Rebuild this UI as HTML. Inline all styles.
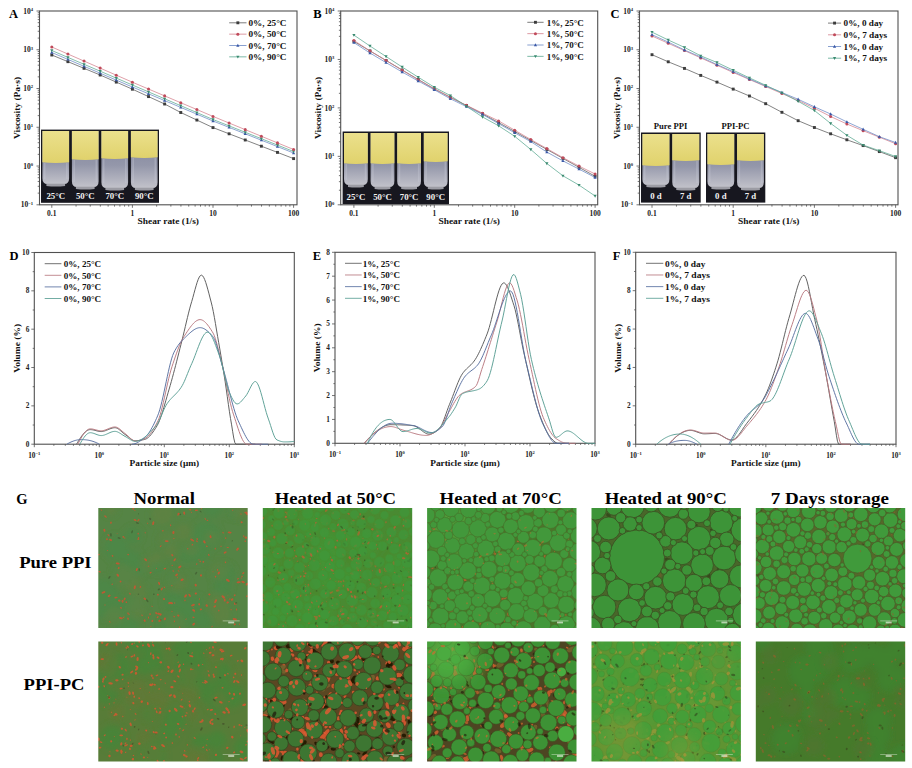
<!DOCTYPE html><html><head><meta charset="utf-8"><style>html,body{margin:0;padding:0;background:#fff;width:912px;height:768px;overflow:hidden}svg{display:block}</style></head><body>
<svg width="912" height="768" viewBox="0 0 912 768" font-family="Liberation Serif" font-weight="bold">
<defs><linearGradient id="yel" x1="0" y1="0" x2="0" y2="1"><stop offset="0" stop-color="#ebe08c"/><stop offset="1" stop-color="#e0d26c"/></linearGradient><linearGradient id="glass" x1="0" y1="0" x2="0" y2="1"><stop offset="0" stop-color="#7c8098"/><stop offset="0.6" stop-color="#9497aa"/><stop offset="1" stop-color="#c2c2ca"/></linearGradient><filter id="blur6" x="-50%" y="-50%" width="200%" height="200%"><feGaussianBlur stdDeviation="8"/></filter><filter id="blur3" x="-50%" y="-50%" width="200%" height="200%"><feGaussianBlur stdDeviation="3"/></filter><filter id="sblur" x="-20%" y="-20%" width="140%" height="140%"><feGaussianBlur stdDeviation="0.6"/></filter><filter id="mblur" x="-2%" y="-2%" width="104%" height="104%"><feGaussianBlur stdDeviation="0.6"/></filter></defs>
<rect width="912" height="768" fill="#fff"/>
<rect x="39.5" y="11" width="257.5" height="193.8" fill="none" stroke="#505050" stroke-width="1.1"/>
<path d="M51.8 204.8v3 M76.06 204.8v1.8 M90.26 204.8v1.8 M100.33 204.8v1.8 M108.14 204.8v1.8 M114.52 204.8v1.8 M119.91 204.8v1.8 M124.59 204.8v1.8 M128.71 204.8v1.8 M132.4 204.8v3 M156.66 204.8v1.8 M170.86 204.8v1.8 M180.93 204.8v1.8 M188.74 204.8v1.8 M195.12 204.8v1.8 M200.51 204.8v1.8 M205.19 204.8v1.8 M209.31 204.8v1.8 M213 204.8v3 M237.26 204.8v1.8 M251.46 204.8v1.8 M261.53 204.8v1.8 M269.34 204.8v1.8 M275.72 204.8v1.8 M281.11 204.8v1.8 M285.79 204.8v1.8 M289.91 204.8v1.8 M293.6 204.8v3 M39.5 204.8h-3 M39.5 193.13h-1.8 M39.5 186.31h-1.8 M39.5 181.46h-1.8 M39.5 177.71h-1.8 M39.5 174.64h-1.8 M39.5 172.04h-1.8 M39.5 169.8h-1.8 M39.5 167.81h-1.8 M39.5 166.04h-3 M39.5 154.37h-1.8 M39.5 147.55h-1.8 M39.5 142.7h-1.8 M39.5 138.95h-1.8 M39.5 135.88h-1.8 M39.5 133.28h-1.8 M39.5 131.04h-1.8 M39.5 129.05h-1.8 M39.5 127.28h-3 M39.5 115.61h-1.8 M39.5 108.79h-1.8 M39.5 103.94h-1.8 M39.5 100.19h-1.8 M39.5 97.12h-1.8 M39.5 94.52h-1.8 M39.5 92.28h-1.8 M39.5 90.29h-1.8 M39.5 88.52h-3 M39.5 76.85h-1.8 M39.5 70.03h-1.8 M39.5 65.18h-1.8 M39.5 61.43h-1.8 M39.5 58.36h-1.8 M39.5 55.76h-1.8 M39.5 53.52h-1.8 M39.5 51.53h-1.8 M39.5 49.76h-3 M39.5 38.09h-1.8 M39.5 31.27h-1.8 M39.5 26.42h-1.8 M39.5 22.67h-1.8 M39.5 19.6h-1.8 M39.5 17h-1.8 M39.5 14.76h-1.8 M39.5 12.77h-1.8 M39.5 11h-3" stroke="#505050" stroke-width="0.8" fill="none"/>
<text x="51.8" y="216.4" font-size="7.5" text-anchor="middle" fill="#222" >0.1</text>
<text x="132.4" y="216.4" font-size="7.5" text-anchor="middle" fill="#222" >1</text>
<text x="213" y="216.4" font-size="7.5" text-anchor="middle" fill="#222" >10</text>
<text x="293.6" y="216.4" font-size="7.5" text-anchor="middle" fill="#222" >100</text>
<text x="33.2" y="207.4" font-size="7.5" text-anchor="end" fill="#222">10<tspan font-size="4.65" dy="-2.85">−1</tspan></text>
<text x="33.2" y="168.64" font-size="7.5" text-anchor="end" fill="#222">10<tspan font-size="4.65" dy="-2.85">0</tspan></text>
<text x="33.2" y="129.88" font-size="7.5" text-anchor="end" fill="#222">10<tspan font-size="4.65" dy="-2.85">1</tspan></text>
<text x="33.2" y="91.12" font-size="7.5" text-anchor="end" fill="#222">10<tspan font-size="4.65" dy="-2.85">2</tspan></text>
<text x="33.2" y="52.36" font-size="7.5" text-anchor="end" fill="#222">10<tspan font-size="4.65" dy="-2.85">3</tspan></text>
<text x="33.2" y="13.6" font-size="7.5" text-anchor="end" fill="#222">10<tspan font-size="4.65" dy="-2.85">4</tspan></text>
<text x="168.25" y="224" font-size="9.2" text-anchor="middle" fill="#111" textLength="61.5" lengthAdjust="spacingAndGlyphs">Shear rate (1/s)</text>
<text x="0" y="0" font-size="9.2" text-anchor="middle" fill="#111" transform="translate(19.7,107.9) rotate(-90)" textLength="62" lengthAdjust="spacingAndGlyphs">Viscosity (Pa·s)</text>
<text x="9.1" y="18.4" font-size="12.5" text-anchor="start" fill="#000" >A</text>
<path d="M51.8 55 L67.92 61.67 L84.04 68.33 L100.16 75 L116.28 82.1 L132.4 89.2 L148.52 96.6 L164.64 104 L180.76 112.5 L196.88 120.05 L213 127.6 L229.12 133.8 L245.24 140 L261.36 146.2 L277.48 152.4 L293.6 158.6" stroke="#5a5a5a" stroke-width="0.75" fill="none"/>
<rect x="50.35" y="53.55" width="2.9" height="2.9" fill="#3c3c3c"/>
<rect x="66.47" y="60.22" width="2.9" height="2.9" fill="#3c3c3c"/>
<rect x="82.59" y="66.88" width="2.9" height="2.9" fill="#3c3c3c"/>
<rect x="98.71" y="73.55" width="2.9" height="2.9" fill="#3c3c3c"/>
<rect x="114.83" y="80.65" width="2.9" height="2.9" fill="#3c3c3c"/>
<rect x="130.95" y="87.75" width="2.9" height="2.9" fill="#3c3c3c"/>
<rect x="147.07" y="95.15" width="2.9" height="2.9" fill="#3c3c3c"/>
<rect x="163.19" y="102.55" width="2.9" height="2.9" fill="#3c3c3c"/>
<rect x="179.31" y="111.05" width="2.9" height="2.9" fill="#3c3c3c"/>
<rect x="195.43" y="118.6" width="2.9" height="2.9" fill="#3c3c3c"/>
<rect x="211.55" y="126.15" width="2.9" height="2.9" fill="#3c3c3c"/>
<rect x="227.67" y="132.35" width="2.9" height="2.9" fill="#3c3c3c"/>
<rect x="243.79" y="138.55" width="2.9" height="2.9" fill="#3c3c3c"/>
<rect x="259.91" y="144.75" width="2.9" height="2.9" fill="#3c3c3c"/>
<rect x="276.03" y="150.95" width="2.9" height="2.9" fill="#3c3c3c"/>
<rect x="292.15" y="157.15" width="2.9" height="2.9" fill="#3c3c3c"/>
<path d="M51.8 52.5 L67.92 59.4 L84.04 66.3 L100.16 73.2 L116.28 80.1 L132.4 87 L148.52 93.8 L164.64 100.6 L180.76 107.4 L196.88 114.2 L213 121 L229.12 127.4 L245.24 133.8 L261.36 140.2 L277.48 146.6 L293.6 153" stroke="#6a88c4" stroke-width="0.75" fill="none"/>
<path d="M51.8 50.76L53.39 53.66L50.2 53.66Z" fill="#3a58a6"/>
<path d="M67.92 57.66L69.51 60.56L66.32 60.56Z" fill="#3a58a6"/>
<path d="M84.04 64.56L85.63 67.46L82.44 67.46Z" fill="#3a58a6"/>
<path d="M100.16 71.46L101.75 74.36L98.56 74.36Z" fill="#3a58a6"/>
<path d="M116.28 78.36L117.87 81.26L114.68 81.26Z" fill="#3a58a6"/>
<path d="M132.4 85.26L133.99 88.16L130.8 88.16Z" fill="#3a58a6"/>
<path d="M148.52 92.06L150.11 94.96L146.92 94.96Z" fill="#3a58a6"/>
<path d="M164.64 98.86L166.23 101.76L163.04 101.76Z" fill="#3a58a6"/>
<path d="M180.76 105.66L182.35 108.56L179.16 108.56Z" fill="#3a58a6"/>
<path d="M196.88 112.46L198.47 115.36L195.28 115.36Z" fill="#3a58a6"/>
<path d="M213 119.26L214.59 122.16L211.4 122.16Z" fill="#3a58a6"/>
<path d="M229.12 125.66L230.71 128.56L227.52 128.56Z" fill="#3a58a6"/>
<path d="M245.24 132.06L246.83 134.96L243.64 134.96Z" fill="#3a58a6"/>
<path d="M261.36 138.46L262.95 141.36L259.76 141.36Z" fill="#3a58a6"/>
<path d="M277.48 144.86L279.07 147.76L275.88 147.76Z" fill="#3a58a6"/>
<path d="M293.6 151.26L295.19 154.16L292 154.16Z" fill="#3a58a6"/>
<path d="M51.8 50.5 L67.92 57.4 L84.04 64.3 L100.16 71.2 L116.28 78.1 L132.4 85 L148.52 91.9 L164.64 98.8 L180.76 105.7 L196.88 112.6 L213 119.5 L229.12 125.9 L245.24 132.3 L261.36 138.7 L277.48 145.1 L293.6 151.5" stroke="#5aa890" stroke-width="0.75" fill="none"/>
<path d="M51.8 52.24L53.39 49.34L50.2 49.34Z" fill="#3a8a70"/>
<path d="M67.92 59.14L69.51 56.24L66.32 56.24Z" fill="#3a8a70"/>
<path d="M84.04 66.04L85.63 63.14L82.44 63.14Z" fill="#3a8a70"/>
<path d="M100.16 72.94L101.75 70.04L98.56 70.04Z" fill="#3a8a70"/>
<path d="M116.28 79.84L117.87 76.94L114.68 76.94Z" fill="#3a8a70"/>
<path d="M132.4 86.74L133.99 83.84L130.8 83.84Z" fill="#3a8a70"/>
<path d="M148.52 93.64L150.11 90.74L146.92 90.74Z" fill="#3a8a70"/>
<path d="M164.64 100.54L166.23 97.64L163.04 97.64Z" fill="#3a8a70"/>
<path d="M180.76 107.44L182.35 104.54L179.16 104.54Z" fill="#3a8a70"/>
<path d="M196.88 114.34L198.47 111.44L195.28 111.44Z" fill="#3a8a70"/>
<path d="M213 121.24L214.59 118.34L211.4 118.34Z" fill="#3a8a70"/>
<path d="M229.12 127.64L230.71 124.74L227.52 124.74Z" fill="#3a8a70"/>
<path d="M245.24 134.04L246.83 131.14L243.64 131.14Z" fill="#3a8a70"/>
<path d="M261.36 140.44L262.95 137.54L259.76 137.54Z" fill="#3a8a70"/>
<path d="M277.48 146.84L279.07 143.94L275.88 143.94Z" fill="#3a8a70"/>
<path d="M293.6 153.24L295.19 150.34L292 150.34Z" fill="#3a8a70"/>
<path d="M51.8 47 L67.92 54.04 L84.04 61.08 L100.16 68.12 L116.28 75.16 L132.4 82.2 L148.52 89.04 L164.64 95.88 L180.76 102.72 L196.88 109.56 L213 116.4 L229.12 123.02 L245.24 129.64 L261.36 136.26 L277.48 142.88 L293.6 149.5" stroke="#d4808c" stroke-width="0.75" fill="none"/>
<circle cx="51.8" cy="47" r="1.52" fill="#c04a5a"/>
<circle cx="67.92" cy="54.04" r="1.52" fill="#c04a5a"/>
<circle cx="84.04" cy="61.08" r="1.52" fill="#c04a5a"/>
<circle cx="100.16" cy="68.12" r="1.52" fill="#c04a5a"/>
<circle cx="116.28" cy="75.16" r="1.52" fill="#c04a5a"/>
<circle cx="132.4" cy="82.2" r="1.52" fill="#c04a5a"/>
<circle cx="148.52" cy="89.04" r="1.52" fill="#c04a5a"/>
<circle cx="164.64" cy="95.88" r="1.52" fill="#c04a5a"/>
<circle cx="180.76" cy="102.72" r="1.52" fill="#c04a5a"/>
<circle cx="196.88" cy="109.56" r="1.52" fill="#c04a5a"/>
<circle cx="213" cy="116.4" r="1.52" fill="#c04a5a"/>
<circle cx="229.12" cy="123.02" r="1.52" fill="#c04a5a"/>
<circle cx="245.24" cy="129.64" r="1.52" fill="#c04a5a"/>
<circle cx="261.36" cy="136.26" r="1.52" fill="#c04a5a"/>
<circle cx="277.48" cy="142.88" r="1.52" fill="#c04a5a"/>
<circle cx="293.6" cy="149.5" r="1.52" fill="#c04a5a"/>
<path d="M229.2 22.8H246.5" stroke="#5a5a5a" stroke-width="0.8"/>
<rect x="236.4" y="21.35" width="2.9" height="2.9" fill="#3c3c3c"/>
<text x="248.5" y="26" font-size="9" text-anchor="start" fill="#111" textLength="38" lengthAdjust="spacingAndGlyphs">0%, 25°C</text>
<path d="M229.2 34.15H246.5" stroke="#d4808c" stroke-width="0.8"/>
<circle cx="237.85" cy="34.15" r="1.52" fill="#c04a5a"/>
<text x="248.5" y="37.35" font-size="9" text-anchor="start" fill="#111" textLength="38" lengthAdjust="spacingAndGlyphs">0%, 50°C</text>
<path d="M229.2 45.5H246.5" stroke="#6a88c4" stroke-width="0.8"/>
<path d="M237.85 43.76L239.44 46.66L236.25 46.66Z" fill="#3a58a6"/>
<text x="248.5" y="48.7" font-size="9" text-anchor="start" fill="#111" textLength="38" lengthAdjust="spacingAndGlyphs">0%, 70°C</text>
<path d="M229.2 56.85H246.5" stroke="#5aa890" stroke-width="0.8"/>
<path d="M237.85 58.59L239.44 55.69L236.25 55.69Z" fill="#3a8a70"/>
<text x="248.5" y="60.05" font-size="9" text-anchor="start" fill="#111" textLength="38" lengthAdjust="spacingAndGlyphs">0%, 90°C</text>
<rect x="340.7" y="11" width="257" height="193.8" fill="none" stroke="#505050" stroke-width="1.1"/>
<path d="M353.9 204.8v3 M378.1 204.8v1.8 M392.26 204.8v1.8 M402.31 204.8v1.8 M410.1 204.8v1.8 M416.46 204.8v1.8 M421.85 204.8v1.8 M426.51 204.8v1.8 M430.62 204.8v1.8 M434.3 204.8v3 M458.5 204.8v1.8 M472.66 204.8v1.8 M482.71 204.8v1.8 M490.5 204.8v1.8 M496.86 204.8v1.8 M502.25 204.8v1.8 M506.91 204.8v1.8 M511.02 204.8v1.8 M514.7 204.8v3 M538.9 204.8v1.8 M553.06 204.8v1.8 M563.11 204.8v1.8 M570.9 204.8v1.8 M577.26 204.8v1.8 M582.65 204.8v1.8 M587.31 204.8v1.8 M591.42 204.8v1.8 M595.1 204.8v3 M340.7 204.8h-3 M340.7 190.22h-1.8 M340.7 181.68h-1.8 M340.7 175.63h-1.8 M340.7 170.93h-1.8 M340.7 167.1h-1.8 M340.7 163.85h-1.8 M340.7 161.05h-1.8 M340.7 158.57h-1.8 M340.7 156.35h-3 M340.7 141.77h-1.8 M340.7 133.23h-1.8 M340.7 127.18h-1.8 M340.7 122.48h-1.8 M340.7 118.65h-1.8 M340.7 115.4h-1.8 M340.7 112.6h-1.8 M340.7 110.12h-1.8 M340.7 107.9h-3 M340.7 93.32h-1.8 M340.7 84.78h-1.8 M340.7 78.73h-1.8 M340.7 74.03h-1.8 M340.7 70.2h-1.8 M340.7 66.95h-1.8 M340.7 64.15h-1.8 M340.7 61.67h-1.8 M340.7 59.45h-3 M340.7 44.87h-1.8 M340.7 36.33h-1.8 M340.7 30.28h-1.8 M340.7 25.58h-1.8 M340.7 21.75h-1.8 M340.7 18.5h-1.8 M340.7 15.7h-1.8 M340.7 13.22h-1.8 M340.7 11h-3" stroke="#505050" stroke-width="0.8" fill="none"/>
<text x="353.9" y="216.4" font-size="7.5" text-anchor="middle" fill="#222" >0.1</text>
<text x="434.3" y="216.4" font-size="7.5" text-anchor="middle" fill="#222" >1</text>
<text x="514.7" y="216.4" font-size="7.5" text-anchor="middle" fill="#222" >10</text>
<text x="595.1" y="216.4" font-size="7.5" text-anchor="middle" fill="#222" >100</text>
<text x="334.4" y="207.4" font-size="7.5" text-anchor="end" fill="#222">10<tspan font-size="4.65" dy="-2.85">0</tspan></text>
<text x="334.4" y="158.95" font-size="7.5" text-anchor="end" fill="#222">10<tspan font-size="4.65" dy="-2.85">1</tspan></text>
<text x="334.4" y="110.5" font-size="7.5" text-anchor="end" fill="#222">10<tspan font-size="4.65" dy="-2.85">2</tspan></text>
<text x="334.4" y="62.05" font-size="7.5" text-anchor="end" fill="#222">10<tspan font-size="4.65" dy="-2.85">3</tspan></text>
<text x="334.4" y="13.6" font-size="7.5" text-anchor="end" fill="#222">10<tspan font-size="4.65" dy="-2.85">4</tspan></text>
<text x="469.2" y="224" font-size="9.2" text-anchor="middle" fill="#111" textLength="61.5" lengthAdjust="spacingAndGlyphs">Shear rate (1/s)</text>
<text x="0" y="0" font-size="9.2" text-anchor="middle" fill="#111" transform="translate(320.9,107.9) rotate(-90)" textLength="62" lengthAdjust="spacingAndGlyphs">Viscosity (Pa·s)</text>
<text x="313.2" y="18.4" font-size="12.5" text-anchor="start" fill="#000" >B</text>
<path d="M353.9 41.4 L369.98 50.92 L386.06 60.44 L402.14 69.96 L418.22 79.48 L434.3 89 L450.38 97.27 L466.46 105.53 L482.54 113.8 L498.62 122.65 L514.7 131.5 L530.78 140.46 L546.86 149.42 L562.94 158.38 L579.02 167.34 L595.1 176.3" stroke="#5a5a5a" stroke-width="0.75" fill="none"/>
<rect x="352.45" y="39.95" width="2.9" height="2.9" fill="#3c3c3c"/>
<rect x="368.53" y="49.47" width="2.9" height="2.9" fill="#3c3c3c"/>
<rect x="384.61" y="58.99" width="2.9" height="2.9" fill="#3c3c3c"/>
<rect x="400.69" y="68.51" width="2.9" height="2.9" fill="#3c3c3c"/>
<rect x="416.77" y="78.03" width="2.9" height="2.9" fill="#3c3c3c"/>
<rect x="432.85" y="87.55" width="2.9" height="2.9" fill="#3c3c3c"/>
<rect x="448.93" y="95.82" width="2.9" height="2.9" fill="#3c3c3c"/>
<rect x="465.01" y="104.08" width="2.9" height="2.9" fill="#3c3c3c"/>
<rect x="481.09" y="112.35" width="2.9" height="2.9" fill="#3c3c3c"/>
<rect x="497.17" y="121.2" width="2.9" height="2.9" fill="#3c3c3c"/>
<rect x="513.25" y="130.05" width="2.9" height="2.9" fill="#3c3c3c"/>
<rect x="529.33" y="139.01" width="2.9" height="2.9" fill="#3c3c3c"/>
<rect x="545.41" y="147.97" width="2.9" height="2.9" fill="#3c3c3c"/>
<rect x="561.49" y="156.93" width="2.9" height="2.9" fill="#3c3c3c"/>
<rect x="577.57" y="165.89" width="2.9" height="2.9" fill="#3c3c3c"/>
<rect x="593.65" y="174.85" width="2.9" height="2.9" fill="#3c3c3c"/>
<path d="M353.9 40.4 L369.98 50.9 L386.06 60.5 L402.14 70.2 L418.22 79.8 L434.3 88.6 L450.38 97.4 L466.46 105.3 L482.54 113.2 L498.62 120.9 L514.7 130.2 L530.78 139.5 L546.86 148.6 L562.94 157.7 L579.02 166.1 L595.1 174" stroke="#d4808c" stroke-width="0.75" fill="none"/>
<circle cx="353.9" cy="40.4" r="1.52" fill="#c04a5a"/>
<circle cx="369.98" cy="50.9" r="1.52" fill="#c04a5a"/>
<circle cx="386.06" cy="60.5" r="1.52" fill="#c04a5a"/>
<circle cx="402.14" cy="70.2" r="1.52" fill="#c04a5a"/>
<circle cx="418.22" cy="79.8" r="1.52" fill="#c04a5a"/>
<circle cx="434.3" cy="88.6" r="1.52" fill="#c04a5a"/>
<circle cx="450.38" cy="97.4" r="1.52" fill="#c04a5a"/>
<circle cx="466.46" cy="105.3" r="1.52" fill="#c04a5a"/>
<circle cx="482.54" cy="113.2" r="1.52" fill="#c04a5a"/>
<circle cx="498.62" cy="120.9" r="1.52" fill="#c04a5a"/>
<circle cx="514.7" cy="130.2" r="1.52" fill="#c04a5a"/>
<circle cx="530.78" cy="139.5" r="1.52" fill="#c04a5a"/>
<circle cx="546.86" cy="148.6" r="1.52" fill="#c04a5a"/>
<circle cx="562.94" cy="157.7" r="1.52" fill="#c04a5a"/>
<circle cx="579.02" cy="166.1" r="1.52" fill="#c04a5a"/>
<circle cx="595.1" cy="174" r="1.52" fill="#c04a5a"/>
<path d="M353.9 42.6 L369.98 53 L386.06 62.6 L402.14 72 L418.22 81 L434.3 89.8 L450.38 98.8 L466.46 106.65 L482.54 114.5 L498.62 123.65 L514.7 132.8 L530.78 141.6 L546.86 152.1 L562.94 160.9 L579.02 169.1 L595.1 177.5" stroke="#6a88c4" stroke-width="0.75" fill="none"/>
<path d="M353.9 40.86L355.5 43.76L352.3 43.76Z" fill="#3a58a6"/>
<path d="M369.98 51.26L371.57 54.16L368.38 54.16Z" fill="#3a58a6"/>
<path d="M386.06 60.86L387.65 63.76L384.46 63.76Z" fill="#3a58a6"/>
<path d="M402.14 70.26L403.74 73.16L400.54 73.16Z" fill="#3a58a6"/>
<path d="M418.22 79.26L419.81 82.16L416.62 82.16Z" fill="#3a58a6"/>
<path d="M434.3 88.06L435.89 90.96L432.7 90.96Z" fill="#3a58a6"/>
<path d="M450.38 97.06L451.98 99.96L448.78 99.96Z" fill="#3a58a6"/>
<path d="M466.46 104.91L468.06 107.81L464.86 107.81Z" fill="#3a58a6"/>
<path d="M482.54 112.76L484.13 115.66L480.94 115.66Z" fill="#3a58a6"/>
<path d="M498.62 121.91L500.21 124.81L497.02 124.81Z" fill="#3a58a6"/>
<path d="M514.7 131.06L516.29 133.96L513.1 133.96Z" fill="#3a58a6"/>
<path d="M530.78 139.86L532.38 142.76L529.18 142.76Z" fill="#3a58a6"/>
<path d="M546.86 150.36L548.45 153.26L545.26 153.26Z" fill="#3a58a6"/>
<path d="M562.94 159.16L564.53 162.06L561.34 162.06Z" fill="#3a58a6"/>
<path d="M579.02 167.36L580.62 170.26L577.42 170.26Z" fill="#3a58a6"/>
<path d="M595.1 175.76L596.69 178.66L593.5 178.66Z" fill="#3a58a6"/>
<path d="M353.9 35.1 L369.98 46 L386.06 56.5 L402.14 67 L418.22 77.2 L434.3 87.2 L450.38 95.6 L466.46 106.3 L482.54 117 L498.62 125.8 L514.7 136.3 L530.78 149.5 L546.86 163.5 L562.94 175.8 L579.02 185.1 L595.1 196" stroke="#5aa890" stroke-width="0.75" fill="none"/>
<path d="M353.9 36.84L355.5 33.94L352.3 33.94Z" fill="#3a8a70"/>
<path d="M369.98 47.74L371.57 44.84L368.38 44.84Z" fill="#3a8a70"/>
<path d="M386.06 58.24L387.65 55.34L384.46 55.34Z" fill="#3a8a70"/>
<path d="M402.14 68.74L403.74 65.84L400.54 65.84Z" fill="#3a8a70"/>
<path d="M418.22 78.94L419.81 76.04L416.62 76.04Z" fill="#3a8a70"/>
<path d="M434.3 88.94L435.89 86.04L432.7 86.04Z" fill="#3a8a70"/>
<path d="M450.38 97.34L451.98 94.44L448.78 94.44Z" fill="#3a8a70"/>
<path d="M466.46 108.04L468.06 105.14L464.86 105.14Z" fill="#3a8a70"/>
<path d="M482.54 118.74L484.13 115.84L480.94 115.84Z" fill="#3a8a70"/>
<path d="M498.62 127.54L500.21 124.64L497.02 124.64Z" fill="#3a8a70"/>
<path d="M514.7 138.04L516.29 135.14L513.1 135.14Z" fill="#3a8a70"/>
<path d="M530.78 151.24L532.38 148.34L529.18 148.34Z" fill="#3a8a70"/>
<path d="M546.86 165.24L548.45 162.34L545.26 162.34Z" fill="#3a8a70"/>
<path d="M562.94 177.54L564.53 174.64L561.34 174.64Z" fill="#3a8a70"/>
<path d="M579.02 186.84L580.62 183.94L577.42 183.94Z" fill="#3a8a70"/>
<path d="M595.1 197.74L596.69 194.84L593.5 194.84Z" fill="#3a8a70"/>
<path d="M527.3 22.3H543.6" stroke="#5a5a5a" stroke-width="0.8"/>
<rect x="534" y="20.85" width="2.9" height="2.9" fill="#3c3c3c"/>
<text x="546.7" y="25.5" font-size="9" text-anchor="start" fill="#111" textLength="37.1" lengthAdjust="spacingAndGlyphs">1%, 25°C</text>
<path d="M527.3 33.65H543.6" stroke="#d4808c" stroke-width="0.8"/>
<circle cx="535.45" cy="33.65" r="1.52" fill="#c04a5a"/>
<text x="546.7" y="36.85" font-size="9" text-anchor="start" fill="#111" textLength="37.1" lengthAdjust="spacingAndGlyphs">1%, 50°C</text>
<path d="M527.3 45H543.6" stroke="#6a88c4" stroke-width="0.8"/>
<path d="M535.45 43.26L537.05 46.16L533.86 46.16Z" fill="#3a58a6"/>
<text x="546.7" y="48.2" font-size="9" text-anchor="start" fill="#111" textLength="37.1" lengthAdjust="spacingAndGlyphs">1%, 70°C</text>
<path d="M527.3 56.35H543.6" stroke="#5aa890" stroke-width="0.8"/>
<path d="M535.45 58.09L537.05 55.19L533.86 55.19Z" fill="#3a8a70"/>
<text x="546.7" y="59.55" font-size="9" text-anchor="start" fill="#111" textLength="37.1" lengthAdjust="spacingAndGlyphs">1%, 90°C</text>
<rect x="639.5" y="11" width="258.5" height="193.8" fill="none" stroke="#505050" stroke-width="1.1"/>
<path d="M652 204.8v3 M676.44 204.8v1.8 M690.74 204.8v1.8 M700.89 204.8v1.8 M708.76 204.8v1.8 M715.19 204.8v1.8 M720.62 204.8v1.8 M725.33 204.8v1.8 M729.48 204.8v1.8 M733.2 204.8v3 M757.64 204.8v1.8 M771.94 204.8v1.8 M782.09 204.8v1.8 M789.96 204.8v1.8 M796.39 204.8v1.8 M801.82 204.8v1.8 M806.53 204.8v1.8 M810.68 204.8v1.8 M814.4 204.8v3 M838.84 204.8v1.8 M853.14 204.8v1.8 M863.29 204.8v1.8 M871.16 204.8v1.8 M877.59 204.8v1.8 M883.02 204.8v1.8 M887.73 204.8v1.8 M891.88 204.8v1.8 M895.6 204.8v3 M639.5 204.8h-3 M639.5 193.13h-1.8 M639.5 186.31h-1.8 M639.5 181.46h-1.8 M639.5 177.71h-1.8 M639.5 174.64h-1.8 M639.5 172.04h-1.8 M639.5 169.8h-1.8 M639.5 167.81h-1.8 M639.5 166.04h-3 M639.5 154.37h-1.8 M639.5 147.55h-1.8 M639.5 142.7h-1.8 M639.5 138.95h-1.8 M639.5 135.88h-1.8 M639.5 133.28h-1.8 M639.5 131.04h-1.8 M639.5 129.05h-1.8 M639.5 127.28h-3 M639.5 115.61h-1.8 M639.5 108.79h-1.8 M639.5 103.94h-1.8 M639.5 100.19h-1.8 M639.5 97.12h-1.8 M639.5 94.52h-1.8 M639.5 92.28h-1.8 M639.5 90.29h-1.8 M639.5 88.52h-3 M639.5 76.85h-1.8 M639.5 70.03h-1.8 M639.5 65.18h-1.8 M639.5 61.43h-1.8 M639.5 58.36h-1.8 M639.5 55.76h-1.8 M639.5 53.52h-1.8 M639.5 51.53h-1.8 M639.5 49.76h-3 M639.5 38.09h-1.8 M639.5 31.27h-1.8 M639.5 26.42h-1.8 M639.5 22.67h-1.8 M639.5 19.6h-1.8 M639.5 17h-1.8 M639.5 14.76h-1.8 M639.5 12.77h-1.8 M639.5 11h-3" stroke="#505050" stroke-width="0.8" fill="none"/>
<text x="652" y="216.4" font-size="7.5" text-anchor="middle" fill="#222" >0.1</text>
<text x="733.2" y="216.4" font-size="7.5" text-anchor="middle" fill="#222" >1</text>
<text x="814.4" y="216.4" font-size="7.5" text-anchor="middle" fill="#222" >10</text>
<text x="895.6" y="216.4" font-size="7.5" text-anchor="middle" fill="#222" >100</text>
<text x="633.2" y="207.4" font-size="7.5" text-anchor="end" fill="#222">10<tspan font-size="4.65" dy="-2.85">−1</tspan></text>
<text x="633.2" y="168.64" font-size="7.5" text-anchor="end" fill="#222">10<tspan font-size="4.65" dy="-2.85">0</tspan></text>
<text x="633.2" y="129.88" font-size="7.5" text-anchor="end" fill="#222">10<tspan font-size="4.65" dy="-2.85">1</tspan></text>
<text x="633.2" y="91.12" font-size="7.5" text-anchor="end" fill="#222">10<tspan font-size="4.65" dy="-2.85">2</tspan></text>
<text x="633.2" y="52.36" font-size="7.5" text-anchor="end" fill="#222">10<tspan font-size="4.65" dy="-2.85">3</tspan></text>
<text x="633.2" y="13.6" font-size="7.5" text-anchor="end" fill="#222">10<tspan font-size="4.65" dy="-2.85">4</tspan></text>
<text x="768.75" y="224" font-size="9.2" text-anchor="middle" fill="#111" textLength="61.5" lengthAdjust="spacingAndGlyphs">Shear rate (1/s)</text>
<text x="0" y="0" font-size="9.2" text-anchor="middle" fill="#111" transform="translate(619.7,107.9) rotate(-90)" textLength="62" lengthAdjust="spacingAndGlyphs">Viscosity (Pa·s)</text>
<text x="610.5" y="18.4" font-size="12.5" text-anchor="start" fill="#000" >C</text>
<path d="M652 54.7 L668.24 61.8 L684.48 68.4 L700.72 75.4 L716.96 82.1 L733.2 89.1 L749.44 96 L765.68 103.7 L781.92 112.3 L798.16 120.7 L814.4 127.5 L830.64 133.8 L846.88 139.8 L863.12 145.6 L879.36 151.6 L895.6 157.7" stroke="#5a5a5a" stroke-width="0.75" fill="none"/>
<rect x="650.55" y="53.25" width="2.9" height="2.9" fill="#3c3c3c"/>
<rect x="666.79" y="60.35" width="2.9" height="2.9" fill="#3c3c3c"/>
<rect x="683.03" y="66.95" width="2.9" height="2.9" fill="#3c3c3c"/>
<rect x="699.27" y="73.95" width="2.9" height="2.9" fill="#3c3c3c"/>
<rect x="715.51" y="80.65" width="2.9" height="2.9" fill="#3c3c3c"/>
<rect x="731.75" y="87.65" width="2.9" height="2.9" fill="#3c3c3c"/>
<rect x="747.99" y="94.55" width="2.9" height="2.9" fill="#3c3c3c"/>
<rect x="764.23" y="102.25" width="2.9" height="2.9" fill="#3c3c3c"/>
<rect x="780.47" y="110.85" width="2.9" height="2.9" fill="#3c3c3c"/>
<rect x="796.71" y="119.25" width="2.9" height="2.9" fill="#3c3c3c"/>
<rect x="812.95" y="126.05" width="2.9" height="2.9" fill="#3c3c3c"/>
<rect x="829.19" y="132.35" width="2.9" height="2.9" fill="#3c3c3c"/>
<rect x="845.43" y="138.35" width="2.9" height="2.9" fill="#3c3c3c"/>
<rect x="861.67" y="144.15" width="2.9" height="2.9" fill="#3c3c3c"/>
<rect x="877.91" y="150.15" width="2.9" height="2.9" fill="#3c3c3c"/>
<rect x="894.15" y="156.25" width="2.9" height="2.9" fill="#3c3c3c"/>
<path d="M652 36 L668.24 43.3 L684.48 50.6 L700.72 57.9 L716.96 65.2 L733.2 72.5 L749.44 79.5 L765.68 86.5 L781.92 93.5 L798.16 100.5 L814.4 108.2 L830.64 116.5 L846.88 124 L863.12 130.7 L879.36 137.2 L895.6 143.7" stroke="#d4808c" stroke-width="0.75" fill="none"/>
<circle cx="652" cy="36" r="1.52" fill="#c04a5a"/>
<circle cx="668.24" cy="43.3" r="1.52" fill="#c04a5a"/>
<circle cx="684.48" cy="50.6" r="1.52" fill="#c04a5a"/>
<circle cx="700.72" cy="57.9" r="1.52" fill="#c04a5a"/>
<circle cx="716.96" cy="65.2" r="1.52" fill="#c04a5a"/>
<circle cx="733.2" cy="72.5" r="1.52" fill="#c04a5a"/>
<circle cx="749.44" cy="79.5" r="1.52" fill="#c04a5a"/>
<circle cx="765.68" cy="86.5" r="1.52" fill="#c04a5a"/>
<circle cx="781.92" cy="93.5" r="1.52" fill="#c04a5a"/>
<circle cx="798.16" cy="100.5" r="1.52" fill="#c04a5a"/>
<circle cx="814.4" cy="108.2" r="1.52" fill="#c04a5a"/>
<circle cx="830.64" cy="116.5" r="1.52" fill="#c04a5a"/>
<circle cx="846.88" cy="124" r="1.52" fill="#c04a5a"/>
<circle cx="863.12" cy="130.7" r="1.52" fill="#c04a5a"/>
<circle cx="879.36" cy="137.2" r="1.52" fill="#c04a5a"/>
<circle cx="895.6" cy="143.7" r="1.52" fill="#c04a5a"/>
<path d="M652 34.7 L668.24 42.1 L684.48 50 L700.72 57 L716.96 64.6 L733.2 71.6 L749.44 79 L765.68 86 L781.92 92.5 L798.16 99.3 L814.4 106.8 L830.64 114 L846.88 121.9 L863.12 129.3 L879.36 136.7 L895.6 142.5" stroke="#6a88c4" stroke-width="0.75" fill="none"/>
<path d="M652 32.96L653.6 35.86L650.4 35.86Z" fill="#3a58a6"/>
<path d="M668.24 40.36L669.84 43.26L666.64 43.26Z" fill="#3a58a6"/>
<path d="M684.48 48.26L686.08 51.16L682.88 51.16Z" fill="#3a58a6"/>
<path d="M700.72 55.26L702.32 58.16L699.12 58.16Z" fill="#3a58a6"/>
<path d="M716.96 62.86L718.56 65.76L715.37 65.76Z" fill="#3a58a6"/>
<path d="M733.2 69.86L734.8 72.76L731.61 72.76Z" fill="#3a58a6"/>
<path d="M749.44 77.26L751.03 80.16L747.84 80.16Z" fill="#3a58a6"/>
<path d="M765.68 84.26L767.27 87.16L764.08 87.16Z" fill="#3a58a6"/>
<path d="M781.92 90.76L783.51 93.66L780.32 93.66Z" fill="#3a58a6"/>
<path d="M798.16 97.56L799.75 100.46L796.56 100.46Z" fill="#3a58a6"/>
<path d="M814.4 105.06L816 107.96L812.8 107.96Z" fill="#3a58a6"/>
<path d="M830.64 112.26L832.24 115.16L829.04 115.16Z" fill="#3a58a6"/>
<path d="M846.88 120.16L848.48 123.06L845.28 123.06Z" fill="#3a58a6"/>
<path d="M863.12 127.56L864.72 130.46L861.52 130.46Z" fill="#3a58a6"/>
<path d="M879.36 134.96L880.95 137.86L877.76 137.86Z" fill="#3a58a6"/>
<path d="M895.6 140.76L897.19 143.66L894 143.66Z" fill="#3a58a6"/>
<path d="M652 32.1 L668.24 40 L684.48 47.4 L700.72 55.8 L716.96 62.5 L733.2 70.2 L749.44 77.9 L765.68 85.3 L781.92 92.8 L798.16 101.3 L814.4 110.5 L830.64 123.4 L846.88 135.3 L863.12 145.1 L879.36 150.7 L895.6 156.5" stroke="#5aa890" stroke-width="0.75" fill="none"/>
<path d="M652 33.84L653.6 30.94L650.4 30.94Z" fill="#3a8a70"/>
<path d="M668.24 41.74L669.84 38.84L666.64 38.84Z" fill="#3a8a70"/>
<path d="M684.48 49.14L686.08 46.24L682.88 46.24Z" fill="#3a8a70"/>
<path d="M700.72 57.54L702.32 54.64L699.12 54.64Z" fill="#3a8a70"/>
<path d="M716.96 64.24L718.56 61.34L715.37 61.34Z" fill="#3a8a70"/>
<path d="M733.2 71.94L734.8 69.04L731.61 69.04Z" fill="#3a8a70"/>
<path d="M749.44 79.64L751.03 76.74L747.84 76.74Z" fill="#3a8a70"/>
<path d="M765.68 87.04L767.27 84.14L764.08 84.14Z" fill="#3a8a70"/>
<path d="M781.92 94.54L783.51 91.64L780.32 91.64Z" fill="#3a8a70"/>
<path d="M798.16 103.04L799.75 100.14L796.56 100.14Z" fill="#3a8a70"/>
<path d="M814.4 112.24L816 109.34L812.8 109.34Z" fill="#3a8a70"/>
<path d="M830.64 125.14L832.24 122.24L829.04 122.24Z" fill="#3a8a70"/>
<path d="M846.88 137.04L848.48 134.14L845.28 134.14Z" fill="#3a8a70"/>
<path d="M863.12 146.84L864.72 143.94L861.52 143.94Z" fill="#3a8a70"/>
<path d="M879.36 152.44L880.95 149.54L877.76 149.54Z" fill="#3a8a70"/>
<path d="M895.6 158.24L897.19 155.34L894 155.34Z" fill="#3a8a70"/>
<path d="M828 23.1H841.1" stroke="#5a5a5a" stroke-width="0.8"/>
<rect x="833.1" y="21.65" width="2.9" height="2.9" fill="#3c3c3c"/>
<text x="843.6" y="26.3" font-size="9" text-anchor="start" fill="#111" textLength="39.5" lengthAdjust="spacingAndGlyphs">0%, 0 day</text>
<path d="M828 34.8H841.1" stroke="#d4808c" stroke-width="0.8"/>
<circle cx="834.55" cy="34.8" r="1.52" fill="#c04a5a"/>
<text x="843.6" y="38" font-size="9" text-anchor="start" fill="#111" textLength="43.6" lengthAdjust="spacingAndGlyphs">0%, 7 days</text>
<path d="M828 46.5H841.1" stroke="#6a88c4" stroke-width="0.8"/>
<path d="M834.55 44.76L836.14 47.66L832.95 47.66Z" fill="#3a58a6"/>
<text x="843.6" y="49.7" font-size="9" text-anchor="start" fill="#111" textLength="39.5" lengthAdjust="spacingAndGlyphs">1%, 0 day</text>
<path d="M828 58.2H841.1" stroke="#5aa890" stroke-width="0.8"/>
<path d="M834.55 59.94L836.14 57.04L832.95 57.04Z" fill="#3a8a70"/>
<text x="843.6" y="61.4" font-size="9" text-anchor="start" fill="#111" textLength="43.6" lengthAdjust="spacingAndGlyphs">1%, 7 days</text>
<g>
<rect x="41" y="129.6" width="118" height="73.2" fill="#17171f"/>
<path d="M42.4 131.1H69.1V178Q69.1 184 64.1 184H47.4Q42.4 184 42.4 178Z" fill="url(#glass)"/>
<path d="M46.4 183H65.1V186Q55.75 187.2 46.4 186Z" fill="#b4b4bc" opacity="0.85"/>
<rect x="43.9" y="163" width="1.6" height="16" fill="#c8cad6" opacity="0.35"/>
<rect x="66" y="163" width="1.6" height="16" fill="#c8cad6" opacity="0.35"/>
<path d="M42.4 131.1H69.1V162.2Q55.75 163.8 42.4 162.2Z" fill="url(#yel)"/>
<text x="55.75" y="199" font-size="8.8" text-anchor="middle" fill="#f2f2f2" >25°C</text>
<path d="M71.9 131.1H98.6V181Q98.6 187 93.6 187H76.9Q71.9 187 71.9 181Z" fill="url(#glass)"/>
<path d="M75.9 186H94.6V189Q85.25 190.2 75.9 189Z" fill="#b4b4bc" opacity="0.85"/>
<rect x="73.4" y="160" width="1.6" height="22" fill="#c8cad6" opacity="0.35"/>
<rect x="95.5" y="160" width="1.6" height="22" fill="#c8cad6" opacity="0.35"/>
<path d="M71.9 131.1H98.6V159.2Q85.25 160.8 71.9 159.2Z" fill="url(#yel)"/>
<text x="85.25" y="199" font-size="8.8" text-anchor="middle" fill="#f2f2f2" >50°C</text>
<path d="M101.4 131.1H128.1V182Q128.1 188 123.1 188H106.4Q101.4 188 101.4 182Z" fill="url(#glass)"/>
<path d="M105.4 187H124.1V190Q114.75 191.2 105.4 190Z" fill="#b4b4bc" opacity="0.85"/>
<rect x="102.9" y="159" width="1.6" height="24" fill="#c8cad6" opacity="0.35"/>
<rect x="125" y="159" width="1.6" height="24" fill="#c8cad6" opacity="0.35"/>
<path d="M101.4 131.1H128.1V158.2Q114.75 159.8 101.4 158.2Z" fill="url(#yel)"/>
<text x="114.75" y="199" font-size="8.8" text-anchor="middle" fill="#f2f2f2" >70°C</text>
<path d="M130.9 131.1H157.6V182Q157.6 188 152.6 188H135.9Q130.9 188 130.9 182Z" fill="url(#glass)"/>
<path d="M134.9 187H153.6V190Q144.25 191.2 134.9 190Z" fill="#b4b4bc" opacity="0.85"/>
<rect x="132.4" y="158" width="1.6" height="25" fill="#c8cad6" opacity="0.35"/>
<rect x="154.5" y="158" width="1.6" height="25" fill="#c8cad6" opacity="0.35"/>
<path d="M130.9 131.1H157.6V157.2Q144.25 158.8 130.9 157.2Z" fill="url(#yel)"/>
<text x="144.25" y="199" font-size="8.8" text-anchor="middle" fill="#f2f2f2" >90°C</text>
</g>
<g>
<rect x="342.6" y="131.5" width="106.4" height="72.6" fill="#17171f"/>
<path d="M344 133H367.8V179Q367.8 185 362.8 185H349Q344 185 344 179Z" fill="url(#glass)"/>
<path d="M348 184H363.8V187Q355.9 188.2 348 187Z" fill="#b4b4bc" opacity="0.85"/>
<rect x="345.5" y="164" width="1.6" height="16" fill="#c8cad6" opacity="0.35"/>
<rect x="364.7" y="164" width="1.6" height="16" fill="#c8cad6" opacity="0.35"/>
<path d="M344 133H367.8V163.2Q355.9 164.8 344 163.2Z" fill="url(#yel)"/>
<text x="355.9" y="200.3" font-size="8.8" text-anchor="middle" fill="#f2f2f2" >25°C</text>
<path d="M370.6 133H394.4V181Q394.4 187 389.4 187H375.6Q370.6 187 370.6 181Z" fill="url(#glass)"/>
<path d="M374.6 186H390.4V189Q382.5 190.2 374.6 189Z" fill="#b4b4bc" opacity="0.85"/>
<rect x="372.1" y="164" width="1.6" height="18" fill="#c8cad6" opacity="0.35"/>
<rect x="391.3" y="164" width="1.6" height="18" fill="#c8cad6" opacity="0.35"/>
<path d="M370.6 133H394.4V163.2Q382.5 164.8 370.6 163.2Z" fill="url(#yel)"/>
<text x="382.5" y="200.3" font-size="8.8" text-anchor="middle" fill="#f2f2f2" >50°C</text>
<path d="M397.2 133H421V181Q421 187 416 187H402.2Q397.2 187 397.2 181Z" fill="url(#glass)"/>
<path d="M401.2 186H417V189Q409.1 190.2 401.2 189Z" fill="#b4b4bc" opacity="0.85"/>
<rect x="398.7" y="164" width="1.6" height="18" fill="#c8cad6" opacity="0.35"/>
<rect x="417.9" y="164" width="1.6" height="18" fill="#c8cad6" opacity="0.35"/>
<path d="M397.2 133H421V163.2Q409.1 164.8 397.2 163.2Z" fill="url(#yel)"/>
<text x="409.1" y="200.3" font-size="8.8" text-anchor="middle" fill="#f2f2f2" >70°C</text>
<path d="M423.8 133H447.6V181Q447.6 187 442.6 187H428.8Q423.8 187 423.8 181Z" fill="url(#glass)"/>
<path d="M427.8 186H443.6V189Q435.7 190.2 427.8 189Z" fill="#b4b4bc" opacity="0.85"/>
<rect x="425.3" y="162" width="1.6" height="20" fill="#c8cad6" opacity="0.35"/>
<rect x="444.5" y="162" width="1.6" height="20" fill="#c8cad6" opacity="0.35"/>
<path d="M423.8 133H447.6V161.2Q435.7 162.8 423.8 161.2Z" fill="url(#yel)"/>
<text x="435.7" y="200.3" font-size="8.8" text-anchor="middle" fill="#f2f2f2" >90°C</text>
</g>
<g>
<rect x="641" y="132.5" width="59.7" height="70.1" fill="#17171f"/>
<path d="M642.4 134H669.45V179Q669.45 185 664.45 185H647.4Q642.4 185 642.4 179Z" fill="url(#glass)"/>
<path d="M646.4 184H665.45V187Q655.92 188.2 646.4 187Z" fill="#b4b4bc" opacity="0.85"/>
<rect x="643.9" y="166" width="1.6" height="14" fill="#c8cad6" opacity="0.35"/>
<rect x="666.35" y="166" width="1.6" height="14" fill="#c8cad6" opacity="0.35"/>
<path d="M642.4 134H669.45V165.2Q655.92 166.8 642.4 165.2Z" fill="url(#yel)"/>
<text x="655.92" y="198.8" font-size="8.8" text-anchor="middle" fill="#f2f2f2" >0 d</text>
<path d="M672.25 134H699.3V182Q699.3 188 694.3 188H677.25Q672.25 188 672.25 182Z" fill="url(#glass)"/>
<path d="M676.25 187H695.3V190Q685.77 191.2 676.25 190Z" fill="#b4b4bc" opacity="0.85"/>
<rect x="673.75" y="161" width="1.6" height="22" fill="#c8cad6" opacity="0.35"/>
<rect x="696.2" y="161" width="1.6" height="22" fill="#c8cad6" opacity="0.35"/>
<path d="M672.25 134H699.3V160.2Q685.77 161.8 672.25 160.2Z" fill="url(#yel)"/>
<text x="685.77" y="198.8" font-size="8.8" text-anchor="middle" fill="#f2f2f2" >7 d</text>
</g>
<g>
<rect x="706" y="132.5" width="59.3" height="70.1" fill="#17171f"/>
<path d="M707.4 134H734.25V181Q734.25 187 729.25 187H712.4Q707.4 187 707.4 181Z" fill="url(#glass)"/>
<path d="M711.4 186H730.25V189Q720.82 190.2 711.4 189Z" fill="#b4b4bc" opacity="0.85"/>
<rect x="708.9" y="165" width="1.6" height="17" fill="#c8cad6" opacity="0.35"/>
<rect x="731.15" y="165" width="1.6" height="17" fill="#c8cad6" opacity="0.35"/>
<path d="M707.4 134H734.25V164.2Q720.82 165.8 707.4 164.2Z" fill="url(#yel)"/>
<text x="720.83" y="198.8" font-size="8.8" text-anchor="middle" fill="#f2f2f2" >0 d</text>
<path d="M737.05 134H763.9V182Q763.9 188 758.9 188H742.05Q737.05 188 737.05 182Z" fill="url(#glass)"/>
<path d="M741.05 187H759.9V190Q750.47 191.2 741.05 190Z" fill="#b4b4bc" opacity="0.85"/>
<rect x="738.55" y="161" width="1.6" height="22" fill="#c8cad6" opacity="0.35"/>
<rect x="760.8" y="161" width="1.6" height="22" fill="#c8cad6" opacity="0.35"/>
<path d="M737.05 134H763.9V160.2Q750.47 161.8 737.05 160.2Z" fill="url(#yel)"/>
<text x="750.48" y="198.8" font-size="8.8" text-anchor="middle" fill="#f2f2f2" >7 d</text>
</g>
<text x="670.5" y="128.5" font-size="8.6" text-anchor="middle" fill="#111" >Pure PPI</text>
<text x="735.5" y="128.5" font-size="8.6" text-anchor="middle" fill="#111" >PPI-PC</text>
<rect x="34.3" y="252.5" width="260" height="191.7" fill="none" stroke="#505050" stroke-width="1.1"/>
<path d="M34.3 444.2v3 M53.87 444.2v1.6 M65.31 444.2v1.6 M73.43 444.2v1.6 M79.73 444.2v1.6 M84.88 444.2v1.6 M89.23 444.2v1.6 M93 444.2v1.6 M96.33 444.2v1.6 M99.3 444.2v3 M118.87 444.2v1.6 M130.31 444.2v1.6 M138.43 444.2v1.6 M144.73 444.2v1.6 M149.88 444.2v1.6 M154.23 444.2v1.6 M158 444.2v1.6 M161.33 444.2v1.6 M164.3 444.2v3 M183.87 444.2v1.6 M195.31 444.2v1.6 M203.43 444.2v1.6 M209.73 444.2v1.6 M214.88 444.2v1.6 M219.23 444.2v1.6 M223 444.2v1.6 M226.33 444.2v1.6 M229.3 444.2v3 M248.87 444.2v1.6 M260.31 444.2v1.6 M268.43 444.2v1.6 M274.73 444.2v1.6 M279.88 444.2v1.6 M284.23 444.2v1.6 M288 444.2v1.6 M291.33 444.2v1.6 M294.3 444.2v3 M34.3 444.2h-3 M34.3 425.03h-1.6 M34.3 405.86h-3 M34.3 386.69h-1.6 M34.3 367.52h-3 M34.3 348.35h-1.6 M34.3 329.18h-3 M34.3 310.01h-1.6 M34.3 290.84h-3 M34.3 271.67h-1.6 M34.3 252.5h-3" stroke="#505050" stroke-width="0.8" fill="none"/>
<text x="34.3" y="457.7" font-size="7.3" text-anchor="middle" fill="#222">10<tspan font-size="4.53" dy="-2.77">−1</tspan></text>
<text x="99.3" y="457.7" font-size="7.3" text-anchor="middle" fill="#222">10<tspan font-size="4.53" dy="-2.77">0</tspan></text>
<text x="164.3" y="457.7" font-size="7.3" text-anchor="middle" fill="#222">10<tspan font-size="4.53" dy="-2.77">1</tspan></text>
<text x="229.3" y="457.7" font-size="7.3" text-anchor="middle" fill="#222">10<tspan font-size="4.53" dy="-2.77">2</tspan></text>
<text x="294.3" y="457.7" font-size="7.3" text-anchor="middle" fill="#222">10<tspan font-size="4.53" dy="-2.77">3</tspan></text>
<text x="29.3" y="446.7" font-size="7.3" text-anchor="end" fill="#222" >0</text>
<text x="29.3" y="408.36" font-size="7.3" text-anchor="end" fill="#222" >2</text>
<text x="29.3" y="370.02" font-size="7.3" text-anchor="end" fill="#222" >4</text>
<text x="29.3" y="331.68" font-size="7.3" text-anchor="end" fill="#222" >6</text>
<text x="29.3" y="293.34" font-size="7.3" text-anchor="end" fill="#222" >8</text>
<text x="29.3" y="255" font-size="7.3" text-anchor="end" fill="#222" >10</text>
<text x="164.3" y="466.3" font-size="9.2" text-anchor="middle" fill="#111" textLength="69.5" lengthAdjust="spacingAndGlyphs">Particle size (μm)</text>
<text x="0" y="0" font-size="9.2" text-anchor="middle" fill="#111" transform="translate(19.7,348.35) rotate(-90)" textLength="49" lengthAdjust="spacingAndGlyphs">Volume (%)</text>
<text x="9.6" y="260.2" font-size="12.5" text-anchor="start" fill="#000" >D</text>
<path d="M76.55 444.2 L77.63 442.34 L78.7 440.55 L79.78 438.84 L80.86 437.23 L81.93 435.73 L83.01 434.36 L84.09 433.13 L85.16 432.06 L86.24 431.17 L87.32 430.46 L88.39 429.96 L89.47 429.69 L90.55 429.64 L91.63 429.72 L92.7 429.88 L93.78 430.1 L94.86 430.36 L95.93 430.64 L97.01 430.92 L98.09 431.17 L99.16 431.37 L100.24 431.5 L101.32 431.55 L102.39 431.47 L103.47 431.28 L104.55 430.98 L105.62 430.62 L106.7 430.2 L107.78 429.76 L108.85 429.3 L109.93 428.87 L111.01 428.47 L112.08 428.14 L113.16 427.88 L114.24 427.74 L115.32 427.74 L116.39 427.98 L117.47 428.46 L118.55 429.13 L119.62 429.93 L120.7 430.83 L121.78 431.78 L122.85 432.72 L123.93 433.62 L125.01 434.42 L126.08 435.16 L127.16 435.99 L128.24 436.88 L129.31 437.77 L130.39 438.64 L131.47 439.41 L132.54 440.05 L133.62 440.51 L134.7 440.73 L135.77 440.74 L136.85 440.69 L137.93 440.61 L139 440.49 L140.08 440.35 L141.16 440.17 L142.24 439.97 L143.31 439.75 L144.39 439.5 L145.47 439.2 L146.54 438.7 L147.62 437.99 L148.7 437.09 L149.77 436.02 L150.85 434.81 L151.93 433.46 L153 432 L154.08 430.45 L155.16 428.82 L156.23 427.13 L157.31 425.35 L158.39 423.21 L159.46 420.67 L160.54 417.81 L161.62 414.65 L162.69 411.27 L163.77 407.71 L164.85 404.03 L165.93 400.26 L167 396.48 L168.08 392.73 L169.16 389.06 L170.23 385.38 L171.31 381.58 L172.39 377.67 L173.46 373.67 L174.54 369.6 L175.62 365.45 L176.69 361.26 L177.77 357.04 L178.85 352.8 L179.92 348.56 L181 344.33 L182.08 340.1 L183.15 335.71 L184.23 331.19 L185.31 326.61 L186.38 322.02 L187.46 317.5 L188.54 313.1 L189.61 308.91 L190.69 304.98 L191.77 301.35 L192.85 297.58 L193.92 293.61 L195 289.64 L196.08 285.82 L197.15 282.33 L198.23 279.35 L199.31 277.04 L200.38 275.57 L201.46 275.13 L202.54 275.74 L203.61 277.27 L204.69 279.58 L205.77 282.53 L206.84 285.98 L207.92 289.8 L209 293.84 L210.07 297.97 L211.15 302.05 L212.23 306.44 L213.3 311.62 L214.38 317.4 L215.46 323.6 L216.53 330 L217.61 336.42 L218.69 342.67 L219.77 348.86 L220.84 355.14 L221.92 361.55 L223 368.08 L224.07 374.75 L225.15 381.61 L226.23 388.97 L227.3 396.65 L228.38 404.35 L229.46 411.76 L230.53 418.57 L231.61 424.86 L232.69 431.72 L233.76 438.09 L234.84 442.67 L235.92 444.2 L236.99 444.2 L238.07 444.2 L239.15 444.2 L240.22 444.2 L241.3 444.2 L242.38 444.2 L243.46 444.2 L244.53 444.2 L245.61 444.2 L246.69 444.2 L247.76 444.2 L248.84 444.2 L249.92 444.2 L250.99 444.2 L252.07 444.2 L253.15 444.2 L254.22 444.2 L255.3 444.2" stroke="#585858" stroke-width="0.95" fill="none"/>
<path d="M77.85 444.2 L78.93 442.08 L80.01 440.02 L81.1 438.07 L82.18 436.24 L83.26 434.55 L84.34 433.04 L85.42 431.72 L86.51 430.62 L87.59 429.77 L88.67 429.18 L89.75 428.89 L90.83 428.88 L91.92 428.99 L93 429.17 L94.08 429.41 L95.16 429.68 L96.25 429.96 L97.33 430.23 L98.41 430.47 L99.49 430.65 L100.57 430.76 L101.66 430.77 L102.74 430.65 L103.82 430.42 L104.9 430.1 L105.98 429.72 L107.07 429.29 L108.15 428.83 L109.23 428.38 L110.31 427.96 L111.39 427.58 L112.48 427.27 L113.56 427.05 L114.64 426.95 L115.72 427.02 L116.8 427.34 L117.89 427.87 L118.97 428.55 L120.05 429.36 L121.13 430.25 L122.21 431.18 L123.3 432.1 L124.38 432.98 L125.46 433.77 L126.54 434.64 L127.62 435.64 L128.71 436.7 L129.79 437.77 L130.87 438.78 L131.95 439.67 L133.03 440.37 L134.12 440.81 L135.2 440.94 L136.28 440.89 L137.36 440.76 L138.45 440.56 L139.53 440.31 L140.61 440 L141.69 439.65 L142.77 439.26 L143.86 438.83 L144.94 438.39 L146.02 437.81 L147.1 437.03 L148.18 436.06 L149.27 434.92 L150.35 433.61 L151.43 432.16 L152.51 430.56 L153.59 428.84 L154.68 427.01 L155.76 425.08 L156.84 423.05 L157.92 420.95 L159 418.37 L160.09 415.14 L161.17 411.36 L162.25 407.13 L163.33 402.57 L164.41 397.78 L165.5 392.86 L166.58 387.92 L167.66 383.08 L168.74 378.42 L169.82 374.07 L170.91 370.12 L171.99 366.67 L173.07 363.38 L174.15 360.13 L175.24 356.94 L176.32 353.83 L177.4 350.84 L178.48 347.99 L179.56 345.3 L180.65 342.8 L181.73 340.52 L182.81 338.48 L183.89 336.71 L184.97 335.05 L186.06 333.39 L187.14 331.74 L188.22 330.13 L189.3 328.58 L190.38 327.09 L191.47 325.68 L192.55 324.38 L193.63 323.2 L194.71 322.16 L195.79 321.27 L196.88 320.55 L197.96 320.02 L199.04 319.7 L200.12 319.6 L201.2 319.74 L202.29 320.12 L203.37 320.73 L204.45 321.54 L205.53 322.53 L206.62 323.69 L207.7 325 L208.78 326.44 L209.86 327.99 L210.94 329.63 L212.03 331.34 L213.11 333.11 L214.19 335.37 L215.27 338.36 L216.35 341.93 L217.44 345.9 L218.52 350.12 L219.6 354.42 L220.68 358.64 L221.76 362.89 L222.85 367.56 L223.93 372.53 L225.01 377.72 L226.09 383.03 L227.17 388.34 L228.26 393.57 L229.34 398.61 L230.42 403.36 L231.5 407.72 L232.58 411.59 L233.67 414.93 L234.75 418.26 L235.83 421.63 L236.91 424.98 L237.99 428.25 L239.08 431.39 L240.16 434.31 L241.24 436.98 L242.32 439.32 L243.4 441.27 L244.49 442.77 L245.57 443.77 L246.65 444.19 L247.73 444.2 L248.82 444.2 L249.9 444.2 L250.98 444.2 L252.06 444.2 L253.14 444.2 L254.23 444.2 L255.31 444.2 L256.39 444.2 L257.47 444.2 L258.55 444.2 L259.64 444.2 L260.72 444.2 L261.8 444.2" stroke="#b87880" stroke-width="0.95" fill="none"/>
<path d="M66.8 444.2 L67.85 443.61 L68.9 443.05 L69.95 442.53 L70.99 442.04 L72.04 441.59 L73.09 441.18 L74.14 440.81 L75.19 440.48 L76.24 440.21 L77.28 439.98 L78.33 439.8 L79.38 439.68 L80.43 439.61 L81.48 439.6 L82.53 439.62 L83.57 439.66 L84.62 439.73 L85.67 439.83 L86.72 439.96 L87.77 440.11 L88.82 440.3 L89.86 440.52 L90.91 440.77 L91.96 441.06 L93.01 441.38 L94.06 441.75 L95.11 442.15 L96.15 442.6 L97.2 443.09 L98.25 443.62 L99.3 444.2" stroke="#5870a0" stroke-width="0.95" fill="none"/>
<path d="M131.8 444.2 L132.87 444.13 L133.95 443.95 L135.02 443.64 L136.1 443.24 L137.17 442.74 L138.25 442.16 L139.32 441.51 L140.4 440.8 L141.47 440.04 L142.55 439.24 L143.62 438.42 L144.7 437.57 L145.77 436.64 L146.85 435.5 L147.92 434.19 L149 432.69 L150.07 431.04 L151.15 429.24 L152.22 427.29 L153.3 425.22 L154.37 423.04 L155.45 420.75 L156.52 418.38 L157.6 415.92 L158.67 413.19 L159.74 409.83 L160.82 405.94 L161.89 401.59 L162.97 396.91 L164.04 391.98 L165.12 386.9 L166.19 381.78 L167.27 376.7 L168.34 371.78 L169.42 367.11 L170.49 362.78 L171.57 358.9 L172.64 355.56 L173.72 352.87 L174.79 350.77 L175.87 348.87 L176.94 347.11 L178.02 345.5 L179.09 344.02 L180.17 342.65 L181.24 341.39 L182.32 340.23 L183.39 339.16 L184.47 338.14 L185.54 337.11 L186.61 336.07 L187.69 335.04 L188.76 334.03 L189.84 333.06 L190.91 332.12 L191.99 331.25 L193.06 330.43 L194.14 329.7 L195.21 329.06 L196.29 328.53 L197.36 328.11 L198.44 327.82 L199.51 327.67 L200.59 327.67 L201.66 327.83 L202.74 328.14 L203.81 328.59 L204.89 329.17 L205.96 329.88 L207.04 330.69 L208.11 331.61 L209.19 332.62 L210.26 333.71 L211.34 334.87 L212.41 336.09 L213.49 337.44 L214.56 339.46 L215.63 342.19 L216.71 345.46 L217.78 349.14 L218.86 353.09 L219.93 357.16 L221.01 361.21 L222.08 365.09 L223.16 368.71 L224.23 372.41 L225.31 376.3 L226.38 380.33 L227.46 384.45 L228.53 388.62 L229.61 392.79 L230.68 396.92 L231.76 400.96 L232.83 404.86 L233.91 408.59 L234.98 412.09 L236.06 415.32 L237.13 418.23 L238.21 420.78 L239.28 423.08 L240.36 425.41 L241.43 427.73 L242.5 430.03 L243.58 432.26 L244.65 434.39 L245.73 436.4 L246.8 438.25 L247.88 439.9 L248.95 441.34 L250.03 442.52 L251.1 443.41 L252.18 443.98 L253.25 444.2 L254.33 444.2 L255.4 444.2 L256.48 444.2 L257.55 444.2 L258.63 444.2 L259.7 444.2 L260.78 444.2 L261.85 444.2 L262.93 444.2 L264 444.2 L265.08 444.2 L266.15 444.2 L267.23 444.2 L268.3 444.2" stroke="#5870a0" stroke-width="0.95" fill="none"/>
<path d="M79.8 444.2 L80.88 442.32 L81.96 440.53 L83.03 438.84 L84.11 437.3 L85.19 435.92 L86.27 434.75 L87.35 433.82 L88.42 433.15 L89.5 432.77 L90.58 432.71 L91.66 432.83 L92.73 433.08 L93.81 433.42 L94.89 433.81 L95.97 434.23 L97.05 434.64 L98.12 435.01 L99.2 435.31 L100.28 435.51 L101.36 435.57 L102.44 435.48 L103.51 435.26 L104.59 434.94 L105.67 434.53 L106.75 434.07 L107.83 433.58 L108.9 433.08 L109.98 432.6 L111.06 432.17 L112.14 431.8 L113.21 431.53 L114.29 431.38 L115.37 431.38 L116.45 431.57 L117.53 431.93 L118.6 432.44 L119.68 433.05 L120.76 433.72 L121.84 434.43 L122.92 435.14 L123.99 435.81 L125.07 436.42 L126.15 436.98 L127.23 437.63 L128.31 438.33 L129.38 439.03 L130.46 439.7 L131.54 440.31 L132.62 440.8 L133.69 441.15 L134.77 441.32 L135.85 441.29 L136.93 441.15 L138.01 440.89 L139.08 440.53 L140.16 440.07 L141.24 439.52 L142.32 438.88 L143.4 438.16 L144.47 437.37 L145.55 436.51 L146.63 435.59 L147.71 434.61 L148.78 433.58 L149.86 432.5 L150.94 431.39 L152.02 430.24 L153.1 429.07 L154.17 427.87 L155.25 426.66 L156.33 425.4 L157.41 423.78 L158.49 421.81 L159.56 419.58 L160.64 417.17 L161.72 414.67 L162.8 412.15 L163.88 409.7 L164.95 407.41 L166.03 405.36 L167.11 403.63 L168.19 402.13 L169.26 400.76 L170.34 399.5 L171.42 398.33 L172.5 397.21 L173.58 396.13 L174.65 395.06 L175.73 393.98 L176.81 392.85 L177.89 391.65 L178.97 390.37 L180.04 388.96 L181.12 387.41 L182.2 385.67 L183.28 383.63 L184.36 381.33 L185.43 378.84 L186.51 376.21 L187.59 373.52 L188.67 370.83 L189.74 368.2 L190.82 365.68 L191.9 363.32 L192.98 360.81 L194.06 358.13 L195.13 355.32 L196.21 352.45 L197.29 349.57 L198.37 346.73 L199.45 343.99 L200.52 341.4 L201.6 339.02 L202.68 336.9 L203.76 335.1 L204.84 333.66 L205.91 332.65 L206.99 332.12 L208.07 332.14 L209.15 332.75 L210.22 333.9 L211.3 335.53 L212.38 337.55 L213.46 339.9 L214.54 342.52 L215.61 345.32 L216.69 348.24 L217.77 351.2 L218.85 354.15 L219.93 357.06 L221 360.59 L222.08 364.74 L223.16 369.31 L224.24 374.06 L225.32 378.79 L226.39 383.28 L227.47 387.3 L228.55 390.63 L229.63 393.12 L230.7 395.39 L231.78 397.6 L232.86 399.63 L233.94 401.39 L235.02 402.77 L236.09 403.65 L237.17 403.94 L238.25 403.71 L239.33 403.11 L240.41 402.23 L241.48 401.13 L242.56 399.88 L243.64 398.56 L244.72 397.25 L245.79 395.98 L246.87 394.42 L247.95 392.49 L249.03 390.36 L250.11 388.16 L251.18 386.05 L252.26 384.18 L253.34 382.71 L254.42 381.77 L255.5 381.53 L256.57 382.22 L257.65 383.8 L258.73 386.15 L259.81 389.12 L260.89 392.58 L261.96 396.39 L263.04 400.42 L264.12 404.53 L265.2 408.59 L266.27 412.45 L267.35 415.98 L268.43 419.05 L269.51 422.16 L270.59 425.51 L271.66 428.91 L272.74 432.18 L273.82 435.1 L274.9 437.49 L275.98 439.15 L277.05 439.94 L278.13 440.42 L279.21 440.84 L280.29 441.21 L281.37 441.5 L282.44 441.72 L283.52 441.86 L284.6 441.9 L285.68 441.9 L286.75 441.89 L287.83 441.88 L288.91 441.85 L289.99 441.8 L291.07 441.73 L292.14 441.63 L293.22 441.49 L294.3 441.32" stroke="#5a9e94" stroke-width="0.95" fill="none"/>
<path d="M44.7 263.7H61.4" stroke="#585858" stroke-width="0.85"/>
<text x="63.7" y="266.9" font-size="9" text-anchor="start" fill="#111" textLength="37.5" lengthAdjust="spacingAndGlyphs">0%, 25°C</text>
<path d="M44.7 275.3H61.4" stroke="#b87880" stroke-width="0.85"/>
<text x="63.7" y="278.5" font-size="9" text-anchor="start" fill="#111" textLength="37.5" lengthAdjust="spacingAndGlyphs">0%, 50°C</text>
<path d="M44.7 286.9H61.4" stroke="#5870a0" stroke-width="0.85"/>
<text x="63.7" y="290.1" font-size="9" text-anchor="start" fill="#111" textLength="37.5" lengthAdjust="spacingAndGlyphs">0%, 70°C</text>
<path d="M44.7 298.5H61.4" stroke="#5a9e94" stroke-width="0.85"/>
<text x="63.7" y="301.7" font-size="9" text-anchor="start" fill="#111" textLength="37.5" lengthAdjust="spacingAndGlyphs">0%, 90°C</text>
<rect x="335" y="252.3" width="260" height="191" fill="none" stroke="#505050" stroke-width="1.1"/>
<path d="M335 443.3v3 M354.57 443.3v1.6 M366.01 443.3v1.6 M374.13 443.3v1.6 M380.43 443.3v1.6 M385.58 443.3v1.6 M389.93 443.3v1.6 M393.7 443.3v1.6 M397.03 443.3v1.6 M400 443.3v3 M419.57 443.3v1.6 M431.01 443.3v1.6 M439.13 443.3v1.6 M445.43 443.3v1.6 M450.58 443.3v1.6 M454.93 443.3v1.6 M458.7 443.3v1.6 M462.03 443.3v1.6 M465 443.3v3 M484.57 443.3v1.6 M496.01 443.3v1.6 M504.13 443.3v1.6 M510.43 443.3v1.6 M515.58 443.3v1.6 M519.93 443.3v1.6 M523.7 443.3v1.6 M527.03 443.3v1.6 M530 443.3v3 M549.57 443.3v1.6 M561.01 443.3v1.6 M569.13 443.3v1.6 M575.43 443.3v1.6 M580.58 443.3v1.6 M584.93 443.3v1.6 M588.7 443.3v1.6 M592.03 443.3v1.6 M595 443.3v3 M335 443.3h-3 M335 431.36h-1.6 M335 419.43h-3 M335 407.49h-1.6 M335 395.55h-3 M335 383.61h-1.6 M335 371.68h-3 M335 359.74h-1.6 M335 347.8h-3 M335 335.86h-1.6 M335 323.93h-3 M335 311.99h-1.6 M335 300.05h-3 M335 288.11h-1.6 M335 276.18h-3 M335 264.24h-1.6 M335 252.3h-3" stroke="#505050" stroke-width="0.8" fill="none"/>
<text x="335" y="456.8" font-size="7.3" text-anchor="middle" fill="#222">10<tspan font-size="4.53" dy="-2.77">−1</tspan></text>
<text x="400" y="456.8" font-size="7.3" text-anchor="middle" fill="#222">10<tspan font-size="4.53" dy="-2.77">0</tspan></text>
<text x="465" y="456.8" font-size="7.3" text-anchor="middle" fill="#222">10<tspan font-size="4.53" dy="-2.77">1</tspan></text>
<text x="530" y="456.8" font-size="7.3" text-anchor="middle" fill="#222">10<tspan font-size="4.53" dy="-2.77">2</tspan></text>
<text x="595" y="456.8" font-size="7.3" text-anchor="middle" fill="#222">10<tspan font-size="4.53" dy="-2.77">3</tspan></text>
<text x="330" y="445.8" font-size="7.3" text-anchor="end" fill="#222" >0</text>
<text x="330" y="421.93" font-size="7.3" text-anchor="end" fill="#222" >1</text>
<text x="330" y="398.05" font-size="7.3" text-anchor="end" fill="#222" >2</text>
<text x="330" y="374.18" font-size="7.3" text-anchor="end" fill="#222" >3</text>
<text x="330" y="350.3" font-size="7.3" text-anchor="end" fill="#222" >4</text>
<text x="330" y="326.43" font-size="7.3" text-anchor="end" fill="#222" >5</text>
<text x="330" y="302.55" font-size="7.3" text-anchor="end" fill="#222" >6</text>
<text x="330" y="278.68" font-size="7.3" text-anchor="end" fill="#222" >7</text>
<text x="330" y="254.8" font-size="7.3" text-anchor="end" fill="#222" >8</text>
<text x="465" y="466.3" font-size="9.2" text-anchor="middle" fill="#111" textLength="69.5" lengthAdjust="spacingAndGlyphs">Particle size (μm)</text>
<text x="0" y="0" font-size="9.2" text-anchor="middle" fill="#111" transform="translate(320.4,347.8) rotate(-90)" textLength="49" lengthAdjust="spacingAndGlyphs">Volume (%)</text>
<text x="312.7" y="260.2" font-size="12.5" text-anchor="start" fill="#000" >E</text>
<path d="M364.25 443.3 L365.33 442.12 L366.41 440.94 L367.48 439.79 L368.56 438.65 L369.64 437.54 L370.72 436.45 L371.79 435.39 L372.87 434.36 L373.95 433.36 L375.03 432.41 L376.1 431.49 L377.18 430.62 L378.26 429.79 L379.34 429.02 L380.41 428.29 L381.49 427.63 L382.57 427.02 L383.65 426.48 L384.73 426 L385.8 425.59 L386.88 425.25 L387.96 424.99 L389.04 424.8 L390.11 424.7 L391.19 424.68 L392.27 424.68 L393.35 424.69 L394.42 424.7 L395.5 424.72 L396.58 424.74 L397.66 424.77 L398.73 424.8 L399.81 424.84 L400.89 424.88 L401.97 424.93 L403.04 424.97 L404.12 425.03 L405.2 425.09 L406.28 425.15 L407.36 425.22 L408.43 425.29 L409.51 425.36 L410.59 425.44 L411.67 425.52 L412.74 425.61 L413.82 425.76 L414.9 426.08 L415.98 426.56 L417.05 427.16 L418.13 427.86 L419.21 428.64 L420.29 429.45 L421.36 430.28 L422.44 431.1 L423.52 431.88 L424.6 432.6 L425.68 433.21 L426.75 433.71 L427.83 434.05 L428.91 434.22 L429.99 434.19 L431.06 433.99 L432.14 433.64 L433.22 433.16 L434.3 432.56 L435.37 431.85 L436.45 431.07 L437.53 430.22 L438.61 429.31 L439.68 428.26 L440.76 426.67 L441.84 424.6 L442.92 422.15 L443.99 419.41 L445.07 416.48 L446.15 413.44 L447.23 410.39 L448.31 407.43 L449.38 404.65 L450.46 402.05 L451.54 399.34 L452.62 396.53 L453.69 393.66 L454.77 390.78 L455.85 387.93 L456.93 385.15 L458 382.49 L459.08 379.99 L460.16 377.7 L461.24 375.65 L462.31 373.9 L463.39 372.39 L464.47 371.06 L465.55 369.87 L466.62 368.78 L467.7 367.76 L468.78 366.77 L469.86 365.78 L470.94 364.75 L472.01 363.63 L473.09 362.41 L474.17 361.03 L475.25 359.47 L476.32 357.74 L477.4 355.83 L478.48 353.78 L479.56 351.6 L480.63 349.3 L481.71 346.9 L482.79 344.42 L483.87 341.86 L484.94 339.26 L486.02 336.61 L487.1 333.94 L488.18 330.9 L489.26 327.4 L490.33 323.53 L491.41 319.38 L492.49 315.06 L493.57 310.65 L494.64 306.26 L495.72 301.97 L496.8 297.89 L497.88 294.1 L498.95 290.71 L500.03 287.8 L501.11 285.48 L502.19 283.84 L503.26 282.97 L504.34 282.96 L505.42 283.75 L506.5 285.22 L507.58 287.27 L508.65 289.79 L509.73 292.68 L510.81 295.81 L511.89 299.1 L512.96 302.43 L514.04 305.73 L515.12 309.58 L516.2 314.09 L517.27 319.13 L518.35 324.55 L519.43 330.21 L520.51 335.94 L521.58 341.61 L522.66 347.08 L523.74 352.19 L524.82 356.92 L525.89 361.68 L526.97 366.48 L528.05 371.29 L529.13 376.07 L530.21 380.79 L531.28 385.43 L532.36 389.94 L533.44 394.31 L534.52 398.48 L535.59 402.45 L536.67 406.16 L537.75 409.59 L538.83 412.72 L539.9 415.58 L540.98 418.37 L542.06 421.08 L543.14 423.69 L544.21 426.19 L545.29 428.55 L546.37 430.75 L547.45 432.78 L548.52 434.63 L549.6 436.26 L550.68 437.67 L551.76 438.84 L552.84 439.97 L553.91 441.04 L554.99 441.99 L556.07 442.73 L557.15 443.19 L558.22 443.3 L559.3 443.3 L560.38 443.3 L561.46 443.3 L562.53 443.3 L563.61 443.3 L564.69 443.3 L565.77 443.3 L566.84 443.3 L567.92 443.3 L569 443.3" stroke="#585858" stroke-width="0.95" fill="none"/>
<path d="M364.25 443.3 L365.33 441.98 L366.41 440.71 L367.48 439.49 L368.56 438.33 L369.64 437.23 L370.72 436.17 L371.79 435.18 L372.87 434.24 L373.95 433.35 L375.03 432.52 L376.11 431.74 L377.18 431.02 L378.26 430.35 L379.34 429.73 L380.42 429.17 L381.49 428.67 L382.57 428.22 L383.65 427.82 L384.73 427.48 L385.81 427.2 L386.88 426.97 L387.96 426.79 L389.04 426.67 L390.12 426.6 L391.2 426.59 L392.27 426.68 L393.35 426.85 L394.43 427.11 L395.51 427.43 L396.58 427.8 L397.66 428.2 L398.74 428.61 L399.82 429.03 L400.9 429.43 L401.97 429.79 L403.05 430.12 L404.13 430.4 L405.21 430.7 L406.28 431.02 L407.36 431.34 L408.44 431.67 L409.52 432 L410.6 432.33 L411.67 432.66 L412.75 432.99 L413.83 433.31 L414.91 433.61 L415.98 433.91 L417.06 434.18 L418.14 434.44 L419.22 434.67 L420.3 434.87 L421.37 435.05 L422.45 435.2 L423.53 435.31 L424.61 435.39 L425.68 435.42 L426.76 435.39 L427.84 435.25 L428.92 434.99 L430 434.64 L431.07 434.2 L432.15 433.67 L433.23 433.07 L434.31 432.4 L435.39 431.68 L436.46 430.91 L437.54 430.11 L438.62 429.28 L439.7 428.33 L440.77 427.01 L441.85 425.36 L442.93 423.47 L444.01 421.4 L445.09 419.24 L446.16 417.06 L447.24 414.95 L448.32 412.99 L449.4 411.18 L450.47 409.3 L451.55 407.35 L452.63 405.39 L453.71 403.45 L454.79 401.58 L455.86 399.82 L456.94 398.2 L458.02 396.78 L459.1 395.59 L460.17 394.67 L461.25 393.9 L462.33 393.25 L463.41 392.7 L464.49 392.22 L465.56 391.8 L466.64 391.41 L467.72 391.03 L468.8 390.63 L469.88 390.2 L470.95 389.71 L472.03 389.15 L473.11 388.48 L474.19 387.69 L475.26 386.75 L476.34 385.51 L477.42 383.27 L478.5 380.22 L479.58 376.69 L480.65 373.03 L481.73 369.55 L482.81 366.35 L483.89 363.08 L484.96 359.77 L486.04 356.4 L487.12 353 L488.2 349.57 L489.28 346.12 L490.35 342.66 L491.43 339.19 L492.51 335.73 L493.59 332.28 L494.66 328.86 L495.74 325.46 L496.82 322.11 L497.9 318.54 L498.98 314.58 L500.05 310.36 L501.13 306 L502.21 301.66 L503.29 297.46 L504.36 293.53 L505.44 290.03 L506.52 287.07 L507.6 284.8 L508.68 283.35 L509.75 282.86 L510.83 283.49 L511.91 285.16 L512.99 287.63 L514.07 290.68 L515.14 294.07 L516.22 297.58 L517.3 301 L518.38 304.91 L519.45 309.46 L520.53 314.52 L521.61 319.98 L522.69 325.72 L523.77 331.63 L524.84 337.59 L525.92 343.49 L527 349.2 L528.08 354.6 L529.15 359.6 L530.23 364.49 L531.31 369.48 L532.39 374.53 L533.47 379.58 L534.54 384.59 L535.62 389.51 L536.7 394.29 L537.78 398.88 L538.85 403.23 L539.93 407.3 L541.01 411.03 L542.09 414.39 L543.17 417.31 L544.24 419.82 L545.32 422.21 L546.4 424.5 L547.48 426.68 L548.55 428.74 L549.63 430.67 L550.71 432.44 L551.79 434.05 L552.87 435.49 L553.94 436.73 L555.02 437.77 L556.1 438.59 L557.18 439.31 L558.26 440.01 L559.33 440.66 L560.41 441.28 L561.49 441.83 L562.57 442.31 L563.64 442.71 L564.72 443.01 L565.8 443.22 L566.88 443.3 L567.96 443.3 L569.03 443.3 L570.11 443.3 L571.19 443.3 L572.27 443.3 L573.34 443.3 L574.42 443.3 L575.5 443.3" stroke="#b87880" stroke-width="0.95" fill="none"/>
<path d="M367.5 443.3 L368.58 441.9 L369.66 440.52 L370.73 439.17 L371.81 437.84 L372.89 436.55 L373.97 435.3 L375.04 434.08 L376.12 432.91 L377.2 431.78 L378.28 430.71 L379.35 429.69 L380.43 428.73 L381.51 427.84 L382.59 427.01 L383.66 426.25 L384.74 425.57 L385.82 424.97 L386.9 424.45 L387.97 424.02 L389.05 423.68 L390.13 423.44 L391.21 423.29 L392.28 423.25 L393.36 423.25 L394.44 423.28 L395.52 423.32 L396.59 423.38 L397.67 423.45 L398.75 423.53 L399.83 423.63 L400.9 423.74 L401.98 423.86 L403.06 423.99 L404.14 424.13 L405.21 424.27 L406.29 424.43 L407.37 424.59 L408.45 424.76 L409.52 424.93 L410.6 425.11 L411.68 425.29 L412.76 425.48 L413.83 425.67 L414.91 425.92 L415.99 426.26 L417.07 426.67 L418.14 427.14 L419.22 427.65 L420.3 428.2 L421.38 428.76 L422.45 429.34 L423.53 429.9 L424.61 430.44 L425.69 430.95 L426.76 431.42 L427.84 431.82 L428.92 432.14 L430 432.39 L431.07 432.53 L432.15 432.55 L433.23 432.42 L434.31 432.13 L435.39 431.7 L436.46 431.14 L437.54 430.47 L438.62 429.7 L439.7 428.85 L440.77 427.93 L441.85 426.96 L442.93 425.81 L444.01 424.02 L445.08 421.68 L446.16 418.92 L447.24 415.89 L448.32 412.72 L449.39 409.55 L450.47 406.52 L451.55 403.76 L452.63 401.31 L453.7 398.86 L454.78 396.39 L455.86 393.92 L456.94 391.47 L458.01 389.08 L459.09 386.76 L460.17 384.54 L461.25 382.44 L462.32 380.49 L463.4 378.71 L464.48 377.14 L465.56 375.77 L466.63 374.59 L467.71 373.54 L468.79 372.61 L469.87 371.76 L470.94 370.95 L472.02 370.15 L473.1 369.34 L474.18 368.47 L475.25 367.52 L476.33 366.46 L477.41 365.25 L478.49 363.85 L479.56 362.17 L480.64 360.23 L481.72 358.07 L482.8 355.72 L483.87 353.23 L484.95 350.63 L486.03 347.97 L487.11 345.27 L488.18 342.58 L489.26 339.93 L490.34 337.37 L491.42 334.9 L492.49 332.25 L493.57 329.37 L494.65 326.31 L495.73 323.13 L496.8 319.86 L497.88 316.56 L498.96 313.26 L500.04 310.03 L501.11 306.89 L502.19 303.91 L503.27 301.12 L504.35 298.57 L505.43 296.32 L506.5 294.4 L507.58 292.86 L508.66 291.75 L509.74 291.11 L510.81 291.04 L511.89 292.09 L512.97 294.35 L514.05 297.68 L515.12 301.91 L516.2 306.91 L517.28 312.52 L518.36 318.59 L519.43 324.97 L520.51 331.52 L521.59 338.09 L522.67 344.52 L523.74 350.66 L524.82 356.38 L525.9 361.52 L526.98 366.02 L528.05 370.47 L529.13 374.99 L530.21 379.54 L531.29 384.08 L532.36 388.58 L533.44 393.01 L534.52 397.35 L535.6 401.54 L536.67 405.58 L537.75 409.41 L538.83 413.02 L539.91 416.36 L540.98 419.4 L542.06 422.12 L543.14 424.49 L544.22 426.73 L545.29 428.98 L546.37 431.2 L547.45 433.34 L548.53 435.38 L549.6 437.27 L550.68 438.97 L551.76 440.45 L552.84 441.66 L553.91 442.56 L554.99 443.12 L556.07 443.3 L557.15 443.3 L558.22 443.3 L559.3 443.3 L560.38 443.3 L561.46 443.3 L562.53 443.3 L563.61 443.3 L564.69 443.3 L565.77 443.3 L566.84 443.3 L567.92 443.3 L569 443.3" stroke="#5870a0" stroke-width="0.95" fill="none"/>
<path d="M367.5 443.3 L368.58 440.86 L369.66 438.57 L370.73 436.43 L371.81 434.43 L372.89 432.57 L373.97 430.85 L375.05 429.26 L376.13 427.81 L377.2 426.48 L378.28 425.27 L379.36 424.19 L380.44 423.23 L381.52 422.38 L382.59 421.65 L383.67 421.03 L384.75 420.51 L385.83 420.1 L386.91 419.79 L387.99 419.57 L389.06 419.45 L390.14 419.44 L391.22 419.76 L392.3 420.49 L393.38 421.54 L394.45 422.83 L395.53 424.27 L396.61 425.77 L397.69 427.27 L398.77 428.66 L399.85 429.88 L400.92 430.82 L402 431.43 L403.08 431.6 L404.16 431.53 L405.24 431.37 L406.32 431.14 L407.39 430.85 L408.47 430.52 L409.55 430.17 L410.63 429.81 L411.71 429.46 L412.78 429.15 L413.86 428.87 L414.94 428.66 L416.02 428.53 L417.1 428.5 L418.18 428.61 L419.25 428.86 L420.33 429.21 L421.41 429.66 L422.49 430.16 L423.57 430.69 L424.64 431.22 L425.72 431.73 L426.8 432.2 L427.88 432.58 L428.96 432.86 L430.04 433.01 L431.11 433.01 L432.19 432.81 L433.27 432.44 L434.35 431.92 L435.43 431.25 L436.5 430.45 L437.58 429.54 L438.66 428.53 L439.74 427.45 L440.82 426.29 L441.9 425.09 L442.97 423.86 L444.05 422.6 L445.13 421.35 L446.21 420.1 L447.29 418.89 L448.36 417.65 L449.44 416.3 L450.52 414.84 L451.6 413.28 L452.68 411.64 L453.76 409.93 L454.83 408.18 L455.91 406.27 L456.99 403.91 L458.07 401.32 L459.15 398.75 L460.23 396.46 L461.3 394.72 L462.38 393.78 L463.46 393.24 L464.54 392.78 L465.62 392.39 L466.69 392.07 L467.77 391.8 L468.85 391.57 L469.93 391.37 L471.01 391.18 L472.09 391 L473.16 390.8 L474.24 390.59 L475.32 390.34 L476.4 390.05 L477.48 389.71 L478.55 389.29 L479.63 388.8 L480.71 388.16 L481.79 387.34 L482.87 386.35 L483.95 385.2 L485.02 383.89 L486.1 382.42 L487.18 380.78 L488.26 378.57 L489.34 375.71 L490.41 372.27 L491.49 368.33 L492.57 363.99 L493.65 359.32 L494.73 354.4 L495.81 349.33 L496.88 344.17 L497.96 339.02 L499.04 333.96 L500.12 329.07 L501.2 324.43 L502.27 320.01 L503.35 315.1 L504.43 309.71 L505.51 304.07 L506.59 298.37 L507.67 292.84 L508.74 287.66 L509.82 283.07 L510.9 279.25 L511.98 276.43 L513.06 274.81 L514.14 274.61 L515.21 275.93 L516.29 278.48 L517.37 281.93 L518.45 285.92 L519.53 290.12 L520.6 294.28 L521.68 299.26 L522.76 305.22 L523.84 311.9 L524.92 319.08 L526 326.53 L527.07 333.99 L528.15 341.25 L529.23 348.06 L530.31 354.19 L531.39 359.4 L532.46 364.05 L533.54 368.5 L534.62 372.76 L535.7 376.86 L536.78 380.8 L537.86 384.61 L538.93 388.28 L540.01 391.84 L541.09 395.3 L542.17 398.67 L543.25 401.97 L544.32 405.21 L545.4 408.41 L546.48 411.57 L547.56 414.71 L548.64 417.85 L549.72 421.18 L550.79 424.9 L551.87 428.67 L552.95 432.14 L554.03 434.97 L555.11 436.81 L556.18 437.33 L557.26 437.11 L558.34 436.62 L559.42 435.93 L560.5 435.1 L561.58 434.2 L562.65 433.29 L563.73 432.44 L564.81 431.72 L565.89 431.19 L566.97 430.91 L568.05 430.92 L569.12 431.13 L570.2 431.49 L571.28 432 L572.36 432.63 L573.44 433.36 L574.51 434.18 L575.59 435.06 L576.67 435.98 L577.75 436.93 L578.83 437.87 L579.91 438.81 L580.98 439.7 L582.06 440.54 L583.14 441.31 L584.22 441.98 L585.3 442.53 L586.37 442.95 L587.45 443.21 L588.53 443.3 L589.61 443.3 L590.69 443.3 L591.77 443.3 L592.84 443.3 L593.92 443.3 L595 443.3" stroke="#5a9e94" stroke-width="0.95" fill="none"/>
<path d="M345 263.3H361.7" stroke="#585858" stroke-width="0.85"/>
<text x="362.7" y="266.5" font-size="9" text-anchor="start" fill="#111" textLength="37.3" lengthAdjust="spacingAndGlyphs">1%, 25°C</text>
<path d="M345 274.97H361.7" stroke="#b87880" stroke-width="0.85"/>
<text x="362.7" y="278.17" font-size="9" text-anchor="start" fill="#111" textLength="37.3" lengthAdjust="spacingAndGlyphs">1%, 50°C</text>
<path d="M345 286.64H361.7" stroke="#5870a0" stroke-width="0.85"/>
<text x="362.7" y="289.84" font-size="9" text-anchor="start" fill="#111" textLength="37.3" lengthAdjust="spacingAndGlyphs">1%, 70°C</text>
<path d="M345 298.31H361.7" stroke="#5a9e94" stroke-width="0.85"/>
<text x="362.7" y="301.51" font-size="9" text-anchor="start" fill="#111" textLength="37.3" lengthAdjust="spacingAndGlyphs">1%, 90°C</text>
<rect x="635.7" y="252.3" width="260.3" height="191.9" fill="none" stroke="#505050" stroke-width="1.1"/>
<path d="M635.7 444.2v3 M655.29 444.2v1.6 M666.75 444.2v1.6 M674.88 444.2v1.6 M681.19 444.2v1.6 M686.34 444.2v1.6 M690.69 444.2v1.6 M694.47 444.2v1.6 M697.8 444.2v1.6 M700.78 444.2v3 M720.36 444.2v1.6 M731.82 444.2v1.6 M739.95 444.2v1.6 M746.26 444.2v1.6 M751.41 444.2v1.6 M755.77 444.2v1.6 M759.54 444.2v1.6 M762.87 444.2v1.6 M765.85 444.2v3 M785.44 444.2v1.6 M796.9 444.2v1.6 M805.03 444.2v1.6 M811.34 444.2v1.6 M816.49 444.2v1.6 M820.84 444.2v1.6 M824.62 444.2v1.6 M827.95 444.2v1.6 M830.92 444.2v3 M850.51 444.2v1.6 M861.97 444.2v1.6 M870.1 444.2v1.6 M876.41 444.2v1.6 M881.56 444.2v1.6 M885.92 444.2v1.6 M889.69 444.2v1.6 M893.02 444.2v1.6 M896 444.2v3 M635.7 444.2h-3 M635.7 425.01h-1.6 M635.7 405.82h-3 M635.7 386.63h-1.6 M635.7 367.44h-3 M635.7 348.25h-1.6 M635.7 329.06h-3 M635.7 309.87h-1.6 M635.7 290.68h-3 M635.7 271.49h-1.6 M635.7 252.3h-3" stroke="#505050" stroke-width="0.8" fill="none"/>
<text x="635.7" y="457.7" font-size="7.3" text-anchor="middle" fill="#222">10<tspan font-size="4.53" dy="-2.77">−1</tspan></text>
<text x="700.78" y="457.7" font-size="7.3" text-anchor="middle" fill="#222">10<tspan font-size="4.53" dy="-2.77">0</tspan></text>
<text x="765.85" y="457.7" font-size="7.3" text-anchor="middle" fill="#222">10<tspan font-size="4.53" dy="-2.77">1</tspan></text>
<text x="830.92" y="457.7" font-size="7.3" text-anchor="middle" fill="#222">10<tspan font-size="4.53" dy="-2.77">2</tspan></text>
<text x="896" y="457.7" font-size="7.3" text-anchor="middle" fill="#222">10<tspan font-size="4.53" dy="-2.77">3</tspan></text>
<text x="630.7" y="446.7" font-size="7.3" text-anchor="end" fill="#222" >0</text>
<text x="630.7" y="408.32" font-size="7.3" text-anchor="end" fill="#222" >2</text>
<text x="630.7" y="369.94" font-size="7.3" text-anchor="end" fill="#222" >4</text>
<text x="630.7" y="331.56" font-size="7.3" text-anchor="end" fill="#222" >6</text>
<text x="630.7" y="293.18" font-size="7.3" text-anchor="end" fill="#222" >8</text>
<text x="630.7" y="254.8" font-size="7.3" text-anchor="end" fill="#222" >10</text>
<text x="765.85" y="466.3" font-size="9.2" text-anchor="middle" fill="#111" textLength="69.5" lengthAdjust="spacingAndGlyphs">Particle size (μm)</text>
<text x="0" y="0" font-size="9.2" text-anchor="middle" fill="#111" transform="translate(621.1,348.25) rotate(-90)" textLength="49" lengthAdjust="spacingAndGlyphs">Volume (%)</text>
<text x="612.7" y="260.2" font-size="12.5" text-anchor="start" fill="#000" >F</text>
<path d="M668.89 444.2 L669.97 442.95 L671.05 441.74 L672.13 440.59 L673.21 439.49 L674.29 438.45 L675.37 437.46 L676.45 436.53 L677.53 435.65 L678.61 434.84 L679.7 434.09 L680.78 433.41 L681.86 432.79 L682.94 432.24 L684.02 431.76 L685.1 431.34 L686.18 431 L687.26 430.73 L688.34 430.54 L689.42 430.42 L690.5 430.38 L691.58 430.44 L692.66 430.61 L693.74 430.87 L694.83 431.19 L695.91 431.56 L696.99 431.96 L698.07 432.36 L699.15 432.76 L700.23 433.12 L701.31 433.42 L702.39 433.66 L703.47 433.8 L704.55 433.84 L705.63 433.82 L706.71 433.79 L707.79 433.74 L708.87 433.69 L709.96 433.63 L711.04 433.57 L712.12 433.52 L713.2 433.48 L714.28 433.46 L715.36 433.46 L716.44 433.6 L717.52 433.86 L718.6 434.23 L719.68 434.7 L720.76 435.24 L721.84 435.83 L722.92 436.45 L724 437.07 L725.09 437.69 L726.17 438.27 L727.25 438.8 L728.33 439.26 L729.41 439.62 L730.49 439.86 L731.57 439.97 L732.65 439.89 L733.73 439.51 L734.81 438.87 L735.89 437.99 L736.97 436.92 L738.05 435.68 L739.13 434.3 L740.22 432.82 L741.3 431.26 L742.38 429.66 L743.46 428.04 L744.54 426.45 L745.62 424.91 L746.7 423.45 L747.78 422.07 L748.86 420.69 L749.94 419.3 L751.02 417.9 L752.1 416.47 L753.18 415.02 L754.26 413.54 L755.35 412.03 L756.43 410.47 L757.51 408.86 L758.59 407.2 L759.67 405.49 L760.75 403.71 L761.83 401.86 L762.91 399.93 L763.99 397.93 L765.07 395.83 L766.15 393.59 L767.23 391.17 L768.31 388.6 L769.39 385.88 L770.47 383.02 L771.56 380.04 L772.64 376.96 L773.72 373.79 L774.8 370.53 L775.88 367.21 L776.96 363.84 L778.04 360.27 L779.12 356.41 L780.2 352.32 L781.28 348.05 L782.36 343.68 L783.44 339.26 L784.52 334.84 L785.6 330.48 L786.69 326.25 L787.77 322.21 L788.85 318.4 L789.93 314.78 L791.01 310.94 L792.09 306.92 L793.17 302.8 L794.25 298.66 L795.33 294.61 L796.41 290.72 L797.49 287.07 L798.57 283.77 L799.65 280.88 L800.73 278.51 L801.82 276.74 L802.9 275.65 L803.98 275.34 L805.06 276.26 L806.14 278.53 L807.22 281.92 L808.3 286.24 L809.38 291.26 L810.46 296.78 L811.54 302.58 L812.62 308.45 L813.7 314.18 L814.78 319.55 L815.86 324.47 L816.95 329.43 L818.03 334.51 L819.11 339.7 L820.19 344.99 L821.27 350.37 L822.35 355.84 L823.43 361.39 L824.51 367 L825.59 372.67 L826.67 378.52 L827.75 384.57 L828.83 390.75 L829.91 396.99 L830.99 403.22 L832.08 409.4 L833.16 415.44 L834.24 421.29 L835.32 428.01 L836.4 435.25 L837.48 441.22 L838.56 444.13 L839.64 444.2 L840.72 444.2 L841.8 444.2 L842.88 444.2 L843.96 444.2 L845.04 444.2 L846.12 444.2 L847.21 444.2 L848.29 444.2 L849.37 444.2 L850.45 444.2" stroke="#585858" stroke-width="0.95" fill="none"/>
<path d="M668.89 444.2 L669.97 442.93 L671.05 441.71 L672.13 440.54 L673.21 439.42 L674.29 438.35 L675.37 437.34 L676.45 436.38 L677.53 435.48 L678.61 434.65 L679.7 433.87 L680.78 433.16 L681.86 432.52 L682.94 431.94 L684.02 431.44 L685.1 431.01 L686.18 430.65 L687.26 430.37 L688.34 430.16 L689.42 430.04 L690.5 430 L691.58 430.05 L692.66 430.2 L693.74 430.43 L694.83 430.72 L695.91 431.05 L696.99 431.4 L698.07 431.76 L699.15 432.11 L700.23 432.43 L701.31 432.7 L702.39 432.91 L703.47 433.04 L704.55 433.07 L705.63 433.07 L706.71 433.07 L707.79 433.07 L708.87 433.07 L709.96 433.07 L711.04 433.07 L712.12 433.07 L713.2 433.07 L714.28 433.07 L715.36 433.08 L716.44 433.23 L717.52 433.52 L718.6 433.94 L719.68 434.47 L720.76 435.07 L721.84 435.72 L722.92 436.41 L724 437.11 L725.09 437.8 L726.17 438.45 L727.25 439.04 L728.33 439.55 L729.41 439.96 L730.49 440.23 L731.57 440.36 L732.65 440.29 L733.73 439.97 L734.81 439.44 L735.89 438.71 L736.97 437.81 L738.05 436.77 L739.13 435.6 L740.22 434.34 L741.3 433 L742.38 431.62 L743.46 430.21 L744.54 428.8 L745.62 427.42 L746.7 426.09 L747.78 424.84 L748.86 423.61 L749.94 422.37 L751.02 421.12 L752.1 419.85 L753.18 418.55 L754.26 417.23 L755.35 415.87 L756.43 414.47 L757.51 413.04 L758.59 411.55 L759.67 410.02 L760.75 408.43 L761.83 406.79 L762.91 405.07 L763.99 403.3 L765.07 401.44 L766.15 399.51 L767.23 397.42 L768.31 395.15 L769.39 392.73 L770.47 390.17 L771.56 387.48 L772.64 384.69 L773.72 381.82 L774.8 378.87 L775.88 375.87 L776.96 372.83 L778.04 369.78 L779.12 366.71 L780.2 363.5 L781.28 360.1 L782.36 356.56 L783.44 352.92 L784.52 349.2 L785.6 345.47 L786.69 341.74 L787.77 338.06 L788.85 334.48 L789.93 331.02 L791.01 327.73 L792.09 324.63 L793.17 321.44 L794.25 318.06 L795.33 314.56 L796.41 311.03 L797.49 307.54 L798.57 304.16 L799.65 300.98 L800.73 298.07 L801.82 295.51 L802.9 293.37 L803.98 291.74 L805.06 290.69 L806.14 290.3 L807.22 290.74 L808.3 292.1 L809.38 294.25 L810.46 297.05 L811.54 300.4 L812.62 304.15 L813.7 308.19 L814.78 312.38 L815.86 316.61 L816.95 320.8 L818.03 325.7 L819.11 331.42 L820.19 337.76 L821.27 344.52 L822.35 351.52 L823.43 358.55 L824.51 365.41 L825.59 371.91 L826.67 377.89 L827.75 383.7 L828.83 389.47 L829.91 395.18 L830.99 400.79 L832.08 406.26 L833.16 411.57 L834.24 416.67 L835.32 421.53 L836.4 426.16 L837.48 431.3 L838.56 436.53 L839.64 440.97 L840.72 443.73 L841.8 444.2 L842.88 444.2 L843.96 444.2 L845.04 444.2 L846.12 444.2 L847.21 444.2 L848.29 444.2 L849.37 444.2 L850.45 444.2" stroke="#b87880" stroke-width="0.95" fill="none"/>
<path d="M668.24 444.2 L669.3 443.65 L670.36 443.15 L671.42 442.69 L672.48 442.29 L673.54 441.93 L674.6 441.61 L675.66 441.33 L676.72 441.1 L677.78 440.9 L678.84 440.73 L679.9 440.6 L680.96 440.5 L682.02 440.43 L683.08 440.38 L684.14 440.36 L685.21 440.38 L686.27 440.46 L687.33 440.6 L688.39 440.8 L689.45 441.06 L690.51 441.38 L691.57 441.74 L692.63 442.15 L693.69 442.61 L694.75 443.1 L695.81 443.64 L696.87 444.2" stroke="#5870a0" stroke-width="0.95" fill="none"/>
<path d="M728.76 444.2 L729.84 442.13 L730.91 440.11 L731.99 438.12 L733.07 436.17 L734.15 434.27 L735.23 432.41 L736.3 430.6 L737.38 428.83 L738.46 427.11 L739.54 425.44 L740.61 423.83 L741.69 422.26 L742.77 420.75 L743.85 419.3 L744.93 417.91 L746 416.57 L747.08 415.29 L748.16 414.11 L749.24 413.03 L750.32 412.03 L751.39 411.1 L752.47 410.21 L753.55 409.35 L754.63 408.5 L755.71 407.64 L756.78 406.76 L757.86 405.84 L758.94 404.85 L760.02 403.78 L761.1 402.62 L762.17 401.34 L763.25 399.89 L764.33 398.24 L765.41 396.42 L766.49 394.47 L767.56 392.41 L768.64 390.27 L769.72 388.1 L770.8 385.91 L771.88 383.74 L772.95 381.61 L774.03 379.43 L775.11 377.2 L776.19 374.93 L777.27 372.61 L778.34 370.27 L779.42 367.9 L780.5 365.52 L781.58 363.13 L782.66 360.75 L783.73 358.37 L784.81 356 L785.89 353.66 L786.97 351.34 L788.05 349.06 L789.12 346.67 L790.2 344.07 L791.28 341.32 L792.36 338.45 L793.43 335.53 L794.51 332.6 L795.59 329.71 L796.67 326.9 L797.75 324.22 L798.82 321.73 L799.9 319.47 L800.98 317.49 L802.06 315.84 L803.14 314.57 L804.21 313.72 L805.29 313.34 L806.37 313.52 L807.45 314.3 L808.53 315.63 L809.6 317.42 L810.68 319.6 L811.76 322.1 L812.84 324.83 L813.92 327.73 L814.99 330.72 L816.07 333.72 L817.15 336.66 L818.23 339.49 L819.31 342.57 L820.38 345.99 L821.46 349.66 L822.54 353.51 L823.62 357.48 L824.7 361.48 L825.77 365.44 L826.85 369.3 L827.93 372.96 L829.01 376.37 L830.09 379.63 L831.16 382.88 L832.24 386.11 L833.32 389.31 L834.4 392.48 L835.48 395.6 L836.55 398.68 L837.63 401.7 L838.71 404.65 L839.79 407.53 L840.87 410.33 L841.94 413.05 L843.02 415.67 L844.1 418.19 L845.18 420.59 L846.25 422.88 L847.33 425.13 L848.41 427.49 L849.49 429.93 L850.57 432.36 L851.64 434.73 L852.72 436.98 L853.8 439.04 L854.88 440.84 L855.96 442.31 L857.03 443.41 L858.11 444.05 L859.19 444.2 L860.27 444.2 L861.35 444.2 L862.42 444.2 L863.5 444.2 L864.58 444.2 L865.66 444.2 L866.74 444.2 L867.81 444.2 L868.89 444.2 L869.97 444.2" stroke="#5870a0" stroke-width="0.95" fill="none"/>
<path d="M656.78 444.2 L657.86 443.23 L658.93 442.32 L660 441.45 L661.08 440.64 L662.15 439.88 L663.22 439.17 L664.29 438.5 L665.37 437.89 L666.44 437.33 L667.51 436.81 L668.59 436.34 L669.66 435.91 L670.73 435.53 L671.81 435.19 L672.88 434.9 L673.95 434.65 L675.02 434.45 L676.1 434.28 L677.17 434.16 L678.24 434.08 L679.32 434.04 L680.39 434.03 L681.46 434.09 L682.53 434.2 L683.61 434.37 L684.68 434.6 L685.75 434.88 L686.83 435.21 L687.9 435.6 L688.97 436.05 L690.05 436.54 L691.12 437.09 L692.19 437.69 L693.26 438.34 L694.34 439.04 L695.41 439.78 L696.48 440.57 L697.56 441.41 L698.63 442.3 L699.7 443.23 L700.78 444.2" stroke="#5a9e94" stroke-width="0.95" fill="none"/>
<path d="M730.06 444.2 L731.13 442.2 L732.21 440.23 L733.29 438.31 L734.36 436.42 L735.44 434.57 L736.52 432.76 L737.59 430.99 L738.67 429.26 L739.74 427.57 L740.82 425.93 L741.9 424.32 L742.97 422.76 L744.05 421.24 L745.13 419.77 L746.2 418.34 L747.28 416.95 L748.35 415.54 L749.43 414.1 L750.51 412.67 L751.58 411.26 L752.66 409.89 L753.74 408.59 L754.81 407.39 L755.89 406.31 L756.96 405.36 L758.04 404.59 L759.12 404 L760.19 403.58 L761.27 403.26 L762.35 403 L763.42 402.78 L764.5 402.59 L765.57 402.39 L766.65 402.17 L767.73 401.91 L768.8 401.58 L769.88 401.16 L770.96 400.46 L772.03 399.4 L773.11 398.01 L774.18 396.32 L775.26 394.36 L776.34 392.17 L777.41 389.77 L778.49 387.21 L779.57 384.5 L780.64 381.68 L781.72 378.79 L782.79 375.85 L783.87 372.9 L784.95 369.96 L786.02 367.08 L787.1 364.28 L788.18 361.59 L789.25 359.05 L790.33 356.46 L791.4 353.6 L792.48 350.53 L793.56 347.29 L794.63 343.93 L795.71 340.49 L796.79 337.03 L797.86 333.59 L798.94 330.23 L800.01 326.98 L801.09 323.89 L802.17 321.02 L803.24 318.41 L804.32 316.1 L805.4 314.16 L806.47 312.61 L807.55 311.52 L808.62 310.93 L809.7 310.88 L810.78 311.42 L811.85 312.47 L812.93 313.98 L814.01 315.86 L815.08 318.06 L816.16 320.49 L817.23 323.09 L818.31 325.79 L819.39 328.52 L820.46 331.21 L821.54 333.81 L822.62 336.66 L823.69 339.82 L824.77 343.23 L825.84 346.84 L826.92 350.61 L828 354.49 L829.07 358.42 L830.15 362.35 L831.23 366.24 L832.3 370.03 L833.38 373.68 L834.45 377.14 L835.53 380.58 L836.61 384.06 L837.68 387.56 L838.76 391.06 L839.84 394.55 L840.91 398 L841.99 401.39 L843.06 404.7 L844.14 407.91 L845.22 411.01 L846.29 413.96 L847.37 416.76 L848.45 419.38 L849.52 421.82 L850.6 424.33 L851.67 426.91 L852.75 429.52 L853.83 432.09 L854.9 434.57 L855.98 436.88 L857.06 438.99 L858.13 440.81 L859.21 442.31 L860.28 443.4 L861.36 444.05 L862.44 444.2 L863.51 444.2 L864.59 444.2 L865.67 444.2 L866.74 444.2 L867.82 444.2 L868.89 444.2 L869.97 444.2" stroke="#5a9e94" stroke-width="0.95" fill="none"/>
<path d="M646 263.3H663.3" stroke="#585858" stroke-width="0.85"/>
<text x="665" y="266.5" font-size="9" text-anchor="start" fill="#111" textLength="40.5" lengthAdjust="spacingAndGlyphs">0%, 0 day</text>
<path d="M646 274.97H663.3" stroke="#b87880" stroke-width="0.85"/>
<text x="665" y="278.17" font-size="9" text-anchor="start" fill="#111" textLength="45" lengthAdjust="spacingAndGlyphs">0%, 7 days</text>
<path d="M646 286.64H663.3" stroke="#5870a0" stroke-width="0.85"/>
<text x="665" y="289.84" font-size="9" text-anchor="start" fill="#111" textLength="40.5" lengthAdjust="spacingAndGlyphs">1%, 0 day</text>
<path d="M646 298.31H663.3" stroke="#5a9e94" stroke-width="0.85"/>
<text x="665" y="301.51" font-size="9" text-anchor="start" fill="#111" textLength="45" lengthAdjust="spacingAndGlyphs">1%, 7 days</text>
<text x="16.2" y="503.6" font-size="14.5" text-anchor="start" fill="#000" >G</text>
<text x="133.5" y="504.2" font-size="16" text-anchor="start" fill="#000" textLength="61.4" lengthAdjust="spacingAndGlyphs">Normal</text>
<text x="274.7" y="504.2" font-size="16" text-anchor="start" fill="#000" textLength="121.4" lengthAdjust="spacingAndGlyphs">Heated at 50°C</text>
<text x="439.6" y="504.2" font-size="16" text-anchor="start" fill="#000" textLength="122.2" lengthAdjust="spacingAndGlyphs">Heated at 70°C</text>
<text x="604.7" y="504.2" font-size="16" text-anchor="start" fill="#000" textLength="122.1" lengthAdjust="spacingAndGlyphs">Heated at 90°C</text>
<text x="770.7" y="504.2" font-size="16" text-anchor="start" fill="#000" textLength="118.3" lengthAdjust="spacingAndGlyphs">7 Days storage</text>
<text x="19.2" y="568" font-size="16" text-anchor="start" fill="#000" textLength="72.4" lengthAdjust="spacingAndGlyphs">Pure PPI</text>
<text x="23.6" y="689.5" font-size="16" text-anchor="start" fill="#000" textLength="60.8" lengthAdjust="spacingAndGlyphs">PPI-PC</text>
<clipPath id="cl1"><rect x="98.3" y="507.9" width="149.4" height="120"/></clipPath>
<g clip-path="url(#cl1)"><g filter="url(#mblur)">
<rect x="95.3" y="504.9" width="155.4" height="126" fill="#548444"/>
<g fill="#468a48" opacity="0.5" filter="url(#blur3)"><circle cx="118.37" cy="609.59" r="12.11"/><circle cx="136.41" cy="567.35" r="9.6"/><circle cx="195.65" cy="602.55" r="6.75"/><circle cx="102.54" cy="608.19" r="9.46"/><circle cx="212.18" cy="508.15" r="9.56"/><circle cx="206.1" cy="535.35" r="13.56"/><circle cx="232.97" cy="511.57" r="6.2"/><circle cx="179.19" cy="620.6" r="9.05"/><circle cx="130.66" cy="558.55" r="6.23"/><circle cx="131.42" cy="560.45" r="9.97"/><circle cx="133.12" cy="535.6" r="7.75"/><circle cx="166.96" cy="542.67" r="6.17"/><circle cx="223.43" cy="574.67" r="11.14"/><circle cx="126.07" cy="627.01" r="12.88"/><circle cx="116.36" cy="547.82" r="11.77"/><circle cx="204.55" cy="620.27" r="9.38"/><circle cx="222.31" cy="588.34" r="8.43"/><circle cx="186.08" cy="613.8" r="12.77"/><circle cx="173.79" cy="578.58" r="6.28"/><circle cx="134.57" cy="603.59" r="9.31"/><circle cx="124.15" cy="573.76" r="11.62"/><circle cx="199.07" cy="552.86" r="9.51"/><circle cx="174.26" cy="601.31" r="10.17"/><circle cx="157.05" cy="566.66" r="6.24"/><circle cx="104.8" cy="592.31" r="13.87"/><circle cx="186.92" cy="555.13" r="7.36"/><circle cx="173.33" cy="625.75" r="12.16"/><circle cx="178.92" cy="611.13" r="7.86"/></g>
<g fill="#6a8042" opacity="0.4" filter="url(#blur3)"><circle cx="175.06" cy="622.2" r="9.47"/><circle cx="166.89" cy="540.21" r="9.29"/><circle cx="241.29" cy="508.59" r="10.7"/><circle cx="220.88" cy="614.24" r="10.44"/><circle cx="219.19" cy="570.14" r="9.37"/><circle cx="161.96" cy="514.63" r="11.22"/><circle cx="183.46" cy="531.88" r="9.03"/><circle cx="170.75" cy="550.71" r="8.08"/><circle cx="178.75" cy="582.72" r="9.67"/><circle cx="166.75" cy="511.26" r="7.38"/><circle cx="124.78" cy="578.04" r="11.17"/><circle cx="217.59" cy="603.55" r="10.9"/><circle cx="136.44" cy="608.91" r="10.04"/><circle cx="110.74" cy="509.9" r="6.09"/><circle cx="211.18" cy="537.85" r="6.66"/><circle cx="191.65" cy="549.23" r="6.42"/><circle cx="122.15" cy="571.19" r="7.01"/><circle cx="139.07" cy="593.29" r="8.73"/><circle cx="146.41" cy="564.75" r="6.14"/><circle cx="156.05" cy="558.41" r="7.13"/><circle cx="114.55" cy="615.88" r="9.06"/><circle cx="129.54" cy="580.58" r="10.9"/></g>
<g fill="#d8502e" opacity="0.8" filter="url(#sblur)"><ellipse cx="101.41" cy="510.04" rx="0.91" ry="0.5" transform="rotate(41 101.41 510.04)"/><ellipse cx="164.88" cy="568.66" rx="1.37" ry="0.7" transform="rotate(161 164.88 568.66)"/><ellipse cx="217.49" cy="569.89" rx="0.95" ry="0.56" transform="rotate(101 217.49 569.89)"/><ellipse cx="199.13" cy="604.31" rx="1.2" ry="0.86" transform="rotate(76 199.13 604.31)"/><ellipse cx="117.08" cy="533.36" rx="0.39" ry="0.43" transform="rotate(19 117.08 533.36)"/><ellipse cx="144.67" cy="620.61" rx="1.27" ry="0.92" transform="rotate(64 144.67 620.61)"/><ellipse cx="117.78" cy="575.19" rx="1.62" ry="1" transform="rotate(55 117.78 575.19)"/><ellipse cx="242.05" cy="576.33" rx="1.05" ry="0.52" transform="rotate(180 242.05 576.33)"/><ellipse cx="191.37" cy="512.39" rx="0.51" ry="0.54" transform="rotate(146 191.37 512.39)"/><ellipse cx="199.02" cy="559.85" rx="0.51" ry="0.54" transform="rotate(170 199.02 559.85)"/><ellipse cx="156.58" cy="568.39" rx="0.68" ry="0.41" transform="rotate(102 156.58 568.39)"/><ellipse cx="232.71" cy="510.07" rx="0.68" ry="0.54" transform="rotate(144 232.71 510.07)"/><ellipse cx="215.24" cy="548.59" rx="0.96" ry="0.55" transform="rotate(97 215.24 548.59)"/><ellipse cx="237.57" cy="549.16" rx="1.79" ry="1.02" transform="rotate(124 237.57 549.16)"/><ellipse cx="213.03" cy="571.8" rx="0.38" ry="0.45" transform="rotate(34 213.03 571.8)"/><ellipse cx="123.65" cy="617.22" rx="1.02" ry="0.55" transform="rotate(153 123.65 617.22)"/><ellipse cx="173.88" cy="538.53" rx="0.61" ry="0.64" transform="rotate(60 173.88 538.53)"/><ellipse cx="227.89" cy="580.38" rx="2.18" ry="1.07" transform="rotate(34 227.89 580.38)"/><ellipse cx="184.95" cy="600.33" rx="0.86" ry="0.62" transform="rotate(97 184.95 600.33)"/><ellipse cx="227.71" cy="602.47" rx="1.25" ry="0.98" transform="rotate(157 227.71 602.47)"/><ellipse cx="186.06" cy="619.04" rx="0.71" ry="0.45" transform="rotate(144 186.06 619.04)"/><ellipse cx="110.51" cy="539.91" rx="1.63" ry="1.02" transform="rotate(29 110.51 539.91)"/><ellipse cx="166.69" cy="541.16" rx="1.86" ry="0.95" transform="rotate(3 166.69 541.16)"/><ellipse cx="189.98" cy="509.65" rx="1.35" ry="0.69" transform="rotate(10 189.98 509.65)"/><ellipse cx="126.38" cy="602.16" rx="0.83" ry="0.81" transform="rotate(115 126.38 602.16)"/><ellipse cx="123.31" cy="536.87" rx="0.87" ry="0.92" transform="rotate(96 123.31 536.87)"/><ellipse cx="218.79" cy="573.05" rx="1.53" ry="0.97" transform="rotate(122 218.79 573.05)"/><ellipse cx="145.28" cy="532.81" rx="0.52" ry="0.62" transform="rotate(75 145.28 532.81)"/><ellipse cx="206.84" cy="546.33" rx="0.92" ry="0.67" transform="rotate(16 206.84 546.33)"/><ellipse cx="234.76" cy="624.28" rx="1.03" ry="1.08" transform="rotate(55 234.76 624.28)"/><ellipse cx="215.6" cy="601.25" rx="2.06" ry="1.02" transform="rotate(120 215.6 601.25)"/><ellipse cx="197.18" cy="538.99" rx="0.96" ry="0.78" transform="rotate(63 197.18 538.99)"/><ellipse cx="152.15" cy="606.3" rx="0.86" ry="0.46" transform="rotate(23 152.15 606.3)"/><ellipse cx="195.71" cy="585.12" rx="1.43" ry="1.06" transform="rotate(78 195.71 585.12)"/><ellipse cx="104.43" cy="530.32" rx="1.54" ry="0.95" transform="rotate(77 104.43 530.32)"/><ellipse cx="135.03" cy="520.01" rx="1.6" ry="0.83" transform="rotate(23 135.03 520.01)"/><ellipse cx="134.92" cy="510.34" rx="0.51" ry="0.57" transform="rotate(141 134.92 510.34)"/><ellipse cx="227.91" cy="595.4" rx="0.34" ry="0.42" transform="rotate(91 227.91 595.4)"/><ellipse cx="171.99" cy="611.42" rx="0.76" ry="0.51" transform="rotate(83 171.99 611.42)"/><ellipse cx="109.82" cy="621.81" rx="0.98" ry="0.52" transform="rotate(36 109.82 621.81)"/><ellipse cx="221.04" cy="546.27" rx="0.72" ry="0.47" transform="rotate(154 221.04 546.27)"/><ellipse cx="142.15" cy="615.15" rx="1.04" ry="0.5" transform="rotate(8 142.15 615.15)"/><ellipse cx="214.79" cy="606.42" rx="1.46" ry="0.84" transform="rotate(141 214.79 606.42)"/><ellipse cx="223.9" cy="597.44" rx="0.93" ry="0.88" transform="rotate(110 223.9 597.44)"/><ellipse cx="178.6" cy="513.73" rx="1.15" ry="1" transform="rotate(16 178.6 513.73)"/><ellipse cx="200.2" cy="561.5" rx="0.81" ry="0.7" transform="rotate(112 200.2 561.5)"/><ellipse cx="225.48" cy="562.3" rx="0.86" ry="0.68" transform="rotate(66 225.48 562.3)"/><ellipse cx="170.88" cy="603.07" rx="2.28" ry="1.05" transform="rotate(4 170.88 603.07)"/><ellipse cx="107.61" cy="550.49" rx="0.48" ry="0.5" transform="rotate(66 107.61 550.49)"/><ellipse cx="245.19" cy="541.13" rx="0.83" ry="0.79" transform="rotate(22 245.19 541.13)"/><ellipse cx="133.19" cy="508.8" rx="1.16" ry="0.77" transform="rotate(166 133.19 508.8)"/><ellipse cx="235.81" cy="619.51" rx="0.95" ry="0.85" transform="rotate(80 235.81 619.51)"/><ellipse cx="172.26" cy="565.36" rx="0.77" ry="0.56" transform="rotate(143 172.26 565.36)"/><ellipse cx="189.63" cy="595.29" rx="1.85" ry="0.86" transform="rotate(56 189.63 595.29)"/><ellipse cx="105.5" cy="516.49" rx="1.54" ry="0.76" transform="rotate(40 105.5 516.49)"/><ellipse cx="174.74" cy="603" rx="0.66" ry="0.54" transform="rotate(76 174.74 603)"/><ellipse cx="225.14" cy="552.49" rx="1.63" ry="0.89" transform="rotate(152 225.14 552.49)"/><ellipse cx="110.99" cy="522.69" rx="1.25" ry="0.82" transform="rotate(96 110.99 522.69)"/><ellipse cx="124.64" cy="537.97" rx="0.88" ry="0.55" transform="rotate(13 124.64 537.97)"/><ellipse cx="172.26" cy="555.13" rx="1.13" ry="0.85" transform="rotate(42 172.26 555.13)"/><ellipse cx="179.61" cy="627.22" rx="0.71" ry="0.77" transform="rotate(65 179.61 627.22)"/><ellipse cx="192.19" cy="540" rx="2.23" ry="1.04" transform="rotate(35 192.19 540)"/><ellipse cx="243.1" cy="581.93" rx="1.9" ry="1.08" transform="rotate(20 243.1 581.93)"/><ellipse cx="164.79" cy="618.82" rx="1.44" ry="1.08" transform="rotate(110 164.79 618.82)"/><ellipse cx="157.65" cy="617.11" rx="1.18" ry="0.71" transform="rotate(124 157.65 617.11)"/><ellipse cx="241.64" cy="522.2" rx="1.13" ry="0.82" transform="rotate(30 241.64 522.2)"/><ellipse cx="196.98" cy="541.22" rx="1.05" ry="0.67" transform="rotate(48 196.98 541.22)"/><ellipse cx="177.24" cy="577.39" rx="0.91" ry="0.42" transform="rotate(62 177.24 577.39)"/><ellipse cx="223.1" cy="532.69" rx="0.93" ry="0.6" transform="rotate(69 223.1 532.69)"/><ellipse cx="144.78" cy="598.79" rx="1.4" ry="0.98" transform="rotate(43 144.78 598.79)"/><ellipse cx="179.78" cy="566.8" rx="1.87" ry="1" transform="rotate(146 179.78 566.8)"/><ellipse cx="229.61" cy="532.48" rx="2" ry="0.97" transform="rotate(6 229.61 532.48)"/><ellipse cx="115.94" cy="597.57" rx="1.68" ry="0.78" transform="rotate(166 115.94 597.57)"/><ellipse cx="118.71" cy="567.94" rx="0.99" ry="0.8" transform="rotate(128 118.71 567.94)"/><ellipse cx="199.48" cy="598.93" rx="0.61" ry="0.63" transform="rotate(115 199.48 598.93)"/><ellipse cx="150.62" cy="572.62" rx="1.16" ry="0.64" transform="rotate(146 150.62 572.62)"/><ellipse cx="171.85" cy="585.62" rx="0.72" ry="0.66" transform="rotate(0 171.85 585.62)"/><ellipse cx="246.93" cy="584.16" rx="1.66" ry="0.91" transform="rotate(130 246.93 584.16)"/><ellipse cx="128.01" cy="618.7" rx="1.25" ry="0.82" transform="rotate(78 128.01 618.7)"/><ellipse cx="203.31" cy="561.83" rx="0.93" ry="0.87" transform="rotate(134 203.31 561.83)"/><ellipse cx="98.83" cy="554.6" rx="0.95" ry="0.7" transform="rotate(159 98.83 554.6)"/><ellipse cx="185.61" cy="595.96" rx="1.9" ry="1.03" transform="rotate(126 185.61 595.96)"/><ellipse cx="245.85" cy="537.62" rx="1.3" ry="1.08" transform="rotate(5 245.85 537.62)"/><ellipse cx="159.11" cy="583.41" rx="1.78" ry="0.84" transform="rotate(69 159.11 583.41)"/><ellipse cx="224.73" cy="600" rx="1.6" ry="0.97" transform="rotate(89 224.73 600)"/><ellipse cx="234.65" cy="603.7" rx="1.21" ry="0.69" transform="rotate(77 234.65 603.7)"/><ellipse cx="121.02" cy="607.86" rx="1.07" ry="0.74" transform="rotate(11 121.02 607.86)"/><ellipse cx="138.76" cy="519.74" rx="0.73" ry="0.81" transform="rotate(17 138.76 519.74)"/><ellipse cx="196.43" cy="510.27" rx="1.6" ry="0.76" transform="rotate(176 196.43 510.27)"/><ellipse cx="112.2" cy="584.22" rx="0.73" ry="0.59" transform="rotate(135 112.2 584.22)"/><ellipse cx="129.33" cy="614.22" rx="0.53" ry="0.59" transform="rotate(133 129.33 614.22)"/><ellipse cx="196.72" cy="564.05" rx="0.69" ry="0.79" transform="rotate(76 196.72 564.05)"/><ellipse cx="195.87" cy="593.51" rx="1.14" ry="0.97" transform="rotate(156 195.87 593.51)"/><ellipse cx="208.83" cy="555.01" rx="1" ry="0.68" transform="rotate(66 208.83 555.01)"/><ellipse cx="227.79" cy="547.46" rx="1.19" ry="0.56" transform="rotate(180 227.79 547.46)"/><ellipse cx="134.79" cy="587.2" rx="2.01" ry="1" transform="rotate(103 134.79 587.2)"/><ellipse cx="145.59" cy="559.71" rx="1.77" ry="0.93" transform="rotate(48 145.59 559.71)"/><ellipse cx="109.14" cy="595.78" rx="1.63" ry="1.01" transform="rotate(148 109.14 595.78)"/><ellipse cx="234.72" cy="595.29" rx="0.96" ry="0.82" transform="rotate(134 234.72 595.29)"/><ellipse cx="122.58" cy="601.32" rx="1.45" ry="1.03" transform="rotate(79 122.58 601.32)"/><ellipse cx="210.56" cy="536.76" rx="1.63" ry="0.9" transform="rotate(78 210.56 536.76)"/><ellipse cx="108.49" cy="535.21" rx="1.31" ry="0.62" transform="rotate(47 108.49 535.21)"/><ellipse cx="105.02" cy="605.04" rx="0.77" ry="0.42" transform="rotate(174 105.02 605.04)"/><ellipse cx="103.49" cy="592.37" rx="2.09" ry="0.97" transform="rotate(156 103.49 592.37)"/><ellipse cx="164.38" cy="587.45" rx="0.98" ry="0.59" transform="rotate(44 164.38 587.45)"/><ellipse cx="112.53" cy="555.86" rx="0.99" ry="0.75" transform="rotate(43 112.53 555.86)"/><ellipse cx="243.73" cy="536.19" rx="0.94" ry="0.6" transform="rotate(99 243.73 536.19)"/><ellipse cx="129.96" cy="593.69" rx="1.03" ry="0.63" transform="rotate(54 129.96 593.69)"/><ellipse cx="246.86" cy="513.45" rx="1.92" ry="0.96" transform="rotate(81 246.86 513.45)"/><ellipse cx="231.09" cy="609.65" rx="0.65" ry="0.6" transform="rotate(40 231.09 609.65)"/><ellipse cx="229.78" cy="598.93" rx="1.05" ry="0.51" transform="rotate(3 229.78 598.93)"/><ellipse cx="156.16" cy="613.06" rx="1.24" ry="0.78" transform="rotate(65 156.16 613.06)"/><ellipse cx="117.72" cy="563.45" rx="2.04" ry="0.99" transform="rotate(9 117.72 563.45)"/><ellipse cx="178.52" cy="570.89" rx="1.03" ry="0.49" transform="rotate(30 178.52 570.89)"/><ellipse cx="162.92" cy="530.71" rx="0.74" ry="0.75" transform="rotate(71 162.92 530.71)"/><ellipse cx="200.9" cy="609.37" rx="1.16" ry="0.86" transform="rotate(161 200.9 609.37)"/><ellipse cx="138.34" cy="539.08" rx="0.97" ry="0.84" transform="rotate(150 138.34 539.08)"/><ellipse cx="238.01" cy="578.76" rx="1.06" ry="0.64" transform="rotate(143 238.01 578.76)"/><ellipse cx="193.67" cy="624.2" rx="1.62" ry="1.03" transform="rotate(137 193.67 624.2)"/><ellipse cx="128.09" cy="613.51" rx="1.2" ry="0.7" transform="rotate(68 128.09 613.51)"/><ellipse cx="209.35" cy="594.43" rx="1.07" ry="0.93" transform="rotate(24 209.35 594.43)"/><ellipse cx="120.86" cy="618.14" rx="1.99" ry="1" transform="rotate(13 120.86 618.14)"/><ellipse cx="193.49" cy="617.38" rx="1.14" ry="0.76" transform="rotate(25 193.49 617.38)"/><ellipse cx="245.41" cy="512.71" rx="1.1" ry="0.77" transform="rotate(32 245.41 512.71)"/><ellipse cx="232.07" cy="599.51" rx="1.47" ry="1.03" transform="rotate(134 232.07 599.51)"/><ellipse cx="138.64" cy="537.9" rx="0.77" ry="0.63" transform="rotate(98 138.64 537.9)"/><ellipse cx="106.99" cy="539.22" rx="1.07" ry="0.91" transform="rotate(97 106.99 539.22)"/><ellipse cx="218.85" cy="610.6" rx="0.85" ry="0.61" transform="rotate(62 218.85 610.6)"/><ellipse cx="173.41" cy="532.55" rx="1.58" ry="1.05" transform="rotate(100 173.41 532.55)"/><ellipse cx="241.17" cy="578" rx="0.81" ry="0.47" transform="rotate(114 241.17 578)"/><ellipse cx="176.55" cy="574.94" rx="1.6" ry="0.99" transform="rotate(133 176.55 574.94)"/><ellipse cx="178.32" cy="615.52" rx="1.19" ry="0.98" transform="rotate(40 178.32 615.52)"/><ellipse cx="128.18" cy="554.61" rx="0.86" ry="0.63" transform="rotate(32 128.18 554.61)"/><ellipse cx="184.19" cy="513.13" rx="1.66" ry="0.97" transform="rotate(80 184.19 513.13)"/><ellipse cx="160.69" cy="546.16" rx="1.09" ry="0.59" transform="rotate(133 160.69 546.16)"/><ellipse cx="173.16" cy="571.04" rx="1.05" ry="0.5" transform="rotate(83 173.16 571.04)"/><ellipse cx="215.54" cy="576.67" rx="0.85" ry="0.72" transform="rotate(116 215.54 576.67)"/><ellipse cx="234.68" cy="619.21" rx="2.09" ry="1.08" transform="rotate(20 234.68 619.21)"/><ellipse cx="236.09" cy="604.06" rx="0.76" ry="0.49" transform="rotate(147 236.09 604.06)"/><ellipse cx="225.75" cy="538.13" rx="0.92" ry="0.57" transform="rotate(86 225.75 538.13)"/><ellipse cx="152.32" cy="620.98" rx="1.16" ry="0.85" transform="rotate(118 152.32 620.98)"/><ellipse cx="187.68" cy="548.75" rx="0.63" ry="0.76" transform="rotate(64 187.68 548.75)"/><ellipse cx="200.97" cy="575.43" rx="1.1" ry="1.03" transform="rotate(105 200.97 575.43)"/><ellipse cx="238.62" cy="582.26" rx="2.1" ry="0.97" transform="rotate(174 238.62 582.26)"/><ellipse cx="138" cy="520.73" rx="0.98" ry="0.58" transform="rotate(134 138 520.73)"/><ellipse cx="194.07" cy="610.52" rx="1.06" ry="0.96" transform="rotate(44 194.07 610.52)"/><ellipse cx="174.71" cy="559.75" rx="1.68" ry="0.81" transform="rotate(124 174.71 559.75)"/><ellipse cx="204.42" cy="541.95" rx="1.68" ry="1.02" transform="rotate(60 204.42 541.95)"/><ellipse cx="161.86" cy="588.97" rx="1.66" ry="0.78" transform="rotate(123 161.86 588.97)"/><ellipse cx="206.74" cy="605.58" rx="1.27" ry="1.1" transform="rotate(51 206.74 605.58)"/><ellipse cx="99.54" cy="571.74" rx="1.35" ry="0.67" transform="rotate(19 99.54 571.74)"/><ellipse cx="158.62" cy="613.82" rx="1.55" ry="0.96" transform="rotate(10 158.62 613.82)"/><ellipse cx="150.86" cy="626.45" rx="0.87" ry="0.4" transform="rotate(178 150.86 626.45)"/><ellipse cx="201.59" cy="508.56" rx="0.59" ry="0.48" transform="rotate(80 201.59 508.56)"/><ellipse cx="243.34" cy="573.06" rx="1.26" ry="0.8" transform="rotate(134 243.34 573.06)"/><ellipse cx="159.77" cy="620.66" rx="1.6" ry="1.05" transform="rotate(154 159.77 620.66)"/><ellipse cx="192.42" cy="544.83" rx="0.92" ry="0.61" transform="rotate(150 192.42 544.83)"/><ellipse cx="119.26" cy="600.6" rx="1.25" ry="1.08" transform="rotate(2 119.26 600.6)"/><ellipse cx="246.88" cy="596.24" rx="1.05" ry="0.8" transform="rotate(102 246.88 596.24)"/><ellipse cx="140.36" cy="586.98" rx="0.76" ry="0.93" transform="rotate(23 140.36 586.98)"/><ellipse cx="236.52" cy="609.46" rx="0.97" ry="0.67" transform="rotate(95 236.52 609.46)"/><ellipse cx="193.29" cy="610.17" rx="1.26" ry="0.94" transform="rotate(29 193.29 610.17)"/><ellipse cx="170.57" cy="525.26" rx="1.1" ry="0.5" transform="rotate(66 170.57 525.26)"/><ellipse cx="153.24" cy="523.15" rx="2.02" ry="0.95" transform="rotate(105 153.24 523.15)"/><ellipse cx="136.83" cy="569.55" rx="1.62" ry="0.92" transform="rotate(110 136.83 569.55)"/><ellipse cx="148.48" cy="617.58" rx="1.08" ry="0.55" transform="rotate(102 148.48 617.58)"/><ellipse cx="205.3" cy="518.87" rx="1.06" ry="0.49" transform="rotate(58 205.3 518.87)"/><ellipse cx="207.39" cy="520.29" rx="0.96" ry="0.51" transform="rotate(25 207.39 520.29)"/><ellipse cx="157.93" cy="594.72" rx="0.91" ry="0.98" transform="rotate(156 157.93 594.72)"/><ellipse cx="240.95" cy="514" rx="0.77" ry="0.55" transform="rotate(12 240.95 514)"/><ellipse cx="239.65" cy="624.25" rx="0.74" ry="0.47" transform="rotate(107 239.65 624.25)"/><ellipse cx="223.04" cy="596.83" rx="1.93" ry="1.1" transform="rotate(45 223.04 596.83)"/><ellipse cx="169.97" cy="603.09" rx="1.9" ry="1" transform="rotate(173 169.97 603.09)"/><ellipse cx="194.55" cy="611.87" rx="0.69" ry="0.49" transform="rotate(174 194.55 611.87)"/><ellipse cx="174.17" cy="616.51" rx="0.96" ry="0.48" transform="rotate(27 174.17 616.51)"/><ellipse cx="120.58" cy="581.54" rx="0.92" ry="0.89" transform="rotate(65 120.58 581.54)"/><ellipse cx="160.54" cy="614.45" rx="1.32" ry="1.09" transform="rotate(126 160.54 614.45)"/><ellipse cx="192.97" cy="605.12" rx="1.98" ry="1.04" transform="rotate(159 192.97 605.12)"/><ellipse cx="148.66" cy="566.22" rx="0.89" ry="0.41" transform="rotate(168 148.66 566.22)"/><ellipse cx="150.12" cy="614.12" rx="0.79" ry="0.9" transform="rotate(160 150.12 614.12)"/><ellipse cx="164.07" cy="599.08" rx="1.11" ry="0.99" transform="rotate(70 164.07 599.08)"/><ellipse cx="138.69" cy="537.46" rx="0.58" ry="0.5" transform="rotate(104 138.69 537.46)"/><ellipse cx="182.09" cy="579.72" rx="1.66" ry="1.07" transform="rotate(155 182.09 579.72)"/><ellipse cx="174.4" cy="621.4" rx="0.87" ry="0.59" transform="rotate(78 174.4 621.4)"/><ellipse cx="138.2" cy="533.63" rx="0.96" ry="0.66" transform="rotate(86 138.2 533.63)"/><ellipse cx="124.62" cy="598.97" rx="1.48" ry="0.92" transform="rotate(115 124.62 598.97)"/><ellipse cx="178.19" cy="514.88" rx="1.11" ry="0.63" transform="rotate(165 178.19 514.88)"/><ellipse cx="212.05" cy="626.56" rx="0.92" ry="0.55" transform="rotate(122 212.05 626.56)"/><ellipse cx="147.61" cy="523.25" rx="0.58" ry="0.5" transform="rotate(22 147.61 523.25)"/><ellipse cx="193.21" cy="607.38" rx="0.45" ry="0.44" transform="rotate(29 193.21 607.38)"/></g>
<g fill="#3a4a28" opacity="0.5" filter="url(#sblur)"><ellipse cx="132.1" cy="531.83" rx="1.6" ry="0.78" transform="rotate(108 132.1 531.83)"/><ellipse cx="147.25" cy="600.75" rx="1.78" ry="0.91" transform="rotate(56 147.25 600.75)"/><ellipse cx="110.93" cy="534.84" rx="1.83" ry="0.84" transform="rotate(87 110.93 534.84)"/><ellipse cx="138.5" cy="594.15" rx="0.67" ry="0.69" transform="rotate(88 138.5 594.15)"/><ellipse cx="119.13" cy="538" rx="1.55" ry="0.88" transform="rotate(10 119.13 538)"/><ellipse cx="150.14" cy="518.92" rx="1.22" ry="1" transform="rotate(63 150.14 518.92)"/><ellipse cx="138.54" cy="513.87" rx="0.51" ry="0.52" transform="rotate(102 138.54 513.87)"/><ellipse cx="153.89" cy="594.31" rx="0.79" ry="0.85" transform="rotate(84 153.89 594.31)"/><ellipse cx="139.18" cy="569.73" rx="1.41" ry="0.66" transform="rotate(90 139.18 569.73)"/><ellipse cx="236.25" cy="602.82" rx="0.84" ry="0.86" transform="rotate(69 236.25 602.82)"/><ellipse cx="158.83" cy="589.38" rx="1.25" ry="0.81" transform="rotate(144 158.83 589.38)"/><ellipse cx="160.86" cy="619.97" rx="0.72" ry="0.65" transform="rotate(77 160.86 619.97)"/><ellipse cx="180.34" cy="514.37" rx="0.79" ry="0.75" transform="rotate(55 180.34 514.37)"/><ellipse cx="232.35" cy="540.84" rx="0.79" ry="0.51" transform="rotate(135 232.35 540.84)"/><ellipse cx="137.4" cy="523.03" rx="1.57" ry="0.85" transform="rotate(17 137.4 523.03)"/><ellipse cx="196.07" cy="573.2" rx="1.53" ry="0.77" transform="rotate(129 196.07 573.2)"/><ellipse cx="200.58" cy="511.55" rx="1.15" ry="0.65" transform="rotate(39 200.58 511.55)"/><ellipse cx="109.41" cy="577.41" rx="1.64" ry="0.84" transform="rotate(123 109.41 577.41)"/></g>
</g>
<path d="M222.7 620.9h17" stroke="#e8f0e0" stroke-width="0.6" opacity="0.8"/>
<rect x="228.2" y="621.6" width="6" height="1.8" fill="#e8f0e0" opacity="0.7"/>
</g>
<clipPath id="cl2"><rect x="262.8" y="507.9" width="149.4" height="120"/></clipPath>
<g clip-path="url(#cl2)"><g filter="url(#mblur)">
<rect x="259.8" y="504.9" width="155.4" height="126" fill="#4a8a30"/>
<g fill="#3e9c38" opacity="0.5" filter="url(#blur3)"><circle cx="405.63" cy="621.64" r="8.45"/><circle cx="275.48" cy="608.16" r="13.89"/><circle cx="362.86" cy="544.88" r="12.85"/><circle cx="353.46" cy="577.64" r="9.27"/><circle cx="327.14" cy="555.12" r="13.78"/><circle cx="411.43" cy="621.83" r="12.35"/><circle cx="329.26" cy="540.09" r="8.29"/><circle cx="266.9" cy="563.69" r="10.55"/><circle cx="319.57" cy="614.91" r="12.21"/><circle cx="346.54" cy="536.23" r="8.19"/><circle cx="311.38" cy="524.3" r="12.08"/><circle cx="412" cy="588.84" r="9.45"/><circle cx="396.3" cy="603.51" r="13.88"/><circle cx="398.25" cy="599.45" r="14.32"/><circle cx="315.66" cy="625.62" r="15.7"/><circle cx="286.88" cy="598.38" r="13.72"/><circle cx="331.73" cy="571.54" r="11.92"/><circle cx="400.97" cy="568" r="14.65"/><circle cx="315.68" cy="613.84" r="15.2"/><circle cx="331.68" cy="576.02" r="15.36"/></g>
<g fill="#c0602e" opacity="0.65" filter="url(#sblur)"><ellipse cx="370.93" cy="566.29" rx="0.72" ry="0.58" transform="rotate(179 370.93 566.29)"/><ellipse cx="387.55" cy="613.1" rx="1.68" ry="0.89" transform="rotate(122 387.55 613.1)"/><ellipse cx="309.05" cy="622.78" rx="1.45" ry="0.96" transform="rotate(132 309.05 622.78)"/><ellipse cx="338.6" cy="581.8" rx="1.32" ry="0.73" transform="rotate(125 338.6 581.8)"/><ellipse cx="339.28" cy="620" rx="0.81" ry="0.9" transform="rotate(87 339.28 620)"/><ellipse cx="371.26" cy="616.82" rx="1.02" ry="0.55" transform="rotate(15 371.26 616.82)"/><ellipse cx="348.62" cy="513.77" rx="1.53" ry="0.87" transform="rotate(27 348.62 513.77)"/><ellipse cx="375.5" cy="524.28" rx="1.2" ry="0.61" transform="rotate(15 375.5 524.28)"/><ellipse cx="325.98" cy="593.94" rx="0.56" ry="0.43" transform="rotate(44 325.98 593.94)"/><ellipse cx="300.08" cy="510.71" rx="0.44" ry="0.49" transform="rotate(10 300.08 510.71)"/><ellipse cx="371.78" cy="510.44" rx="1.17" ry="0.6" transform="rotate(40 371.78 510.44)"/><ellipse cx="372.58" cy="570.67" rx="0.65" ry="0.4" transform="rotate(63 372.58 570.67)"/><ellipse cx="285.42" cy="512.25" rx="1.12" ry="0.68" transform="rotate(28 285.42 512.25)"/><ellipse cx="305.53" cy="566.55" rx="1.02" ry="0.65" transform="rotate(154 305.53 566.55)"/><ellipse cx="373.35" cy="616.14" rx="2.02" ry="1" transform="rotate(180 373.35 616.14)"/><ellipse cx="285.73" cy="622.95" rx="0.84" ry="0.47" transform="rotate(26 285.73 622.95)"/><ellipse cx="266.42" cy="602.51" rx="1.77" ry="1.16" transform="rotate(100 266.42 602.51)"/><ellipse cx="335.55" cy="547.26" rx="1.4" ry="1.1" transform="rotate(67 335.55 547.26)"/><ellipse cx="353.35" cy="558.27" rx="0.66" ry="0.41" transform="rotate(35 353.35 558.27)"/><ellipse cx="362.98" cy="538.26" rx="0.53" ry="0.51" transform="rotate(116 362.98 538.26)"/><ellipse cx="357.68" cy="568.89" rx="2.5" ry="1.19" transform="rotate(63 357.68 568.89)"/><ellipse cx="297.53" cy="561.26" rx="0.98" ry="0.6" transform="rotate(159 297.53 561.26)"/><ellipse cx="381.06" cy="582.77" rx="1.21" ry="0.69" transform="rotate(71 381.06 582.77)"/><ellipse cx="341.41" cy="508.48" rx="0.59" ry="0.43" transform="rotate(28 341.41 508.48)"/><ellipse cx="339.31" cy="518.44" rx="0.4" ry="0.48" transform="rotate(59 339.31 518.44)"/><ellipse cx="278.52" cy="510.83" rx="1.34" ry="0.94" transform="rotate(137 278.52 510.83)"/><ellipse cx="358.68" cy="533.39" rx="2.42" ry="1.13" transform="rotate(111 358.68 533.39)"/><ellipse cx="326.38" cy="510.46" rx="1.78" ry="0.87" transform="rotate(134 326.38 510.46)"/><ellipse cx="349.65" cy="618.37" rx="1.37" ry="0.93" transform="rotate(4 349.65 618.37)"/><ellipse cx="340.37" cy="618.47" rx="1.07" ry="0.89" transform="rotate(95 340.37 618.47)"/><ellipse cx="308.86" cy="612.82" rx="0.69" ry="0.73" transform="rotate(50 308.86 612.82)"/><ellipse cx="388.39" cy="588.61" rx="0.59" ry="0.41" transform="rotate(105 388.39 588.61)"/><ellipse cx="358.01" cy="563.5" rx="1.84" ry="1.11" transform="rotate(1 358.01 563.5)"/><ellipse cx="305.28" cy="552.65" rx="1.04" ry="1.15" transform="rotate(125 305.28 552.65)"/><ellipse cx="291.54" cy="576.49" rx="1.03" ry="0.71" transform="rotate(88 291.54 576.49)"/><ellipse cx="321.82" cy="522.51" rx="0.45" ry="0.5" transform="rotate(85 321.82 522.51)"/><ellipse cx="358.56" cy="623.06" rx="0.8" ry="0.95" transform="rotate(168 358.56 623.06)"/><ellipse cx="333.07" cy="513.08" rx="1.16" ry="0.96" transform="rotate(117 333.07 513.08)"/><ellipse cx="283.94" cy="552.89" rx="1.58" ry="0.79" transform="rotate(107 283.94 552.89)"/><ellipse cx="402.05" cy="608.22" rx="0.72" ry="0.64" transform="rotate(125 402.05 608.22)"/><ellipse cx="351.93" cy="573.73" rx="1.7" ry="0.96" transform="rotate(21 351.93 573.73)"/><ellipse cx="350.33" cy="606.04" rx="0.62" ry="0.48" transform="rotate(139 350.33 606.04)"/><ellipse cx="284.69" cy="557.91" rx="0.42" ry="0.45" transform="rotate(174 284.69 557.91)"/><ellipse cx="410.5" cy="585.67" rx="0.61" ry="0.5" transform="rotate(59 410.5 585.67)"/><ellipse cx="368.64" cy="614.12" rx="0.69" ry="0.66" transform="rotate(73 368.64 614.12)"/><ellipse cx="279.54" cy="572.81" rx="2.16" ry="1.16" transform="rotate(24 279.54 572.81)"/><ellipse cx="311.93" cy="537.73" rx="0.84" ry="0.81" transform="rotate(40 311.93 537.73)"/><ellipse cx="331.66" cy="592.29" rx="1.59" ry="0.72" transform="rotate(146 331.66 592.29)"/><ellipse cx="371.7" cy="563.9" rx="1.89" ry="0.98" transform="rotate(98 371.7 563.9)"/><ellipse cx="394.54" cy="529.55" rx="1.19" ry="0.81" transform="rotate(103 394.54 529.55)"/><ellipse cx="300.71" cy="595.65" rx="1.25" ry="0.73" transform="rotate(92 300.71 595.65)"/><ellipse cx="406.52" cy="547.59" rx="1.72" ry="1" transform="rotate(57 406.52 547.59)"/><ellipse cx="342.41" cy="530.45" rx="1.41" ry="1.05" transform="rotate(162 342.41 530.45)"/><ellipse cx="399.5" cy="545.45" rx="1.69" ry="0.82" transform="rotate(119 399.5 545.45)"/><ellipse cx="359.92" cy="605.83" rx="0.88" ry="0.41" transform="rotate(145 359.92 605.83)"/><ellipse cx="353.4" cy="616.54" rx="1.04" ry="1.11" transform="rotate(142 353.4 616.54)"/><ellipse cx="377.39" cy="531.84" rx="1.61" ry="1" transform="rotate(49 377.39 531.84)"/><ellipse cx="335.98" cy="581.33" rx="0.71" ry="0.41" transform="rotate(123 335.98 581.33)"/><ellipse cx="300.7" cy="575.83" rx="0.84" ry="0.77" transform="rotate(18 300.7 575.83)"/><ellipse cx="315.13" cy="616.58" rx="1.44" ry="0.83" transform="rotate(16 315.13 616.58)"/><ellipse cx="375.55" cy="566.1" rx="1.19" ry="0.94" transform="rotate(68 375.55 566.1)"/><ellipse cx="393.9" cy="563.14" rx="1.97" ry="1.19" transform="rotate(88 393.9 563.14)"/><ellipse cx="288.75" cy="597.93" rx="1.4" ry="1.03" transform="rotate(172 288.75 597.93)"/><ellipse cx="356.19" cy="607.91" rx="0.85" ry="0.98" transform="rotate(127 356.19 607.91)"/><ellipse cx="319.82" cy="563.66" rx="0.52" ry="0.64" transform="rotate(142 319.82 563.66)"/><ellipse cx="332.63" cy="508.12" rx="0.85" ry="0.43" transform="rotate(144 332.63 508.12)"/><ellipse cx="328.95" cy="612.36" rx="1.11" ry="0.65" transform="rotate(123 328.95 612.36)"/><ellipse cx="365.83" cy="593.23" rx="0.75" ry="0.64" transform="rotate(80 365.83 593.23)"/><ellipse cx="308.24" cy="585.46" rx="1.78" ry="1.04" transform="rotate(100 308.24 585.46)"/><ellipse cx="340.2" cy="618.36" rx="0.88" ry="0.81" transform="rotate(152 340.2 618.36)"/><ellipse cx="342.05" cy="610.01" rx="1.74" ry="1.04" transform="rotate(78 342.05 610.01)"/><ellipse cx="268.92" cy="621.85" rx="1.3" ry="0.85" transform="rotate(15 268.92 621.85)"/><ellipse cx="405.89" cy="521.34" rx="1.4" ry="1.05" transform="rotate(93 405.89 521.34)"/><ellipse cx="294.73" cy="550.63" rx="0.87" ry="0.67" transform="rotate(127 294.73 550.63)"/><ellipse cx="328.84" cy="542.94" rx="2.33" ry="1.12" transform="rotate(113 328.84 542.94)"/><ellipse cx="410.81" cy="533.81" rx="0.63" ry="0.62" transform="rotate(60 410.81 533.81)"/><ellipse cx="332.85" cy="598.18" rx="1.14" ry="1.08" transform="rotate(35 332.85 598.18)"/><ellipse cx="381.59" cy="535.88" rx="1.77" ry="1.05" transform="rotate(102 381.59 535.88)"/><ellipse cx="383.59" cy="597.83" rx="1.13" ry="0.62" transform="rotate(152 383.59 597.83)"/><ellipse cx="337.89" cy="590.7" rx="2.13" ry="1.16" transform="rotate(180 337.89 590.7)"/><ellipse cx="402.57" cy="598.32" rx="1.43" ry="1.18" transform="rotate(159 402.57 598.32)"/><ellipse cx="357.97" cy="516.62" rx="0.96" ry="0.65" transform="rotate(66 357.97 516.62)"/><ellipse cx="405.88" cy="550.38" rx="1.6" ry="0.78" transform="rotate(47 405.88 550.38)"/><ellipse cx="309.84" cy="553.38" rx="1.11" ry="1.17" transform="rotate(42 309.84 553.38)"/><ellipse cx="316.46" cy="618.02" rx="2.07" ry="1.11" transform="rotate(111 316.46 618.02)"/><ellipse cx="264.05" cy="546.35" rx="1.73" ry="1.06" transform="rotate(138 264.05 546.35)"/><ellipse cx="305.33" cy="584.44" rx="0.65" ry="0.52" transform="rotate(127 305.33 584.44)"/><ellipse cx="277" cy="524.96" rx="0.65" ry="0.56" transform="rotate(107 277 524.96)"/><ellipse cx="316.65" cy="518.6" rx="0.98" ry="0.55" transform="rotate(156 316.65 518.6)"/><ellipse cx="269.8" cy="620.71" rx="1.52" ry="0.92" transform="rotate(36 269.8 620.71)"/><ellipse cx="289.31" cy="515.47" rx="0.89" ry="0.75" transform="rotate(82 289.31 515.47)"/><ellipse cx="340.93" cy="609.34" rx="1.26" ry="0.67" transform="rotate(156 340.93 609.34)"/><ellipse cx="405.83" cy="535.23" rx="0.83" ry="0.44" transform="rotate(125 405.83 535.23)"/><ellipse cx="355.35" cy="545.92" rx="1.75" ry="1.07" transform="rotate(150 355.35 545.92)"/><ellipse cx="339.06" cy="587.66" rx="1.08" ry="0.8" transform="rotate(177 339.06 587.66)"/><ellipse cx="330.71" cy="557.31" rx="0.71" ry="0.82" transform="rotate(27 330.71 557.31)"/><ellipse cx="330.23" cy="578.86" rx="1.03" ry="0.49" transform="rotate(128 330.23 578.86)"/><ellipse cx="399.51" cy="517.18" rx="1.24" ry="0.64" transform="rotate(2 399.51 517.18)"/><ellipse cx="300.59" cy="588.14" rx="0.48" ry="0.58" transform="rotate(109 300.59 588.14)"/><ellipse cx="362.86" cy="518.93" rx="2.01" ry="1.18" transform="rotate(12 362.86 518.93)"/><ellipse cx="391.02" cy="564.88" rx="0.45" ry="0.45" transform="rotate(7 391.02 564.88)"/><ellipse cx="283.51" cy="568.16" rx="0.48" ry="0.45" transform="rotate(1 283.51 568.16)"/><ellipse cx="385.61" cy="570.65" rx="1.92" ry="0.95" transform="rotate(35 385.61 570.65)"/><ellipse cx="318.31" cy="508.08" rx="0.95" ry="0.83" transform="rotate(119 318.31 508.08)"/><ellipse cx="294.44" cy="514.28" rx="0.76" ry="0.57" transform="rotate(159 294.44 514.28)"/><ellipse cx="359.55" cy="555.16" rx="1.76" ry="1.15" transform="rotate(172 359.55 555.16)"/><ellipse cx="287.15" cy="520.55" rx="1.77" ry="1.05" transform="rotate(53 287.15 520.55)"/><ellipse cx="288.72" cy="532.13" rx="0.67" ry="0.67" transform="rotate(33 288.72 532.13)"/><ellipse cx="322.28" cy="603.63" rx="1.67" ry="1.05" transform="rotate(121 322.28 603.63)"/><ellipse cx="303.49" cy="571.19" rx="0.94" ry="0.79" transform="rotate(107 303.49 571.19)"/><ellipse cx="367.84" cy="591.79" rx="0.78" ry="0.93" transform="rotate(141 367.84 591.79)"/><ellipse cx="375.11" cy="533.38" rx="0.61" ry="0.71" transform="rotate(35 375.11 533.38)"/><ellipse cx="356.24" cy="596.96" rx="1.41" ry="0.96" transform="rotate(12 356.24 596.96)"/><ellipse cx="372.84" cy="611.25" rx="0.58" ry="0.58" transform="rotate(80 372.84 611.25)"/><ellipse cx="268.5" cy="531.41" rx="0.82" ry="0.49" transform="rotate(139 268.5 531.41)"/><ellipse cx="399.8" cy="599.45" rx="0.83" ry="0.47" transform="rotate(118 399.8 599.45)"/><ellipse cx="356.86" cy="623.45" rx="0.66" ry="0.53" transform="rotate(70 356.86 623.45)"/><ellipse cx="389.76" cy="570.11" rx="0.93" ry="0.45" transform="rotate(170 389.76 570.11)"/><ellipse cx="370.44" cy="562.54" rx="0.9" ry="0.93" transform="rotate(179 370.44 562.54)"/><ellipse cx="372.5" cy="621.21" rx="0.57" ry="0.41" transform="rotate(66 372.5 621.21)"/><ellipse cx="343.18" cy="554.99" rx="1.72" ry="0.82" transform="rotate(51 343.18 554.99)"/><ellipse cx="327" cy="523.35" rx="1.09" ry="0.54" transform="rotate(116 327 523.35)"/><ellipse cx="407.79" cy="553.84" rx="1.48" ry="0.89" transform="rotate(148 407.79 553.84)"/><ellipse cx="333.93" cy="530.96" rx="1.24" ry="0.78" transform="rotate(79 333.93 530.96)"/><ellipse cx="273.37" cy="552.24" rx="1.32" ry="0.9" transform="rotate(157 273.37 552.24)"/><ellipse cx="360.51" cy="577.13" rx="1.06" ry="0.5" transform="rotate(53 360.51 577.13)"/><ellipse cx="342.77" cy="606.69" rx="0.91" ry="0.48" transform="rotate(7 342.77 606.69)"/><ellipse cx="292.37" cy="545.47" rx="0.76" ry="0.66" transform="rotate(170 292.37 545.47)"/><ellipse cx="314.02" cy="560.77" rx="1.45" ry="0.74" transform="rotate(4 314.02 560.77)"/><ellipse cx="305.02" cy="576.81" rx="0.59" ry="0.57" transform="rotate(96 305.02 576.81)"/><ellipse cx="370.53" cy="583.88" rx="0.9" ry="0.76" transform="rotate(21 370.53 583.88)"/><ellipse cx="336.83" cy="603.99" rx="1.15" ry="1.13" transform="rotate(76 336.83 603.99)"/><ellipse cx="389.64" cy="610.65" rx="0.97" ry="0.58" transform="rotate(85 389.64 610.65)"/><ellipse cx="351.14" cy="592.17" rx="0.92" ry="0.82" transform="rotate(54 351.14 592.17)"/><ellipse cx="346.64" cy="539.28" rx="1.27" ry="0.6" transform="rotate(100 346.64 539.28)"/><ellipse cx="385.98" cy="522.23" rx="1.03" ry="0.76" transform="rotate(97 385.98 522.23)"/><ellipse cx="305.35" cy="536.77" rx="0.68" ry="0.44" transform="rotate(23 305.35 536.77)"/><ellipse cx="352.87" cy="573.12" rx="0.54" ry="0.4" transform="rotate(110 352.87 573.12)"/><ellipse cx="322.79" cy="569.66" rx="0.73" ry="0.48" transform="rotate(133 322.79 569.66)"/><ellipse cx="403.54" cy="567.03" rx="0.66" ry="0.46" transform="rotate(179 403.54 567.03)"/><ellipse cx="295.84" cy="510.87" rx="0.77" ry="0.78" transform="rotate(36 295.84 510.87)"/><ellipse cx="293.65" cy="536.85" rx="0.44" ry="0.44" transform="rotate(75 293.65 536.85)"/><ellipse cx="403.63" cy="520.15" rx="0.78" ry="0.85" transform="rotate(171 403.63 520.15)"/><ellipse cx="283.18" cy="592.77" rx="0.65" ry="0.43" transform="rotate(68 283.18 592.77)"/><ellipse cx="333.5" cy="621.23" rx="0.87" ry="0.68" transform="rotate(24 333.5 621.23)"/><ellipse cx="353.33" cy="520.75" rx="1.34" ry="1.03" transform="rotate(162 353.33 520.75)"/><ellipse cx="303.97" cy="565.28" rx="1.03" ry="0.63" transform="rotate(38 303.97 565.28)"/><ellipse cx="266.62" cy="548.75" rx="0.87" ry="1.07" transform="rotate(172 266.62 548.75)"/><ellipse cx="408.46" cy="572.04" rx="0.76" ry="0.44" transform="rotate(176 408.46 572.04)"/><ellipse cx="343.52" cy="581.05" rx="1.04" ry="0.75" transform="rotate(46 343.52 581.05)"/><ellipse cx="287.09" cy="513.3" rx="1.88" ry="0.87" transform="rotate(90 287.09 513.3)"/><ellipse cx="363.37" cy="543.27" rx="0.96" ry="1.12" transform="rotate(63 363.37 543.27)"/><ellipse cx="347.35" cy="619.95" rx="0.51" ry="0.58" transform="rotate(92 347.35 619.95)"/><ellipse cx="279.36" cy="579.53" rx="0.51" ry="0.45" transform="rotate(48 279.36 579.53)"/><ellipse cx="278.18" cy="590.96" rx="0.93" ry="0.46" transform="rotate(148 278.18 590.96)"/><ellipse cx="360.16" cy="514.19" rx="1.25" ry="0.81" transform="rotate(103 360.16 514.19)"/><ellipse cx="326.61" cy="601.84" rx="0.51" ry="0.52" transform="rotate(95 326.61 601.84)"/><ellipse cx="270.69" cy="622.88" rx="1.06" ry="0.55" transform="rotate(111 270.69 622.88)"/><ellipse cx="352.33" cy="606.46" rx="1.56" ry="1.09" transform="rotate(126 352.33 606.46)"/><ellipse cx="351.62" cy="523.24" rx="0.57" ry="0.68" transform="rotate(180 351.62 523.24)"/><ellipse cx="290.76" cy="526.01" rx="1.23" ry="0.73" transform="rotate(113 290.76 526.01)"/><ellipse cx="333.02" cy="530.48" rx="1.41" ry="0.75" transform="rotate(90 333.02 530.48)"/><ellipse cx="374.95" cy="622.19" rx="1.77" ry="1.06" transform="rotate(7 374.95 622.19)"/><ellipse cx="326.52" cy="619.65" rx="0.87" ry="0.42" transform="rotate(122 326.52 619.65)"/><ellipse cx="347.8" cy="590.27" rx="1.07" ry="0.6" transform="rotate(93 347.8 590.27)"/><ellipse cx="340.78" cy="582.14" rx="1.29" ry="1.13" transform="rotate(136 340.78 582.14)"/><ellipse cx="286.63" cy="542.47" rx="1.5" ry="1.15" transform="rotate(28 286.63 542.47)"/><ellipse cx="338.3" cy="615.64" rx="1.71" ry="1" transform="rotate(99 338.3 615.64)"/><ellipse cx="280.3" cy="579.66" rx="1.29" ry="0.9" transform="rotate(99 280.3 579.66)"/><ellipse cx="330.41" cy="620.88" rx="1.78" ry="0.97" transform="rotate(142 330.41 620.88)"/><ellipse cx="314.91" cy="525.53" rx="1.59" ry="0.93" transform="rotate(104 314.91 525.53)"/><ellipse cx="330.2" cy="592.9" rx="1.02" ry="0.98" transform="rotate(67 330.2 592.9)"/><ellipse cx="399.01" cy="576.34" rx="1.23" ry="0.72" transform="rotate(67 399.01 576.34)"/><ellipse cx="362.94" cy="587.99" rx="0.62" ry="0.72" transform="rotate(116 362.94 587.99)"/><ellipse cx="277.94" cy="509.18" rx="1.34" ry="1.07" transform="rotate(81 277.94 509.18)"/><ellipse cx="372.33" cy="529.34" rx="1.34" ry="1.07" transform="rotate(20 372.33 529.34)"/><ellipse cx="341.52" cy="565.52" rx="1.01" ry="0.9" transform="rotate(24 341.52 565.52)"/><ellipse cx="352.93" cy="549.25" rx="0.64" ry="0.64" transform="rotate(13 352.93 549.25)"/><ellipse cx="264.21" cy="556.6" rx="1.53" ry="0.92" transform="rotate(1 264.21 556.6)"/><ellipse cx="393.54" cy="584.57" rx="0.96" ry="0.86" transform="rotate(156 393.54 584.57)"/><ellipse cx="311.74" cy="547.98" rx="1.38" ry="1.02" transform="rotate(153 311.74 547.98)"/><ellipse cx="371.29" cy="563.75" rx="0.94" ry="0.62" transform="rotate(146 371.29 563.75)"/><ellipse cx="317.63" cy="551.3" rx="1.34" ry="0.7" transform="rotate(61 317.63 551.3)"/><ellipse cx="343.34" cy="585.76" rx="0.98" ry="0.9" transform="rotate(119 343.34 585.76)"/><ellipse cx="298.38" cy="611.44" rx="1.32" ry="0.87" transform="rotate(41 298.38 611.44)"/><ellipse cx="263.03" cy="599.95" rx="1.7" ry="0.99" transform="rotate(173 263.03 599.95)"/><ellipse cx="292.41" cy="591.93" rx="2.26" ry="1.14" transform="rotate(157 292.41 591.93)"/><ellipse cx="263.79" cy="596.01" rx="2.48" ry="1.13" transform="rotate(55 263.79 596.01)"/><ellipse cx="263.02" cy="517.97" rx="1.1" ry="1.02" transform="rotate(47 263.02 517.97)"/><ellipse cx="303.58" cy="581.92" rx="0.54" ry="0.42" transform="rotate(29 303.58 581.92)"/><ellipse cx="308.34" cy="576.42" rx="0.76" ry="0.78" transform="rotate(118 308.34 576.42)"/><ellipse cx="289.07" cy="604.49" rx="1.58" ry="1.1" transform="rotate(164 289.07 604.49)"/><ellipse cx="272.19" cy="525.63" rx="0.71" ry="0.79" transform="rotate(134 272.19 525.63)"/><ellipse cx="368.5" cy="542.98" rx="1.77" ry="1.13" transform="rotate(143 368.5 542.98)"/><ellipse cx="293.93" cy="557.94" rx="0.81" ry="0.5" transform="rotate(118 293.93 557.94)"/><ellipse cx="401.01" cy="610.77" rx="1.38" ry="0.96" transform="rotate(15 401.01 610.77)"/><ellipse cx="285.8" cy="535.31" rx="1.51" ry="0.89" transform="rotate(179 285.8 535.31)"/><ellipse cx="359.17" cy="609.88" rx="1.1" ry="0.52" transform="rotate(7 359.17 609.88)"/><ellipse cx="311.08" cy="540.63" rx="0.63" ry="0.7" transform="rotate(157 311.08 540.63)"/><ellipse cx="283.07" cy="523.65" rx="1.36" ry="0.74" transform="rotate(79 283.07 523.65)"/></g>
<g fill="#34461e" opacity="0.6" filter="url(#sblur)"><ellipse cx="345.44" cy="510.34" rx="0.86" ry="0.51" transform="rotate(18 345.44 510.34)"/><ellipse cx="391.45" cy="598.29" rx="1.07" ry="0.58" transform="rotate(106 391.45 598.29)"/><ellipse cx="363.92" cy="565.58" rx="0.6" ry="0.68" transform="rotate(160 363.92 565.58)"/><ellipse cx="285.29" cy="596.59" rx="0.47" ry="0.5" transform="rotate(36 285.29 596.59)"/><ellipse cx="315.43" cy="609.4" rx="0.72" ry="0.59" transform="rotate(145 315.43 609.4)"/><ellipse cx="364.15" cy="618.54" rx="1.26" ry="0.58" transform="rotate(58 364.15 618.54)"/><ellipse cx="348.2" cy="601.37" rx="0.81" ry="0.64" transform="rotate(23 348.2 601.37)"/><ellipse cx="393.53" cy="587.98" rx="1.07" ry="0.63" transform="rotate(9 393.53 587.98)"/><ellipse cx="387.34" cy="548" rx="1.81" ry="1.06" transform="rotate(88 387.34 548)"/><ellipse cx="400.89" cy="571.14" rx="1.15" ry="0.57" transform="rotate(32 400.89 571.14)"/><ellipse cx="365.08" cy="553.26" rx="1.41" ry="0.75" transform="rotate(57 365.08 553.26)"/><ellipse cx="357.44" cy="581.75" rx="0.9" ry="0.92" transform="rotate(131 357.44 581.75)"/><ellipse cx="387.41" cy="594.36" rx="1.05" ry="0.61" transform="rotate(159 387.41 594.36)"/><ellipse cx="363.6" cy="516.58" rx="1.05" ry="1.07" transform="rotate(60 363.6 516.58)"/><ellipse cx="298.32" cy="562.54" rx="0.71" ry="0.74" transform="rotate(59 298.32 562.54)"/><ellipse cx="269.93" cy="520.74" rx="0.49" ry="0.51" transform="rotate(66 269.93 520.74)"/><ellipse cx="315.57" cy="536.77" rx="0.65" ry="0.75" transform="rotate(42 315.57 536.77)"/><ellipse cx="406.2" cy="619.78" rx="1.04" ry="1" transform="rotate(38 406.2 619.78)"/><ellipse cx="411.17" cy="585.29" rx="1.39" ry="0.96" transform="rotate(28 411.17 585.29)"/><ellipse cx="325.87" cy="590.61" rx="1.07" ry="1" transform="rotate(0 325.87 590.61)"/><ellipse cx="291.59" cy="610.74" rx="1.97" ry="0.99" transform="rotate(44 291.59 610.74)"/><ellipse cx="302.9" cy="539.85" rx="0.74" ry="0.65" transform="rotate(132 302.9 539.85)"/><ellipse cx="404.23" cy="545.03" rx="1.25" ry="0.84" transform="rotate(98 404.23 545.03)"/><ellipse cx="377.31" cy="626.15" rx="1.16" ry="0.6" transform="rotate(75 377.31 626.15)"/><ellipse cx="380.89" cy="563.2" rx="1.33" ry="0.75" transform="rotate(138 380.89 563.2)"/><ellipse cx="273.56" cy="508.85" rx="2.16" ry="1.06" transform="rotate(117 273.56 508.85)"/><ellipse cx="370.99" cy="614.98" rx="1.57" ry="1.01" transform="rotate(134 370.99 614.98)"/><ellipse cx="358.26" cy="526.81" rx="1.22" ry="0.63" transform="rotate(56 358.26 526.81)"/><ellipse cx="409.77" cy="559.9" rx="2.21" ry="1.08" transform="rotate(129 409.77 559.9)"/><ellipse cx="321.06" cy="605.4" rx="1.26" ry="1.02" transform="rotate(116 321.06 605.4)"/><ellipse cx="283.93" cy="569.75" rx="1.65" ry="0.94" transform="rotate(56 283.93 569.75)"/><ellipse cx="397.01" cy="574.25" rx="0.64" ry="0.76" transform="rotate(100 397.01 574.25)"/><ellipse cx="344.43" cy="544.21" rx="2" ry="1.1" transform="rotate(56 344.43 544.21)"/><ellipse cx="396.68" cy="620.1" rx="1.65" ry="0.84" transform="rotate(128 396.68 620.1)"/><ellipse cx="396.66" cy="574.06" rx="0.88" ry="0.86" transform="rotate(165 396.66 574.06)"/><ellipse cx="355.42" cy="555.93" rx="0.91" ry="1.05" transform="rotate(125 355.42 555.93)"/><ellipse cx="291.93" cy="546.77" rx="1.45" ry="0.68" transform="rotate(165 291.93 546.77)"/><ellipse cx="269.73" cy="548.15" rx="0.84" ry="0.77" transform="rotate(65 269.73 548.15)"/><ellipse cx="408.33" cy="561.23" rx="1.84" ry="0.91" transform="rotate(12 408.33 561.23)"/><ellipse cx="370.31" cy="509.25" rx="0.94" ry="0.89" transform="rotate(176 370.31 509.25)"/><ellipse cx="364.62" cy="524.06" rx="1.11" ry="0.92" transform="rotate(168 364.62 524.06)"/><ellipse cx="408.21" cy="599.47" rx="1.1" ry="0.53" transform="rotate(16 408.21 599.47)"/><ellipse cx="407.35" cy="577.65" rx="0.67" ry="0.51" transform="rotate(174 407.35 577.65)"/><ellipse cx="360.22" cy="598.93" rx="1.66" ry="0.79" transform="rotate(156 360.22 598.93)"/><ellipse cx="365.61" cy="547.48" rx="0.91" ry="1" transform="rotate(5 365.61 547.48)"/><ellipse cx="370.48" cy="609.57" rx="1.96" ry="0.96" transform="rotate(7 370.48 609.57)"/><ellipse cx="285.95" cy="543.34" rx="0.97" ry="0.57" transform="rotate(5 285.95 543.34)"/><ellipse cx="401.69" cy="615.77" rx="0.98" ry="0.56" transform="rotate(171 401.69 615.77)"/><ellipse cx="357.6" cy="530.38" rx="0.56" ry="0.51" transform="rotate(41 357.6 530.38)"/><ellipse cx="397.81" cy="593.87" rx="0.7" ry="0.83" transform="rotate(70 397.81 593.87)"/><ellipse cx="278.06" cy="578.17" rx="1.03" ry="0.53" transform="rotate(60 278.06 578.17)"/><ellipse cx="364.38" cy="529.01" rx="0.83" ry="1.04" transform="rotate(31 364.38 529.01)"/><ellipse cx="349.9" cy="585.33" rx="1.18" ry="0.67" transform="rotate(165 349.9 585.33)"/><ellipse cx="293.47" cy="523.71" rx="1.12" ry="0.97" transform="rotate(27 293.47 523.71)"/><ellipse cx="316.55" cy="590.93" rx="0.84" ry="0.63" transform="rotate(0 316.55 590.93)"/><ellipse cx="275.43" cy="606.17" rx="1.44" ry="0.84" transform="rotate(74 275.43 606.17)"/><ellipse cx="343.73" cy="621.4" rx="1.19" ry="0.69" transform="rotate(79 343.73 621.4)"/><ellipse cx="408.55" cy="627.36" rx="0.8" ry="0.8" transform="rotate(145 408.55 627.36)"/><ellipse cx="315.76" cy="623.53" rx="1.92" ry="0.87" transform="rotate(108 315.76 623.53)"/><ellipse cx="395.39" cy="605.44" rx="1.14" ry="1.07" transform="rotate(154 395.39 605.44)"/></g>
<g fill="#40983a" stroke="#4a8a30" stroke-width="0.4" opacity="0.7"><circle cx="314.32" cy="565.3" r="6"/><circle cx="352.11" cy="600.31" r="5.97"/><circle cx="278.25" cy="553.16" r="5.96"/><circle cx="356.3" cy="564.21" r="5.94"/><circle cx="297.62" cy="605.16" r="5.93"/><circle cx="409.48" cy="586.19" r="5.92"/><circle cx="342.9" cy="524.42" r="5.91"/><circle cx="334.21" cy="603.77" r="5.91"/><circle cx="329.4" cy="543.89" r="5.88"/><circle cx="355.56" cy="542.26" r="5.88"/><circle cx="402.96" cy="610.49" r="5.85"/><circle cx="307.64" cy="513.36" r="5.84"/><circle cx="263.48" cy="607.35" r="5.84"/><circle cx="325.59" cy="520.1" r="5.82"/><circle cx="291.88" cy="620.83" r="5.81"/><circle cx="315.34" cy="583.99" r="5.8"/><circle cx="281.79" cy="538.64" r="5.79"/><circle cx="278.91" cy="512.96" r="5.79"/><circle cx="347.27" cy="629.73" r="5.78"/><circle cx="304.49" cy="525.16" r="5.77"/><circle cx="264.79" cy="549.04" r="5.74"/><circle cx="273.3" cy="567.31" r="5.73"/><circle cx="397.04" cy="578.4" r="5.73"/><circle cx="377.73" cy="535.27" r="5.7"/><circle cx="371.88" cy="592.42" r="5.69"/><circle cx="407.2" cy="562.39" r="5.69"/><circle cx="272.42" cy="620.93" r="5.68"/><circle cx="307.38" cy="617.64" r="5.67"/><circle cx="292.2" cy="514.21" r="5.59"/><circle cx="339.57" cy="574.01" r="5.59"/><circle cx="316.08" cy="600.54" r="5.59"/><circle cx="299.15" cy="538.35" r="5.58"/><circle cx="362.86" cy="508.08" r="5.57"/><circle cx="324.53" cy="555.57" r="5.56"/><circle cx="395.41" cy="520.54" r="5.56"/><circle cx="323.27" cy="625.16" r="5.56"/><circle cx="299.4" cy="567.28" r="5.55"/><circle cx="361.38" cy="610.13" r="5.54"/><circle cx="362.34" cy="622.43" r="5.54"/><circle cx="374.92" cy="509.14" r="5.52"/><circle cx="329.82" cy="566.6" r="5.46"/><circle cx="298.95" cy="579.89" r="5.45"/><circle cx="340.94" cy="552.82" r="5.44"/><circle cx="394.33" cy="548.63" r="5.43"/><circle cx="379.27" cy="562.03" r="5.43"/><circle cx="367.08" cy="574.9" r="5.41"/><circle cx="407.12" cy="546.95" r="5.39"/><circle cx="286.26" cy="609.65" r="5.39"/><circle cx="322.98" cy="575.4" r="5.36"/><circle cx="270.18" cy="582.3" r="5.35"/><circle cx="407.59" cy="599.37" r="5.35"/><circle cx="261.44" cy="571.35" r="5.35"/><circle cx="396.49" cy="629.34" r="5.34"/><circle cx="283.32" cy="577.83" r="5.32"/><circle cx="262.21" cy="510.89" r="5.32"/><circle cx="311.2" cy="551.88" r="5.31"/><circle cx="396.62" cy="599.92" r="5.31"/><circle cx="349.99" cy="585.97" r="5.3"/><circle cx="382.33" cy="615.52" r="5.28"/><circle cx="361.23" cy="587.68" r="5.26"/><circle cx="320.33" cy="506.52" r="5.26"/><circle cx="333.46" cy="620.71" r="5.25"/><circle cx="411.63" cy="626.94" r="5.25"/><circle cx="277.92" cy="589.98" r="5.24"/><circle cx="386.24" cy="593.08" r="5.22"/><circle cx="404.52" cy="512.23" r="5.21"/><circle cx="391.4" cy="532.09" r="5.2"/><circle cx="344.46" cy="508.74" r="5.19"/><circle cx="361.18" cy="523.74" r="5.17"/><circle cx="390.47" cy="506.29" r="5.16"/><circle cx="379.28" cy="523.92" r="5.16"/><circle cx="300.44" cy="551.66" r="5.15"/><circle cx="385.83" cy="580.29" r="5.14"/><circle cx="403.49" cy="534.73" r="5.14"/><circle cx="268.37" cy="596.99" r="5.14"/><circle cx="343.04" cy="612.88" r="5.13"/><circle cx="288.46" cy="563.91" r="5.12"/><circle cx="260.86" cy="524.42" r="5.11"/><circle cx="340.34" cy="535.51" r="5.1"/><circle cx="290.04" cy="530.49" r="5.1"/><circle cx="331.28" cy="585.37" r="5.1"/><circle cx="389.44" cy="567.9" r="5.09"/><circle cx="278.03" cy="525.19" r="5.09"/><circle cx="366.67" cy="533.55" r="5.08"/><circle cx="332.24" cy="505.36" r="5.08"/><circle cx="262.57" cy="536.72" r="5.07"/><circle cx="324.35" cy="532.61" r="5.07"/><circle cx="295.18" cy="594.07" r="5.07"/><circle cx="378.12" cy="630.32" r="5.06"/><circle cx="324.81" cy="614.33" r="5.06"/><circle cx="263.03" cy="560.09" r="5.05"/><circle cx="315.13" cy="541.09" r="5.04"/><circle cx="375.23" cy="603.53" r="5.04"/><circle cx="299.7" cy="628.79" r="5.04"/><circle cx="324.97" cy="593.81" r="5.03"/><circle cx="407.08" cy="523.51" r="4.95"/><circle cx="362.61" cy="551.38" r="4.95"/><circle cx="342.47" cy="594.17" r="4.95"/><circle cx="305.4" cy="589.71" r="4.94"/><circle cx="371.78" cy="613.86" r="4.93"/><circle cx="382.52" cy="546.03" r="4.88"/><circle cx="261.65" cy="629.98" r="4.88"/><circle cx="282.58" cy="627.62" r="4.85"/><circle cx="335.67" cy="515.16" r="4.84"/><circle cx="413.19" cy="614.89" r="4.81"/><circle cx="277.46" cy="602.6" r="4.81"/><circle cx="368.2" cy="563.54" r="4.8"/><circle cx="352.76" cy="617.61" r="4.79"/><circle cx="260.78" cy="620.01" r="4.78"/><circle cx="413.31" cy="531.86" r="4.78"/><circle cx="355.19" cy="575.28" r="4.77"/><circle cx="289.48" cy="553.05" r="4.77"/><circle cx="414.39" cy="572.59" r="4.73"/><circle cx="354.53" cy="514.59" r="4.64"/><circle cx="340.16" cy="563.56" r="4.58"/><circle cx="285.55" cy="597.29" r="4.57"/><circle cx="392.89" cy="616.91" r="4.56"/><circle cx="375.8" cy="582.49" r="4.51"/><circle cx="262.01" cy="588.39" r="4.5"/><circle cx="351.09" cy="531.59" r="4.49"/><circle cx="386.58" cy="605.54" r="4.48"/><circle cx="314.86" cy="527.3" r="4.47"/><circle cx="372.6" cy="545.72" r="4.43"/><circle cx="362.98" cy="598.7" r="4.37"/><circle cx="353.07" cy="552.99" r="4.34"/><circle cx="309.02" cy="575.61" r="4.33"/><circle cx="287.47" cy="587.01" r="4.31"/><circle cx="384.48" cy="515.15" r="4.27"/><circle cx="271.04" cy="531.99" r="4.26"/><circle cx="299.63" cy="506.45" r="4.24"/><circle cx="414.29" cy="510.38" r="4.19"/><circle cx="387.14" cy="625.01" r="4.16"/><circle cx="389.41" cy="558.25" r="4.12"/><circle cx="308.34" cy="606.85" r="4.1"/><circle cx="312.84" cy="627.72" r="4.07"/><circle cx="370.97" cy="519.62" r="3.88"/><circle cx="379.12" cy="572.66" r="3.86"/><circle cx="275.67" cy="611.56" r="3.86"/><circle cx="272.9" cy="543.02" r="3.74"/><circle cx="315.73" cy="611.78" r="3.74"/><circle cx="397.38" cy="563.03" r="3.71"/><circle cx="398.45" cy="589.58" r="3.7"/><circle cx="332.99" cy="526.75" r="3.69"/><circle cx="305.76" cy="559.49" r="3.66"/><circle cx="286.76" cy="506.12" r="3.61"/><circle cx="373.82" cy="622.44" r="3.51"/><circle cx="405.57" cy="573.75" r="3.5"/><circle cx="402.72" cy="622.44" r="3.49"/><circle cx="306.55" cy="598.45" r="3.43"/><circle cx="291.02" cy="572.94" r="3.41"/><circle cx="271.12" cy="518.4" r="3.4"/><circle cx="372.94" cy="555.31" r="3.37"/><circle cx="282.8" cy="618.12" r="3.25"/><circle cx="271.07" cy="507.61" r="3.19"/><circle cx="345.15" cy="544.12" r="3.18"/><circle cx="290.4" cy="543.54" r="3.16"/><circle cx="348.53" cy="569.72" r="3.14"/><circle cx="308.6" cy="534.62" r="3.1"/><circle cx="336.59" cy="628.9" r="3.02"/><circle cx="317.25" cy="514.65" r="3.01"/><circle cx="412.8" cy="554.49" r="2.98"/><circle cx="295.56" cy="522.74" r="2.97"/><circle cx="399.27" cy="556.14" r="2.95"/><circle cx="324.55" cy="605.11" r="2.91"/><circle cx="396.31" cy="539.97" r="2.91"/><circle cx="285.95" cy="522.61" r="2.9"/><circle cx="338.74" cy="544.12" r="2.88"/><circle cx="368.99" cy="628.5" r="2.87"/><circle cx="306.09" cy="545.1" r="2.85"/><circle cx="339.78" cy="584.8" r="2.84"/><circle cx="320.16" cy="547.99" r="2.82"/><circle cx="389.22" cy="541.15" r="2.8"/><circle cx="347.42" cy="577.92" r="2.69"/><circle cx="412.98" cy="605.69" r="2.65"/><circle cx="365.33" cy="541.51" r="2.63"/><circle cx="342.61" cy="622.08" r="2.62"/><circle cx="352.62" cy="523.01" r="2.59"/><circle cx="393.01" cy="609.23" r="2.55"/><circle cx="352.58" cy="609.75" r="2.52"/><circle cx="299.33" cy="614.23" r="2.51"/><circle cx="333.5" cy="558.27" r="2.51"/><circle cx="281.78" cy="568.4" r="2.5"/></g>
<g fill="#d05a34" opacity="0.7"><ellipse cx="384.6" cy="568.81" rx="0.84" ry="0.44" transform="rotate(31 384.6 568.81)"/><ellipse cx="274.44" cy="564.3" rx="1.56" ry="0.74" transform="rotate(132 274.44 564.3)"/><ellipse cx="306.2" cy="594.97" rx="0.85" ry="0.59" transform="rotate(3 306.2 594.97)"/><ellipse cx="348.09" cy="589.53" rx="1.63" ry="0.94" transform="rotate(60 348.09 589.53)"/><ellipse cx="311.8" cy="602.47" rx="1.29" ry="0.61" transform="rotate(45 311.8 602.47)"/><ellipse cx="303.2" cy="557.06" rx="1.95" ry="1.07" transform="rotate(38 303.2 557.06)"/><ellipse cx="323.12" cy="585.51" rx="0.5" ry="0.44" transform="rotate(48 323.12 585.51)"/><ellipse cx="390.24" cy="535.87" rx="0.8" ry="0.72" transform="rotate(104 390.24 535.87)"/><ellipse cx="387.28" cy="539.43" rx="0.97" ry="0.7" transform="rotate(112 387.28 539.43)"/><ellipse cx="325.52" cy="567.4" rx="0.74" ry="0.56" transform="rotate(125 325.52 567.4)"/><ellipse cx="380.91" cy="606.9" rx="1.95" ry="0.97" transform="rotate(128 380.91 606.9)"/><ellipse cx="331.93" cy="560.12" rx="1.35" ry="1.01" transform="rotate(56 331.93 560.12)"/><ellipse cx="305.34" cy="523.92" rx="0.5" ry="0.58" transform="rotate(100 305.34 523.92)"/><ellipse cx="373.9" cy="584.17" rx="0.51" ry="0.42" transform="rotate(50 373.9 584.17)"/><ellipse cx="406.25" cy="552.97" rx="1.04" ry="1.01" transform="rotate(144 406.25 552.97)"/><ellipse cx="403.46" cy="525.85" rx="0.91" ry="0.78" transform="rotate(123 403.46 525.85)"/><ellipse cx="287.5" cy="613.74" rx="0.7" ry="0.51" transform="rotate(158 287.5 613.74)"/><ellipse cx="328.74" cy="528.78" rx="0.53" ry="0.62" transform="rotate(90 328.74 528.78)"/><ellipse cx="348.21" cy="618.02" rx="1.17" ry="0.68" transform="rotate(13 348.21 618.02)"/><ellipse cx="385.46" cy="586.63" rx="1.46" ry="0.78" transform="rotate(153 385.46 586.63)"/><ellipse cx="408.17" cy="577.09" rx="0.86" ry="0.41" transform="rotate(105 408.17 577.09)"/><ellipse cx="320.34" cy="548.5" rx="0.96" ry="0.58" transform="rotate(48 320.34 548.5)"/><ellipse cx="410.46" cy="577.13" rx="1.64" ry="0.89" transform="rotate(14 410.46 577.13)"/><ellipse cx="380.63" cy="587.96" rx="0.7" ry="0.46" transform="rotate(65 380.63 587.96)"/><ellipse cx="332.15" cy="605.44" rx="0.61" ry="0.48" transform="rotate(114 332.15 605.44)"/><ellipse cx="308.58" cy="609.69" rx="0.95" ry="0.64" transform="rotate(38 308.58 609.69)"/><ellipse cx="329.69" cy="564.19" rx="0.85" ry="0.47" transform="rotate(31 329.69 564.19)"/><ellipse cx="319.39" cy="615.95" rx="1.09" ry="0.96" transform="rotate(32 319.39 615.95)"/><ellipse cx="302.99" cy="546.56" rx="1.32" ry="0.62" transform="rotate(82 302.99 546.56)"/><ellipse cx="398.45" cy="606.45" rx="0.48" ry="0.47" transform="rotate(124 398.45 606.45)"/><ellipse cx="332.07" cy="570.25" rx="1.95" ry="0.93" transform="rotate(33 332.07 570.25)"/><ellipse cx="308.56" cy="565.44" rx="0.7" ry="0.43" transform="rotate(43 308.56 565.44)"/><ellipse cx="345.03" cy="533.12" rx="0.7" ry="0.43" transform="rotate(87 345.03 533.12)"/><ellipse cx="278.83" cy="624.35" rx="0.6" ry="0.61" transform="rotate(71 278.83 624.35)"/><ellipse cx="305.51" cy="573.39" rx="0.92" ry="1.02" transform="rotate(101 305.51 573.39)"/><ellipse cx="305.77" cy="590.84" rx="1.18" ry="0.55" transform="rotate(117 305.77 590.84)"/><ellipse cx="324.36" cy="538.19" rx="0.63" ry="0.55" transform="rotate(139 324.36 538.19)"/><ellipse cx="340.69" cy="611.07" rx="0.91" ry="0.61" transform="rotate(134 340.69 611.07)"/><ellipse cx="376.56" cy="544.93" rx="0.71" ry="0.51" transform="rotate(151 376.56 544.93)"/><ellipse cx="305.63" cy="586.61" rx="0.5" ry="0.58" transform="rotate(61 305.63 586.61)"/><ellipse cx="325.87" cy="593.35" rx="1.07" ry="0.57" transform="rotate(112 325.87 593.35)"/><ellipse cx="351.83" cy="596.46" rx="1.42" ry="0.94" transform="rotate(55 351.83 596.46)"/><ellipse cx="408.28" cy="550.87" rx="0.49" ry="0.56" transform="rotate(92 408.28 550.87)"/><ellipse cx="278.79" cy="594.62" rx="0.98" ry="0.57" transform="rotate(118 278.79 594.62)"/><ellipse cx="298.57" cy="519.14" rx="0.52" ry="0.43" transform="rotate(180 298.57 519.14)"/><ellipse cx="300.65" cy="576.54" rx="1.05" ry="0.64" transform="rotate(131 300.65 576.54)"/><ellipse cx="402.59" cy="590.56" rx="0.77" ry="0.96" transform="rotate(4 402.59 590.56)"/><ellipse cx="289.9" cy="560.19" rx="0.77" ry="0.45" transform="rotate(98 289.9 560.19)"/><ellipse cx="344.29" cy="529.81" rx="0.83" ry="0.65" transform="rotate(109 344.29 529.81)"/><ellipse cx="317.19" cy="625.91" rx="1.1" ry="0.53" transform="rotate(55 317.19 625.91)"/><ellipse cx="337.05" cy="540.73" rx="0.6" ry="0.57" transform="rotate(68 337.05 540.73)"/><ellipse cx="337.34" cy="540.71" rx="0.86" ry="0.84" transform="rotate(79 337.34 540.71)"/><ellipse cx="341.2" cy="594.46" rx="0.95" ry="0.58" transform="rotate(162 341.2 594.46)"/><ellipse cx="386.61" cy="606.44" rx="0.92" ry="0.66" transform="rotate(81 386.61 606.44)"/><ellipse cx="360.58" cy="570.7" rx="0.59" ry="0.52" transform="rotate(45 360.58 570.7)"/><ellipse cx="362.81" cy="599.48" rx="0.98" ry="0.45" transform="rotate(162 362.81 599.48)"/><ellipse cx="373.23" cy="613.62" rx="1.23" ry="0.56" transform="rotate(38 373.23 613.62)"/><ellipse cx="352" cy="559.95" rx="0.68" ry="0.52" transform="rotate(49 352 559.95)"/><ellipse cx="304.52" cy="508.45" rx="1.38" ry="1.05" transform="rotate(4 304.52 508.45)"/><ellipse cx="283.32" cy="579.12" rx="1.24" ry="0.64" transform="rotate(145 283.32 579.12)"/><ellipse cx="342.82" cy="614.1" rx="1.84" ry="1.05" transform="rotate(163 342.82 614.1)"/><ellipse cx="390.74" cy="598.24" rx="0.44" ry="0.42" transform="rotate(18 390.74 598.24)"/><ellipse cx="410.59" cy="617.65" rx="0.91" ry="0.58" transform="rotate(120 410.59 617.65)"/><ellipse cx="296.06" cy="556.27" rx="1.01" ry="0.8" transform="rotate(46 296.06 556.27)"/><ellipse cx="264.12" cy="539.22" rx="0.55" ry="0.67" transform="rotate(177 264.12 539.22)"/><ellipse cx="349.76" cy="557.68" rx="1.53" ry="1.08" transform="rotate(57 349.76 557.68)"/><ellipse cx="369.17" cy="579.77" rx="0.84" ry="0.57" transform="rotate(59 369.17 579.77)"/><ellipse cx="277.91" cy="553.56" rx="0.98" ry="0.58" transform="rotate(177 277.91 553.56)"/><ellipse cx="287.11" cy="602.07" rx="1.33" ry="0.98" transform="rotate(45 287.11 602.07)"/><ellipse cx="403.38" cy="585.02" rx="1.27" ry="0.64" transform="rotate(105 403.38 585.02)"/><ellipse cx="299.7" cy="619.89" rx="0.88" ry="0.96" transform="rotate(133 299.7 619.89)"/><ellipse cx="391.56" cy="542.53" rx="0.69" ry="0.77" transform="rotate(105 391.56 542.53)"/><ellipse cx="350.98" cy="591.79" rx="1.11" ry="0.94" transform="rotate(94 350.98 591.79)"/><ellipse cx="283.15" cy="626.1" rx="0.81" ry="0.76" transform="rotate(17 283.15 626.1)"/><ellipse cx="310.64" cy="593.3" rx="0.91" ry="0.66" transform="rotate(90 310.64 593.3)"/><ellipse cx="394.82" cy="572.58" rx="0.73" ry="0.49" transform="rotate(40 394.82 572.58)"/><ellipse cx="367.3" cy="620.97" rx="0.79" ry="0.64" transform="rotate(19 367.3 620.97)"/><ellipse cx="377.82" cy="615.51" rx="1.22" ry="0.99" transform="rotate(149 377.82 615.51)"/><ellipse cx="310.34" cy="558.85" rx="0.77" ry="0.62" transform="rotate(57 310.34 558.85)"/><ellipse cx="304.29" cy="576.24" rx="1.13" ry="0.98" transform="rotate(152 304.29 576.24)"/><ellipse cx="323.07" cy="575.16" rx="0.85" ry="0.46" transform="rotate(46 323.07 575.16)"/><ellipse cx="379.74" cy="570.99" rx="2.29" ry="1.06" transform="rotate(80 379.74 570.99)"/><ellipse cx="274.35" cy="537.15" rx="1.42" ry="1.09" transform="rotate(96 274.35 537.15)"/><ellipse cx="311.22" cy="555.05" rx="1.84" ry="1.04" transform="rotate(67 311.22 555.05)"/><ellipse cx="310.19" cy="534.19" rx="0.76" ry="0.83" transform="rotate(116 310.19 534.19)"/><ellipse cx="309.96" cy="607.1" rx="0.63" ry="0.6" transform="rotate(87 309.96 607.1)"/><ellipse cx="296.48" cy="535.56" rx="1.08" ry="0.86" transform="rotate(86 296.48 535.56)"/><ellipse cx="277.96" cy="580.05" rx="0.84" ry="0.41" transform="rotate(10 277.96 580.05)"/><ellipse cx="285.82" cy="516.96" rx="1.22" ry="1.03" transform="rotate(147 285.82 516.96)"/><ellipse cx="333.38" cy="573.4" rx="0.89" ry="0.46" transform="rotate(4 333.38 573.4)"/><ellipse cx="297.31" cy="597.1" rx="1.46" ry="0.7" transform="rotate(147 297.31 597.1)"/><ellipse cx="356.36" cy="562.71" rx="0.43" ry="0.47" transform="rotate(142 356.36 562.71)"/><ellipse cx="318.65" cy="606.62" rx="1.04" ry="0.55" transform="rotate(104 318.65 606.62)"/><ellipse cx="399.75" cy="605.59" rx="1.25" ry="0.86" transform="rotate(66 399.75 605.59)"/><ellipse cx="394.69" cy="527.38" rx="1.46" ry="0.9" transform="rotate(136 394.69 527.38)"/><ellipse cx="377.63" cy="548.92" rx="0.68" ry="0.56" transform="rotate(12 377.63 548.92)"/><ellipse cx="358.43" cy="558.67" rx="1.09" ry="1.09" transform="rotate(72 358.43 558.67)"/><ellipse cx="268.78" cy="541.04" rx="1.68" ry="1.09" transform="rotate(19 268.78 541.04)"/><ellipse cx="295.66" cy="606.78" rx="1.21" ry="0.81" transform="rotate(79 295.66 606.78)"/><ellipse cx="338" cy="524.84" rx="1.39" ry="0.77" transform="rotate(120 338 524.84)"/><ellipse cx="354.96" cy="596.95" rx="1.84" ry="1.01" transform="rotate(69 354.96 596.95)"/><ellipse cx="316.77" cy="601.05" rx="0.61" ry="0.67" transform="rotate(88 316.77 601.05)"/><ellipse cx="339.79" cy="595.42" rx="0.85" ry="0.66" transform="rotate(156 339.79 595.42)"/><ellipse cx="298.01" cy="577.75" rx="0.55" ry="0.42" transform="rotate(123 298.01 577.75)"/><ellipse cx="403.6" cy="558.25" rx="1.76" ry="1.02" transform="rotate(11 403.6 558.25)"/><ellipse cx="326.9" cy="597.11" rx="0.38" ry="0.42" transform="rotate(156 326.9 597.11)"/><ellipse cx="315.88" cy="522.76" rx="0.94" ry="0.74" transform="rotate(127 315.88 522.76)"/><ellipse cx="277.18" cy="591.05" rx="0.93" ry="0.81" transform="rotate(167 277.18 591.05)"/><ellipse cx="377.89" cy="535.9" rx="1.53" ry="0.92" transform="rotate(149 377.89 535.9)"/><ellipse cx="365.13" cy="592.02" rx="1.18" ry="0.8" transform="rotate(171 365.13 592.02)"/></g>
<g fill="#34461e" opacity="0.5"><ellipse cx="360.44" cy="619.32" rx="1.08" ry="0.71" transform="rotate(28 360.44 619.32)"/><ellipse cx="274.11" cy="568.05" rx="1.16" ry="0.54" transform="rotate(148 274.11 568.05)"/><ellipse cx="285.19" cy="533.26" rx="0.85" ry="0.95" transform="rotate(162 285.19 533.26)"/><ellipse cx="352.91" cy="527.63" rx="0.74" ry="0.51" transform="rotate(75 352.91 527.63)"/><ellipse cx="307.57" cy="545.17" rx="1.65" ry="0.85" transform="rotate(29 307.57 545.17)"/><ellipse cx="350.56" cy="581.34" rx="0.79" ry="0.73" transform="rotate(139 350.56 581.34)"/><ellipse cx="407.01" cy="620.7" rx="1.09" ry="0.9" transform="rotate(80 407.01 620.7)"/><ellipse cx="360.75" cy="577.79" rx="0.73" ry="0.52" transform="rotate(58 360.75 577.79)"/><ellipse cx="358.26" cy="554.76" rx="1.94" ry="0.93" transform="rotate(13 358.26 554.76)"/><ellipse cx="322.22" cy="609.09" rx="1.54" ry="0.95" transform="rotate(39 322.22 609.09)"/><ellipse cx="326.27" cy="622.52" rx="1.61" ry="0.9" transform="rotate(13 326.27 622.52)"/><ellipse cx="331.35" cy="598.79" rx="0.69" ry="0.84" transform="rotate(120 331.35 598.79)"/><ellipse cx="359.77" cy="556.48" rx="0.64" ry="0.68" transform="rotate(27 359.77 556.48)"/><ellipse cx="374.7" cy="596.15" rx="0.73" ry="0.88" transform="rotate(19 374.7 596.15)"/><ellipse cx="273.02" cy="519.53" rx="1.2" ry="0.56" transform="rotate(55 273.02 519.53)"/><ellipse cx="303.62" cy="588.21" rx="1.83" ry="0.92" transform="rotate(92 303.62 588.21)"/><ellipse cx="383.37" cy="596.25" rx="1.05" ry="0.77" transform="rotate(69 383.37 596.25)"/><ellipse cx="268.37" cy="575.4" rx="0.86" ry="0.52" transform="rotate(77 268.37 575.4)"/><ellipse cx="364.73" cy="560.45" rx="0.78" ry="0.89" transform="rotate(9 364.73 560.45)"/><ellipse cx="362.66" cy="592.93" rx="1.38" ry="0.75" transform="rotate(112 362.66 592.93)"/><ellipse cx="357.78" cy="591.1" rx="1.38" ry="0.96" transform="rotate(99 357.78 591.1)"/><ellipse cx="365" cy="542.05" rx="1.09" ry="0.58" transform="rotate(133 365 542.05)"/><ellipse cx="315.17" cy="533.57" rx="1.55" ry="0.73" transform="rotate(63 315.17 533.57)"/><ellipse cx="292.57" cy="527.1" rx="1.5" ry="0.97" transform="rotate(82 292.57 527.1)"/><ellipse cx="347.06" cy="531.17" rx="0.57" ry="0.67" transform="rotate(83 347.06 531.17)"/><ellipse cx="404.82" cy="562.07" rx="0.49" ry="0.58" transform="rotate(148 404.82 562.07)"/><ellipse cx="263.68" cy="614.71" rx="1.33" ry="0.68" transform="rotate(13 263.68 614.71)"/><ellipse cx="296.23" cy="580.37" rx="1.64" ry="0.83" transform="rotate(88 296.23 580.37)"/><ellipse cx="341.67" cy="527.25" rx="1.83" ry="0.84" transform="rotate(46 341.67 527.25)"/><ellipse cx="264.72" cy="566.75" rx="0.66" ry="0.52" transform="rotate(5 264.72 566.75)"/></g>
</g>
<path d="M387.2 620.9h17" stroke="#e8f0e0" stroke-width="0.6" opacity="0.8"/>
<rect x="392.7" y="621.6" width="6" height="1.8" fill="#e8f0e0" opacity="0.7"/>
</g>
<clipPath id="cl3"><rect x="427.1" y="507.9" width="149.4" height="120"/></clipPath>
<g clip-path="url(#cl3)"><g filter="url(#mblur)">
<rect x="424.1" y="504.9" width="155.4" height="126" fill="#4c742a"/>
<circle cx="457.1" cy="525.9" r="32" fill="#52b040" opacity="0.7" filter="url(#blur6)"/>
<g fill="#c86030" opacity="0.7" filter="url(#sblur)"><ellipse cx="462.65" cy="573.21" rx="1.15" ry="0.7" transform="rotate(160 462.65 573.21)"/><ellipse cx="513.88" cy="580.57" rx="1.64" ry="1.13" transform="rotate(141 513.88 580.57)"/><ellipse cx="462.11" cy="627.38" rx="1.53" ry="0.78" transform="rotate(121 462.11 627.38)"/><ellipse cx="486.43" cy="611.22" rx="0.59" ry="0.59" transform="rotate(133 486.43 611.22)"/><ellipse cx="485.36" cy="509.72" rx="1.05" ry="1.02" transform="rotate(151 485.36 509.72)"/><ellipse cx="433.49" cy="601.51" rx="1.25" ry="1.06" transform="rotate(152 433.49 601.51)"/><ellipse cx="534.49" cy="613.36" rx="2.03" ry="0.97" transform="rotate(101 534.49 613.36)"/><ellipse cx="535.88" cy="577.13" rx="1.16" ry="1.17" transform="rotate(93 535.88 577.13)"/><ellipse cx="441.66" cy="524.22" rx="1.23" ry="0.57" transform="rotate(111 441.66 524.22)"/><ellipse cx="543.48" cy="610.53" rx="1.45" ry="0.74" transform="rotate(146 543.48 610.53)"/><ellipse cx="479.53" cy="578.11" rx="1.79" ry="0.87" transform="rotate(174 479.53 578.11)"/><ellipse cx="563.91" cy="511.34" rx="1.03" ry="0.62" transform="rotate(178 563.91 511.34)"/><ellipse cx="451.47" cy="611.18" rx="2.42" ry="1.17" transform="rotate(145 451.47 611.18)"/><ellipse cx="442.65" cy="586.56" rx="1.98" ry="0.91" transform="rotate(68 442.65 586.56)"/><ellipse cx="469.67" cy="515.52" rx="2.37" ry="1.08" transform="rotate(22 469.67 515.52)"/><ellipse cx="478.51" cy="515.89" rx="0.93" ry="1.12" transform="rotate(109 478.51 515.89)"/><ellipse cx="541.96" cy="612.63" rx="0.72" ry="0.44" transform="rotate(11 541.96 612.63)"/><ellipse cx="483.54" cy="578.27" rx="1.76" ry="0.84" transform="rotate(71 483.54 578.27)"/><ellipse cx="502.61" cy="627.72" rx="0.59" ry="0.65" transform="rotate(153 502.61 627.72)"/><ellipse cx="507.12" cy="621.77" rx="1.42" ry="1.18" transform="rotate(67 507.12 621.77)"/><ellipse cx="450.44" cy="512.99" rx="1.36" ry="1.09" transform="rotate(35 450.44 512.99)"/><ellipse cx="561.06" cy="553.23" rx="1.17" ry="0.77" transform="rotate(164 561.06 553.23)"/><ellipse cx="556.6" cy="589.62" rx="1.04" ry="0.48" transform="rotate(129 556.6 589.62)"/><ellipse cx="467.63" cy="584.01" rx="2.05" ry="0.97" transform="rotate(111 467.63 584.01)"/><ellipse cx="573.18" cy="570.44" rx="0.68" ry="0.84" transform="rotate(106 573.18 570.44)"/><ellipse cx="574.63" cy="545.69" rx="1.14" ry="0.7" transform="rotate(34 574.63 545.69)"/><ellipse cx="436.08" cy="583.18" rx="1.35" ry="0.77" transform="rotate(90 436.08 583.18)"/><ellipse cx="518.06" cy="541.37" rx="1.29" ry="0.79" transform="rotate(173 518.06 541.37)"/><ellipse cx="430.28" cy="552.2" rx="1.1" ry="0.9" transform="rotate(153 430.28 552.2)"/><ellipse cx="474.91" cy="551.57" rx="0.86" ry="0.65" transform="rotate(152 474.91 551.57)"/><ellipse cx="466.56" cy="602.38" rx="0.94" ry="0.48" transform="rotate(145 466.56 602.38)"/><ellipse cx="529.25" cy="523.67" rx="1.37" ry="0.8" transform="rotate(68 529.25 523.67)"/><ellipse cx="462.76" cy="530.39" rx="1.33" ry="0.75" transform="rotate(26 462.76 530.39)"/><ellipse cx="516.85" cy="621.8" rx="1.05" ry="0.94" transform="rotate(43 516.85 621.8)"/><ellipse cx="439.04" cy="596.95" rx="0.92" ry="0.57" transform="rotate(69 439.04 596.95)"/><ellipse cx="460.72" cy="522.41" rx="0.88" ry="0.82" transform="rotate(147 460.72 522.41)"/><ellipse cx="454.53" cy="541.33" rx="1.78" ry="1.05" transform="rotate(158 454.53 541.33)"/><ellipse cx="478.69" cy="523.46" rx="1.21" ry="0.63" transform="rotate(69 478.69 523.46)"/><ellipse cx="496.53" cy="584" rx="1.01" ry="0.63" transform="rotate(9 496.53 584)"/><ellipse cx="564.64" cy="526.62" rx="0.86" ry="0.4" transform="rotate(159 564.64 526.62)"/><ellipse cx="574.54" cy="560.02" rx="2.43" ry="1.16" transform="rotate(56 574.54 560.02)"/><ellipse cx="431.93" cy="562.7" rx="1.85" ry="1" transform="rotate(73 431.93 562.7)"/><ellipse cx="508.35" cy="614.66" rx="2.18" ry="1.09" transform="rotate(73 508.35 614.66)"/><ellipse cx="445.03" cy="537.24" rx="0.82" ry="0.43" transform="rotate(131 445.03 537.24)"/><ellipse cx="565.12" cy="615.49" rx="1.8" ry="1.12" transform="rotate(3 565.12 615.49)"/><ellipse cx="498.97" cy="522.4" rx="0.91" ry="0.8" transform="rotate(5 498.97 522.4)"/><ellipse cx="505.53" cy="557.55" rx="1.91" ry="1.15" transform="rotate(87 505.53 557.55)"/><ellipse cx="445.84" cy="624.54" rx="1.61" ry="0.83" transform="rotate(15 445.84 624.54)"/><ellipse cx="479.67" cy="531.58" rx="1.61" ry="0.83" transform="rotate(43 479.67 531.58)"/><ellipse cx="462.87" cy="540.75" rx="1.09" ry="1.11" transform="rotate(1 462.87 540.75)"/><ellipse cx="499.93" cy="576.41" rx="1.34" ry="0.72" transform="rotate(63 499.93 576.41)"/><ellipse cx="467.23" cy="571.17" rx="1.08" ry="0.74" transform="rotate(0 467.23 571.17)"/><ellipse cx="555.14" cy="600.93" rx="0.38" ry="0.44" transform="rotate(123 555.14 600.93)"/><ellipse cx="572.72" cy="610.43" rx="0.7" ry="0.47" transform="rotate(80 572.72 610.43)"/><ellipse cx="450.56" cy="516.51" rx="0.95" ry="0.71" transform="rotate(77 450.56 516.51)"/><ellipse cx="481.01" cy="530.83" rx="0.65" ry="0.66" transform="rotate(142 481.01 530.83)"/><ellipse cx="427.62" cy="594.66" rx="1.65" ry="1.04" transform="rotate(10 427.62 594.66)"/><ellipse cx="482.87" cy="580.43" rx="1.37" ry="1.03" transform="rotate(11 482.87 580.43)"/><ellipse cx="520.17" cy="559.69" rx="1.04" ry="0.7" transform="rotate(179 520.17 559.69)"/><ellipse cx="474.15" cy="621.93" rx="0.61" ry="0.73" transform="rotate(55 474.15 621.93)"/><ellipse cx="507.15" cy="591.32" rx="0.64" ry="0.46" transform="rotate(109 507.15 591.32)"/><ellipse cx="446.58" cy="511.27" rx="1.42" ry="0.66" transform="rotate(143 446.58 511.27)"/><ellipse cx="545.26" cy="539.36" rx="0.75" ry="0.77" transform="rotate(169 545.26 539.36)"/><ellipse cx="554.06" cy="571.52" rx="0.67" ry="0.7" transform="rotate(81 554.06 571.52)"/><ellipse cx="511.34" cy="520.28" rx="0.7" ry="0.87" transform="rotate(36 511.34 520.28)"/><ellipse cx="462.35" cy="554.54" rx="1.31" ry="0.82" transform="rotate(168 462.35 554.54)"/><ellipse cx="558.64" cy="529.4" rx="0.83" ry="0.42" transform="rotate(31 558.64 529.4)"/><ellipse cx="430.9" cy="521.71" rx="1.39" ry="0.79" transform="rotate(72 430.9 521.71)"/><ellipse cx="513.61" cy="603.75" rx="0.8" ry="0.43" transform="rotate(130 513.61 603.75)"/><ellipse cx="506.13" cy="536.5" rx="0.79" ry="0.84" transform="rotate(141 506.13 536.5)"/><ellipse cx="436.23" cy="546.81" rx="1.67" ry="0.85" transform="rotate(61 436.23 546.81)"/><ellipse cx="576.25" cy="585.42" rx="1.36" ry="0.76" transform="rotate(100 576.25 585.42)"/><ellipse cx="464.88" cy="579.83" rx="1.82" ry="1.15" transform="rotate(21 464.88 579.83)"/><ellipse cx="483.17" cy="536.13" rx="2.27" ry="1.14" transform="rotate(41 483.17 536.13)"/><ellipse cx="489.14" cy="576.11" rx="1.81" ry="0.86" transform="rotate(175 489.14 576.11)"/><ellipse cx="499.37" cy="585.05" rx="1.13" ry="1.12" transform="rotate(24 499.37 585.05)"/><ellipse cx="501.49" cy="565.92" rx="2.04" ry="0.96" transform="rotate(150 501.49 565.92)"/><ellipse cx="534.51" cy="530.23" rx="0.66" ry="0.61" transform="rotate(149 534.51 530.23)"/><ellipse cx="504.13" cy="620.07" rx="1.68" ry="1.08" transform="rotate(75 504.13 620.07)"/><ellipse cx="527.4" cy="610.54" rx="1.42" ry="0.88" transform="rotate(68 527.4 610.54)"/><ellipse cx="559.98" cy="544.77" rx="1.18" ry="0.61" transform="rotate(51 559.98 544.77)"/><ellipse cx="452.83" cy="551.16" rx="1.24" ry="0.66" transform="rotate(36 452.83 551.16)"/><ellipse cx="489.61" cy="591.61" rx="1.05" ry="0.96" transform="rotate(148 489.61 591.61)"/><ellipse cx="551.79" cy="606.49" rx="1.25" ry="0.85" transform="rotate(18 551.79 606.49)"/><ellipse cx="555.08" cy="555.93" rx="2.12" ry="0.99" transform="rotate(119 555.08 555.93)"/><ellipse cx="563.19" cy="614.82" rx="1.73" ry="0.92" transform="rotate(17 563.19 614.82)"/><ellipse cx="570.33" cy="610.37" rx="0.63" ry="0.59" transform="rotate(66 570.33 610.37)"/><ellipse cx="447.64" cy="582.53" rx="0.8" ry="0.94" transform="rotate(65 447.64 582.53)"/><ellipse cx="452.45" cy="513.3" rx="0.51" ry="0.55" transform="rotate(21 452.45 513.3)"/><ellipse cx="444.72" cy="539.6" rx="0.96" ry="1.13" transform="rotate(115 444.72 539.6)"/><ellipse cx="513.8" cy="588.96" rx="0.51" ry="0.41" transform="rotate(111 513.8 588.96)"/><ellipse cx="483.82" cy="517.26" rx="1.68" ry="0.92" transform="rotate(125 483.82 517.26)"/><ellipse cx="485.5" cy="573.22" rx="0.59" ry="0.5" transform="rotate(170 485.5 573.22)"/><ellipse cx="491.72" cy="560.51" rx="0.95" ry="0.82" transform="rotate(135 491.72 560.51)"/><ellipse cx="567.73" cy="552.81" rx="1.89" ry="1.02" transform="rotate(75 567.73 552.81)"/><ellipse cx="526.14" cy="588.3" rx="2.25" ry="1.16" transform="rotate(27 526.14 588.3)"/><ellipse cx="539.78" cy="623.26" rx="1.45" ry="0.94" transform="rotate(29 539.78 623.26)"/><ellipse cx="526.73" cy="568.94" rx="0.54" ry="0.45" transform="rotate(144 526.73 568.94)"/><ellipse cx="537.99" cy="585.4" rx="0.99" ry="0.98" transform="rotate(94 537.99 585.4)"/><ellipse cx="560.05" cy="586.54" rx="1.05" ry="0.5" transform="rotate(36 560.05 586.54)"/><ellipse cx="564.67" cy="585.3" rx="1.28" ry="0.92" transform="rotate(76 564.67 585.3)"/><ellipse cx="523.83" cy="562.82" rx="0.68" ry="0.65" transform="rotate(17 523.83 562.82)"/><ellipse cx="443.15" cy="529.65" rx="1.35" ry="0.84" transform="rotate(100 443.15 529.65)"/><ellipse cx="480.77" cy="539.8" rx="1.43" ry="0.71" transform="rotate(10 480.77 539.8)"/><ellipse cx="498.62" cy="540.45" rx="1.45" ry="0.96" transform="rotate(85 498.62 540.45)"/><ellipse cx="568.29" cy="561.69" rx="0.94" ry="1.05" transform="rotate(127 568.29 561.69)"/><ellipse cx="553.62" cy="521.36" rx="0.58" ry="0.62" transform="rotate(28 553.62 521.36)"/><ellipse cx="511.42" cy="617.09" rx="0.87" ry="0.49" transform="rotate(145 511.42 617.09)"/><ellipse cx="489.35" cy="597.1" rx="1.95" ry="1.05" transform="rotate(151 489.35 597.1)"/><ellipse cx="517.92" cy="611.04" rx="1.62" ry="1.04" transform="rotate(43 517.92 611.04)"/><ellipse cx="512.01" cy="532.15" rx="1.14" ry="0.6" transform="rotate(7 512.01 532.15)"/><ellipse cx="552.94" cy="561.28" rx="1.41" ry="0.73" transform="rotate(80 552.94 561.28)"/><ellipse cx="509.66" cy="577.87" rx="1.97" ry="0.91" transform="rotate(175 509.66 577.87)"/><ellipse cx="532.72" cy="615.38" rx="0.79" ry="0.93" transform="rotate(48 532.72 615.38)"/><ellipse cx="535.69" cy="508.18" rx="1.75" ry="1.02" transform="rotate(125 535.69 508.18)"/><ellipse cx="452.96" cy="582.9" rx="1.06" ry="0.56" transform="rotate(54 452.96 582.9)"/><ellipse cx="432.64" cy="567.95" rx="1.3" ry="0.92" transform="rotate(144 432.64 567.95)"/><ellipse cx="469.42" cy="586.8" rx="0.76" ry="0.52" transform="rotate(22 469.42 586.8)"/><ellipse cx="520.22" cy="513.97" rx="0.78" ry="0.69" transform="rotate(19 520.22 513.97)"/><ellipse cx="501.59" cy="510.17" rx="0.85" ry="0.67" transform="rotate(88 501.59 510.17)"/><ellipse cx="530.88" cy="524.02" rx="1.78" ry="1.09" transform="rotate(8 530.88 524.02)"/><ellipse cx="534.06" cy="596.67" rx="1.3" ry="0.67" transform="rotate(16 534.06 596.67)"/><ellipse cx="555.8" cy="560.34" rx="1.49" ry="1.01" transform="rotate(27 555.8 560.34)"/><ellipse cx="544.66" cy="556.92" rx="1.92" ry="1.08" transform="rotate(100 544.66 556.92)"/><ellipse cx="501.37" cy="591.81" rx="1.15" ry="0.83" transform="rotate(166 501.37 591.81)"/><ellipse cx="500.16" cy="510.7" rx="1.35" ry="0.77" transform="rotate(112 500.16 510.7)"/><ellipse cx="454.08" cy="615.83" rx="1.28" ry="0.98" transform="rotate(94 454.08 615.83)"/><ellipse cx="493.99" cy="551.28" rx="1.56" ry="0.72" transform="rotate(53 493.99 551.28)"/><ellipse cx="465.75" cy="552.26" rx="1.68" ry="1.08" transform="rotate(40 465.75 552.26)"/><ellipse cx="458.37" cy="528.39" rx="0.75" ry="0.72" transform="rotate(7 458.37 528.39)"/><ellipse cx="447.91" cy="580.94" rx="0.8" ry="0.75" transform="rotate(5 447.91 580.94)"/><ellipse cx="487.32" cy="546.04" rx="0.77" ry="0.43" transform="rotate(61 487.32 546.04)"/><ellipse cx="487.35" cy="555.49" rx="0.91" ry="0.42" transform="rotate(56 487.35 555.49)"/><ellipse cx="463.19" cy="554.59" rx="0.7" ry="0.55" transform="rotate(29 463.19 554.59)"/><ellipse cx="478.85" cy="522.77" rx="0.8" ry="0.44" transform="rotate(70 478.85 522.77)"/><ellipse cx="573.7" cy="620.94" rx="2.21" ry="1.03" transform="rotate(125 573.7 620.94)"/><ellipse cx="464.45" cy="539.8" rx="1.77" ry="1.05" transform="rotate(88 464.45 539.8)"/><ellipse cx="474.47" cy="514.71" rx="0.69" ry="0.75" transform="rotate(158 474.47 514.71)"/><ellipse cx="427.65" cy="511.54" rx="0.49" ry="0.47" transform="rotate(9 427.65 511.54)"/><ellipse cx="499.09" cy="530.59" rx="1.02" ry="0.81" transform="rotate(122 499.09 530.59)"/><ellipse cx="477.89" cy="565.34" rx="1.17" ry="0.68" transform="rotate(97 477.89 565.34)"/><ellipse cx="472.63" cy="580.73" rx="1.07" ry="1.16" transform="rotate(75 472.63 580.73)"/><ellipse cx="454.61" cy="557.47" rx="1.26" ry="0.81" transform="rotate(137 454.61 557.47)"/><ellipse cx="528.7" cy="619.32" rx="0.99" ry="0.54" transform="rotate(98 528.7 619.32)"/><ellipse cx="551.95" cy="574.3" rx="1.49" ry="1.14" transform="rotate(106 551.95 574.3)"/><ellipse cx="492.6" cy="561.24" rx="1.23" ry="0.96" transform="rotate(43 492.6 561.24)"/><ellipse cx="502.85" cy="598.23" rx="2.01" ry="1.13" transform="rotate(124 502.85 598.23)"/><ellipse cx="433.48" cy="528.5" rx="1.95" ry="1" transform="rotate(23 433.48 528.5)"/><ellipse cx="540.41" cy="589.18" rx="0.54" ry="0.48" transform="rotate(164 540.41 589.18)"/><ellipse cx="435.53" cy="581.36" rx="0.64" ry="0.44" transform="rotate(165 435.53 581.36)"/><ellipse cx="476.96" cy="552.31" rx="0.62" ry="0.46" transform="rotate(26 476.96 552.31)"/><ellipse cx="477.67" cy="545.26" rx="1.48" ry="0.76" transform="rotate(53 477.67 545.26)"/><ellipse cx="463.06" cy="513.76" rx="0.89" ry="0.52" transform="rotate(149 463.06 513.76)"/><ellipse cx="574.31" cy="521.35" rx="0.69" ry="0.63" transform="rotate(143 574.31 521.35)"/><ellipse cx="504.13" cy="568.49" rx="1.4" ry="1.13" transform="rotate(137 504.13 568.49)"/><ellipse cx="543.96" cy="564" rx="0.77" ry="0.9" transform="rotate(28 543.96 564)"/><ellipse cx="516.46" cy="610.97" rx="1.02" ry="0.48" transform="rotate(65 516.46 610.97)"/><ellipse cx="439.91" cy="563.73" rx="1.13" ry="0.58" transform="rotate(157 439.91 563.73)"/><ellipse cx="443.36" cy="566.17" rx="1.66" ry="0.93" transform="rotate(103 443.36 566.17)"/><ellipse cx="517.2" cy="561.37" rx="0.96" ry="0.49" transform="rotate(152 517.2 561.37)"/><ellipse cx="493.39" cy="553.43" rx="0.4" ry="0.49" transform="rotate(76 493.39 553.43)"/><ellipse cx="535.86" cy="517.17" rx="1" ry="0.68" transform="rotate(18 535.86 517.17)"/><ellipse cx="565.14" cy="590.26" rx="1.31" ry="0.69" transform="rotate(17 565.14 590.26)"/><ellipse cx="517.62" cy="533.6" rx="1.49" ry="0.68" transform="rotate(85 517.62 533.6)"/><ellipse cx="462.38" cy="560.58" rx="0.75" ry="0.6" transform="rotate(52 462.38 560.58)"/><ellipse cx="535.62" cy="612.87" rx="1.97" ry="1.19" transform="rotate(137 535.62 612.87)"/><ellipse cx="554.47" cy="552.03" rx="0.93" ry="0.55" transform="rotate(104 554.47 552.03)"/><ellipse cx="499.44" cy="600.72" rx="1.59" ry="0.73" transform="rotate(8 499.44 600.72)"/><ellipse cx="470.73" cy="620" rx="0.51" ry="0.55" transform="rotate(38 470.73 620)"/><ellipse cx="471.07" cy="570.23" rx="0.78" ry="0.91" transform="rotate(53 471.07 570.23)"/><ellipse cx="468.33" cy="559.79" rx="1.24" ry="0.68" transform="rotate(73 468.33 559.79)"/><ellipse cx="448.46" cy="561.19" rx="1.6" ry="1.13" transform="rotate(52 448.46 561.19)"/><ellipse cx="449.99" cy="599.43" rx="2.08" ry="0.96" transform="rotate(162 449.99 599.43)"/><ellipse cx="482.76" cy="527.26" rx="0.94" ry="0.65" transform="rotate(134 482.76 527.26)"/><ellipse cx="576.29" cy="534.61" rx="1.4" ry="1.17" transform="rotate(7 576.29 534.61)"/><ellipse cx="496.3" cy="614.32" rx="1.27" ry="1.05" transform="rotate(62 496.3 614.32)"/><ellipse cx="566.06" cy="570.25" rx="0.69" ry="0.41" transform="rotate(38 566.06 570.25)"/><ellipse cx="507.15" cy="527.79" rx="0.48" ry="0.44" transform="rotate(119 507.15 527.79)"/><ellipse cx="480.12" cy="623.78" rx="1.09" ry="0.69" transform="rotate(125 480.12 623.78)"/><ellipse cx="454.74" cy="509.48" rx="0.95" ry="0.75" transform="rotate(13 454.74 509.48)"/><ellipse cx="517.26" cy="605.25" rx="0.89" ry="0.76" transform="rotate(172 517.26 605.25)"/><ellipse cx="546.94" cy="558.09" rx="0.52" ry="0.61" transform="rotate(109 546.94 558.09)"/><ellipse cx="432.67" cy="627.42" rx="0.99" ry="0.53" transform="rotate(144 432.67 627.42)"/><ellipse cx="464.06" cy="524.18" rx="1.92" ry="1.01" transform="rotate(130 464.06 524.18)"/><ellipse cx="539.24" cy="548.39" rx="0.42" ry="0.51" transform="rotate(11 539.24 548.39)"/><ellipse cx="429.65" cy="585.07" rx="2.31" ry="1.12" transform="rotate(119 429.65 585.07)"/><ellipse cx="504.96" cy="598.46" rx="2.36" ry="1.09" transform="rotate(131 504.96 598.46)"/><ellipse cx="489.02" cy="570.11" rx="0.57" ry="0.54" transform="rotate(175 489.02 570.11)"/><ellipse cx="447.95" cy="607.76" rx="0.91" ry="0.48" transform="rotate(113 447.95 607.76)"/><ellipse cx="495.06" cy="604.25" rx="1.63" ry="0.76" transform="rotate(39 495.06 604.25)"/><ellipse cx="513.34" cy="524.66" rx="0.64" ry="0.43" transform="rotate(59 513.34 524.66)"/><ellipse cx="550.74" cy="619.66" rx="0.75" ry="0.89" transform="rotate(147 550.74 619.66)"/><ellipse cx="516.4" cy="521.83" rx="0.95" ry="0.5" transform="rotate(68 516.4 521.83)"/><ellipse cx="442.41" cy="588.14" rx="1.06" ry="0.7" transform="rotate(164 442.41 588.14)"/><ellipse cx="494.01" cy="545.27" rx="1.16" ry="0.68" transform="rotate(101 494.01 545.27)"/><ellipse cx="474.34" cy="540.41" rx="2.46" ry="1.16" transform="rotate(81 474.34 540.41)"/><ellipse cx="518.32" cy="574.52" rx="0.59" ry="0.43" transform="rotate(105 518.32 574.52)"/><ellipse cx="573.54" cy="517.41" rx="0.63" ry="0.58" transform="rotate(20 573.54 517.41)"/><ellipse cx="531.41" cy="521.72" rx="0.88" ry="0.91" transform="rotate(1 531.41 521.72)"/><ellipse cx="567.85" cy="624.82" rx="1.34" ry="0.95" transform="rotate(123 567.85 624.82)"/><ellipse cx="496.09" cy="542.63" rx="0.89" ry="0.85" transform="rotate(124 496.09 542.63)"/><ellipse cx="570.16" cy="525.21" rx="1.18" ry="1.12" transform="rotate(119 570.16 525.21)"/><ellipse cx="527.88" cy="585.53" rx="0.45" ry="0.51" transform="rotate(160 527.88 585.53)"/><ellipse cx="453.42" cy="530.65" rx="2.14" ry="1.06" transform="rotate(12 453.42 530.65)"/><ellipse cx="505.39" cy="526.14" rx="1.08" ry="0.57" transform="rotate(110 505.39 526.14)"/><ellipse cx="485.35" cy="626.4" rx="0.61" ry="0.62" transform="rotate(37 485.35 626.4)"/><ellipse cx="471.18" cy="553.93" rx="1.89" ry="1.15" transform="rotate(49 471.18 553.93)"/><ellipse cx="428.21" cy="552.41" rx="0.76" ry="0.51" transform="rotate(16 428.21 552.41)"/><ellipse cx="480.04" cy="622" rx="1.41" ry="0.79" transform="rotate(80 480.04 622)"/><ellipse cx="497.72" cy="596.63" rx="1.65" ry="0.82" transform="rotate(113 497.72 596.63)"/><ellipse cx="512.09" cy="563.59" rx="1.18" ry="0.83" transform="rotate(136 512.09 563.59)"/><ellipse cx="495.26" cy="553.97" rx="1.22" ry="1.01" transform="rotate(45 495.26 553.97)"/><ellipse cx="472.03" cy="610.95" rx="1.45" ry="1.17" transform="rotate(51 472.03 610.95)"/><ellipse cx="446.58" cy="580.33" rx="0.74" ry="0.45" transform="rotate(45 446.58 580.33)"/><ellipse cx="444.22" cy="509.57" rx="2.09" ry="1.1" transform="rotate(145 444.22 509.57)"/><ellipse cx="529.51" cy="570.93" rx="0.94" ry="1.01" transform="rotate(138 529.51 570.93)"/><ellipse cx="513.89" cy="547" rx="0.96" ry="0.87" transform="rotate(116 513.89 547)"/><ellipse cx="502.75" cy="552.72" rx="0.85" ry="0.65" transform="rotate(153 502.75 552.72)"/><ellipse cx="542.29" cy="594.68" rx="1.19" ry="0.68" transform="rotate(87 542.29 594.68)"/><ellipse cx="469.95" cy="625.11" rx="0.6" ry="0.62" transform="rotate(128 469.95 625.11)"/></g>
<g fill="#2f3a18" opacity="0.6" filter="url(#sblur)"><ellipse cx="460.16" cy="627.35" rx="1.16" ry="1.01" transform="rotate(111 460.16 627.35)"/><ellipse cx="571.56" cy="562.25" rx="1.29" ry="0.83" transform="rotate(45 571.56 562.25)"/><ellipse cx="574.49" cy="571.32" rx="1.35" ry="0.81" transform="rotate(17 574.49 571.32)"/><ellipse cx="489.46" cy="573.88" rx="1.12" ry="0.93" transform="rotate(60 489.46 573.88)"/><ellipse cx="554.76" cy="553.98" rx="1.56" ry="1.19" transform="rotate(54 554.76 553.98)"/><ellipse cx="435.37" cy="567.19" rx="1.06" ry="0.58" transform="rotate(99 435.37 567.19)"/><ellipse cx="533.38" cy="551.28" rx="1.07" ry="0.71" transform="rotate(102 533.38 551.28)"/><ellipse cx="492.72" cy="616.84" rx="0.93" ry="0.98" transform="rotate(126 492.72 616.84)"/><ellipse cx="448.94" cy="534.29" rx="1.26" ry="0.76" transform="rotate(35 448.94 534.29)"/><ellipse cx="559.35" cy="533" rx="0.87" ry="0.8" transform="rotate(7 559.35 533)"/><ellipse cx="507.6" cy="618.46" rx="1.6" ry="0.87" transform="rotate(54 507.6 618.46)"/><ellipse cx="493.04" cy="589.79" rx="1.19" ry="0.58" transform="rotate(96 493.04 589.79)"/><ellipse cx="460.69" cy="524.57" rx="1.12" ry="0.71" transform="rotate(30 460.69 524.57)"/><ellipse cx="550.14" cy="579.76" rx="0.47" ry="0.56" transform="rotate(89 550.14 579.76)"/><ellipse cx="484.29" cy="566.73" rx="1.74" ry="1.19" transform="rotate(35 484.29 566.73)"/><ellipse cx="485.18" cy="569.31" rx="1.35" ry="0.8" transform="rotate(168 485.18 569.31)"/><ellipse cx="471.61" cy="542.33" rx="1.75" ry="0.95" transform="rotate(21 471.61 542.33)"/><ellipse cx="436.72" cy="613.16" rx="1.28" ry="1.02" transform="rotate(2 436.72 613.16)"/><ellipse cx="475.56" cy="617.42" rx="0.88" ry="0.94" transform="rotate(168 475.56 617.42)"/><ellipse cx="476.64" cy="558.15" rx="1.85" ry="0.91" transform="rotate(51 476.64 558.15)"/><ellipse cx="523.97" cy="622.86" rx="0.82" ry="0.54" transform="rotate(130 523.97 622.86)"/><ellipse cx="505.34" cy="576.77" rx="0.63" ry="0.56" transform="rotate(120 505.34 576.77)"/><ellipse cx="550.25" cy="618.09" rx="1" ry="0.78" transform="rotate(116 550.25 618.09)"/><ellipse cx="525.92" cy="571.31" rx="0.78" ry="0.64" transform="rotate(150 525.92 571.31)"/><ellipse cx="446.95" cy="571.69" rx="1.21" ry="0.93" transform="rotate(149 446.95 571.69)"/><ellipse cx="555.22" cy="596.46" rx="0.57" ry="0.64" transform="rotate(110 555.22 596.46)"/><ellipse cx="555.24" cy="583.46" rx="1.69" ry="0.85" transform="rotate(47 555.24 583.46)"/><ellipse cx="550.02" cy="620.42" rx="1.21" ry="0.58" transform="rotate(101 550.02 620.42)"/><ellipse cx="552.93" cy="545.75" rx="1.29" ry="1.03" transform="rotate(63 552.93 545.75)"/><ellipse cx="484.52" cy="610.07" rx="0.95" ry="1.08" transform="rotate(102 484.52 610.07)"/><ellipse cx="481.92" cy="534.71" rx="0.9" ry="0.7" transform="rotate(13 481.92 534.71)"/><ellipse cx="530.8" cy="548.72" rx="0.64" ry="0.58" transform="rotate(113 530.8 548.72)"/><ellipse cx="452.93" cy="528.1" rx="0.92" ry="0.84" transform="rotate(171 452.93 528.1)"/><ellipse cx="481.6" cy="535.78" rx="1.51" ry="0.98" transform="rotate(153 481.6 535.78)"/><ellipse cx="507.71" cy="579.63" rx="1.33" ry="0.94" transform="rotate(14 507.71 579.63)"/><ellipse cx="438.84" cy="572.26" rx="0.68" ry="0.82" transform="rotate(45 438.84 572.26)"/><ellipse cx="467.21" cy="615.74" rx="1.09" ry="0.98" transform="rotate(128 467.21 615.74)"/><ellipse cx="574.43" cy="549.41" rx="1.77" ry="1.2" transform="rotate(45 574.43 549.41)"/><ellipse cx="444.25" cy="558.2" rx="1.11" ry="1.11" transform="rotate(82 444.25 558.2)"/><ellipse cx="443.18" cy="571.27" rx="1.61" ry="1.1" transform="rotate(138 443.18 571.27)"/><ellipse cx="449.8" cy="618.53" rx="0.65" ry="0.76" transform="rotate(88 449.8 618.53)"/><ellipse cx="550.18" cy="532.27" rx="1.06" ry="0.57" transform="rotate(141 550.18 532.27)"/><ellipse cx="515.68" cy="578" rx="1.17" ry="0.97" transform="rotate(82 515.68 578)"/><ellipse cx="574.77" cy="608.22" rx="1.24" ry="1.02" transform="rotate(2 574.77 608.22)"/><ellipse cx="490.29" cy="574.94" rx="1.44" ry="1.03" transform="rotate(94 490.29 574.94)"/><ellipse cx="511.84" cy="537.88" rx="1.57" ry="0.99" transform="rotate(98 511.84 537.88)"/><ellipse cx="533.63" cy="546.79" rx="1.28" ry="0.61" transform="rotate(124 533.63 546.79)"/><ellipse cx="452.88" cy="555.23" rx="0.87" ry="0.64" transform="rotate(147 452.88 555.23)"/><ellipse cx="481.74" cy="594.76" rx="1.65" ry="0.92" transform="rotate(42 481.74 594.76)"/><ellipse cx="502.56" cy="527.96" rx="0.89" ry="0.57" transform="rotate(99 502.56 527.96)"/><ellipse cx="556.86" cy="569.76" rx="0.69" ry="0.78" transform="rotate(70 556.86 569.76)"/><ellipse cx="529.31" cy="535.55" rx="0.75" ry="0.68" transform="rotate(28 529.31 535.55)"/><ellipse cx="498.32" cy="559.99" rx="1.47" ry="0.68" transform="rotate(47 498.32 559.99)"/><ellipse cx="466.65" cy="601.53" rx="2.02" ry="1.16" transform="rotate(63 466.65 601.53)"/><ellipse cx="574.32" cy="602.8" rx="2.09" ry="1.01" transform="rotate(25 574.32 602.8)"/><ellipse cx="556.86" cy="524.15" rx="1.22" ry="0.56" transform="rotate(85 556.86 524.15)"/><ellipse cx="572.68" cy="547.11" rx="1.07" ry="1.03" transform="rotate(170 572.68 547.11)"/><ellipse cx="500.44" cy="627.33" rx="1.22" ry="0.59" transform="rotate(112 500.44 627.33)"/><ellipse cx="538.38" cy="568.4" rx="1.37" ry="0.98" transform="rotate(110 538.38 568.4)"/><ellipse cx="465.56" cy="573.2" rx="1.22" ry="0.91" transform="rotate(11 465.56 573.2)"/><ellipse cx="431.8" cy="559.67" rx="0.96" ry="0.5" transform="rotate(33 431.8 559.67)"/><ellipse cx="502.53" cy="622.28" rx="1.99" ry="1.09" transform="rotate(95 502.53 622.28)"/><ellipse cx="465.5" cy="583.29" rx="1.92" ry="0.89" transform="rotate(91 465.5 583.29)"/><ellipse cx="457.38" cy="526.91" rx="2.18" ry="1.19" transform="rotate(124 457.38 526.91)"/><ellipse cx="491.01" cy="542.54" rx="0.74" ry="0.58" transform="rotate(154 491.01 542.54)"/><ellipse cx="536.28" cy="538.99" rx="0.51" ry="0.56" transform="rotate(174 536.28 538.99)"/><ellipse cx="447.73" cy="508.75" rx="1.06" ry="0.56" transform="rotate(100 447.73 508.75)"/><ellipse cx="532.88" cy="574.25" rx="1.37" ry="0.96" transform="rotate(45 532.88 574.25)"/><ellipse cx="531.82" cy="508.14" rx="1.24" ry="0.7" transform="rotate(43 531.82 508.14)"/><ellipse cx="428.12" cy="548.29" rx="1.98" ry="1.01" transform="rotate(92 428.12 548.29)"/><ellipse cx="442.28" cy="604.16" rx="1.49" ry="0.77" transform="rotate(113 442.28 604.16)"/><ellipse cx="566.87" cy="594.45" rx="1.33" ry="0.94" transform="rotate(60 566.87 594.45)"/><ellipse cx="546.65" cy="549.34" rx="0.91" ry="0.66" transform="rotate(24 546.65 549.34)"/><ellipse cx="486.18" cy="625.64" rx="1.01" ry="0.58" transform="rotate(62 486.18 625.64)"/><ellipse cx="470.43" cy="510.88" rx="0.66" ry="0.52" transform="rotate(50 470.43 510.88)"/><ellipse cx="494.95" cy="569.17" rx="2.07" ry="0.95" transform="rotate(97 494.95 569.17)"/><ellipse cx="526.05" cy="596.16" rx="1.21" ry="0.87" transform="rotate(78 526.05 596.16)"/><ellipse cx="546.62" cy="529.23" rx="1.26" ry="0.82" transform="rotate(72 546.62 529.23)"/><ellipse cx="565.54" cy="577.74" rx="1.32" ry="0.94" transform="rotate(32 565.54 577.74)"/><ellipse cx="473.19" cy="570.53" rx="1.01" ry="0.66" transform="rotate(75 473.19 570.53)"/></g>
<g fill="#42983a" stroke="#466e2a" stroke-width="0.6" opacity="1"><circle cx="438.09" cy="577.8" r="8.98"/><circle cx="462.96" cy="601.67" r="8.97"/><circle cx="506.32" cy="541.18" r="8.95"/><circle cx="553.43" cy="561.15" r="8.95"/><circle cx="436.03" cy="539.53" r="8.86"/><circle cx="431.01" cy="558.83" r="8.84"/><circle cx="566.46" cy="624.62" r="8.8"/><circle cx="525.85" cy="523.38" r="8.8"/><circle cx="460.62" cy="529.69" r="8.76"/><circle cx="481.68" cy="585.69" r="8.75"/><circle cx="477.98" cy="528.32" r="8.71"/><circle cx="467.75" cy="570.63" r="8.69"/><circle cx="485.8" cy="548.74" r="8.66"/><circle cx="502.52" cy="580.75" r="8.66"/><circle cx="471.4" cy="629.47" r="8.65"/><circle cx="571.03" cy="520.46" r="8.64"/><circle cx="532.82" cy="547.99" r="8.64"/><circle cx="440.37" cy="616.21" r="8.62"/><circle cx="566.32" cy="604.77" r="8.6"/><circle cx="523.39" cy="629.37" r="8.59"/><circle cx="558.04" cy="542.73" r="8.59"/><circle cx="531.31" cy="572.44" r="8.58"/><circle cx="550.39" cy="519.99" r="8.53"/><circle cx="565.52" cy="584.04" r="8.53"/><circle cx="517.55" cy="563.26" r="8.51"/><circle cx="492.29" cy="598.55" r="8.5"/><circle cx="515.61" cy="595.89" r="8.49"/><circle cx="422.96" cy="612.54" r="8.47"/><circle cx="542.27" cy="624.73" r="8.45"/><circle cx="497.45" cy="519.7" r="8.44"/><circle cx="468.76" cy="509.47" r="8.42"/><circle cx="535.08" cy="601.7" r="8.4"/><circle cx="551.3" cy="504.02" r="8.4"/><circle cx="516.39" cy="611.93" r="8.37"/><circle cx="426.55" cy="514.75" r="8.37"/><circle cx="455.35" cy="582.08" r="8.36"/><circle cx="577.69" cy="551.68" r="8.34"/><circle cx="549.92" cy="578.72" r="8.33"/><circle cx="497.3" cy="615.77" r="8.32"/><circle cx="454.19" cy="562.09" r="8.31"/><circle cx="579.54" cy="592" r="8.3"/><circle cx="450.98" cy="508.68" r="8.29"/><circle cx="511" cy="505.18" r="8.28"/><circle cx="488.93" cy="569.37" r="8.25"/><circle cx="543.91" cy="535.06" r="8.16"/><circle cx="440.08" cy="596.8" r="8.15"/><circle cx="578.48" cy="535.71" r="8.13"/><circle cx="466.48" cy="551.39" r="8.13"/><circle cx="479.85" cy="614.63" r="8.13"/><circle cx="527.71" cy="505.18" r="8.11"/><circle cx="434.91" cy="631" r="8.1"/><circle cx="579.38" cy="575.67" r="8.09"/><circle cx="453.14" cy="627.25" r="8.04"/><circle cx="506.78" cy="630.16" r="7.99"/><circle cx="580.11" cy="507.36" r="7.98"/><circle cx="502.7" cy="558.85" r="7.98"/><circle cx="424.3" cy="594.05" r="7.92"/><circle cx="488.09" cy="628.89" r="7.89"/><circle cx="444.49" cy="525.1" r="7.86"/><circle cx="452.3" cy="545.56" r="7.85"/><circle cx="487.85" cy="506.45" r="7.84"/><circle cx="551.24" cy="600.46" r="7.84"/><circle cx="580.15" cy="616.46" r="7.75"/><circle cx="510.8" cy="526.37" r="7.43"/><circle cx="492.31" cy="534.43" r="7.41"/><circle cx="528.49" cy="588.33" r="7.38"/><circle cx="569.71" cy="564.76" r="7.31"/><circle cx="553.52" cy="615.16" r="7.27"/><circle cx="530.59" cy="615.75" r="7.24"/><circle cx="424.82" cy="529.34" r="7.23"/><circle cx="517.65" cy="579.63" r="7.19"/><circle cx="423.76" cy="572.22" r="6.83"/><circle cx="478" cy="600.32" r="6.72"/><circle cx="566.39" cy="504.93" r="6.51"/><circle cx="462.43" cy="617.32" r="6.48"/><circle cx="518.37" cy="549.38" r="6.32"/><circle cx="579.42" cy="630.46" r="6.31"/><circle cx="539.26" cy="511.73" r="6.03"/><circle cx="523.35" cy="537.31" r="6.01"/><circle cx="435.88" cy="505.02" r="5.97"/><circle cx="542.98" cy="590.69" r="5.85"/><circle cx="449.72" cy="605.68" r="5.84"/><circle cx="539.65" cy="561.08" r="5.82"/><circle cx="478.43" cy="561.54" r="5.63"/><circle cx="505.16" cy="604.9" r="5.51"/><circle cx="560.99" cy="529.79" r="5.46"/><circle cx="468.26" cy="586.57" r="5.45"/><circle cx="546.18" cy="549.23" r="5.16"/><circle cx="470.79" cy="539.58" r="5.04"/><circle cx="442.15" cy="565.33" r="4.9"/><circle cx="441.98" cy="551.16" r="4.79"/><circle cx="554.71" cy="629.2" r="4.79"/><circle cx="439.88" cy="514.43" r="4.74"/><circle cx="425.28" cy="546.02" r="4.67"/><circle cx="485.17" cy="517.99" r="4.66"/><circle cx="561.05" cy="572.09" r="4.66"/><circle cx="542.88" cy="611.07" r="4.64"/><circle cx="578.57" cy="605.18" r="4.58"/><circle cx="529.5" cy="559.7" r="4.52"/><circle cx="564.23" cy="553.97" r="4.4"/><circle cx="451.94" cy="595.34" r="4.36"/><circle cx="503.71" cy="593.41" r="4.35"/><circle cx="458.99" cy="517.43" r="4.34"/><circle cx="426.71" cy="582.59" r="4.32"/><circle cx="537.95" cy="522.83" r="4.3"/><circle cx="515.48" cy="516.2" r="4.25"/><circle cx="433.02" cy="605.57" r="4.11"/><circle cx="561.14" cy="513.24" r="4.09"/><circle cx="538.51" cy="582.77" r="4.09"/><circle cx="448.57" cy="535.28" r="4.07"/><circle cx="505.99" cy="569.47" r="4.04"/><circle cx="426.21" cy="623.54" r="4"/><circle cx="452.53" cy="615.87" r="4"/><circle cx="554.45" cy="589.29" r="3.93"/><circle cx="569.43" cy="544.07" r="3.87"/><circle cx="532.79" cy="534.82" r="3.86"/><circle cx="468.53" cy="521.03" r="3.77"/><circle cx="447.58" cy="570.89" r="3.64"/><circle cx="478.4" cy="514.94" r="3.61"/><circle cx="462.15" cy="541.29" r="3.49"/><circle cx="566.6" cy="535.68" r="3.47"/><circle cx="433.56" cy="524.78" r="3.46"/><circle cx="560.19" cy="593.87" r="3.46"/><circle cx="544.3" cy="568.95" r="3.39"/><circle cx="497.69" cy="549.25" r="3.37"/><circle cx="491.72" cy="558.36" r="3.34"/><circle cx="471.31" cy="593.87" r="3.3"/><circle cx="523.89" cy="603.39" r="3.29"/><circle cx="499.44" cy="508.82" r="3.29"/><circle cx="479.23" cy="540" r="3.24"/><circle cx="492.63" cy="587.03" r="3.2"/><circle cx="507.97" cy="619.64" r="3.2"/><circle cx="444.93" cy="586.71" r="3.18"/><circle cx="478.84" cy="575.13" r="3.18"/><circle cx="500.91" cy="530.22" r="3.14"/><circle cx="452.65" cy="519.33" r="3.08"/><circle cx="431.59" cy="587.03" r="3.08"/><circle cx="509.1" cy="516.18" r="3.05"/><circle cx="488.91" cy="609.49" r="3"/><circle cx="469.56" cy="612.53" r="3"/><circle cx="475.32" cy="545.63" r="2.95"/><circle cx="456.36" cy="610.47" r="2.94"/><circle cx="457.53" cy="592.21" r="2.93"/><circle cx="499.86" cy="568.9" r="2.93"/><circle cx="535.31" cy="529.09" r="2.93"/><circle cx="491.92" cy="579.49" r="2.92"/><circle cx="511.78" cy="554.58" r="2.92"/><circle cx="511.43" cy="572.93" r="2.91"/><circle cx="514" cy="623.16" r="2.88"/><circle cx="569.41" cy="574.22" r="2.82"/><circle cx="521.46" cy="512.96" r="2.81"/><circle cx="487.83" cy="524.43" r="2.81"/><circle cx="443.28" cy="558.58" r="2.8"/><circle cx="476.21" cy="554.2" r="2.8"/><circle cx="495.31" cy="543.84" r="2.79"/><circle cx="472.17" cy="607.88" r="2.78"/><circle cx="554.18" cy="533.05" r="2.78"/><circle cx="569.35" cy="593.61" r="2.76"/><circle cx="483.59" cy="537.47" r="2.73"/><circle cx="524.64" cy="554.45" r="2.7"/><circle cx="472.45" cy="580.67" r="2.7"/><circle cx="525.61" cy="598.22" r="2.63"/><circle cx="486.58" cy="559.14" r="2.63"/><circle cx="436.5" cy="519.88" r="2.6"/><circle cx="478.88" cy="570.14" r="2.59"/><circle cx="484.95" cy="605.73" r="2.59"/><circle cx="447.15" cy="554.95" r="2.58"/><circle cx="427.77" cy="602.97" r="2.57"/><circle cx="471" cy="560.14" r="2.56"/><circle cx="456.81" cy="572.02" r="2.55"/><circle cx="497.8" cy="626.68" r="2.53"/><circle cx="473.64" cy="519.01" r="2.52"/><circle cx="569.81" cy="531.33" r="2.52"/><circle cx="515.45" cy="534.77" r="2.5"/><circle cx="430.7" cy="620.13" r="2.5"/><circle cx="562.29" cy="615" r="2.5"/><circle cx="470.5" cy="618.55" r="2.49"/><circle cx="525.93" cy="608.18" r="2.49"/><circle cx="478.85" cy="509.07" r="2.48"/><circle cx="447.81" cy="590.62" r="2.48"/><circle cx="511.61" cy="586.14" r="2.47"/><circle cx="560.36" cy="522.44" r="2.47"/><circle cx="541.27" cy="553.95" r="2.47"/><circle cx="541.46" cy="572.91" r="2.46"/><circle cx="508.51" cy="551.36" r="2.45"/><circle cx="570.14" cy="614.42" r="2.44"/><circle cx="497.63" cy="589.65" r="2.44"/><circle cx="461.81" cy="591.33" r="2.43"/><circle cx="503.95" cy="512.26" r="2.43"/><circle cx="567.68" cy="549.09" r="2.43"/><circle cx="565.11" cy="594.26" r="2.42"/><circle cx="441.96" cy="606.19" r="2.41"/><circle cx="443.09" cy="625.91" r="2.41"/><circle cx="452.58" cy="572.5" r="2.4"/><circle cx="534.73" cy="517.83" r="2.4"/><circle cx="464.36" cy="560.76" r="2.4"/><circle cx="518.54" cy="531.51" r="2.4"/></g>
<g fill="#c86a30" opacity="0.55"><ellipse cx="566.25" cy="549.86" rx="0.96" ry="0.53" transform="rotate(91 566.25 549.86)"/><ellipse cx="530.39" cy="532.92" rx="0.83" ry="0.55" transform="rotate(1 530.39 532.92)"/><ellipse cx="454.38" cy="569.58" rx="0.64" ry="0.79" transform="rotate(156 454.38 569.58)"/><ellipse cx="560.33" cy="616.04" rx="1.11" ry="0.68" transform="rotate(51 560.33 616.04)"/><ellipse cx="576.34" cy="563.6" rx="1.91" ry="0.96" transform="rotate(3 576.34 563.6)"/><ellipse cx="430.12" cy="607.31" rx="0.55" ry="0.66" transform="rotate(43 430.12 607.31)"/><ellipse cx="479.52" cy="615.15" rx="1.3" ry="0.68" transform="rotate(14 479.52 615.15)"/><ellipse cx="546.14" cy="614.94" rx="1.98" ry="0.99" transform="rotate(77 546.14 614.94)"/><ellipse cx="517.64" cy="561.57" rx="1.08" ry="0.93" transform="rotate(84 517.64 561.57)"/><ellipse cx="534.33" cy="611.33" rx="0.58" ry="0.56" transform="rotate(5 534.33 611.33)"/><ellipse cx="545.01" cy="614.41" rx="1.24" ry="0.64" transform="rotate(57 545.01 614.41)"/><ellipse cx="519.99" cy="519.9" rx="0.86" ry="0.53" transform="rotate(73 519.99 519.9)"/><ellipse cx="549.41" cy="513.68" rx="0.56" ry="0.6" transform="rotate(112 549.41 513.68)"/><ellipse cx="475.17" cy="583.64" rx="0.62" ry="0.57" transform="rotate(112 475.17 583.64)"/><ellipse cx="527.26" cy="550.45" rx="0.84" ry="0.56" transform="rotate(168 527.26 550.45)"/><ellipse cx="455.31" cy="624.35" rx="1.37" ry="0.98" transform="rotate(88 455.31 624.35)"/><ellipse cx="496.83" cy="613.34" rx="0.44" ry="0.51" transform="rotate(152 496.83 613.34)"/><ellipse cx="515.43" cy="581.91" rx="1.46" ry="0.94" transform="rotate(62 515.43 581.91)"/><ellipse cx="517.23" cy="624.77" rx="1.02" ry="0.92" transform="rotate(127 517.23 624.77)"/><ellipse cx="463.97" cy="564.96" rx="0.35" ry="0.43" transform="rotate(175 463.97 564.96)"/><ellipse cx="527.19" cy="564.19" rx="0.67" ry="0.52" transform="rotate(58 527.19 564.19)"/><ellipse cx="480.4" cy="556.66" rx="1.81" ry="0.86" transform="rotate(137 480.4 556.66)"/><ellipse cx="446.87" cy="542.73" rx="0.54" ry="0.49" transform="rotate(59 446.87 542.73)"/><ellipse cx="428.45" cy="583.27" rx="0.38" ry="0.43" transform="rotate(78 428.45 583.27)"/><ellipse cx="572.21" cy="550.45" rx="1.1" ry="0.82" transform="rotate(154 572.21 550.45)"/><ellipse cx="467.03" cy="603.34" rx="0.96" ry="0.89" transform="rotate(63 467.03 603.34)"/><ellipse cx="567.51" cy="510.26" rx="0.55" ry="0.45" transform="rotate(158 567.51 510.26)"/><ellipse cx="494.92" cy="533.57" rx="0.92" ry="0.54" transform="rotate(177 494.92 533.57)"/><ellipse cx="525.51" cy="527.69" rx="1.48" ry="0.69" transform="rotate(146 525.51 527.69)"/><ellipse cx="487.23" cy="554.12" rx="1.52" ry="0.81" transform="rotate(166 487.23 554.12)"/><ellipse cx="429.98" cy="531.35" rx="1.29" ry="0.79" transform="rotate(4 429.98 531.35)"/><ellipse cx="483.41" cy="563.28" rx="0.73" ry="0.83" transform="rotate(100 483.41 563.28)"/><ellipse cx="457.22" cy="567.2" rx="0.54" ry="0.5" transform="rotate(165 457.22 567.2)"/><ellipse cx="478.26" cy="597.66" rx="1.05" ry="0.51" transform="rotate(170 478.26 597.66)"/><ellipse cx="475.5" cy="573.89" rx="0.78" ry="0.8" transform="rotate(128 475.5 573.89)"/><ellipse cx="487.52" cy="624.29" rx="0.91" ry="0.42" transform="rotate(131 487.52 624.29)"/><ellipse cx="449.74" cy="571.29" rx="0.48" ry="0.48" transform="rotate(96 449.74 571.29)"/><ellipse cx="449.3" cy="559.74" rx="1.01" ry="0.93" transform="rotate(92 449.3 559.74)"/><ellipse cx="542.51" cy="542.21" rx="1.78" ry="0.86" transform="rotate(137 542.51 542.21)"/><ellipse cx="492.06" cy="581.75" rx="0.88" ry="0.41" transform="rotate(34 492.06 581.75)"/><ellipse cx="504.4" cy="563.88" rx="0.75" ry="0.45" transform="rotate(113 504.4 563.88)"/><ellipse cx="472.91" cy="621.1" rx="1.19" ry="0.92" transform="rotate(7 472.91 621.1)"/><ellipse cx="547.18" cy="524.91" rx="0.63" ry="0.69" transform="rotate(42 547.18 524.91)"/><ellipse cx="499.05" cy="551.74" rx="1.26" ry="1" transform="rotate(131 499.05 551.74)"/><ellipse cx="540.39" cy="576.3" rx="1.27" ry="0.7" transform="rotate(43 540.39 576.3)"/><ellipse cx="540.16" cy="544.8" rx="1.27" ry="0.73" transform="rotate(128 540.16 544.8)"/><ellipse cx="492.49" cy="583.52" rx="1" ry="0.54" transform="rotate(26 492.49 583.52)"/><ellipse cx="536.16" cy="508.97" rx="0.55" ry="0.42" transform="rotate(126 536.16 508.97)"/><ellipse cx="515.96" cy="582.59" rx="0.94" ry="0.66" transform="rotate(24 515.96 582.59)"/><ellipse cx="518.09" cy="548.65" rx="1.49" ry="0.86" transform="rotate(140 518.09 548.65)"/><ellipse cx="500.28" cy="554.3" rx="1.77" ry="0.86" transform="rotate(175 500.28 554.3)"/><ellipse cx="494.33" cy="533.74" rx="0.97" ry="0.62" transform="rotate(21 494.33 533.74)"/><ellipse cx="448.37" cy="598.84" rx="1.67" ry="0.98" transform="rotate(54 448.37 598.84)"/><ellipse cx="571.35" cy="515.81" rx="1.23" ry="0.62" transform="rotate(123 571.35 515.81)"/><ellipse cx="446.76" cy="530.72" rx="1.73" ry="0.86" transform="rotate(20 446.76 530.72)"/><ellipse cx="525.52" cy="545.56" rx="1.88" ry="0.94" transform="rotate(153 525.52 545.56)"/><ellipse cx="457.82" cy="575.19" rx="0.76" ry="0.71" transform="rotate(157 457.82 575.19)"/><ellipse cx="568.72" cy="539.29" rx="0.88" ry="0.44" transform="rotate(82 568.72 539.29)"/><ellipse cx="505.67" cy="570.58" rx="1.3" ry="0.88" transform="rotate(107 505.67 570.58)"/><ellipse cx="557.77" cy="534.71" rx="0.79" ry="0.49" transform="rotate(52 557.77 534.71)"/></g>
</g>
<path d="M551.5 620.9h17" stroke="#e8f0e0" stroke-width="0.6" opacity="0.8"/>
<rect x="557" y="621.6" width="6" height="1.8" fill="#e8f0e0" opacity="0.7"/>
</g>
<clipPath id="cl4"><rect x="591.5" y="507.9" width="149.4" height="120"/></clipPath>
<g clip-path="url(#cl4)"><g filter="url(#mblur)">
<rect x="588.5" y="504.9" width="155.4" height="126" fill="#4a662a"/>
<g fill="#2a3a18" opacity="0.6" filter="url(#sblur)"><ellipse cx="626.77" cy="520.28" rx="1.3" ry="1.28" transform="rotate(17 626.77 520.28)"/><ellipse cx="594.46" cy="573.83" rx="2.51" ry="1.15" transform="rotate(15 594.46 573.83)"/><ellipse cx="624.66" cy="572.3" rx="1.18" ry="1.13" transform="rotate(27 624.66 572.3)"/><ellipse cx="630.6" cy="621.06" rx="1.41" ry="0.83" transform="rotate(66 630.6 621.06)"/><ellipse cx="711.09" cy="531.11" rx="1.97" ry="1.17" transform="rotate(95 711.09 531.11)"/><ellipse cx="604.46" cy="580.6" rx="2.42" ry="1.61" transform="rotate(45 604.46 580.6)"/><ellipse cx="628.45" cy="541.5" rx="3.76" ry="1.93" transform="rotate(140 628.45 541.5)"/><ellipse cx="717.07" cy="508.77" rx="2.06" ry="1.15" transform="rotate(79 717.07 508.77)"/><ellipse cx="718.2" cy="568.9" rx="2.12" ry="1.3" transform="rotate(110 718.2 568.9)"/><ellipse cx="658.94" cy="535.89" rx="2.13" ry="1.11" transform="rotate(20 658.94 535.89)"/><ellipse cx="598.42" cy="583.06" rx="1.76" ry="1.14" transform="rotate(120 598.42 583.06)"/><ellipse cx="696.21" cy="525.31" rx="1.44" ry="1.61" transform="rotate(51 696.21 525.31)"/><ellipse cx="686.37" cy="560.84" rx="1.44" ry="1.02" transform="rotate(150 686.37 560.84)"/><ellipse cx="639.41" cy="574.92" rx="1.77" ry="1.89" transform="rotate(15 639.41 574.92)"/><ellipse cx="697.3" cy="541.2" rx="3.01" ry="1.5" transform="rotate(31 697.3 541.2)"/><ellipse cx="640.96" cy="529.2" rx="1.16" ry="1.35" transform="rotate(178 640.96 529.2)"/><ellipse cx="603.84" cy="623.64" rx="1.99" ry="1.14" transform="rotate(83 603.84 623.64)"/><ellipse cx="594.22" cy="542.58" rx="3.69" ry="1.96" transform="rotate(105 594.22 542.58)"/><ellipse cx="720.19" cy="612.24" rx="1.47" ry="1.62" transform="rotate(158 720.19 612.24)"/><ellipse cx="620.1" cy="561.2" rx="1.29" ry="0.96" transform="rotate(40 620.1 561.2)"/><ellipse cx="641" cy="509.03" rx="0.89" ry="0.85" transform="rotate(92 641 509.03)"/><ellipse cx="740.48" cy="576.47" rx="1.45" ry="1.33" transform="rotate(53 740.48 576.47)"/><ellipse cx="608.47" cy="515.37" rx="2.75" ry="1.68" transform="rotate(38 608.47 515.37)"/><ellipse cx="682.11" cy="573.45" rx="1.87" ry="1.5" transform="rotate(9 682.11 573.45)"/><ellipse cx="609.77" cy="571.41" rx="2.37" ry="1.73" transform="rotate(51 609.77 571.41)"/><ellipse cx="662.88" cy="536.92" rx="1.1" ry="1.29" transform="rotate(107 662.88 536.92)"/><ellipse cx="657.76" cy="585.59" rx="1.45" ry="1.31" transform="rotate(48 657.76 585.59)"/><ellipse cx="596.23" cy="538.43" rx="1.19" ry="1.09" transform="rotate(59 596.23 538.43)"/><ellipse cx="653.82" cy="539.3" rx="2.44" ry="1.19" transform="rotate(80 653.82 539.3)"/><ellipse cx="675.96" cy="626.77" rx="2.65" ry="1.28" transform="rotate(167 675.96 626.77)"/><ellipse cx="721.61" cy="593.98" rx="1.14" ry="0.85" transform="rotate(110 721.61 593.98)"/><ellipse cx="623.01" cy="612.76" rx="3.94" ry="1.88" transform="rotate(86 623.01 612.76)"/><ellipse cx="635.75" cy="564.45" rx="2.33" ry="1.88" transform="rotate(107 635.75 564.45)"/><ellipse cx="670.39" cy="586.47" rx="1.91" ry="1.62" transform="rotate(100 670.39 586.47)"/><ellipse cx="734.37" cy="516.83" rx="4.22" ry="1.97" transform="rotate(171 734.37 516.83)"/><ellipse cx="620.07" cy="555.28" rx="2.89" ry="1.54" transform="rotate(68 620.07 555.28)"/><ellipse cx="691.18" cy="515.16" rx="1.69" ry="1" transform="rotate(145 691.18 515.16)"/><ellipse cx="662.04" cy="556.35" rx="2.43" ry="1.27" transform="rotate(54 662.04 556.35)"/><ellipse cx="729.3" cy="509.47" rx="1.78" ry="1.85" transform="rotate(97 729.3 509.47)"/><ellipse cx="722.65" cy="573.97" rx="2.01" ry="1.85" transform="rotate(171 722.65 573.97)"/><ellipse cx="682.38" cy="606.11" rx="2.8" ry="1.47" transform="rotate(134 682.38 606.11)"/><ellipse cx="657.18" cy="517.38" rx="1.57" ry="1.63" transform="rotate(143 657.18 517.38)"/><ellipse cx="720.69" cy="580.88" rx="1.26" ry="0.97" transform="rotate(133 720.69 580.88)"/><ellipse cx="726.71" cy="543.53" rx="1.1" ry="1.22" transform="rotate(139 726.71 543.53)"/><ellipse cx="659.29" cy="532.54" rx="2.65" ry="1.97" transform="rotate(124 659.29 532.54)"/><ellipse cx="719.31" cy="555.91" rx="1.86" ry="0.89" transform="rotate(93 719.31 555.91)"/><ellipse cx="668.06" cy="559.97" rx="3.45" ry="1.83" transform="rotate(17 668.06 559.97)"/><ellipse cx="685.41" cy="620.79" rx="3.29" ry="1.56" transform="rotate(122 685.41 620.79)"/><ellipse cx="654.62" cy="603.7" rx="2.03" ry="1" transform="rotate(45 654.62 603.7)"/><ellipse cx="697.08" cy="547.09" rx="2.13" ry="1.83" transform="rotate(1 697.08 547.09)"/><ellipse cx="697.65" cy="508.57" rx="1.84" ry="1.17" transform="rotate(124 697.65 508.57)"/><ellipse cx="708.96" cy="580.02" rx="2.19" ry="1.43" transform="rotate(105 708.96 580.02)"/><ellipse cx="718.13" cy="550.71" rx="3.75" ry="1.72" transform="rotate(160 718.13 550.71)"/><ellipse cx="591.75" cy="514.25" rx="2.95" ry="1.89" transform="rotate(119 591.75 514.25)"/><ellipse cx="708.4" cy="576.1" rx="2.9" ry="1.92" transform="rotate(112 708.4 576.1)"/><ellipse cx="683.08" cy="560.95" rx="1.82" ry="0.97" transform="rotate(92 683.08 560.95)"/><ellipse cx="738.79" cy="548.71" rx="2.18" ry="1.32" transform="rotate(172 738.79 548.71)"/><ellipse cx="712.37" cy="529.22" rx="2.49" ry="1.88" transform="rotate(147 712.37 529.22)"/><ellipse cx="710.11" cy="588.9" rx="1.69" ry="1.86" transform="rotate(165 710.11 588.9)"/><ellipse cx="731.37" cy="529.46" rx="1.99" ry="1.59" transform="rotate(76 731.37 529.46)"/></g>
<g fill="#7a5a30" opacity="0.5" filter="url(#sblur)"><ellipse cx="723.46" cy="580.35" rx="2.65" ry="1.43" transform="rotate(22 723.46 580.35)"/><ellipse cx="711.19" cy="604.77" rx="1.99" ry="1.94" transform="rotate(149 711.19 604.77)"/><ellipse cx="738.96" cy="587.22" rx="1.81" ry="1.99" transform="rotate(29 738.96 587.22)"/><ellipse cx="617.2" cy="565.4" rx="2.07" ry="1.86" transform="rotate(169 617.2 565.4)"/><ellipse cx="636.75" cy="619.24" rx="2.11" ry="1.29" transform="rotate(125 636.75 619.24)"/><ellipse cx="696.62" cy="545.06" rx="1.35" ry="1.08" transform="rotate(160 696.62 545.06)"/><ellipse cx="670.65" cy="562.13" rx="2.66" ry="1.76" transform="rotate(80 670.65 562.13)"/><ellipse cx="633.9" cy="557.29" rx="0.86" ry="0.82" transform="rotate(138 633.9 557.29)"/><ellipse cx="660.01" cy="575.24" rx="2.45" ry="1.79" transform="rotate(99 660.01 575.24)"/><ellipse cx="684.61" cy="526.63" rx="1.91" ry="0.88" transform="rotate(161 684.61 526.63)"/><ellipse cx="728.94" cy="580.36" rx="1.09" ry="1.17" transform="rotate(66 728.94 580.36)"/><ellipse cx="663.73" cy="584.69" rx="2.26" ry="1.37" transform="rotate(16 663.73 584.69)"/><ellipse cx="613.72" cy="536.5" rx="2.47" ry="1.16" transform="rotate(41 613.72 536.5)"/><ellipse cx="650.95" cy="577.72" rx="2.78" ry="1.54" transform="rotate(137 650.95 577.72)"/><ellipse cx="630.69" cy="570.82" rx="0.93" ry="0.99" transform="rotate(8 630.69 570.82)"/><ellipse cx="733.32" cy="517.73" rx="2.28" ry="1.12" transform="rotate(164 733.32 517.73)"/><ellipse cx="634.69" cy="614.73" rx="3" ry="1.64" transform="rotate(167 634.69 614.73)"/><ellipse cx="653.49" cy="523.5" rx="1.51" ry="1.65" transform="rotate(93 653.49 523.5)"/><ellipse cx="695.15" cy="594.74" rx="2.2" ry="1.46" transform="rotate(39 695.15 594.74)"/><ellipse cx="623.63" cy="543.67" rx="1.87" ry="1.41" transform="rotate(41 623.63 543.67)"/><ellipse cx="722.19" cy="538.63" rx="2.23" ry="1.27" transform="rotate(102 722.19 538.63)"/><ellipse cx="640.57" cy="554.32" rx="1.1" ry="1.31" transform="rotate(173 640.57 554.32)"/><ellipse cx="594.34" cy="623.11" rx="1" ry="0.98" transform="rotate(155 594.34 623.11)"/><ellipse cx="714.52" cy="535.74" rx="2.15" ry="1.46" transform="rotate(136 714.52 535.74)"/><ellipse cx="619.15" cy="606.96" rx="3.57" ry="2" transform="rotate(174 619.15 606.96)"/><ellipse cx="731.51" cy="553.43" rx="3.57" ry="1.82" transform="rotate(150 731.51 553.43)"/><ellipse cx="619.58" cy="564.89" rx="2.45" ry="1.88" transform="rotate(165 619.58 564.89)"/><ellipse cx="715.78" cy="557.51" rx="3.29" ry="1.69" transform="rotate(54 715.78 557.51)"/><ellipse cx="629.7" cy="610.86" rx="1.96" ry="1.59" transform="rotate(122 629.7 610.86)"/><ellipse cx="684.88" cy="548.6" rx="3.69" ry="1.8" transform="rotate(80 684.88 548.6)"/><ellipse cx="723.46" cy="586.9" rx="2.7" ry="1.64" transform="rotate(134 723.46 586.9)"/><ellipse cx="662.64" cy="622.52" rx="2.01" ry="1.91" transform="rotate(11 662.64 622.52)"/><ellipse cx="665.91" cy="573.38" rx="1.74" ry="1.52" transform="rotate(51 665.91 573.38)"/><ellipse cx="692.49" cy="548.27" rx="1.51" ry="1.52" transform="rotate(78 692.49 548.27)"/><ellipse cx="608.95" cy="625.32" rx="2.71" ry="1.79" transform="rotate(0 608.95 625.32)"/><ellipse cx="602.18" cy="535.04" rx="2.41" ry="1.13" transform="rotate(8 602.18 535.04)"/><ellipse cx="593.07" cy="591.62" rx="1.21" ry="1.06" transform="rotate(88 593.07 591.62)"/><ellipse cx="713.4" cy="543.68" rx="2.09" ry="1.27" transform="rotate(8 713.4 543.68)"/><ellipse cx="617.33" cy="567.14" rx="1.33" ry="0.88" transform="rotate(130 617.33 567.14)"/><ellipse cx="636.14" cy="590.79" rx="3.12" ry="1.75" transform="rotate(111 636.14 590.79)"/></g>
<g fill="#3e9438" stroke="#3a5424" stroke-width="0.9" opacity="1"><circle cx="637" cy="557.4" r="27.5"/><circle cx="716.47" cy="620.29" r="11.97"/><circle cx="724.02" cy="557.98" r="11.94"/><circle cx="744.41" cy="614.81" r="11.94"/><circle cx="669.62" cy="622.42" r="11.93"/><circle cx="742.96" cy="530.01" r="11.92"/><circle cx="698.83" cy="538.23" r="11.91"/><circle cx="629.55" cy="609.86" r="11.87"/><circle cx="674.26" cy="580.71" r="11.81"/><circle cx="623.9" cy="633.41" r="11.79"/><circle cx="594.6" cy="584.88" r="11.77"/><circle cx="669.72" cy="505.55" r="11.74"/><circle cx="721.29" cy="522.07" r="11.73"/><circle cx="604.23" cy="607" r="11.72"/><circle cx="632.56" cy="506.22" r="11.71"/><circle cx="647.18" cy="628.02" r="11.62"/><circle cx="589.02" cy="551.99" r="11.58"/><circle cx="707.96" cy="597.14" r="11.51"/><circle cx="739.41" cy="505.52" r="11.51"/><circle cx="608.76" cy="528.45" r="11.49"/><circle cx="681.91" cy="553.28" r="11.46"/><circle cx="740.81" cy="576.41" r="11.45"/><circle cx="653.27" cy="522.69" r="11.4"/><circle cx="693.95" cy="623.88" r="11.39"/><circle cx="655.5" cy="597.69" r="11.36"/><circle cx="698.94" cy="511.56" r="11.32"/><circle cx="702.08" cy="565.25" r="11.32"/><circle cx="675.47" cy="528.67" r="11.3"/><circle cx="595.29" cy="508.78" r="11.3"/><circle cx="589.99" cy="628.35" r="11.27"/><circle cx="586" cy="528.5" r="11.25"/><circle cx="745.84" cy="553.57" r="11.14"/><circle cx="617.97" cy="589.96" r="11.05"/><circle cx="730.39" cy="595.57" r="11.04"/><circle cx="682.96" cy="604.4" r="11.02"/><circle cx="719.55" cy="579.11" r="9.38"/><circle cx="693.91" cy="582.99" r="8.75"/><circle cx="732.44" cy="631.73" r="8.46"/><circle cx="602.61" cy="565.49" r="8.37"/><circle cx="636.33" cy="591.93" r="7.92"/><circle cx="613.95" cy="507.51" r="7.83"/><circle cx="651.17" cy="504.44" r="7.48"/><circle cx="726.73" cy="539.3" r="7.26"/><circle cx="630.07" cy="523.96" r="7.18"/><circle cx="608.25" cy="624.04" r="6.78"/><circle cx="717.63" cy="505.09" r="6.4"/><circle cx="605.59" cy="547.15" r="5.91"/><circle cx="665.47" cy="541.3" r="5.79"/><circle cx="715.31" cy="542.89" r="5.7"/><circle cx="646.93" cy="611.44" r="5.51"/><circle cx="670.17" cy="564.65" r="5.49"/><circle cx="610.56" cy="576.02" r="5.36"/><circle cx="588.85" cy="612.62" r="5.33"/><circle cx="683.34" cy="514.02" r="5.25"/><circle cx="686.87" cy="570.02" r="5.21"/><circle cx="620.64" cy="517.68" r="5.14"/><circle cx="589.58" cy="569.47" r="5.03"/><circle cx="657.39" cy="581.51" r="4.73"/><circle cx="670.39" cy="596.47" r="4.57"/><circle cx="709.7" cy="550.94" r="4.52"/><circle cx="691.29" cy="524.61" r="4.49"/><circle cx="589.67" cy="601.44" r="4.44"/><circle cx="706.32" cy="581.28" r="4.39"/><circle cx="729.04" cy="611.32" r="4.26"/><circle cx="617.84" cy="619.45" r="4.21"/><circle cx="667.78" cy="605.83" r="4.21"/><circle cx="655.31" cy="615.29" r="4.15"/><circle cx="704.08" cy="611.46" r="4.06"/><circle cx="697.04" cy="607.82" r="4"/><circle cx="597.49" cy="538.57" r="4"/><circle cx="667.31" cy="553.04" r="3.97"/><circle cx="646.28" cy="586.34" r="3.73"/><circle cx="693.41" cy="594.61" r="3.7"/><circle cx="659.22" cy="535.46" r="3.5"/><circle cx="707.04" cy="523.18" r="3.48"/><circle cx="720.12" cy="605.27" r="3.48"/><circle cx="733.42" cy="547.03" r="3.48"/><circle cx="685.72" cy="590.9" r="3.47"/><circle cx="639.18" cy="519.61" r="3.47"/><circle cx="642.07" cy="602.99" r="3.37"/><circle cx="622.42" cy="530.81" r="3.3"/><circle cx="730.74" cy="620.43" r="3.3"/><circle cx="712.99" cy="533.35" r="3.26"/><circle cx="607" cy="555.62" r="3.25"/><circle cx="726.01" cy="508.95" r="3.2"/><circle cx="663.99" cy="571.08" r="3.18"/><circle cx="695.83" cy="553.02" r="3.18"/><circle cx="639.08" cy="527.7" r="3.18"/><circle cx="677.84" cy="566.36" r="3.12"/><circle cx="684.07" cy="506.46" r="3.12"/><circle cx="673.35" cy="542.63" r="3.1"/><circle cx="662.07" cy="610.5" r="3.06"/><circle cx="684.56" cy="538.65" r="3.05"/><circle cx="734.69" cy="518.37" r="3.05"/><circle cx="702.62" cy="551.66" r="3.03"/><circle cx="633.95" cy="623.67" r="3"/></g>
</g>
<path d="M715.9 620.9h17" stroke="#e8f0e0" stroke-width="0.6" opacity="0.8"/>
<rect x="721.4" y="621.6" width="6" height="1.8" fill="#e8f0e0" opacity="0.7"/>
</g>
<clipPath id="cl5"><rect x="755.8" y="507.9" width="149.4" height="120"/></clipPath>
<g clip-path="url(#cl5)"><g filter="url(#mblur)">
<rect x="752.8" y="504.9" width="155.4" height="126" fill="#56682c"/>
<g fill="#a05a30" opacity="0.6" filter="url(#sblur)"><ellipse cx="848.86" cy="596.91" rx="2.41" ry="1.14" transform="rotate(166 848.86 596.91)"/><ellipse cx="893.6" cy="511.38" rx="1.85" ry="0.87" transform="rotate(166 893.6 511.38)"/><ellipse cx="763.55" cy="526.72" rx="1.61" ry="0.8" transform="rotate(97 763.55 526.72)"/><ellipse cx="837.04" cy="576.77" rx="0.56" ry="0.51" transform="rotate(71 837.04 576.77)"/><ellipse cx="783" cy="612" rx="1.51" ry="0.81" transform="rotate(18 783 612)"/><ellipse cx="776.53" cy="581.99" rx="0.48" ry="0.6" transform="rotate(1 776.53 581.99)"/><ellipse cx="787.09" cy="533.76" rx="2.6" ry="1.29" transform="rotate(74 787.09 533.76)"/><ellipse cx="802.66" cy="531.77" rx="2.01" ry="1.2" transform="rotate(46 802.66 531.77)"/><ellipse cx="896.38" cy="590.78" rx="2.61" ry="1.27" transform="rotate(76 896.38 590.78)"/><ellipse cx="759.02" cy="557.69" rx="1.46" ry="1.25" transform="rotate(84 759.02 557.69)"/><ellipse cx="800.82" cy="580.27" rx="0.88" ry="0.5" transform="rotate(86 800.82 580.27)"/><ellipse cx="765.66" cy="550.54" rx="1.32" ry="0.74" transform="rotate(47 765.66 550.54)"/><ellipse cx="827.69" cy="592.46" rx="1.18" ry="0.55" transform="rotate(5 827.69 592.46)"/><ellipse cx="897.61" cy="550.82" rx="1.29" ry="0.82" transform="rotate(107 897.61 550.82)"/><ellipse cx="810.51" cy="577.32" rx="0.44" ry="0.51" transform="rotate(46 810.51 577.32)"/><ellipse cx="848.98" cy="622.43" rx="0.68" ry="0.6" transform="rotate(118 848.98 622.43)"/><ellipse cx="807.25" cy="550.48" rx="1.73" ry="0.92" transform="rotate(27 807.25 550.48)"/><ellipse cx="843.91" cy="601.62" rx="0.96" ry="0.79" transform="rotate(110 843.91 601.62)"/><ellipse cx="897.1" cy="518.84" rx="1.28" ry="0.77" transform="rotate(37 897.1 518.84)"/><ellipse cx="806.59" cy="618.8" rx="1.16" ry="0.94" transform="rotate(81 806.59 618.8)"/><ellipse cx="801.54" cy="603.75" rx="1.81" ry="1" transform="rotate(79 801.54 603.75)"/><ellipse cx="904.71" cy="527.28" rx="1.18" ry="0.54" transform="rotate(136 904.71 527.28)"/><ellipse cx="893.79" cy="511.72" rx="1.4" ry="1.09" transform="rotate(64 893.79 511.72)"/><ellipse cx="823.88" cy="558.51" rx="1.13" ry="0.54" transform="rotate(8 823.88 558.51)"/><ellipse cx="875.57" cy="548" rx="1.45" ry="0.67" transform="rotate(144 875.57 548)"/><ellipse cx="897.7" cy="583.55" rx="1.07" ry="1.13" transform="rotate(111 897.7 583.55)"/><ellipse cx="811.53" cy="514.95" rx="0.83" ry="0.84" transform="rotate(158 811.53 514.95)"/><ellipse cx="883.13" cy="625.02" rx="1.28" ry="0.86" transform="rotate(81 883.13 625.02)"/><ellipse cx="827.37" cy="542.82" rx="0.83" ry="0.82" transform="rotate(96 827.37 542.82)"/><ellipse cx="878.62" cy="571.71" rx="1.36" ry="0.64" transform="rotate(86 878.62 571.71)"/><ellipse cx="782.71" cy="566.92" rx="1.43" ry="0.91" transform="rotate(128 782.71 566.92)"/><ellipse cx="809.78" cy="602.22" rx="1.98" ry="1.12" transform="rotate(169 809.78 602.22)"/><ellipse cx="760.93" cy="544.58" rx="1.64" ry="0.95" transform="rotate(124 760.93 544.58)"/><ellipse cx="795.37" cy="625.61" rx="2.3" ry="1.07" transform="rotate(87 795.37 625.61)"/><ellipse cx="852.86" cy="577.58" rx="0.8" ry="0.51" transform="rotate(64 852.86 577.58)"/><ellipse cx="804.49" cy="540.74" rx="1.1" ry="0.73" transform="rotate(172 804.49 540.74)"/><ellipse cx="874.97" cy="549.65" rx="1.86" ry="1.02" transform="rotate(104 874.97 549.65)"/><ellipse cx="808.1" cy="609.05" rx="2.11" ry="1.2" transform="rotate(93 808.1 609.05)"/><ellipse cx="898.7" cy="570.08" rx="0.95" ry="0.92" transform="rotate(92 898.7 570.08)"/><ellipse cx="895.84" cy="565.17" rx="1.9" ry="1.05" transform="rotate(106 895.84 565.17)"/><ellipse cx="781.47" cy="601.54" rx="1.67" ry="0.96" transform="rotate(107 781.47 601.54)"/><ellipse cx="801.02" cy="574.28" rx="1.41" ry="1.19" transform="rotate(7 801.02 574.28)"/><ellipse cx="785.02" cy="578.27" rx="1.05" ry="1" transform="rotate(175 785.02 578.27)"/><ellipse cx="782.77" cy="594.12" rx="2.8" ry="1.29" transform="rotate(42 782.77 594.12)"/><ellipse cx="763.89" cy="523.92" rx="0.79" ry="0.75" transform="rotate(49 763.89 523.92)"/><ellipse cx="837.72" cy="557.76" rx="1.35" ry="0.78" transform="rotate(18 837.72 557.76)"/><ellipse cx="843.97" cy="536.44" rx="0.98" ry="1.22" transform="rotate(103 843.97 536.44)"/><ellipse cx="898.04" cy="610.6" rx="2.11" ry="1.19" transform="rotate(140 898.04 610.6)"/><ellipse cx="811.66" cy="512.23" rx="0.92" ry="0.99" transform="rotate(139 811.66 512.23)"/><ellipse cx="832.39" cy="622.03" rx="0.95" ry="0.73" transform="rotate(33 832.39 622.03)"/><ellipse cx="818.41" cy="605.46" rx="1.34" ry="1.01" transform="rotate(36 818.41 605.46)"/><ellipse cx="779.22" cy="553.83" rx="0.95" ry="0.88" transform="rotate(34 779.22 553.83)"/><ellipse cx="846.73" cy="550.03" rx="0.97" ry="1.21" transform="rotate(27 846.73 550.03)"/><ellipse cx="804.51" cy="617.88" rx="1.17" ry="0.93" transform="rotate(144 804.51 617.88)"/><ellipse cx="811.95" cy="559.7" rx="0.82" ry="0.68" transform="rotate(97 811.95 559.7)"/><ellipse cx="813.15" cy="610.5" rx="1.02" ry="0.63" transform="rotate(77 813.15 610.5)"/><ellipse cx="829.95" cy="557.76" rx="1.65" ry="0.76" transform="rotate(125 829.95 557.76)"/><ellipse cx="894.67" cy="525.09" rx="0.89" ry="0.52" transform="rotate(113 894.67 525.09)"/><ellipse cx="792.48" cy="512.7" rx="0.82" ry="0.61" transform="rotate(122 792.48 512.7)"/><ellipse cx="835.37" cy="540.75" rx="2.36" ry="1.25" transform="rotate(62 835.37 540.75)"/><ellipse cx="829.02" cy="609.17" rx="1.29" ry="1.08" transform="rotate(126 829.02 609.17)"/><ellipse cx="846.64" cy="564.86" rx="1.67" ry="1.02" transform="rotate(30 846.64 564.86)"/><ellipse cx="758.22" cy="523.02" rx="1.3" ry="0.73" transform="rotate(157 758.22 523.02)"/><ellipse cx="800.15" cy="571.48" rx="1.14" ry="0.87" transform="rotate(151 800.15 571.48)"/><ellipse cx="775.59" cy="508.24" rx="1.66" ry="0.94" transform="rotate(27 775.59 508.24)"/><ellipse cx="888.46" cy="573.37" rx="0.97" ry="0.51" transform="rotate(109 888.46 573.37)"/><ellipse cx="844.68" cy="590.58" rx="2.16" ry="1.26" transform="rotate(98 844.68 590.58)"/><ellipse cx="826.87" cy="589.78" rx="2.21" ry="1.08" transform="rotate(119 826.87 589.78)"/><ellipse cx="879.81" cy="515.83" rx="2.07" ry="1.17" transform="rotate(110 879.81 515.83)"/><ellipse cx="842.77" cy="585.71" rx="1.08" ry="0.88" transform="rotate(42 842.77 585.71)"/><ellipse cx="827.27" cy="573.79" rx="1.13" ry="0.9" transform="rotate(39 827.27 573.79)"/><ellipse cx="819.38" cy="572.87" rx="0.98" ry="0.54" transform="rotate(68 819.38 572.87)"/><ellipse cx="878.25" cy="602.91" rx="0.86" ry="1.03" transform="rotate(109 878.25 602.91)"/><ellipse cx="902.02" cy="627.7" rx="0.92" ry="1.06" transform="rotate(31 902.02 627.7)"/><ellipse cx="788.55" cy="585.39" rx="2.27" ry="1.26" transform="rotate(34 788.55 585.39)"/><ellipse cx="904.31" cy="592.59" rx="0.9" ry="0.85" transform="rotate(47 904.31 592.59)"/><ellipse cx="817.64" cy="527.24" rx="0.86" ry="1" transform="rotate(27 817.64 527.24)"/><ellipse cx="854.44" cy="597.36" rx="1.16" ry="0.72" transform="rotate(30 854.44 597.36)"/><ellipse cx="866.71" cy="613.31" rx="0.85" ry="0.61" transform="rotate(80 866.71 613.31)"/><ellipse cx="858.21" cy="566.63" rx="1.35" ry="0.78" transform="rotate(14 858.21 566.63)"/><ellipse cx="776.45" cy="543.27" rx="1.67" ry="0.95" transform="rotate(74 776.45 543.27)"/><ellipse cx="891.82" cy="574.49" rx="1.16" ry="1" transform="rotate(141 891.82 574.49)"/><ellipse cx="791" cy="607.81" rx="1.57" ry="0.73" transform="rotate(60 791 607.81)"/><ellipse cx="884.81" cy="562.3" rx="0.8" ry="0.81" transform="rotate(4 884.81 562.3)"/><ellipse cx="853.66" cy="518.13" rx="0.96" ry="1.03" transform="rotate(31 853.66 518.13)"/><ellipse cx="831.47" cy="562.32" rx="1.18" ry="0.81" transform="rotate(82 831.47 562.32)"/><ellipse cx="771.87" cy="571.58" rx="1.25" ry="0.93" transform="rotate(38 771.87 571.58)"/><ellipse cx="896.93" cy="559.42" rx="2.1" ry="1.14" transform="rotate(21 896.93 559.42)"/><ellipse cx="901.12" cy="587.71" rx="1.15" ry="1.16" transform="rotate(159 901.12 587.71)"/><ellipse cx="811.95" cy="608.2" rx="1.54" ry="0.73" transform="rotate(180 811.95 608.2)"/><ellipse cx="807.89" cy="554.19" rx="1.2" ry="0.61" transform="rotate(165 807.89 554.19)"/><ellipse cx="800.01" cy="583.66" rx="1.66" ry="1.27" transform="rotate(9 800.01 583.66)"/><ellipse cx="844.34" cy="576.69" rx="1.48" ry="1.09" transform="rotate(24 844.34 576.69)"/><ellipse cx="761.34" cy="530.26" rx="0.98" ry="0.66" transform="rotate(123 761.34 530.26)"/><ellipse cx="854.59" cy="549.72" rx="1.03" ry="0.84" transform="rotate(158 854.59 549.72)"/><ellipse cx="893.5" cy="546.69" rx="0.93" ry="0.87" transform="rotate(167 893.5 546.69)"/><ellipse cx="779.56" cy="552.86" rx="1.64" ry="0.81" transform="rotate(38 779.56 552.86)"/><ellipse cx="838.28" cy="521.13" rx="2.14" ry="1.15" transform="rotate(172 838.28 521.13)"/><ellipse cx="790.93" cy="565.74" rx="1.1" ry="0.53" transform="rotate(94 790.93 565.74)"/><ellipse cx="803.02" cy="514.97" rx="0.74" ry="0.52" transform="rotate(39 803.02 514.97)"/><ellipse cx="773.42" cy="588.13" rx="1.28" ry="0.73" transform="rotate(41 773.42 588.13)"/><ellipse cx="760.81" cy="593.68" rx="1.65" ry="0.96" transform="rotate(158 760.81 593.68)"/><ellipse cx="815.72" cy="624.73" rx="0.98" ry="0.79" transform="rotate(119 815.72 624.73)"/><ellipse cx="809.8" cy="515.93" rx="1.88" ry="1.29" transform="rotate(61 809.8 515.93)"/><ellipse cx="782.04" cy="532.95" rx="0.88" ry="0.54" transform="rotate(69 782.04 532.95)"/><ellipse cx="756.74" cy="515.2" rx="1.54" ry="1.12" transform="rotate(11 756.74 515.2)"/><ellipse cx="760.77" cy="608.16" rx="1.86" ry="1.17" transform="rotate(24 760.77 608.16)"/><ellipse cx="862.85" cy="536.34" rx="1.06" ry="1.14" transform="rotate(120 862.85 536.34)"/><ellipse cx="763.83" cy="537.12" rx="0.73" ry="0.54" transform="rotate(15 763.83 537.12)"/><ellipse cx="762.96" cy="607.91" rx="1.45" ry="0.86" transform="rotate(9 762.96 607.91)"/><ellipse cx="897.75" cy="531.24" rx="1.79" ry="1.06" transform="rotate(48 897.75 531.24)"/><ellipse cx="835.18" cy="518.02" rx="0.71" ry="0.75" transform="rotate(138 835.18 518.02)"/><ellipse cx="902.98" cy="527.33" rx="1.02" ry="0.56" transform="rotate(159 902.98 527.33)"/><ellipse cx="758.4" cy="572.66" rx="1.42" ry="0.89" transform="rotate(96 758.4 572.66)"/><ellipse cx="833.83" cy="523.83" rx="0.95" ry="0.51" transform="rotate(176 833.83 523.83)"/><ellipse cx="822.89" cy="607.07" rx="0.65" ry="0.68" transform="rotate(79 822.89 607.07)"/><ellipse cx="827.99" cy="601.49" rx="0.97" ry="0.71" transform="rotate(33 827.99 601.49)"/><ellipse cx="775.19" cy="517.74" rx="0.64" ry="0.7" transform="rotate(109 775.19 517.74)"/><ellipse cx="900.38" cy="587.86" rx="1.07" ry="0.72" transform="rotate(63 900.38 587.86)"/><ellipse cx="762.98" cy="531.88" rx="0.96" ry="0.73" transform="rotate(25 762.98 531.88)"/><ellipse cx="766.54" cy="600.23" rx="1.51" ry="0.8" transform="rotate(0 766.54 600.23)"/><ellipse cx="889.68" cy="586.39" rx="1.78" ry="1.11" transform="rotate(113 889.68 586.39)"/><ellipse cx="777.23" cy="590.41" rx="0.93" ry="1.13" transform="rotate(12 777.23 590.41)"/><ellipse cx="860.56" cy="540.02" rx="1.54" ry="1.15" transform="rotate(33 860.56 540.02)"/><ellipse cx="803.8" cy="544.67" rx="0.91" ry="0.61" transform="rotate(82 803.8 544.67)"/><ellipse cx="798.46" cy="515.52" rx="1.76" ry="1.11" transform="rotate(7 798.46 515.52)"/><ellipse cx="773.98" cy="624.24" rx="1.64" ry="1.16" transform="rotate(66 773.98 624.24)"/><ellipse cx="897.61" cy="581.34" rx="0.96" ry="0.68" transform="rotate(92 897.61 581.34)"/><ellipse cx="785.86" cy="550.89" rx="1.05" ry="0.63" transform="rotate(41 785.86 550.89)"/><ellipse cx="864.39" cy="519.34" rx="0.96" ry="0.92" transform="rotate(36 864.39 519.34)"/><ellipse cx="822.46" cy="620.52" rx="1.1" ry="1.14" transform="rotate(81 822.46 620.52)"/><ellipse cx="822.41" cy="535.3" rx="1.02" ry="0.98" transform="rotate(12 822.41 535.3)"/><ellipse cx="870.46" cy="620.26" rx="2" ry="0.93" transform="rotate(152 870.46 620.26)"/><ellipse cx="756.04" cy="523.13" rx="2.08" ry="1.18" transform="rotate(53 756.04 523.13)"/><ellipse cx="901.91" cy="511.84" rx="1.42" ry="0.96" transform="rotate(90 901.91 511.84)"/><ellipse cx="814.47" cy="533.77" rx="0.78" ry="0.72" transform="rotate(143 814.47 533.77)"/><ellipse cx="832.86" cy="599.65" rx="1.48" ry="1.13" transform="rotate(63 832.86 599.65)"/><ellipse cx="877.45" cy="587.48" rx="1.09" ry="1.23" transform="rotate(126 877.45 587.48)"/><ellipse cx="815.69" cy="525.07" rx="1.73" ry="1.17" transform="rotate(9 815.69 525.07)"/><ellipse cx="769.81" cy="555.54" rx="1.32" ry="1.1" transform="rotate(51 769.81 555.54)"/><ellipse cx="874.79" cy="598.51" rx="1.29" ry="0.88" transform="rotate(136 874.79 598.51)"/><ellipse cx="848.89" cy="603.94" rx="0.65" ry="0.8" transform="rotate(131 848.89 603.94)"/><ellipse cx="846.24" cy="582.41" rx="0.96" ry="1.15" transform="rotate(173 846.24 582.41)"/><ellipse cx="759.84" cy="545.35" rx="1.18" ry="0.81" transform="rotate(180 759.84 545.35)"/><ellipse cx="858.98" cy="561.87" rx="1.82" ry="1.13" transform="rotate(177 858.98 561.87)"/><ellipse cx="839.09" cy="515.24" rx="0.85" ry="0.62" transform="rotate(151 839.09 515.24)"/><ellipse cx="758.81" cy="600.3" rx="0.8" ry="0.67" transform="rotate(6 758.81 600.3)"/><ellipse cx="768.84" cy="550.6" rx="1.8" ry="0.96" transform="rotate(105 768.84 550.6)"/><ellipse cx="801.63" cy="619.4" rx="1.3" ry="0.72" transform="rotate(18 801.63 619.4)"/><ellipse cx="761.45" cy="518.5" rx="1.55" ry="1.27" transform="rotate(89 761.45 518.5)"/><ellipse cx="858.54" cy="608.49" rx="1.81" ry="1.09" transform="rotate(53 858.54 608.49)"/><ellipse cx="827.97" cy="518.93" rx="0.76" ry="0.6" transform="rotate(139 827.97 518.93)"/><ellipse cx="819.08" cy="624.19" rx="1.38" ry="1.04" transform="rotate(167 819.08 624.19)"/><ellipse cx="834.73" cy="532.76" rx="1.3" ry="1.04" transform="rotate(82 834.73 532.76)"/><ellipse cx="772.07" cy="590.55" rx="1.7" ry="0.94" transform="rotate(95 772.07 590.55)"/><ellipse cx="793" cy="519.91" rx="1.41" ry="0.74" transform="rotate(159 793 519.91)"/><ellipse cx="767.44" cy="621.96" rx="0.77" ry="0.56" transform="rotate(47 767.44 621.96)"/><ellipse cx="789.36" cy="515.42" rx="1.87" ry="0.95" transform="rotate(139 789.36 515.42)"/><ellipse cx="864.57" cy="557.92" rx="1.29" ry="0.84" transform="rotate(62 864.57 557.92)"/><ellipse cx="800.97" cy="541.59" rx="2.12" ry="0.98" transform="rotate(47 800.97 541.59)"/></g>
<g fill="#3a3a1a" opacity="0.6" filter="url(#sblur)"><ellipse cx="818.82" cy="525.8" rx="1.11" ry="0.71" transform="rotate(144 818.82 525.8)"/><ellipse cx="783.27" cy="530.73" rx="1.56" ry="0.92" transform="rotate(176 783.27 530.73)"/><ellipse cx="805.12" cy="517.04" rx="1.16" ry="1.17" transform="rotate(132 805.12 517.04)"/><ellipse cx="898.81" cy="546.11" rx="1.87" ry="1.1" transform="rotate(58 898.81 546.11)"/><ellipse cx="889.28" cy="581.73" rx="2.09" ry="1.06" transform="rotate(0 889.28 581.73)"/><ellipse cx="784.71" cy="526.7" rx="0.57" ry="0.56" transform="rotate(157 784.71 526.7)"/><ellipse cx="869.41" cy="576.9" rx="1.01" ry="0.81" transform="rotate(46 869.41 576.9)"/><ellipse cx="862.34" cy="618.79" rx="1.96" ry="1.17" transform="rotate(26 862.34 618.79)"/><ellipse cx="810.38" cy="605.6" rx="0.8" ry="0.64" transform="rotate(44 810.38 605.6)"/><ellipse cx="824.33" cy="589.56" rx="0.94" ry="1.02" transform="rotate(103 824.33 589.56)"/><ellipse cx="896.45" cy="563.82" rx="1.09" ry="0.5" transform="rotate(95 896.45 563.82)"/><ellipse cx="775.63" cy="508.29" rx="0.98" ry="0.77" transform="rotate(18 775.63 508.29)"/><ellipse cx="829.11" cy="620.41" rx="0.82" ry="1" transform="rotate(122 829.11 620.41)"/><ellipse cx="905.06" cy="598.01" rx="0.82" ry="0.64" transform="rotate(36 905.06 598.01)"/><ellipse cx="799.21" cy="567.75" rx="1.88" ry="0.99" transform="rotate(147 799.21 567.75)"/><ellipse cx="772.22" cy="556.87" rx="1.03" ry="1.16" transform="rotate(110 772.22 556.87)"/><ellipse cx="763.33" cy="558.39" rx="1.15" ry="0.67" transform="rotate(18 763.33 558.39)"/><ellipse cx="777.59" cy="624" rx="1.25" ry="0.89" transform="rotate(46 777.59 624)"/><ellipse cx="836.68" cy="554.25" rx="1.07" ry="1.15" transform="rotate(91 836.68 554.25)"/><ellipse cx="775.08" cy="517.93" rx="1.07" ry="1.07" transform="rotate(4 775.08 517.93)"/><ellipse cx="758.98" cy="575.38" rx="2.36" ry="1.17" transform="rotate(20 758.98 575.38)"/><ellipse cx="763.74" cy="534.13" rx="1.68" ry="1.18" transform="rotate(120 763.74 534.13)"/><ellipse cx="833.37" cy="622.63" rx="1.81" ry="0.92" transform="rotate(120 833.37 622.63)"/><ellipse cx="831.67" cy="514.26" rx="1.46" ry="0.77" transform="rotate(111 831.67 514.26)"/><ellipse cx="884.31" cy="620.68" rx="1.6" ry="0.96" transform="rotate(150 884.31 620.68)"/><ellipse cx="761.19" cy="510.76" rx="1.43" ry="1.04" transform="rotate(110 761.19 510.76)"/><ellipse cx="892.55" cy="553.32" rx="2.23" ry="1.2" transform="rotate(86 892.55 553.32)"/><ellipse cx="777.94" cy="601.61" rx="1.72" ry="0.8" transform="rotate(94 777.94 601.61)"/><ellipse cx="788.17" cy="558.47" rx="1.01" ry="0.69" transform="rotate(73 788.17 558.47)"/><ellipse cx="756.16" cy="583.9" rx="1.93" ry="1.04" transform="rotate(19 756.16 583.9)"/><ellipse cx="766.84" cy="553.64" rx="2.3" ry="1.13" transform="rotate(50 766.84 553.64)"/><ellipse cx="852.64" cy="597.58" rx="1.05" ry="0.85" transform="rotate(117 852.64 597.58)"/><ellipse cx="776.17" cy="536.29" rx="2.42" ry="1.14" transform="rotate(7 776.17 536.29)"/><ellipse cx="757.95" cy="605.39" rx="0.55" ry="0.56" transform="rotate(167 757.95 605.39)"/><ellipse cx="811.52" cy="600.92" rx="0.93" ry="0.61" transform="rotate(179 811.52 600.92)"/><ellipse cx="839.1" cy="541.94" rx="0.78" ry="0.57" transform="rotate(77 839.1 541.94)"/><ellipse cx="810.88" cy="565.22" rx="1.95" ry="0.91" transform="rotate(61 810.88 565.22)"/><ellipse cx="899.97" cy="524.76" rx="0.42" ry="0.51" transform="rotate(98 899.97 524.76)"/><ellipse cx="775.76" cy="565.64" rx="0.81" ry="0.99" transform="rotate(54 775.76 565.64)"/><ellipse cx="818.38" cy="568.4" rx="1.77" ry="0.93" transform="rotate(14 818.38 568.4)"/><ellipse cx="875.98" cy="536.52" rx="2.01" ry="0.98" transform="rotate(5 875.98 536.52)"/><ellipse cx="839.13" cy="560.65" rx="0.56" ry="0.57" transform="rotate(94 839.13 560.65)"/><ellipse cx="840.77" cy="540.98" rx="1.48" ry="0.91" transform="rotate(99 840.77 540.98)"/><ellipse cx="903.41" cy="544.11" rx="1.3" ry="0.62" transform="rotate(19 903.41 544.11)"/><ellipse cx="852.11" cy="514.52" rx="1.08" ry="0.65" transform="rotate(25 852.11 514.52)"/><ellipse cx="893.92" cy="543.81" rx="1.74" ry="0.89" transform="rotate(35 893.92 543.81)"/><ellipse cx="823.96" cy="515.48" rx="0.8" ry="0.5" transform="rotate(145 823.96 515.48)"/><ellipse cx="823.62" cy="515.08" rx="0.72" ry="0.56" transform="rotate(36 823.62 515.08)"/><ellipse cx="811.7" cy="548.79" rx="1.58" ry="1.07" transform="rotate(36 811.7 548.79)"/><ellipse cx="866.53" cy="539.35" rx="1.81" ry="1.08" transform="rotate(99 866.53 539.35)"/><ellipse cx="780.63" cy="602.6" rx="1.61" ry="0.99" transform="rotate(112 780.63 602.6)"/><ellipse cx="892.53" cy="608.26" rx="1.46" ry="0.92" transform="rotate(90 892.53 608.26)"/><ellipse cx="839.65" cy="509.06" rx="1.04" ry="0.53" transform="rotate(126 839.65 509.06)"/><ellipse cx="856.5" cy="585.85" rx="0.71" ry="0.52" transform="rotate(105 856.5 585.85)"/><ellipse cx="863.54" cy="581.26" rx="1.03" ry="0.93" transform="rotate(178 863.54 581.26)"/><ellipse cx="772.39" cy="515.58" rx="0.91" ry="0.98" transform="rotate(17 772.39 515.58)"/><ellipse cx="862.74" cy="544.36" rx="1.35" ry="0.87" transform="rotate(17 862.74 544.36)"/><ellipse cx="898.69" cy="589.47" rx="0.95" ry="0.69" transform="rotate(78 898.69 589.47)"/><ellipse cx="794.44" cy="543.74" rx="0.93" ry="0.5" transform="rotate(132 794.44 543.74)"/><ellipse cx="854.05" cy="567.66" rx="1.32" ry="0.77" transform="rotate(67 854.05 567.66)"/></g>
<g fill="#3f9a3a" stroke="#4a5e28" stroke-width="0.8" opacity="1"><circle cx="857.5" cy="558.6" r="14.5"/><circle cx="904.05" cy="576.3" r="7.49"/><circle cx="844.39" cy="534.23" r="7.49"/><circle cx="782.32" cy="623.18" r="7.48"/><circle cx="890.5" cy="520.06" r="7.46"/><circle cx="844.83" cy="583.87" r="7.46"/><circle cx="754.55" cy="616.03" r="7.45"/><circle cx="754.43" cy="506.64" r="7.42"/><circle cx="869.35" cy="623.19" r="7.41"/><circle cx="776.59" cy="553.15" r="7.41"/><circle cx="793.3" cy="529.82" r="7.4"/><circle cx="871.73" cy="596.5" r="7.39"/><circle cx="828.93" cy="606.89" r="7.39"/><circle cx="908.21" cy="606.12" r="7.38"/><circle cx="904.64" cy="619.88" r="7.37"/><circle cx="771.78" cy="598.26" r="7.36"/><circle cx="808.81" cy="511.34" r="7.36"/><circle cx="887.95" cy="603.58" r="7.35"/><circle cx="783.72" cy="588.02" r="7.35"/><circle cx="813" cy="602.22" r="7.35"/><circle cx="882.56" cy="578.72" r="7.34"/><circle cx="881.45" cy="531.33" r="7.33"/><circle cx="818.96" cy="536.63" r="7.3"/><circle cx="808.96" cy="558.8" r="7.3"/><circle cx="809.96" cy="631.25" r="7.3"/><circle cx="904.46" cy="514.2" r="7.29"/><circle cx="906.96" cy="560.59" r="7.27"/><circle cx="860.83" cy="514.38" r="7.26"/><circle cx="804.25" cy="589.13" r="7.26"/><circle cx="754.85" cy="567.67" r="7.24"/><circle cx="762.34" cy="546.53" r="7.23"/><circle cx="776.88" cy="516.99" r="7.19"/><circle cx="849.1" cy="617.11" r="7.15"/><circle cx="818.28" cy="585.52" r="7.14"/><circle cx="817.02" cy="571.33" r="7.13"/><circle cx="873.36" cy="505.82" r="7.13"/><circle cx="884.12" cy="618.86" r="7.12"/><circle cx="753.49" cy="631.37" r="7.11"/><circle cx="829.18" cy="546.88" r="7.11"/><circle cx="783.68" cy="571.69" r="7.08"/><circle cx="889.74" cy="505.96" r="7.08"/><circle cx="825.69" cy="625.56" r="7.07"/><circle cx="795.76" cy="615.85" r="7.05"/><circle cx="878.02" cy="548.53" r="7.05"/><circle cx="755.28" cy="530.91" r="7.05"/><circle cx="841.25" cy="515.65" r="7.04"/><circle cx="792.7" cy="602.42" r="7.04"/><circle cx="862.52" cy="535.13" r="7.02"/><circle cx="831.04" cy="592.61" r="7.01"/><circle cx="896.53" cy="549.4" r="6.98"/><circle cx="846.42" cy="601.22" r="6.9"/><circle cx="831.65" cy="574.97" r="6.9"/><circle cx="858.93" cy="582.67" r="6.89"/><circle cx="769.66" cy="573.57" r="6.86"/><circle cx="793.41" cy="510.93" r="6.85"/><circle cx="753.33" cy="591.99" r="6.84"/><circle cx="820.42" cy="522.25" r="6.83"/><circle cx="900.01" cy="535.17" r="6.83"/><circle cx="891.92" cy="562.44" r="6.81"/><circle cx="807.33" cy="524.89" r="6.81"/><circle cx="794.38" cy="559.09" r="6.81"/><circle cx="895.44" cy="590.7" r="6.8"/><circle cx="768.38" cy="629.06" r="6.77"/><circle cx="779.39" cy="536.91" r="6.76"/><circle cx="834.44" cy="560.07" r="6.75"/><circle cx="832.68" cy="526.71" r="6.75"/><circle cx="830.97" cy="506" r="6.71"/><circle cx="852.6" cy="630.84" r="6.7"/><circle cx="849.4" cy="505.31" r="6.66"/><circle cx="800.29" cy="542.26" r="6.66"/><circle cx="802.41" cy="570.56" r="6.65"/><circle cx="860.65" cy="609.74" r="6.62"/><circle cx="878.72" cy="562.84" r="6.59"/><circle cx="894.9" cy="630.65" r="6.58"/><circle cx="768.49" cy="504.95" r="6.56"/><circle cx="874.63" cy="519.35" r="6.56"/><circle cx="814.33" cy="617.78" r="6.55"/><circle cx="796.74" cy="629.83" r="6.55"/><circle cx="838.29" cy="630.61" r="6.54"/><circle cx="761.46" cy="518.34" r="6.54"/><circle cx="769.23" cy="612.61" r="6.51"/><circle cx="874.58" cy="609.88" r="6.41"/><circle cx="765.69" cy="585.75" r="6.3"/><circle cx="759.05" cy="603.11" r="6.25"/><circle cx="788.66" cy="546.42" r="6.18"/><circle cx="768.2" cy="529.96" r="6.16"/><circle cx="869.61" cy="575.12" r="6.15"/><circle cx="780.99" cy="608.71" r="6.13"/><circle cx="857.17" cy="594.83" r="6"/><circle cx="821.64" cy="558.38" r="5.95"/><circle cx="766.06" cy="561.88" r="5.85"/><circle cx="907.55" cy="592.96" r="5.77"/><circle cx="794.21" cy="579.83" r="5.76"/><circle cx="782.47" cy="505.6" r="5.71"/><circle cx="835.12" cy="617.76" r="5.7"/><circle cx="841.57" cy="547.18" r="5.67"/><circle cx="851.62" cy="524.02" r="5.58"/><circle cx="753.13" cy="554.26" r="5.38"/><circle cx="883.67" cy="591.46" r="5.22"/><circle cx="816.83" cy="548.6" r="5.16"/><circle cx="754.85" cy="580.66" r="5.08"/><circle cx="888.42" cy="541.13" r="5.03"/><circle cx="880.85" cy="630.02" r="4.99"/><circle cx="842.85" cy="571.58" r="4.91"/><circle cx="907.35" cy="545.8" r="4.91"/><circle cx="894.96" cy="613.06" r="4.78"/><circle cx="820.38" cy="506.38" r="4.45"/><circle cx="873.07" cy="538.54" r="4.27"/><circle cx="904.8" cy="525.7" r="4.24"/><circle cx="803.93" cy="608.82" r="4.21"/><circle cx="840.77" cy="610.23" r="4.21"/><circle cx="782.64" cy="526.57" r="4.2"/><circle cx="830.13" cy="516.33" r="4.17"/><circle cx="892.93" cy="573.38" r="4.06"/><circle cx="870.47" cy="585.36" r="4.01"/><circle cx="898.7" cy="600.77" r="3.93"/><circle cx="882.18" cy="513.03" r="3.86"/><circle cx="804.61" cy="621.19" r="3.85"/><circle cx="808.8" cy="579.37" r="3.85"/><circle cx="776.52" cy="563.92" r="3.83"/><circle cx="864.92" cy="524.57" r="3.78"/><circle cx="807.85" cy="535.59" r="3.78"/><circle cx="787.59" cy="520.64" r="3.76"/><circle cx="832.21" cy="537.13" r="3.69"/><circle cx="853.36" cy="540.07" r="3.69"/><circle cx="784.44" cy="560.06" r="3.62"/><circle cx="798.47" cy="519.79" r="3.6"/><circle cx="782.47" cy="599.69" r="3.54"/><circle cx="886.59" cy="554.02" r="3.54"/><circle cx="871.28" cy="529.11" r="3.52"/><circle cx="769.31" cy="539.02" r="3.52"/><circle cx="851.33" cy="575.74" r="3.52"/><circle cx="802.82" cy="600.58" r="3.44"/><circle cx="793.69" cy="590.82" r="3.38"/><circle cx="894.45" cy="620.93" r="3.34"/><circle cx="775.43" cy="581.39" r="3.33"/><circle cx="793.22" cy="568.7" r="3.31"/><circle cx="867.76" cy="543.82" r="3.3"/><circle cx="809.45" cy="544.67" r="3.29"/><circle cx="894.57" cy="580.75" r="3.28"/><circle cx="823.66" cy="615.73" r="3.28"/><circle cx="859.57" cy="620.9" r="3.14"/><circle cx="762.43" cy="594.76" r="3.12"/><circle cx="822.89" cy="598.08" r="3.11"/><circle cx="836.79" cy="600.43" r="3.06"/><circle cx="819.43" cy="609.94" r="3.03"/><circle cx="892.04" cy="530.45" r="3.01"/><circle cx="772.91" cy="544.04" r="3"/><circle cx="826.47" cy="566.12" r="3"/><circle cx="822.77" cy="513.25" r="2.99"/><circle cx="850.76" cy="514.93" r="2.97"/><circle cx="801.84" cy="551.31" r="2.95"/><circle cx="763.2" cy="620.69" r="2.94"/><circle cx="840.42" cy="592.73" r="2.94"/><circle cx="885.69" cy="569.06" r="2.88"/><circle cx="876.75" cy="587.96" r="2.86"/><circle cx="754.9" cy="540.15" r="2.79"/><circle cx="899.62" cy="567.14" r="2.78"/><circle cx="776.29" cy="527.67" r="2.76"/><circle cx="802.65" cy="579.8" r="2.73"/><circle cx="761.28" cy="576.99" r="2.73"/><circle cx="865.51" cy="589.01" r="2.71"/><circle cx="802.45" cy="533.38" r="2.63"/><circle cx="763.41" cy="537.01" r="2.63"/><circle cx="760.52" cy="624.93" r="2.61"/><circle cx="842.96" cy="524.55" r="2.59"/><circle cx="848.6" cy="543.47" r="2.59"/><circle cx="840.61" cy="506.64" r="2.57"/><circle cx="772.55" cy="621.04" r="2.56"/><circle cx="806.71" cy="549.32" r="2.56"/><circle cx="898.72" cy="607.29" r="2.54"/><circle cx="860.73" cy="627.13" r="2.54"/><circle cx="788.52" cy="538" r="2.53"/><circle cx="862.99" cy="600.6" r="2.53"/><circle cx="835.34" cy="584.28" r="2.52"/><circle cx="786.09" cy="554.44" r="2.51"/><circle cx="898.38" cy="526.15" r="2.51"/><circle cx="806.07" cy="614.7" r="2.5"/><circle cx="829.31" cy="583.48" r="2.48"/><circle cx="786.34" cy="614.68" r="2.47"/><circle cx="848.83" cy="592.31" r="2.46"/><circle cx="818.47" cy="594.64" r="2.45"/><circle cx="858.93" cy="525.89" r="2.44"/><circle cx="769.17" cy="521.84" r="2.4"/><circle cx="845.07" cy="625.52" r="2.37"/><circle cx="853.62" cy="531.63" r="2.37"/><circle cx="773.74" cy="587.72" r="2.36"/><circle cx="795.88" cy="550.09" r="2.36"/><circle cx="852.11" cy="608.16" r="2.34"/><circle cx="904.65" cy="585.66" r="2.34"/><circle cx="887.44" cy="547.83" r="2.34"/><circle cx="887.15" cy="627.44" r="2.34"/><circle cx="812.28" cy="593.13" r="2.31"/><circle cx="890.06" cy="583.98" r="2.3"/><circle cx="785.29" cy="513.86" r="2.3"/><circle cx="759.53" cy="557.78" r="2.29"/><circle cx="767.25" cy="554.07" r="2.29"/><circle cx="841.35" cy="622.62" r="2.28"/><circle cx="880.64" cy="598.26" r="2.27"/><circle cx="823.64" cy="578.39" r="2.27"/><circle cx="871.66" cy="567.2" r="2.26"/><circle cx="818.05" cy="512.66" r="2.25"/><circle cx="842.19" cy="565.03" r="2.25"/><circle cx="836.53" cy="541.14" r="2.25"/><circle cx="797" cy="594.61" r="2.23"/><circle cx="876.95" cy="570.97" r="2.23"/><circle cx="881.4" cy="540.37" r="2.23"/><circle cx="854.95" cy="602.78" r="2.22"/><circle cx="878.36" cy="602.72" r="2.22"/><circle cx="827.96" cy="533.69" r="2.21"/><circle cx="793.02" cy="519.61" r="2.2"/><circle cx="767.92" cy="513.23" r="2.2"/><circle cx="899.71" cy="521.87" r="2.2"/></g>
<g fill="#9a5a30" opacity="0.5"><ellipse cx="794.61" cy="577.49" rx="1.3" ry="0.95" transform="rotate(38 794.61 577.49)"/><ellipse cx="781.44" cy="562.88" rx="0.65" ry="0.4" transform="rotate(52 781.44 562.88)"/><ellipse cx="885.81" cy="624.92" rx="1.61" ry="0.96" transform="rotate(113 885.81 624.92)"/><ellipse cx="828.25" cy="533.29" rx="1.33" ry="0.82" transform="rotate(75 828.25 533.29)"/><ellipse cx="771.85" cy="591.95" rx="0.87" ry="0.8" transform="rotate(45 771.85 591.95)"/><ellipse cx="883.34" cy="560.78" rx="0.51" ry="0.5" transform="rotate(84 883.34 560.78)"/><ellipse cx="848.6" cy="618.78" rx="1.39" ry="0.93" transform="rotate(121 848.6 618.78)"/><ellipse cx="900.71" cy="519.56" rx="1.71" ry="0.89" transform="rotate(74 900.71 519.56)"/><ellipse cx="770.32" cy="597.6" rx="1.12" ry="0.78" transform="rotate(105 770.32 597.6)"/><ellipse cx="786.41" cy="621.28" rx="1.07" ry="0.57" transform="rotate(153 786.41 621.28)"/><ellipse cx="771.67" cy="594.61" rx="0.58" ry="0.62" transform="rotate(49 771.67 594.61)"/><ellipse cx="758.24" cy="564.01" rx="0.98" ry="0.64" transform="rotate(35 758.24 564.01)"/><ellipse cx="757.33" cy="597.93" rx="1.37" ry="0.84" transform="rotate(116 757.33 597.93)"/><ellipse cx="833.85" cy="596.52" rx="1.1" ry="0.51" transform="rotate(60 833.85 596.52)"/><ellipse cx="763.74" cy="540.56" rx="0.64" ry="0.58" transform="rotate(173 763.74 540.56)"/><ellipse cx="859.35" cy="572.64" rx="0.71" ry="0.47" transform="rotate(157 859.35 572.64)"/><ellipse cx="899.99" cy="577.84" rx="0.73" ry="0.4" transform="rotate(78 899.99 577.84)"/><ellipse cx="837.85" cy="599.78" rx="0.69" ry="0.63" transform="rotate(111 837.85 599.78)"/><ellipse cx="757.87" cy="564.76" rx="1.42" ry="0.72" transform="rotate(164 757.87 564.76)"/><ellipse cx="818.4" cy="555.49" rx="1.03" ry="0.49" transform="rotate(167 818.4 555.49)"/><ellipse cx="779.87" cy="626.35" rx="1.19" ry="0.67" transform="rotate(83 779.87 626.35)"/><ellipse cx="898.31" cy="601.01" rx="0.89" ry="0.68" transform="rotate(118 898.31 601.01)"/><ellipse cx="888.17" cy="585.29" rx="0.95" ry="0.5" transform="rotate(143 888.17 585.29)"/><ellipse cx="758.92" cy="592.17" rx="1.02" ry="0.81" transform="rotate(2 758.92 592.17)"/><ellipse cx="891.8" cy="534.93" rx="0.94" ry="0.73" transform="rotate(55 891.8 534.93)"/><ellipse cx="797.67" cy="510.58" rx="0.79" ry="0.65" transform="rotate(152 797.67 510.58)"/><ellipse cx="865.7" cy="581.35" rx="0.36" ry="0.4" transform="rotate(97 865.7 581.35)"/><ellipse cx="904.43" cy="607.6" rx="1.93" ry="0.98" transform="rotate(7 904.43 607.6)"/><ellipse cx="880.92" cy="562.05" rx="0.79" ry="0.47" transform="rotate(173 880.92 562.05)"/><ellipse cx="838.4" cy="622.1" rx="0.83" ry="0.43" transform="rotate(7 838.4 622.1)"/><ellipse cx="860.51" cy="551.01" rx="1.14" ry="0.7" transform="rotate(79 860.51 551.01)"/><ellipse cx="774.42" cy="519.53" rx="1.15" ry="0.73" transform="rotate(169 774.42 519.53)"/><ellipse cx="776.86" cy="519.77" rx="0.62" ry="0.54" transform="rotate(175 776.86 519.77)"/><ellipse cx="814.53" cy="540.73" rx="0.65" ry="0.8" transform="rotate(61 814.53 540.73)"/><ellipse cx="849" cy="528.91" rx="0.85" ry="0.51" transform="rotate(6 849 528.91)"/><ellipse cx="881.04" cy="621.84" rx="0.54" ry="0.45" transform="rotate(131 881.04 621.84)"/><ellipse cx="802.1" cy="610.72" rx="1.64" ry="0.8" transform="rotate(148 802.1 610.72)"/><ellipse cx="764.5" cy="539.11" rx="1.33" ry="0.94" transform="rotate(108 764.5 539.11)"/><ellipse cx="903.4" cy="526.03" rx="0.56" ry="0.44" transform="rotate(111 903.4 526.03)"/><ellipse cx="823.15" cy="553.57" rx="1.9" ry="0.89" transform="rotate(62 823.15 553.57)"/><ellipse cx="900.32" cy="511.9" rx="0.73" ry="0.51" transform="rotate(45 900.32 511.9)"/><ellipse cx="887.1" cy="538.7" rx="0.89" ry="0.48" transform="rotate(7 887.1 538.7)"/><ellipse cx="856.39" cy="532.37" rx="1.65" ry="0.9" transform="rotate(136 856.39 532.37)"/><ellipse cx="773.44" cy="604.64" rx="1.12" ry="0.95" transform="rotate(176 773.44 604.64)"/><ellipse cx="876.28" cy="537.37" rx="0.92" ry="0.9" transform="rotate(116 876.28 537.37)"/><ellipse cx="849.36" cy="514.39" rx="1.13" ry="0.64" transform="rotate(43 849.36 514.39)"/><ellipse cx="757.69" cy="526.68" rx="0.63" ry="0.65" transform="rotate(106 757.69 526.68)"/><ellipse cx="892.84" cy="614.28" rx="1.49" ry="0.76" transform="rotate(55 892.84 614.28)"/><ellipse cx="813.72" cy="572.16" rx="1" ry="0.51" transform="rotate(67 813.72 572.16)"/><ellipse cx="791.37" cy="627.19" rx="0.74" ry="0.48" transform="rotate(133 791.37 627.19)"/><ellipse cx="875.04" cy="553.33" rx="0.85" ry="0.72" transform="rotate(114 875.04 553.33)"/><ellipse cx="823.99" cy="539.52" rx="0.98" ry="0.75" transform="rotate(93 823.99 539.52)"/><ellipse cx="831.19" cy="513.61" rx="1.49" ry="0.68" transform="rotate(75 831.19 513.61)"/><ellipse cx="835.35" cy="525.73" rx="1.77" ry="0.96" transform="rotate(56 835.35 525.73)"/><ellipse cx="844.15" cy="511.28" rx="1.84" ry="0.85" transform="rotate(59 844.15 511.28)"/><ellipse cx="876.06" cy="607.12" rx="0.68" ry="0.47" transform="rotate(97 876.06 607.12)"/><ellipse cx="865.17" cy="525.73" rx="0.84" ry="0.53" transform="rotate(12 865.17 525.73)"/><ellipse cx="848.88" cy="515.64" rx="1.36" ry="0.92" transform="rotate(164 848.88 515.64)"/><ellipse cx="757.39" cy="535.85" rx="1.73" ry="0.94" transform="rotate(173 757.39 535.85)"/><ellipse cx="842.11" cy="544.86" rx="0.57" ry="0.46" transform="rotate(21 842.11 544.86)"/></g>
</g>
<path d="M880.2 620.9h17" stroke="#e8f0e0" stroke-width="0.6" opacity="0.8"/>
<rect x="885.7" y="621.6" width="6" height="1.8" fill="#e8f0e0" opacity="0.7"/>
</g>
<clipPath id="cl6"><rect x="98.3" y="641.4" width="149.4" height="120"/></clipPath>
<g clip-path="url(#cl6)"><g filter="url(#mblur)">
<rect x="95.3" y="638.4" width="155.4" height="126" fill="#587c38"/>
<g fill="#3c8a3a" opacity="0.55" filter="url(#blur3)"><circle cx="216.83" cy="740.03" r="9.88"/><circle cx="137.39" cy="641.45" r="11.3"/><circle cx="168.56" cy="732.57" r="8.99"/><circle cx="213.36" cy="674.12" r="12.42"/><circle cx="207.34" cy="691.08" r="10.31"/><circle cx="200.2" cy="664.56" r="10.43"/><circle cx="218.59" cy="673.26" r="12.43"/><circle cx="200.74" cy="742.71" r="8.68"/><circle cx="112.21" cy="737.43" r="12.44"/><circle cx="164.81" cy="652.65" r="7.58"/><circle cx="193.16" cy="676.34" r="13.61"/><circle cx="186.23" cy="665.5" r="11.24"/><circle cx="152.14" cy="753.33" r="13.28"/><circle cx="175.19" cy="718.75" r="11.58"/><circle cx="218.64" cy="758.57" r="6.23"/><circle cx="152.29" cy="713.61" r="8.43"/><circle cx="186.32" cy="652.16" r="13.04"/><circle cx="176.77" cy="655.42" r="11.3"/><circle cx="144.95" cy="664.95" r="9.87"/><circle cx="118.93" cy="666.59" r="12.92"/><circle cx="202.61" cy="642.9" r="12.22"/><circle cx="100.85" cy="681.35" r="13.24"/><circle cx="190.97" cy="678.13" r="9.02"/><circle cx="156.44" cy="656.62" r="14"/><circle cx="106.34" cy="692.15" r="11.97"/><circle cx="157.73" cy="759.12" r="7.96"/><circle cx="244.6" cy="748.47" r="11.36"/><circle cx="231.19" cy="695.06" r="12.65"/><circle cx="217.24" cy="703.4" r="9.77"/><circle cx="203.73" cy="690.49" r="6.69"/></g>
<g fill="#6a7434" opacity="0.4" filter="url(#blur3)"><circle cx="209.83" cy="673.3" r="8.93"/><circle cx="215.43" cy="662.06" r="6.13"/><circle cx="116.75" cy="712.13" r="8.17"/><circle cx="136.59" cy="695.58" r="11.57"/><circle cx="136.36" cy="690.67" r="11.28"/><circle cx="189.76" cy="673.55" r="8.85"/><circle cx="169.79" cy="658.46" r="8.26"/><circle cx="143.97" cy="737.97" r="7.94"/><circle cx="196.79" cy="757.89" r="11.54"/><circle cx="154.48" cy="713.76" r="7.92"/><circle cx="157.8" cy="699.96" r="10.76"/><circle cx="238.23" cy="676.29" r="6.04"/><circle cx="165.43" cy="648.25" r="6.18"/><circle cx="213.87" cy="654.86" r="10.31"/><circle cx="152.38" cy="754.01" r="11.12"/><circle cx="107.6" cy="664.52" r="11.68"/><circle cx="189.95" cy="692.05" r="10.69"/><circle cx="219.84" cy="700.4" r="8.81"/><circle cx="113.26" cy="684.84" r="6.87"/><circle cx="191.76" cy="714.19" r="6.87"/></g>
<g fill="#e0542e" opacity="0.8" filter="url(#sblur)"><ellipse cx="192.12" cy="653.08" rx="0.83" ry="0.48" transform="rotate(118 192.12 653.08)"/><ellipse cx="206.48" cy="649.68" rx="0.67" ry="0.42" transform="rotate(157 206.48 649.68)"/><ellipse cx="222.7" cy="651.43" rx="1.86" ry="0.89" transform="rotate(167 222.7 651.43)"/><ellipse cx="165.83" cy="724.66" rx="1.02" ry="1.03" transform="rotate(48 165.83 724.66)"/><ellipse cx="234.07" cy="694.31" rx="1.46" ry="1.02" transform="rotate(70 234.07 694.31)"/><ellipse cx="169.63" cy="710.92" rx="1.29" ry="1.07" transform="rotate(93 169.63 710.92)"/><ellipse cx="141.04" cy="754.16" rx="0.93" ry="0.47" transform="rotate(71 141.04 754.16)"/><ellipse cx="139.25" cy="698.17" rx="1" ry="0.76" transform="rotate(21 139.25 698.17)"/><ellipse cx="135.59" cy="713.96" rx="1.09" ry="0.59" transform="rotate(44 135.59 713.96)"/><ellipse cx="148.56" cy="645.24" rx="2.13" ry="1.16" transform="rotate(53 148.56 645.24)"/><ellipse cx="202.98" cy="682.62" rx="0.84" ry="0.46" transform="rotate(29 202.98 682.62)"/><ellipse cx="158.01" cy="657.68" rx="1.69" ry="0.99" transform="rotate(32 158.01 657.68)"/><ellipse cx="109.35" cy="703.83" rx="0.65" ry="0.42" transform="rotate(38 109.35 703.83)"/><ellipse cx="125.75" cy="730.08" rx="1.6" ry="0.81" transform="rotate(57 125.75 730.08)"/><ellipse cx="239.49" cy="724.87" rx="0.95" ry="0.97" transform="rotate(176 239.49 724.87)"/><ellipse cx="122.68" cy="679.38" rx="0.95" ry="0.59" transform="rotate(145 122.68 679.38)"/><ellipse cx="156.07" cy="732.63" rx="1.67" ry="1.08" transform="rotate(2 156.07 732.63)"/><ellipse cx="157.69" cy="761.1" rx="1.45" ry="0.84" transform="rotate(59 157.69 761.1)"/><ellipse cx="194.68" cy="738.03" rx="1.21" ry="0.7" transform="rotate(38 194.68 738.03)"/><ellipse cx="122.82" cy="716.46" rx="0.63" ry="0.71" transform="rotate(10 122.82 716.46)"/><ellipse cx="168.85" cy="648.51" rx="1.43" ry="0.92" transform="rotate(172 168.85 648.51)"/><ellipse cx="153.22" cy="645.26" rx="1.59" ry="0.83" transform="rotate(57 153.22 645.26)"/><ellipse cx="212.39" cy="723.92" rx="1.08" ry="1.16" transform="rotate(19 212.39 723.92)"/><ellipse cx="206.49" cy="745.11" rx="0.92" ry="0.53" transform="rotate(30 206.49 745.11)"/><ellipse cx="241.43" cy="725.63" rx="0.95" ry="0.54" transform="rotate(7 241.43 725.63)"/><ellipse cx="210.37" cy="722.51" rx="1.68" ry="0.98" transform="rotate(73 210.37 722.51)"/><ellipse cx="136.5" cy="669.23" rx="1.81" ry="1.05" transform="rotate(137 136.5 669.23)"/><ellipse cx="215.96" cy="667.07" rx="1.01" ry="0.87" transform="rotate(175 215.96 667.07)"/><ellipse cx="147.75" cy="703.49" rx="1.48" ry="0.87" transform="rotate(92 147.75 703.49)"/><ellipse cx="153.15" cy="655.45" rx="0.97" ry="1.16" transform="rotate(177 153.15 655.45)"/><ellipse cx="239.91" cy="693.68" rx="0.93" ry="1.07" transform="rotate(35 239.91 693.68)"/><ellipse cx="102.84" cy="681.74" rx="1.14" ry="0.79" transform="rotate(67 102.84 681.74)"/><ellipse cx="111.38" cy="712.29" rx="0.61" ry="0.62" transform="rotate(107 111.38 712.29)"/><ellipse cx="179.84" cy="670.56" rx="2.02" ry="0.93" transform="rotate(109 179.84 670.56)"/><ellipse cx="182.49" cy="716.62" rx="0.92" ry="0.78" transform="rotate(35 182.49 716.62)"/><ellipse cx="142.98" cy="645.34" rx="0.95" ry="1.01" transform="rotate(45 142.98 645.34)"/><ellipse cx="184.36" cy="755.17" rx="1.59" ry="1.05" transform="rotate(30 184.36 755.17)"/><ellipse cx="121.01" cy="688.58" rx="1.59" ry="0.79" transform="rotate(177 121.01 688.58)"/><ellipse cx="179.2" cy="736.85" rx="0.97" ry="0.57" transform="rotate(99 179.2 736.85)"/><ellipse cx="121.36" cy="751.7" rx="2.19" ry="1.1" transform="rotate(86 121.36 751.7)"/><ellipse cx="160.69" cy="679.72" rx="1.02" ry="0.63" transform="rotate(173 160.69 679.72)"/><ellipse cx="152.51" cy="642.04" rx="0.59" ry="0.64" transform="rotate(159 152.51 642.04)"/><ellipse cx="190.98" cy="669.18" rx="0.98" ry="0.91" transform="rotate(105 190.98 669.18)"/><ellipse cx="117.1" cy="750.65" rx="1.63" ry="1.07" transform="rotate(12 117.1 750.65)"/><ellipse cx="176.03" cy="734.57" rx="1.04" ry="0.79" transform="rotate(84 176.03 734.57)"/><ellipse cx="224.05" cy="712.4" rx="1.87" ry="1.09" transform="rotate(17 224.05 712.4)"/><ellipse cx="137.38" cy="646.35" rx="1.44" ry="0.87" transform="rotate(39 137.38 646.35)"/><ellipse cx="220.8" cy="702.18" rx="1.92" ry="1.03" transform="rotate(22 220.8 702.18)"/><ellipse cx="111.22" cy="741.33" rx="1.11" ry="1" transform="rotate(86 111.22 741.33)"/><ellipse cx="121.94" cy="728.76" rx="1.18" ry="1.13" transform="rotate(47 121.94 728.76)"/><ellipse cx="132" cy="656.46" rx="1.64" ry="0.78" transform="rotate(159 132 656.46)"/><ellipse cx="114.81" cy="715.09" rx="1.47" ry="0.76" transform="rotate(146 114.81 715.09)"/><ellipse cx="153.74" cy="658.75" rx="0.78" ry="0.67" transform="rotate(17 153.74 658.75)"/><ellipse cx="139.23" cy="641.58" rx="0.93" ry="1.11" transform="rotate(161 139.23 641.58)"/><ellipse cx="166.39" cy="648.75" rx="1.12" ry="0.62" transform="rotate(98 166.39 648.75)"/><ellipse cx="237.78" cy="681.71" rx="1.98" ry="0.99" transform="rotate(36 237.78 681.71)"/><ellipse cx="222.72" cy="659.08" rx="1.36" ry="0.93" transform="rotate(103 222.72 659.08)"/><ellipse cx="215.96" cy="754.89" rx="1.12" ry="1.11" transform="rotate(114 215.96 754.89)"/><ellipse cx="154.1" cy="748.53" rx="1.13" ry="1.15" transform="rotate(141 154.1 748.53)"/><ellipse cx="170.03" cy="649.85" rx="0.89" ry="0.5" transform="rotate(139 170.03 649.85)"/><ellipse cx="246.07" cy="744.81" rx="0.87" ry="0.75" transform="rotate(138 246.07 744.81)"/><ellipse cx="214.13" cy="676.72" rx="1.12" ry="0.95" transform="rotate(142 214.13 676.72)"/><ellipse cx="244.89" cy="727.6" rx="0.81" ry="0.44" transform="rotate(169 244.89 727.6)"/><ellipse cx="245.5" cy="757.94" rx="1.6" ry="0.82" transform="rotate(142 245.5 757.94)"/><ellipse cx="178.5" cy="661.83" rx="0.35" ry="0.43" transform="rotate(53 178.5 661.83)"/><ellipse cx="183.55" cy="664.28" rx="0.74" ry="0.62" transform="rotate(77 183.55 664.28)"/><ellipse cx="203.25" cy="747.25" rx="1.04" ry="0.57" transform="rotate(152 203.25 747.25)"/><ellipse cx="98.71" cy="739.22" rx="1.71" ry="1.06" transform="rotate(89 98.71 739.22)"/><ellipse cx="125.68" cy="752.32" rx="0.77" ry="0.58" transform="rotate(140 125.68 752.32)"/><ellipse cx="191.27" cy="656.15" rx="2.13" ry="0.99" transform="rotate(13 191.27 656.15)"/><ellipse cx="185.63" cy="715.68" rx="1.04" ry="0.89" transform="rotate(163 185.63 715.68)"/><ellipse cx="245.3" cy="648.17" rx="1.4" ry="0.93" transform="rotate(134 245.3 648.17)"/><ellipse cx="136" cy="673.28" rx="1.44" ry="1.18" transform="rotate(109 136 673.28)"/><ellipse cx="210.2" cy="652.74" rx="1.4" ry="1.01" transform="rotate(164 210.2 652.74)"/><ellipse cx="122.57" cy="674.72" rx="1.15" ry="0.92" transform="rotate(169 122.57 674.72)"/><ellipse cx="244.96" cy="648.29" rx="0.82" ry="0.93" transform="rotate(110 244.96 648.29)"/><ellipse cx="178.02" cy="662.59" rx="0.49" ry="0.61" transform="rotate(68 178.02 662.59)"/><ellipse cx="205.11" cy="682.9" rx="1.29" ry="0.72" transform="rotate(19 205.11 682.9)"/><ellipse cx="208.97" cy="675.35" rx="1.45" ry="0.8" transform="rotate(79 208.97 675.35)"/><ellipse cx="134.22" cy="643.21" rx="0.67" ry="0.44" transform="rotate(97 134.22 643.21)"/><ellipse cx="121.21" cy="735.45" rx="1.83" ry="0.91" transform="rotate(3 121.21 735.45)"/><ellipse cx="114.33" cy="736.64" rx="0.49" ry="0.51" transform="rotate(102 114.33 736.64)"/><ellipse cx="136.73" cy="666.92" rx="1.84" ry="0.98" transform="rotate(34 136.73 666.92)"/><ellipse cx="121.27" cy="743.94" rx="1.69" ry="1.03" transform="rotate(107 121.27 743.94)"/><ellipse cx="232.57" cy="698.45" rx="1.23" ry="0.86" transform="rotate(157 232.57 698.45)"/><ellipse cx="166.14" cy="737.48" rx="0.92" ry="0.83" transform="rotate(35 166.14 737.48)"/><ellipse cx="156.74" cy="711.9" rx="1.45" ry="0.77" transform="rotate(70 156.74 711.9)"/><ellipse cx="186.79" cy="712.93" rx="1.15" ry="0.55" transform="rotate(6 186.79 712.93)"/><ellipse cx="159.09" cy="688.99" rx="0.83" ry="0.86" transform="rotate(164 159.09 688.99)"/><ellipse cx="103.42" cy="679.2" rx="1.78" ry="1.04" transform="rotate(111 103.42 679.2)"/><ellipse cx="154.58" cy="684.68" rx="1.28" ry="0.97" transform="rotate(14 154.58 684.68)"/><ellipse cx="159.74" cy="712.08" rx="1.05" ry="0.64" transform="rotate(120 159.74 712.08)"/><ellipse cx="134.24" cy="696.71" rx="1.13" ry="0.86" transform="rotate(109 134.24 696.71)"/><ellipse cx="199.47" cy="697.64" rx="0.95" ry="0.66" transform="rotate(124 199.47 697.64)"/><ellipse cx="100.08" cy="747.61" rx="1.31" ry="0.89" transform="rotate(163 100.08 747.61)"/><ellipse cx="107.09" cy="644.51" rx="1.93" ry="0.99" transform="rotate(134 107.09 644.51)"/><ellipse cx="150.78" cy="684.89" rx="1.66" ry="1.13" transform="rotate(18 150.78 684.89)"/><ellipse cx="158.98" cy="713.35" rx="0.82" ry="0.42" transform="rotate(59 158.98 713.35)"/><ellipse cx="189.81" cy="705.78" rx="1.76" ry="1.06" transform="rotate(67 189.81 705.78)"/><ellipse cx="222.59" cy="687.74" rx="0.78" ry="0.97" transform="rotate(88 222.59 687.74)"/><ellipse cx="160.77" cy="662.4" rx="1.4" ry="1.08" transform="rotate(4 160.77 662.4)"/><ellipse cx="179.33" cy="665.95" rx="1.99" ry="1.02" transform="rotate(121 179.33 665.95)"/><ellipse cx="194.6" cy="708.85" rx="1.66" ry="0.79" transform="rotate(120 194.6 708.85)"/><ellipse cx="128.53" cy="686.31" rx="0.56" ry="0.52" transform="rotate(57 128.53 686.31)"/><ellipse cx="227.88" cy="673.73" rx="0.84" ry="0.58" transform="rotate(38 227.88 673.73)"/><ellipse cx="153.64" cy="732.08" rx="1.08" ry="0.91" transform="rotate(48 153.64 732.08)"/><ellipse cx="209.27" cy="749.74" rx="0.48" ry="0.44" transform="rotate(102 209.27 749.74)"/><ellipse cx="244.19" cy="704.82" rx="1.98" ry="1.13" transform="rotate(163 244.19 704.82)"/><ellipse cx="241.5" cy="751.9" rx="1.96" ry="1.15" transform="rotate(20 241.5 751.9)"/><ellipse cx="116.05" cy="714.22" rx="1.56" ry="1.03" transform="rotate(25 116.05 714.22)"/><ellipse cx="175.74" cy="709.7" rx="2.4" ry="1.18" transform="rotate(47 175.74 709.7)"/><ellipse cx="164.17" cy="733.46" rx="0.83" ry="1.02" transform="rotate(83 164.17 733.46)"/><ellipse cx="130.28" cy="709.48" rx="0.42" ry="0.52" transform="rotate(74 130.28 709.48)"/><ellipse cx="114" cy="702.83" rx="0.62" ry="0.57" transform="rotate(105 114 702.83)"/><ellipse cx="181.52" cy="706.57" rx="2.1" ry="1" transform="rotate(22 181.52 706.57)"/><ellipse cx="163.05" cy="745.72" rx="2.24" ry="1.09" transform="rotate(35 163.05 745.72)"/><ellipse cx="198.66" cy="665.33" rx="1.15" ry="0.96" transform="rotate(76 198.66 665.33)"/><ellipse cx="202.45" cy="720.46" rx="1.29" ry="1.18" transform="rotate(76 202.45 720.46)"/><ellipse cx="133.09" cy="693.14" rx="1.72" ry="1" transform="rotate(80 133.09 693.14)"/><ellipse cx="152.48" cy="684.3" rx="1.15" ry="0.75" transform="rotate(73 152.48 684.3)"/><ellipse cx="215.23" cy="714" rx="1.07" ry="0.92" transform="rotate(50 215.23 714)"/><ellipse cx="189.41" cy="701.56" rx="0.73" ry="0.9" transform="rotate(16 189.41 701.56)"/><ellipse cx="131.72" cy="672.03" rx="1.9" ry="0.88" transform="rotate(139 131.72 672.03)"/><ellipse cx="143.88" cy="757.52" rx="0.92" ry="1.07" transform="rotate(99 143.88 757.52)"/><ellipse cx="116.89" cy="680.3" rx="1.7" ry="1.1" transform="rotate(0 116.89 680.3)"/><ellipse cx="235.34" cy="673.82" rx="1.01" ry="1.02" transform="rotate(161 235.34 673.82)"/><ellipse cx="146.25" cy="730.52" rx="1.06" ry="0.82" transform="rotate(30 146.25 730.52)"/><ellipse cx="184.72" cy="750.81" rx="0.99" ry="0.59" transform="rotate(53 184.72 750.81)"/><ellipse cx="129.57" cy="693.09" rx="1.86" ry="1.12" transform="rotate(80 129.57 693.09)"/><ellipse cx="234.1" cy="752.34" rx="1.18" ry="0.86" transform="rotate(144 234.1 752.34)"/><ellipse cx="209.53" cy="647.92" rx="0.87" ry="0.55" transform="rotate(155 209.53 647.92)"/><ellipse cx="133.42" cy="755.49" rx="0.73" ry="0.63" transform="rotate(155 133.42 755.49)"/><ellipse cx="151.7" cy="675.67" rx="1.05" ry="1.02" transform="rotate(32 151.7 675.67)"/><ellipse cx="184.15" cy="708.26" rx="0.41" ry="0.44" transform="rotate(141 184.15 708.26)"/><ellipse cx="104.24" cy="686.17" rx="1.1" ry="0.72" transform="rotate(61 104.24 686.17)"/><ellipse cx="160.48" cy="712.37" rx="1.52" ry="0.74" transform="rotate(114 160.48 712.37)"/><ellipse cx="155.21" cy="708.65" rx="1.01" ry="0.88" transform="rotate(23 155.21 708.65)"/><ellipse cx="227.28" cy="747.85" rx="1.25" ry="0.93" transform="rotate(157 227.28 747.85)"/><ellipse cx="174.73" cy="681.26" rx="1.57" ry="0.89" transform="rotate(25 174.73 681.26)"/><ellipse cx="203.79" cy="653.29" rx="0.82" ry="0.55" transform="rotate(62 203.79 653.29)"/><ellipse cx="215.09" cy="642.06" rx="1.8" ry="0.91" transform="rotate(8 215.09 642.06)"/><ellipse cx="156.97" cy="675.33" rx="1.42" ry="0.75" transform="rotate(156 156.97 675.33)"/><ellipse cx="115.86" cy="699.09" rx="0.59" ry="0.4" transform="rotate(164 115.86 699.09)"/><ellipse cx="197.54" cy="760.39" rx="0.6" ry="0.6" transform="rotate(96 197.54 760.39)"/><ellipse cx="160.19" cy="708.46" rx="1.18" ry="0.66" transform="rotate(55 160.19 708.46)"/><ellipse cx="213.06" cy="655.25" rx="1.42" ry="1.04" transform="rotate(174 213.06 655.25)"/><ellipse cx="105.49" cy="676.9" rx="1.01" ry="0.85" transform="rotate(137 105.49 676.9)"/><ellipse cx="207.79" cy="709.49" rx="1.09" ry="0.58" transform="rotate(152 207.79 709.49)"/><ellipse cx="152.95" cy="678" rx="1.22" ry="0.72" transform="rotate(80 152.95 678)"/><ellipse cx="165.27" cy="683.2" rx="0.68" ry="0.49" transform="rotate(68 165.27 683.2)"/><ellipse cx="110.55" cy="683.34" rx="2.31" ry="1.06" transform="rotate(10 110.55 683.34)"/><ellipse cx="109.95" cy="751.73" rx="0.43" ry="0.53" transform="rotate(129 109.95 751.73)"/><ellipse cx="149.29" cy="692.13" rx="0.41" ry="0.5" transform="rotate(29 149.29 692.13)"/><ellipse cx="139.39" cy="743.61" rx="1.28" ry="1.15" transform="rotate(26 139.39 743.61)"/><ellipse cx="186.08" cy="724.29" rx="0.74" ry="0.41" transform="rotate(166 186.08 724.29)"/><ellipse cx="214.82" cy="649.95" rx="0.55" ry="0.42" transform="rotate(168 214.82 649.95)"/><ellipse cx="121.87" cy="751.58" rx="0.76" ry="0.76" transform="rotate(156 121.87 751.58)"/><ellipse cx="213.5" cy="674.74" rx="1.14" ry="0.85" transform="rotate(76 213.5 674.74)"/><ellipse cx="215.95" cy="697.71" rx="1.72" ry="0.91" transform="rotate(161 215.95 697.71)"/><ellipse cx="186.5" cy="756.49" rx="0.94" ry="1.18" transform="rotate(76 186.5 756.49)"/><ellipse cx="142.01" cy="641.55" rx="0.63" ry="0.64" transform="rotate(0 142.01 641.55)"/><ellipse cx="183.2" cy="730.18" rx="1.23" ry="0.69" transform="rotate(140 183.2 730.18)"/><ellipse cx="128.32" cy="682.97" rx="0.91" ry="0.73" transform="rotate(28 128.32 682.97)"/><ellipse cx="126.98" cy="738.85" rx="1.07" ry="0.77" transform="rotate(84 126.98 738.85)"/><ellipse cx="152.49" cy="721.65" rx="0.83" ry="0.41" transform="rotate(180 152.49 721.65)"/><ellipse cx="116.58" cy="644" rx="1.83" ry="0.94" transform="rotate(81 116.58 644)"/><ellipse cx="109.52" cy="755.9" rx="1.22" ry="1.2" transform="rotate(70 109.52 755.9)"/><ellipse cx="208.2" cy="671.12" rx="0.92" ry="0.6" transform="rotate(69 208.2 671.12)"/><ellipse cx="241.66" cy="759.09" rx="2.15" ry="1.02" transform="rotate(22 241.66 759.09)"/><ellipse cx="134.36" cy="655.39" rx="1.27" ry="0.82" transform="rotate(98 134.36 655.39)"/><ellipse cx="147.96" cy="704.17" rx="0.54" ry="0.46" transform="rotate(10 147.96 704.17)"/><ellipse cx="131.12" cy="745.84" rx="1.56" ry="1.17" transform="rotate(161 131.12 745.84)"/><ellipse cx="148.46" cy="662.6" rx="0.55" ry="0.57" transform="rotate(42 148.46 662.6)"/><ellipse cx="202.65" cy="664.48" rx="0.69" ry="0.47" transform="rotate(149 202.65 664.48)"/><ellipse cx="135.03" cy="719.9" rx="0.83" ry="0.41" transform="rotate(142 135.03 719.9)"/><ellipse cx="197.94" cy="759.98" rx="0.79" ry="0.43" transform="rotate(30 197.94 759.98)"/><ellipse cx="234.37" cy="681.51" rx="1.68" ry="0.84" transform="rotate(120 234.37 681.51)"/><ellipse cx="168.28" cy="671.21" rx="1" ry="0.74" transform="rotate(120 168.28 671.21)"/><ellipse cx="240.78" cy="735.76" rx="0.36" ry="0.41" transform="rotate(30 240.78 735.76)"/><ellipse cx="220.69" cy="649.81" rx="1.28" ry="1.18" transform="rotate(49 220.69 649.81)"/><ellipse cx="172.02" cy="671.35" rx="1.94" ry="1.19" transform="rotate(130 172.02 671.35)"/><ellipse cx="211.45" cy="709.96" rx="1.77" ry="0.92" transform="rotate(168 211.45 709.96)"/><ellipse cx="151.86" cy="746.45" rx="0.75" ry="0.9" transform="rotate(85 151.86 746.45)"/><ellipse cx="192.85" cy="669.55" rx="0.52" ry="0.55" transform="rotate(143 192.85 669.55)"/><ellipse cx="206.83" cy="750.22" rx="1.25" ry="0.61" transform="rotate(58 206.83 750.22)"/><ellipse cx="187.3" cy="744.9" rx="0.62" ry="0.66" transform="rotate(110 187.3 744.9)"/><ellipse cx="104.43" cy="707.26" rx="0.71" ry="0.47" transform="rotate(30 104.43 707.26)"/><ellipse cx="150.79" cy="653.67" rx="1.37" ry="0.7" transform="rotate(102 150.79 653.67)"/><ellipse cx="178.38" cy="676.49" rx="1.41" ry="0.76" transform="rotate(40 178.38 676.49)"/><ellipse cx="102.17" cy="642.72" rx="1.13" ry="1.13" transform="rotate(77 102.17 642.72)"/><ellipse cx="193.01" cy="711.27" rx="1.24" ry="0.91" transform="rotate(88 193.01 711.27)"/><ellipse cx="241.62" cy="675.02" rx="0.83" ry="0.59" transform="rotate(95 241.62 675.02)"/><ellipse cx="130.65" cy="724.42" rx="1.86" ry="0.99" transform="rotate(70 130.65 724.42)"/><ellipse cx="231.16" cy="655.61" rx="1.46" ry="0.71" transform="rotate(157 231.16 655.61)"/><ellipse cx="241.89" cy="660.88" rx="1.56" ry="1.14" transform="rotate(44 241.89 660.88)"/><ellipse cx="147.65" cy="757.54" rx="0.82" ry="0.41" transform="rotate(178 147.65 757.54)"/><ellipse cx="130.44" cy="740.08" rx="0.7" ry="0.63" transform="rotate(0 130.44 740.08)"/><ellipse cx="247.39" cy="741.56" rx="1.05" ry="0.74" transform="rotate(108 247.39 741.56)"/><ellipse cx="181.65" cy="699.66" rx="1.17" ry="0.56" transform="rotate(137 181.65 699.66)"/><ellipse cx="102.29" cy="659.18" rx="1.76" ry="0.89" transform="rotate(175 102.29 659.18)"/><ellipse cx="129.97" cy="748.91" rx="1.21" ry="0.92" transform="rotate(70 129.97 748.91)"/><ellipse cx="132.92" cy="759.17" rx="1.21" ry="1.2" transform="rotate(21 132.92 759.17)"/><ellipse cx="127.83" cy="646.73" rx="1.57" ry="0.72" transform="rotate(52 127.83 646.73)"/><ellipse cx="125.46" cy="743.36" rx="1.22" ry="0.64" transform="rotate(138 125.46 743.36)"/><ellipse cx="232.29" cy="737.17" rx="1.37" ry="1.17" transform="rotate(55 232.29 737.17)"/><ellipse cx="172.35" cy="742.99" rx="0.75" ry="0.81" transform="rotate(156 172.35 742.99)"/><ellipse cx="212.96" cy="647.31" rx="1.25" ry="1.05" transform="rotate(66 212.96 647.31)"/><ellipse cx="179.94" cy="728.59" rx="0.94" ry="0.56" transform="rotate(113 179.94 728.59)"/><ellipse cx="133.34" cy="703.17" rx="1.02" ry="1.19" transform="rotate(155 133.34 703.17)"/><ellipse cx="229.65" cy="693.3" rx="1.13" ry="0.94" transform="rotate(51 229.65 693.3)"/><ellipse cx="237.83" cy="660.76" rx="1.02" ry="0.64" transform="rotate(140 237.83 660.76)"/><ellipse cx="174.53" cy="696.33" rx="1.97" ry="1.18" transform="rotate(64 174.53 696.33)"/><ellipse cx="206" cy="681.47" rx="2.03" ry="0.97" transform="rotate(34 206 681.47)"/><ellipse cx="225.03" cy="675.18" rx="1.04" ry="1.08" transform="rotate(18 225.03 675.18)"/><ellipse cx="198.2" cy="758.22" rx="1.46" ry="0.71" transform="rotate(123 198.2 758.22)"/><ellipse cx="247.5" cy="730.71" rx="1.91" ry="1.01" transform="rotate(72 247.5 730.71)"/><ellipse cx="200.89" cy="721.84" rx="1.96" ry="0.92" transform="rotate(174 200.89 721.84)"/><ellipse cx="207.15" cy="739.38" rx="0.73" ry="0.41" transform="rotate(113 207.15 739.38)"/><ellipse cx="141.78" cy="701.63" rx="1.35" ry="1.09" transform="rotate(134 141.78 701.63)"/><ellipse cx="140.25" cy="688.5" rx="0.7" ry="0.41" transform="rotate(157 140.25 688.5)"/><ellipse cx="132.17" cy="643.96" rx="0.91" ry="1.12" transform="rotate(49 132.17 643.96)"/><ellipse cx="126.03" cy="657.01" rx="1.23" ry="0.61" transform="rotate(167 126.03 657.01)"/><ellipse cx="191" cy="642.45" rx="0.67" ry="0.8" transform="rotate(144 191 642.45)"/><ellipse cx="228.8" cy="712.31" rx="1.17" ry="1.14" transform="rotate(29 228.8 712.31)"/><ellipse cx="104.78" cy="735.29" rx="1.13" ry="0.71" transform="rotate(141 104.78 735.29)"/><ellipse cx="126.11" cy="745.23" rx="1.86" ry="0.88" transform="rotate(159 126.11 745.23)"/><ellipse cx="229.06" cy="701.59" rx="0.68" ry="0.56" transform="rotate(176 229.06 701.59)"/><ellipse cx="137.59" cy="659.06" rx="2.05" ry="1.11" transform="rotate(95 137.59 659.06)"/><ellipse cx="233.64" cy="677.42" rx="0.86" ry="0.8" transform="rotate(31 233.64 677.42)"/><ellipse cx="234.16" cy="726.88" rx="1.27" ry="0.67" transform="rotate(100 234.16 726.88)"/><ellipse cx="171.88" cy="687.13" rx="1.63" ry="1.15" transform="rotate(4 171.88 687.13)"/><ellipse cx="178.09" cy="723.96" rx="1.32" ry="0.92" transform="rotate(15 178.09 723.96)"/><ellipse cx="153.47" cy="657.39" rx="1.36" ry="0.93" transform="rotate(114 153.47 657.39)"/><ellipse cx="170.44" cy="695.48" rx="1.85" ry="0.97" transform="rotate(152 170.44 695.48)"/><ellipse cx="109.31" cy="697.6" rx="1.24" ry="0.95" transform="rotate(108 109.31 697.6)"/><ellipse cx="227.13" cy="709.3" rx="2.34" ry="1.11" transform="rotate(48 227.13 709.3)"/><ellipse cx="221.5" cy="658.86" rx="1.74" ry="0.97" transform="rotate(167 221.5 658.86)"/><ellipse cx="211.87" cy="719.81" rx="1.66" ry="0.93" transform="rotate(159 211.87 719.81)"/><ellipse cx="168.4" cy="667.24" rx="1.59" ry="1.09" transform="rotate(55 168.4 667.24)"/><ellipse cx="121.39" cy="642.77" rx="0.75" ry="0.64" transform="rotate(84 121.39 642.77)"/><ellipse cx="98.55" cy="686.76" rx="1.09" ry="0.89" transform="rotate(89 98.55 686.76)"/><ellipse cx="222.2" cy="649.88" rx="1.35" ry="0.64" transform="rotate(20 222.2 649.88)"/><ellipse cx="119.77" cy="667.19" rx="1.35" ry="0.98" transform="rotate(53 119.77 667.19)"/><ellipse cx="126.38" cy="647.91" rx="0.8" ry="0.97" transform="rotate(139 126.38 647.91)"/><ellipse cx="126.91" cy="697.17" rx="0.52" ry="0.4" transform="rotate(42 126.91 697.17)"/><ellipse cx="107.72" cy="695.4" rx="0.46" ry="0.45" transform="rotate(99 107.72 695.4)"/><ellipse cx="100.94" cy="742.13" rx="1.46" ry="0.72" transform="rotate(23 100.94 742.13)"/><ellipse cx="182.78" cy="693.3" rx="0.44" ry="0.48" transform="rotate(172 182.78 693.3)"/><ellipse cx="163.97" cy="760.94" rx="0.96" ry="0.92" transform="rotate(135 163.97 760.94)"/><ellipse cx="154.85" cy="747.66" rx="1.92" ry="0.98" transform="rotate(43 154.85 747.66)"/></g>
<g fill="#3a3a20" opacity="0.5" filter="url(#sblur)"><ellipse cx="165.43" cy="642.92" rx="0.4" ry="0.46" transform="rotate(105 165.43 642.92)"/><ellipse cx="109.07" cy="697.24" rx="1.06" ry="0.8" transform="rotate(90 109.07 697.24)"/><ellipse cx="123.22" cy="745.68" rx="0.87" ry="0.65" transform="rotate(87 123.22 745.68)"/><ellipse cx="220.22" cy="677.71" rx="1.35" ry="0.73" transform="rotate(22 220.22 677.71)"/><ellipse cx="188.18" cy="652.96" rx="1.12" ry="0.79" transform="rotate(58 188.18 652.96)"/><ellipse cx="155.97" cy="733.69" rx="0.74" ry="0.46" transform="rotate(110 155.97 733.69)"/><ellipse cx="124.05" cy="688.2" rx="0.76" ry="0.69" transform="rotate(7 124.05 688.2)"/><ellipse cx="246.88" cy="645.95" rx="0.8" ry="0.45" transform="rotate(81 246.88 645.95)"/><ellipse cx="228.68" cy="727.15" rx="0.72" ry="0.72" transform="rotate(131 228.68 727.15)"/><ellipse cx="218.1" cy="718.9" rx="1.34" ry="0.78" transform="rotate(26 218.1 718.9)"/><ellipse cx="142.67" cy="641.75" rx="0.78" ry="0.73" transform="rotate(43 142.67 641.75)"/><ellipse cx="186.84" cy="641.81" rx="1.29" ry="0.7" transform="rotate(127 186.84 641.81)"/><ellipse cx="148.41" cy="752.44" rx="1.69" ry="0.77" transform="rotate(63 148.41 752.44)"/><ellipse cx="132.52" cy="743.88" rx="1.27" ry="0.63" transform="rotate(136 132.52 743.88)"/><ellipse cx="133.39" cy="683.01" rx="0.83" ry="0.41" transform="rotate(31 133.39 683.01)"/><ellipse cx="138.71" cy="729.44" rx="1.02" ry="0.54" transform="rotate(103 138.71 729.44)"/><ellipse cx="223.36" cy="723.92" rx="1.35" ry="0.85" transform="rotate(7 223.36 723.92)"/><ellipse cx="191.45" cy="663.68" rx="0.98" ry="0.82" transform="rotate(60 191.45 663.68)"/><ellipse cx="177.36" cy="655.1" rx="1.12" ry="0.61" transform="rotate(128 177.36 655.1)"/><ellipse cx="127.6" cy="649.81" rx="0.48" ry="0.41" transform="rotate(57 127.6 649.81)"/><ellipse cx="214.32" cy="700.17" rx="1.73" ry="0.79" transform="rotate(39 214.32 700.17)"/><ellipse cx="246.7" cy="725.14" rx="1.43" ry="0.67" transform="rotate(5 246.7 725.14)"/><ellipse cx="196.69" cy="681.86" rx="0.75" ry="0.48" transform="rotate(122 196.69 681.86)"/><ellipse cx="201.4" cy="728.95" rx="1.93" ry="0.88" transform="rotate(119 201.4 728.95)"/><ellipse cx="134.58" cy="726.76" rx="0.92" ry="0.68" transform="rotate(130 134.58 726.76)"/></g>
</g>
<path d="M222.7 754.4h17" stroke="#e8f0e0" stroke-width="0.6" opacity="0.8"/>
<rect x="228.2" y="755.1" width="6" height="1.8" fill="#e8f0e0" opacity="0.7"/>
</g>
<clipPath id="cl7"><rect x="262.8" y="641.4" width="149.4" height="120"/></clipPath>
<g clip-path="url(#cl7)"><g filter="url(#mblur)">
<rect x="259.8" y="638.4" width="155.4" height="126" fill="#5a4622"/>
<g fill="#8a7a38" opacity="0.5" filter="url(#sblur)"><ellipse cx="311.18" cy="659.5" rx="2.23" ry="2.48" transform="rotate(137 311.18 659.5)"/><ellipse cx="276.86" cy="711.33" rx="3.15" ry="2.86" transform="rotate(22 276.86 711.33)"/><ellipse cx="327.59" cy="649.78" rx="2.28" ry="1.64" transform="rotate(144 327.59 649.78)"/><ellipse cx="281.3" cy="668.19" rx="5.19" ry="2.44" transform="rotate(147 281.3 668.19)"/><ellipse cx="350.28" cy="647.35" rx="2.89" ry="1.83" transform="rotate(34 350.28 647.35)"/><ellipse cx="306.07" cy="658.71" rx="2.07" ry="1.68" transform="rotate(174 306.07 658.71)"/><ellipse cx="289.8" cy="711.19" rx="3.25" ry="2.46" transform="rotate(140 289.8 711.19)"/><ellipse cx="369.19" cy="709.12" rx="3.63" ry="2.43" transform="rotate(136 369.19 709.12)"/><ellipse cx="326.68" cy="679.1" rx="3.41" ry="2.38" transform="rotate(76 326.68 679.1)"/><ellipse cx="299.91" cy="662.97" rx="2.44" ry="2.67" transform="rotate(76 299.91 662.97)"/><ellipse cx="341.26" cy="746.42" rx="3.12" ry="2.59" transform="rotate(18 341.26 746.42)"/><ellipse cx="280.44" cy="691.57" rx="2.67" ry="2.64" transform="rotate(125 280.44 691.57)"/><ellipse cx="325.8" cy="756.84" rx="2.56" ry="1.62" transform="rotate(80 325.8 756.84)"/><ellipse cx="313.61" cy="683.42" rx="4.3" ry="2.25" transform="rotate(17 313.61 683.42)"/><ellipse cx="388.29" cy="754.76" rx="3.82" ry="2.21" transform="rotate(15 388.29 754.76)"/><ellipse cx="372.04" cy="678.55" rx="4.15" ry="2.37" transform="rotate(114 372.04 678.55)"/><ellipse cx="305.32" cy="687.69" rx="2.08" ry="2.5" transform="rotate(118 305.32 687.69)"/><ellipse cx="315.91" cy="714.71" rx="2.48" ry="2.24" transform="rotate(73 315.91 714.71)"/><ellipse cx="282.12" cy="671.11" rx="4.21" ry="2.09" transform="rotate(20 282.12 671.11)"/><ellipse cx="287.66" cy="689.6" rx="1.9" ry="1.92" transform="rotate(110 287.66 689.6)"/><ellipse cx="391.88" cy="674.81" rx="2.76" ry="2.12" transform="rotate(97 391.88 674.81)"/><ellipse cx="405.89" cy="659.51" rx="1.98" ry="1.76" transform="rotate(59 405.89 659.51)"/><ellipse cx="264.6" cy="741.13" rx="2.12" ry="1.77" transform="rotate(37 264.6 741.13)"/><ellipse cx="325.39" cy="685.71" rx="5.01" ry="2.35" transform="rotate(176 325.39 685.71)"/><ellipse cx="391.16" cy="755.43" rx="4.56" ry="2.48" transform="rotate(116 391.16 755.43)"/><ellipse cx="397.19" cy="735" rx="5.39" ry="2.81" transform="rotate(100 397.19 735)"/><ellipse cx="322.27" cy="688.69" rx="3.02" ry="2.22" transform="rotate(48 322.27 688.69)"/><ellipse cx="272.86" cy="666.45" rx="2.22" ry="1.74" transform="rotate(13 272.86 666.45)"/><ellipse cx="278.1" cy="709.41" rx="4.91" ry="2.3" transform="rotate(157 278.1 709.41)"/><ellipse cx="266.61" cy="746.32" rx="2.44" ry="2.42" transform="rotate(64 266.61 746.32)"/><ellipse cx="405.55" cy="713.67" rx="2.13" ry="2.21" transform="rotate(124 405.55 713.67)"/><ellipse cx="411.17" cy="697.32" rx="2.05" ry="2.23" transform="rotate(26 411.17 697.32)"/><ellipse cx="374.8" cy="730.24" rx="3.92" ry="2.22" transform="rotate(132 374.8 730.24)"/><ellipse cx="266.25" cy="755.52" rx="2.3" ry="2.29" transform="rotate(139 266.25 755.52)"/><ellipse cx="399.37" cy="732.38" rx="3.31" ry="1.95" transform="rotate(23 399.37 732.38)"/><ellipse cx="366.81" cy="672.73" rx="2.12" ry="2.05" transform="rotate(57 366.81 672.73)"/><ellipse cx="342.37" cy="734.89" rx="2.22" ry="1.99" transform="rotate(49 342.37 734.89)"/><ellipse cx="383.23" cy="739.6" rx="2.92" ry="2.61" transform="rotate(132 383.23 739.6)"/><ellipse cx="336.42" cy="729.12" rx="5.69" ry="2.98" transform="rotate(120 336.42 729.12)"/><ellipse cx="301.52" cy="724.5" rx="4.19" ry="2.93" transform="rotate(89 301.52 724.5)"/><ellipse cx="405.48" cy="685.16" rx="2.05" ry="1.83" transform="rotate(50 405.48 685.16)"/><ellipse cx="313.26" cy="699.32" rx="4.93" ry="2.98" transform="rotate(0 313.26 699.32)"/><ellipse cx="334.43" cy="719.76" rx="2.48" ry="2.7" transform="rotate(169 334.43 719.76)"/><ellipse cx="280.71" cy="688.02" rx="2.77" ry="2.57" transform="rotate(45 280.71 688.02)"/><ellipse cx="327.63" cy="717.7" rx="3.46" ry="1.63" transform="rotate(101 327.63 717.7)"/><ellipse cx="332" cy="730.6" rx="1.66" ry="1.63" transform="rotate(32 332 730.6)"/><ellipse cx="266.92" cy="712.3" rx="3.78" ry="2.2" transform="rotate(156 266.92 712.3)"/><ellipse cx="386.28" cy="759.04" rx="3.21" ry="2.49" transform="rotate(140 386.28 759.04)"/><ellipse cx="344.71" cy="643.97" rx="4.9" ry="2.7" transform="rotate(26 344.71 643.97)"/><ellipse cx="341.47" cy="753.43" rx="4.35" ry="2.15" transform="rotate(54 341.47 753.43)"/><ellipse cx="266.98" cy="666.93" rx="4.21" ry="2.25" transform="rotate(83 266.98 666.93)"/><ellipse cx="301.55" cy="691.68" rx="3.52" ry="1.7" transform="rotate(90 301.55 691.68)"/><ellipse cx="396.92" cy="720.9" rx="4.15" ry="2.72" transform="rotate(128 396.92 720.9)"/><ellipse cx="282.34" cy="659.62" rx="4.58" ry="2.27" transform="rotate(46 282.34 659.62)"/><ellipse cx="353.72" cy="734.52" rx="1.72" ry="1.72" transform="rotate(158 353.72 734.52)"/><ellipse cx="371.14" cy="708.18" rx="3.03" ry="1.99" transform="rotate(142 371.14 708.18)"/><ellipse cx="334.88" cy="734.58" rx="2.48" ry="2.82" transform="rotate(48 334.88 734.58)"/><ellipse cx="304.17" cy="734.07" rx="3.59" ry="2.26" transform="rotate(16 304.17 734.07)"/><ellipse cx="329.02" cy="714.9" rx="3.43" ry="2.26" transform="rotate(177 329.02 714.9)"/><ellipse cx="304.21" cy="702.38" rx="4.1" ry="2.71" transform="rotate(63 304.21 702.38)"/></g>
<g fill="#e05a30" opacity="0.85" filter="url(#sblur)"><ellipse cx="367.26" cy="746.58" rx="2.68" ry="2.31" transform="rotate(143 367.26 746.58)"/><ellipse cx="396.18" cy="665.71" rx="2.1" ry="1.52" transform="rotate(100 396.18 665.71)"/><ellipse cx="328.85" cy="650.11" rx="1.07" ry="1.19" transform="rotate(171 328.85 650.11)"/><ellipse cx="308.04" cy="656.08" rx="4.32" ry="2.04" transform="rotate(164 308.04 656.08)"/><ellipse cx="361.44" cy="658.56" rx="4.77" ry="2.21" transform="rotate(56 361.44 658.56)"/><ellipse cx="374.35" cy="652.7" rx="2.28" ry="2.22" transform="rotate(170 374.35 652.7)"/><ellipse cx="387.17" cy="660.78" rx="2.27" ry="1.49" transform="rotate(86 387.17 660.78)"/><ellipse cx="325.74" cy="684.19" rx="1.24" ry="0.95" transform="rotate(86 325.74 684.19)"/><ellipse cx="345.58" cy="694.25" rx="1.05" ry="0.83" transform="rotate(159 345.58 694.25)"/><ellipse cx="306.94" cy="756.69" rx="2.05" ry="0.98" transform="rotate(58 306.94 756.69)"/><ellipse cx="407.97" cy="653.97" rx="1.05" ry="1.22" transform="rotate(46 407.97 653.97)"/><ellipse cx="303.2" cy="656.95" rx="3.06" ry="1.48" transform="rotate(66 303.2 656.95)"/><ellipse cx="323.45" cy="705.79" rx="2.42" ry="1.62" transform="rotate(83 323.45 705.79)"/><ellipse cx="276.17" cy="648.3" rx="2.65" ry="1.9" transform="rotate(18 276.17 648.3)"/><ellipse cx="302.98" cy="643.42" rx="1.1" ry="0.94" transform="rotate(155 302.98 643.42)"/><ellipse cx="390.72" cy="649.39" rx="3.13" ry="2.18" transform="rotate(86 390.72 649.39)"/><ellipse cx="411.35" cy="691.53" rx="3.78" ry="2.26" transform="rotate(11 411.35 691.53)"/><ellipse cx="341.52" cy="670.01" rx="1" ry="0.98" transform="rotate(12 341.52 670.01)"/><ellipse cx="289.86" cy="753.27" rx="2.79" ry="1.81" transform="rotate(52 289.86 753.27)"/><ellipse cx="306.12" cy="701.41" rx="1.39" ry="1.08" transform="rotate(4 306.12 701.41)"/><ellipse cx="411.38" cy="645.83" rx="1.25" ry="0.83" transform="rotate(48 411.38 645.83)"/><ellipse cx="339.63" cy="670.88" rx="2.61" ry="1.52" transform="rotate(166 339.63 670.88)"/><ellipse cx="327.37" cy="700.8" rx="2.88" ry="2.14" transform="rotate(129 327.37 700.8)"/><ellipse cx="308.78" cy="667.22" rx="1.26" ry="1.17" transform="rotate(180 308.78 667.22)"/><ellipse cx="371.69" cy="658.17" rx="5.18" ry="2.38" transform="rotate(33 371.69 658.17)"/><ellipse cx="264.93" cy="716.45" rx="3.1" ry="2.21" transform="rotate(14 264.93 716.45)"/><ellipse cx="275.42" cy="742.35" rx="3.81" ry="2.19" transform="rotate(72 275.42 742.35)"/><ellipse cx="352.26" cy="724.52" rx="0.92" ry="0.87" transform="rotate(68 352.26 724.52)"/><ellipse cx="329.41" cy="672.99" rx="5.06" ry="2.34" transform="rotate(140 329.41 672.99)"/><ellipse cx="311.14" cy="645.53" rx="2.44" ry="2.21" transform="rotate(46 311.14 645.53)"/><ellipse cx="262.96" cy="687.2" rx="2.35" ry="1.56" transform="rotate(51 262.96 687.2)"/><ellipse cx="299.88" cy="734.55" rx="1.84" ry="0.95" transform="rotate(36 299.88 734.55)"/><ellipse cx="322.49" cy="646.4" rx="1.02" ry="0.84" transform="rotate(59 322.49 646.4)"/><ellipse cx="275.42" cy="756.32" rx="2.2" ry="2.17" transform="rotate(152 275.42 756.32)"/><ellipse cx="320.99" cy="680.54" rx="2.4" ry="2.38" transform="rotate(158 320.99 680.54)"/><ellipse cx="358.9" cy="646.65" rx="4.38" ry="2.14" transform="rotate(160 358.9 646.65)"/><ellipse cx="326.93" cy="725.53" rx="3.34" ry="1.61" transform="rotate(129 326.93 725.53)"/><ellipse cx="347.73" cy="738.95" rx="1.45" ry="0.83" transform="rotate(174 347.73 738.95)"/><ellipse cx="405.64" cy="718.55" rx="0.8" ry="0.94" transform="rotate(163 405.64 718.55)"/><ellipse cx="316.69" cy="653.99" rx="3.38" ry="2.14" transform="rotate(160 316.69 653.99)"/><ellipse cx="265.61" cy="705.17" rx="1.39" ry="1.19" transform="rotate(116 265.61 705.17)"/><ellipse cx="381.98" cy="731.19" rx="2.49" ry="1.6" transform="rotate(168 381.98 731.19)"/><ellipse cx="341.38" cy="730.89" rx="3.01" ry="1.56" transform="rotate(67 341.38 730.89)"/><ellipse cx="297.88" cy="732.17" rx="2" ry="1.17" transform="rotate(117 297.88 732.17)"/><ellipse cx="336.6" cy="687.31" rx="2.75" ry="1.57" transform="rotate(11 336.6 687.31)"/><ellipse cx="354.98" cy="718.53" rx="0.93" ry="0.92" transform="rotate(65 354.98 718.53)"/><ellipse cx="360.14" cy="724.55" rx="1.77" ry="1.79" transform="rotate(123 360.14 724.55)"/><ellipse cx="271.86" cy="673.65" rx="3.32" ry="1.88" transform="rotate(172 271.86 673.65)"/><ellipse cx="335.95" cy="726.46" rx="1.83" ry="1.26" transform="rotate(30 335.95 726.46)"/><ellipse cx="411.2" cy="707.29" rx="1.2" ry="1.3" transform="rotate(121 411.2 707.29)"/><ellipse cx="265.42" cy="696.48" rx="4.55" ry="2.11" transform="rotate(115 265.42 696.48)"/><ellipse cx="411.3" cy="687.82" rx="4.77" ry="2.27" transform="rotate(19 411.3 687.82)"/><ellipse cx="349.67" cy="658.41" rx="3.5" ry="1.64" transform="rotate(33 349.67 658.41)"/><ellipse cx="352.94" cy="717.2" rx="1.19" ry="1.25" transform="rotate(93 352.94 717.2)"/><ellipse cx="297.37" cy="749.12" rx="1.32" ry="1.58" transform="rotate(0 297.37 749.12)"/><ellipse cx="404.72" cy="723.19" rx="2.63" ry="1.45" transform="rotate(106 404.72 723.19)"/><ellipse cx="314.19" cy="679.33" rx="1.72" ry="2.14" transform="rotate(86 314.19 679.33)"/><ellipse cx="388.16" cy="655.8" rx="4.1" ry="2.28" transform="rotate(74 388.16 655.8)"/><ellipse cx="300.63" cy="649.2" rx="2.87" ry="1.42" transform="rotate(19 300.63 649.2)"/><ellipse cx="316.69" cy="692.77" rx="1.08" ry="1.24" transform="rotate(26 316.69 692.77)"/><ellipse cx="270.51" cy="720.84" rx="1.83" ry="1.82" transform="rotate(68 270.51 720.84)"/><ellipse cx="327.97" cy="679.27" rx="3.87" ry="2.04" transform="rotate(109 327.97 679.27)"/><ellipse cx="394.91" cy="738.84" rx="3.76" ry="1.81" transform="rotate(141 394.91 738.84)"/><ellipse cx="344.85" cy="727.75" rx="1.6" ry="0.88" transform="rotate(115 344.85 727.75)"/><ellipse cx="354.67" cy="658.03" rx="3.24" ry="2.19" transform="rotate(140 354.67 658.03)"/><ellipse cx="281.82" cy="698.06" rx="1.64" ry="1.35" transform="rotate(167 281.82 698.06)"/><ellipse cx="301.67" cy="720.12" rx="2.02" ry="1.28" transform="rotate(100 301.67 720.12)"/><ellipse cx="280.69" cy="718.58" rx="1.38" ry="0.92" transform="rotate(127 280.69 718.58)"/><ellipse cx="345.03" cy="695.76" rx="2.48" ry="1.33" transform="rotate(109 345.03 695.76)"/><ellipse cx="283.66" cy="664.49" rx="1.21" ry="0.95" transform="rotate(23 283.66 664.49)"/><ellipse cx="310.5" cy="685.6" rx="2.27" ry="2.09" transform="rotate(5 310.5 685.6)"/><ellipse cx="374.8" cy="690.93" rx="2.24" ry="1.46" transform="rotate(96 374.8 690.93)"/><ellipse cx="303.17" cy="731.65" rx="2.56" ry="1.6" transform="rotate(92 303.17 731.65)"/><ellipse cx="281.61" cy="701.81" rx="3.63" ry="1.81" transform="rotate(55 281.61 701.81)"/><ellipse cx="276.63" cy="749.01" rx="2.41" ry="1.42" transform="rotate(110 276.63 749.01)"/><ellipse cx="405.32" cy="743.24" rx="1.82" ry="2.2" transform="rotate(8 405.32 743.24)"/><ellipse cx="326.32" cy="733.04" rx="4.5" ry="2.09" transform="rotate(125 326.32 733.04)"/><ellipse cx="262.83" cy="688.38" rx="4.46" ry="2.28" transform="rotate(119 262.83 688.38)"/><ellipse cx="408.05" cy="671.22" rx="0.99" ry="0.97" transform="rotate(133 408.05 671.22)"/><ellipse cx="408" cy="654.47" rx="3.78" ry="2.12" transform="rotate(117 408 654.47)"/><ellipse cx="275.5" cy="734.62" rx="0.78" ry="0.8" transform="rotate(145 275.5 734.62)"/><ellipse cx="400.24" cy="718.86" rx="1.26" ry="1.29" transform="rotate(64 400.24 718.86)"/><ellipse cx="341.72" cy="693.89" rx="1.9" ry="2.02" transform="rotate(76 341.72 693.89)"/><ellipse cx="341.15" cy="711.35" rx="1.58" ry="1.42" transform="rotate(153 341.15 711.35)"/><ellipse cx="262.97" cy="705.9" rx="2.85" ry="2.39" transform="rotate(80 262.97 705.9)"/><ellipse cx="359.1" cy="747.45" rx="1.76" ry="1.56" transform="rotate(63 359.1 747.45)"/><ellipse cx="267.17" cy="690.82" rx="1.61" ry="1.84" transform="rotate(49 267.17 690.82)"/><ellipse cx="337.25" cy="722.34" rx="1.71" ry="1.47" transform="rotate(170 337.25 722.34)"/><ellipse cx="326.19" cy="685.83" rx="2.82" ry="1.59" transform="rotate(107 326.19 685.83)"/><ellipse cx="316.93" cy="688.96" rx="0.98" ry="0.81" transform="rotate(129 316.93 688.96)"/><ellipse cx="272.87" cy="700.88" rx="2.1" ry="1.12" transform="rotate(49 272.87 700.88)"/><ellipse cx="297.28" cy="667.97" rx="2.45" ry="2.02" transform="rotate(159 297.28 667.97)"/><ellipse cx="336.87" cy="663.88" rx="1.6" ry="1.16" transform="rotate(170 336.87 663.88)"/><ellipse cx="271.23" cy="712.78" rx="1.99" ry="2.28" transform="rotate(6 271.23 712.78)"/><ellipse cx="408.33" cy="658.43" rx="0.78" ry="0.88" transform="rotate(100 408.33 658.43)"/><ellipse cx="329.98" cy="726.84" rx="1.25" ry="1.3" transform="rotate(20 329.98 726.84)"/><ellipse cx="401.98" cy="680.91" rx="2.31" ry="1.1" transform="rotate(119 401.98 680.91)"/><ellipse cx="267.56" cy="721.13" rx="1.86" ry="1.41" transform="rotate(84 267.56 721.13)"/><ellipse cx="328.9" cy="654.47" rx="0.84" ry="0.93" transform="rotate(107 328.9 654.47)"/><ellipse cx="405.55" cy="656.24" rx="2.55" ry="2.34" transform="rotate(91 405.55 656.24)"/><ellipse cx="377.65" cy="678.44" rx="1.93" ry="2.09" transform="rotate(180 377.65 678.44)"/><ellipse cx="333.54" cy="686.13" rx="2.43" ry="2.27" transform="rotate(93 333.54 686.13)"/><ellipse cx="372.96" cy="698.34" rx="2.08" ry="1.81" transform="rotate(160 372.96 698.34)"/><ellipse cx="377.34" cy="646.28" rx="0.76" ry="0.86" transform="rotate(15 377.34 646.28)"/><ellipse cx="301.2" cy="731.07" rx="2.85" ry="2.24" transform="rotate(69 301.2 731.07)"/><ellipse cx="312.84" cy="755.85" rx="1.6" ry="0.87" transform="rotate(176 312.84 755.85)"/><ellipse cx="310.08" cy="674.48" rx="1.5" ry="0.81" transform="rotate(162 310.08 674.48)"/><ellipse cx="404.21" cy="649.24" rx="2.02" ry="2.12" transform="rotate(119 404.21 649.24)"/><ellipse cx="405.31" cy="687.78" rx="1.68" ry="1.2" transform="rotate(126 405.31 687.78)"/><ellipse cx="282.63" cy="700.98" rx="1.71" ry="0.81" transform="rotate(77 282.63 700.98)"/><ellipse cx="385.72" cy="734.14" rx="2.23" ry="1.77" transform="rotate(81 385.72 734.14)"/><ellipse cx="331.64" cy="735.46" rx="2.66" ry="1.75" transform="rotate(100 331.64 735.46)"/><ellipse cx="375.28" cy="671.08" rx="0.77" ry="0.9" transform="rotate(141 375.28 671.08)"/><ellipse cx="344.17" cy="660.68" rx="1.4" ry="1.48" transform="rotate(18 344.17 660.68)"/><ellipse cx="302.37" cy="651.49" rx="1.43" ry="0.95" transform="rotate(114 302.37 651.49)"/><ellipse cx="288.67" cy="657.35" rx="3.15" ry="1.54" transform="rotate(60 288.67 657.35)"/><ellipse cx="374.55" cy="743.04" rx="1.81" ry="1.86" transform="rotate(75 374.55 743.04)"/><ellipse cx="306.69" cy="709.43" rx="2.56" ry="1.4" transform="rotate(50 306.69 709.43)"/><ellipse cx="328.45" cy="663.69" rx="1.4" ry="1.18" transform="rotate(148 328.45 663.69)"/><ellipse cx="290.92" cy="649.18" rx="1.38" ry="1.2" transform="rotate(134 290.92 649.18)"/><ellipse cx="297.37" cy="738.41" rx="4.04" ry="1.85" transform="rotate(26 297.37 738.41)"/><ellipse cx="263.47" cy="747.34" rx="1.67" ry="1.17" transform="rotate(95 263.47 747.34)"/><ellipse cx="268.83" cy="676.64" rx="1.06" ry="0.99" transform="rotate(149 268.83 676.64)"/><ellipse cx="291.81" cy="650.41" rx="1.7" ry="1.62" transform="rotate(154 291.81 650.41)"/><ellipse cx="301.64" cy="734.73" rx="2.19" ry="2.31" transform="rotate(152 301.64 734.73)"/><ellipse cx="368.83" cy="683.36" rx="1.1" ry="0.86" transform="rotate(11 368.83 683.36)"/><ellipse cx="293.27" cy="671.99" rx="3.01" ry="1.76" transform="rotate(52 293.27 671.99)"/><ellipse cx="384.52" cy="739.66" rx="1.92" ry="1.45" transform="rotate(158 384.52 739.66)"/><ellipse cx="309.44" cy="665.81" rx="3.25" ry="2.07" transform="rotate(16 309.44 665.81)"/><ellipse cx="323.78" cy="736.9" rx="1.89" ry="1.86" transform="rotate(136 323.78 736.9)"/><ellipse cx="276.42" cy="661.04" rx="2.63" ry="1.91" transform="rotate(72 276.42 661.04)"/><ellipse cx="362.57" cy="691.54" rx="1.63" ry="0.88" transform="rotate(91 362.57 691.54)"/><ellipse cx="324.66" cy="643.59" rx="3.9" ry="2.03" transform="rotate(164 324.66 643.59)"/><ellipse cx="292.26" cy="728.76" rx="0.91" ry="1.13" transform="rotate(40 292.26 728.76)"/><ellipse cx="326.11" cy="739.84" rx="2.95" ry="1.45" transform="rotate(117 326.11 739.84)"/><ellipse cx="378.29" cy="657" rx="0.88" ry="0.88" transform="rotate(101 378.29 657)"/><ellipse cx="276.1" cy="716.06" rx="2.1" ry="1.39" transform="rotate(37 276.1 716.06)"/><ellipse cx="314.78" cy="660.82" rx="0.96" ry="1.07" transform="rotate(98 314.78 660.82)"/><ellipse cx="336.08" cy="737.98" rx="2.53" ry="2.35" transform="rotate(32 336.08 737.98)"/><ellipse cx="387.89" cy="646.62" rx="2.8" ry="2.26" transform="rotate(155 387.89 646.62)"/><ellipse cx="401.17" cy="687.95" rx="3.75" ry="2.25" transform="rotate(41 401.17 687.95)"/><ellipse cx="358.46" cy="744.19" rx="2.98" ry="1.79" transform="rotate(50 358.46 744.19)"/><ellipse cx="386.68" cy="663.36" rx="1.56" ry="1.15" transform="rotate(132 386.68 663.36)"/><ellipse cx="286.18" cy="684.5" rx="2.24" ry="1.04" transform="rotate(49 286.18 684.5)"/><ellipse cx="268.94" cy="708.88" rx="1.72" ry="2.01" transform="rotate(82 268.94 708.88)"/><ellipse cx="280.39" cy="713.34" rx="2.82" ry="1.68" transform="rotate(78 280.39 713.34)"/><ellipse cx="359.76" cy="678.39" rx="1.61" ry="1.2" transform="rotate(94 359.76 678.39)"/><ellipse cx="329.55" cy="694" rx="1.4" ry="0.84" transform="rotate(125 329.55 694)"/><ellipse cx="332.31" cy="695.02" rx="3.48" ry="1.79" transform="rotate(45 332.31 695.02)"/><ellipse cx="383.89" cy="689.44" rx="1.18" ry="0.91" transform="rotate(93 383.89 689.44)"/><ellipse cx="276.5" cy="694.44" rx="1.39" ry="1.62" transform="rotate(162 276.5 694.44)"/><ellipse cx="282.26" cy="752.06" rx="2.35" ry="1.3" transform="rotate(20 282.26 752.06)"/><ellipse cx="270.91" cy="701.87" rx="2.99" ry="1.4" transform="rotate(34 270.91 701.87)"/><ellipse cx="266.66" cy="649.37" rx="3.15" ry="1.78" transform="rotate(28 266.66 649.37)"/><ellipse cx="291.74" cy="759.21" rx="3.4" ry="1.59" transform="rotate(42 291.74 759.21)"/><ellipse cx="365.31" cy="727.93" rx="2.27" ry="1.15" transform="rotate(156 365.31 727.93)"/><ellipse cx="375.77" cy="660.45" rx="2.65" ry="2.23" transform="rotate(116 375.77 660.45)"/><ellipse cx="284.25" cy="701.67" rx="2.48" ry="2.27" transform="rotate(67 284.25 701.67)"/><ellipse cx="354.81" cy="669.89" rx="1.51" ry="1.4" transform="rotate(103 354.81 669.89)"/><ellipse cx="286.89" cy="753.77" rx="3.88" ry="1.89" transform="rotate(43 286.89 753.77)"/><ellipse cx="381.14" cy="673.12" rx="1.76" ry="2.03" transform="rotate(92 381.14 673.12)"/><ellipse cx="407.14" cy="695.76" rx="2.88" ry="1.63" transform="rotate(26 407.14 695.76)"/><ellipse cx="300.45" cy="705.68" rx="3.98" ry="2.17" transform="rotate(95 300.45 705.68)"/><ellipse cx="302.35" cy="760.26" rx="2.25" ry="1.72" transform="rotate(20 302.35 760.26)"/><ellipse cx="328.88" cy="662.61" rx="1.73" ry="1.99" transform="rotate(132 328.88 662.61)"/><ellipse cx="300.7" cy="718.11" rx="3.85" ry="2.37" transform="rotate(169 300.7 718.11)"/><ellipse cx="396.62" cy="729.36" rx="2.22" ry="2" transform="rotate(74 396.62 729.36)"/><ellipse cx="354.84" cy="693.27" rx="3.33" ry="1.62" transform="rotate(33 354.84 693.27)"/><ellipse cx="335.77" cy="714.9" rx="0.76" ry="0.87" transform="rotate(145 335.77 714.9)"/><ellipse cx="315.83" cy="654.16" rx="1.53" ry="1.37" transform="rotate(149 315.83 654.16)"/><ellipse cx="307.79" cy="657.45" rx="2.72" ry="1.39" transform="rotate(40 307.79 657.45)"/><ellipse cx="282.93" cy="753.79" rx="1.2" ry="1.19" transform="rotate(24 282.93 753.79)"/><ellipse cx="272.31" cy="658.76" rx="2.2" ry="1.86" transform="rotate(67 272.31 658.76)"/><ellipse cx="407.29" cy="648.14" rx="4.33" ry="2.11" transform="rotate(152 407.29 648.14)"/><ellipse cx="359.25" cy="694.65" rx="4.2" ry="2.3" transform="rotate(63 359.25 694.65)"/><ellipse cx="287.47" cy="641.45" rx="0.75" ry="0.9" transform="rotate(47 287.47 641.45)"/><ellipse cx="298.31" cy="648.41" rx="1.67" ry="2.05" transform="rotate(141 298.31 648.41)"/><ellipse cx="360.93" cy="665.07" rx="2.23" ry="1.46" transform="rotate(164 360.93 665.07)"/><ellipse cx="338.54" cy="718.39" rx="2.19" ry="2.1" transform="rotate(79 338.54 718.39)"/><ellipse cx="272.33" cy="716.52" rx="4.34" ry="2.39" transform="rotate(122 272.33 716.52)"/><ellipse cx="369.68" cy="642.16" rx="3.97" ry="2.15" transform="rotate(119 369.68 642.16)"/><ellipse cx="274.82" cy="720.06" rx="2.37" ry="1.08" transform="rotate(66 274.82 720.06)"/><ellipse cx="297.51" cy="646.06" rx="2.47" ry="1.34" transform="rotate(177 297.51 646.06)"/><ellipse cx="403.66" cy="673" rx="1.49" ry="0.88" transform="rotate(173 403.66 673)"/><ellipse cx="327.95" cy="736.01" rx="1.92" ry="1.64" transform="rotate(164 327.95 736.01)"/><ellipse cx="401.53" cy="748.7" rx="1.41" ry="0.94" transform="rotate(43 401.53 748.7)"/><ellipse cx="301.7" cy="669.73" rx="4.22" ry="1.99" transform="rotate(83 301.7 669.73)"/><ellipse cx="291.48" cy="688.04" rx="2.35" ry="1.76" transform="rotate(161 291.48 688.04)"/><ellipse cx="400.5" cy="759.2" rx="3.33" ry="2.15" transform="rotate(120 400.5 759.2)"/><ellipse cx="388.25" cy="725.11" rx="3.07" ry="2.17" transform="rotate(59 388.25 725.11)"/><ellipse cx="348.01" cy="678.33" rx="1.9" ry="1.14" transform="rotate(19 348.01 678.33)"/><ellipse cx="347.24" cy="661.99" rx="0.82" ry="0.85" transform="rotate(159 347.24 661.99)"/><ellipse cx="401.58" cy="682.78" rx="0.86" ry="1.03" transform="rotate(10 401.58 682.78)"/><ellipse cx="283.48" cy="718.63" rx="0.78" ry="0.87" transform="rotate(11 283.48 718.63)"/><ellipse cx="272.63" cy="712.26" rx="2.69" ry="1.38" transform="rotate(136 272.63 712.26)"/><ellipse cx="395.96" cy="649.31" rx="4.55" ry="2.19" transform="rotate(98 395.96 649.31)"/><ellipse cx="278.8" cy="666.09" rx="0.83" ry="0.98" transform="rotate(162 278.8 666.09)"/><ellipse cx="275.87" cy="731.57" rx="2.66" ry="1.81" transform="rotate(33 275.87 731.57)"/><ellipse cx="277.42" cy="732.28" rx="1.41" ry="1.13" transform="rotate(108 277.42 732.28)"/><ellipse cx="301.82" cy="683.51" rx="1.99" ry="2.29" transform="rotate(94 301.82 683.51)"/><ellipse cx="398.8" cy="733.71" rx="2.59" ry="1.76" transform="rotate(73 398.8 733.71)"/><ellipse cx="355.17" cy="645.12" rx="2.06" ry="1.46" transform="rotate(25 355.17 645.12)"/><ellipse cx="314.61" cy="725.96" rx="1.83" ry="1.66" transform="rotate(23 314.61 725.96)"/><ellipse cx="348.64" cy="675.85" rx="2.3" ry="1.5" transform="rotate(73 348.64 675.85)"/><ellipse cx="376.67" cy="758.74" rx="1.2" ry="0.81" transform="rotate(125 376.67 758.74)"/><ellipse cx="366.66" cy="740.44" rx="3.83" ry="2.35" transform="rotate(131 366.66 740.44)"/><ellipse cx="301.73" cy="754.66" rx="1.38" ry="1.25" transform="rotate(179 301.73 754.66)"/><ellipse cx="297.39" cy="661.29" rx="4.31" ry="2.3" transform="rotate(125 297.39 661.29)"/><ellipse cx="380.51" cy="725.06" rx="3.46" ry="2.06" transform="rotate(91 380.51 725.06)"/><ellipse cx="277.02" cy="752.82" rx="4.1" ry="2.23" transform="rotate(108 277.02 752.82)"/><ellipse cx="395.53" cy="644.42" rx="1.32" ry="1.13" transform="rotate(139 395.53 644.42)"/><ellipse cx="337.68" cy="686.92" rx="2.5" ry="2.21" transform="rotate(117 337.68 686.92)"/><ellipse cx="281.76" cy="712.69" rx="3.13" ry="1.9" transform="rotate(8 281.76 712.69)"/><ellipse cx="314.86" cy="680.6" rx="2.08" ry="1.05" transform="rotate(169 314.86 680.6)"/><ellipse cx="345.53" cy="680.2" rx="2.72" ry="1.54" transform="rotate(65 345.53 680.2)"/><ellipse cx="349.33" cy="656.53" rx="3.14" ry="1.54" transform="rotate(60 349.33 656.53)"/><ellipse cx="338.65" cy="673.5" rx="3.93" ry="2.01" transform="rotate(158 338.65 673.5)"/><ellipse cx="285.9" cy="660.12" rx="1.5" ry="1.2" transform="rotate(133 285.9 660.12)"/><ellipse cx="314.89" cy="669.75" rx="2.71" ry="2.33" transform="rotate(26 314.89 669.75)"/><ellipse cx="287.39" cy="720.35" rx="1.13" ry="1.11" transform="rotate(37 287.39 720.35)"/><ellipse cx="381.56" cy="729.4" rx="1.61" ry="1.5" transform="rotate(163 381.56 729.4)"/><ellipse cx="398.96" cy="675.1" rx="3.21" ry="2.22" transform="rotate(3 398.96 675.1)"/><ellipse cx="322.41" cy="736.32" rx="2.87" ry="1.91" transform="rotate(161 322.41 736.32)"/><ellipse cx="307.05" cy="644.05" rx="2.22" ry="1.21" transform="rotate(1 307.05 644.05)"/><ellipse cx="373.5" cy="750.36" rx="2.39" ry="1.49" transform="rotate(165 373.5 750.36)"/><ellipse cx="325.72" cy="668.83" rx="3.97" ry="1.96" transform="rotate(164 325.72 668.83)"/><ellipse cx="367.39" cy="743.69" rx="3.21" ry="1.89" transform="rotate(116 367.39 743.69)"/><ellipse cx="327.42" cy="672.58" rx="3.94" ry="1.92" transform="rotate(62 327.42 672.58)"/><ellipse cx="379.69" cy="726.98" rx="2.08" ry="1.81" transform="rotate(108 379.69 726.98)"/><ellipse cx="334.92" cy="643.76" rx="3.32" ry="2.17" transform="rotate(169 334.92 643.76)"/><ellipse cx="401.77" cy="663.37" rx="3.49" ry="1.85" transform="rotate(99 401.77 663.37)"/><ellipse cx="387.08" cy="750.38" rx="1.12" ry="0.97" transform="rotate(55 387.08 750.38)"/><ellipse cx="286.83" cy="735.22" rx="3.52" ry="2.3" transform="rotate(25 286.83 735.22)"/><ellipse cx="389.37" cy="696.21" rx="1.65" ry="1.13" transform="rotate(4 389.37 696.21)"/><ellipse cx="358.31" cy="740.88" rx="2.25" ry="1.63" transform="rotate(116 358.31 740.88)"/><ellipse cx="294.19" cy="723.52" rx="2.67" ry="1.43" transform="rotate(31 294.19 723.52)"/><ellipse cx="371.73" cy="715.08" rx="2.1" ry="1.82" transform="rotate(97 371.73 715.08)"/><ellipse cx="322.51" cy="643" rx="2.04" ry="1.47" transform="rotate(178 322.51 643)"/><ellipse cx="363.63" cy="711.02" rx="1.19" ry="0.97" transform="rotate(102 363.63 711.02)"/><ellipse cx="403.23" cy="704.65" rx="2.21" ry="1.15" transform="rotate(100 403.23 704.65)"/></g>
<g fill="#1a1406" opacity="0.85" filter="url(#sblur)"><ellipse cx="331.84" cy="661.14" rx="2.06" ry="2.3" transform="rotate(162 331.84 661.14)"/><ellipse cx="291.66" cy="718.46" rx="3.9" ry="2.01" transform="rotate(37 291.66 718.46)"/><ellipse cx="315.56" cy="718.06" rx="4.17" ry="2.15" transform="rotate(119 315.56 718.06)"/><ellipse cx="411.62" cy="732.59" rx="3.61" ry="1.91" transform="rotate(120 411.62 732.59)"/><ellipse cx="315.8" cy="743.48" rx="1.82" ry="1.37" transform="rotate(64 315.8 743.48)"/><ellipse cx="409.64" cy="722.86" rx="3.23" ry="1.67" transform="rotate(71 409.64 722.86)"/><ellipse cx="316.28" cy="719.93" rx="2.14" ry="1.45" transform="rotate(159 316.28 719.93)"/><ellipse cx="358.01" cy="720.51" rx="3.17" ry="1.51" transform="rotate(98 358.01 720.51)"/><ellipse cx="271.33" cy="740.75" rx="4.3" ry="2.27" transform="rotate(35 271.33 740.75)"/><ellipse cx="342.08" cy="682.82" rx="3.12" ry="1.82" transform="rotate(53 342.08 682.82)"/><ellipse cx="404.99" cy="720.11" rx="1.27" ry="1.35" transform="rotate(36 404.99 720.11)"/><ellipse cx="390.41" cy="663.68" rx="3.1" ry="1.63" transform="rotate(53 390.41 663.68)"/><ellipse cx="397.87" cy="736.4" rx="2.53" ry="1.24" transform="rotate(155 397.87 736.4)"/><ellipse cx="408.79" cy="652.25" rx="3.55" ry="2.26" transform="rotate(162 408.79 652.25)"/><ellipse cx="388.12" cy="665.08" rx="3.04" ry="1.97" transform="rotate(112 388.12 665.08)"/><ellipse cx="363.08" cy="655.44" rx="1.62" ry="1.17" transform="rotate(35 363.08 655.44)"/><ellipse cx="333.5" cy="708.26" rx="3.47" ry="1.68" transform="rotate(179 333.5 708.26)"/><ellipse cx="336.21" cy="701.18" rx="3.52" ry="1.76" transform="rotate(1 336.21 701.18)"/><ellipse cx="286.76" cy="679.88" rx="2.95" ry="1.97" transform="rotate(75 286.76 679.88)"/><ellipse cx="388.38" cy="686.39" rx="3.4" ry="1.59" transform="rotate(19 388.38 686.39)"/><ellipse cx="289.77" cy="684.65" rx="1.58" ry="1.91" transform="rotate(11 289.77 684.65)"/><ellipse cx="364.78" cy="753.18" rx="3.18" ry="1.46" transform="rotate(130 364.78 753.18)"/><ellipse cx="335.14" cy="732.26" rx="1.32" ry="1.2" transform="rotate(106 335.14 732.26)"/><ellipse cx="356.22" cy="682.03" rx="2.9" ry="2.21" transform="rotate(121 356.22 682.03)"/><ellipse cx="379.11" cy="707.9" rx="2.73" ry="2.28" transform="rotate(87 379.11 707.9)"/><ellipse cx="325.9" cy="707.88" rx="2.61" ry="2.16" transform="rotate(126 325.9 707.88)"/><ellipse cx="323.12" cy="701.85" rx="2.08" ry="1.38" transform="rotate(52 323.12 701.85)"/><ellipse cx="360.59" cy="736.43" rx="1.82" ry="1.46" transform="rotate(76 360.59 736.43)"/><ellipse cx="281.86" cy="758.13" rx="2.46" ry="1.12" transform="rotate(102 281.86 758.13)"/><ellipse cx="370.77" cy="747.67" rx="1.53" ry="1.76" transform="rotate(76 370.77 747.67)"/><ellipse cx="279.01" cy="646.97" rx="3.15" ry="2.15" transform="rotate(168 279.01 646.97)"/><ellipse cx="271.79" cy="701.5" rx="2.34" ry="1.76" transform="rotate(37 271.79 701.5)"/><ellipse cx="356.45" cy="724.97" rx="3.22" ry="1.83" transform="rotate(54 356.45 724.97)"/><ellipse cx="268.7" cy="717.43" rx="1.96" ry="1.88" transform="rotate(169 268.7 717.43)"/><ellipse cx="289.89" cy="645.84" rx="4.33" ry="2.08" transform="rotate(167 289.89 645.84)"/><ellipse cx="264.81" cy="746.03" rx="1.47" ry="1.19" transform="rotate(66 264.81 746.03)"/><ellipse cx="391.65" cy="663.57" rx="0.87" ry="1.05" transform="rotate(144 391.65 663.57)"/><ellipse cx="358.68" cy="753.46" rx="1.72" ry="1.08" transform="rotate(10 358.68 753.46)"/><ellipse cx="386.02" cy="734.25" rx="2.82" ry="1.59" transform="rotate(103 386.02 734.25)"/><ellipse cx="329.5" cy="643.1" rx="2.51" ry="1.54" transform="rotate(168 329.5 643.1)"/><ellipse cx="409.33" cy="698.45" rx="1.49" ry="1.58" transform="rotate(164 409.33 698.45)"/><ellipse cx="333.35" cy="748.89" rx="2.62" ry="1.88" transform="rotate(2 333.35 748.89)"/><ellipse cx="364.95" cy="656" rx="2.17" ry="2.35" transform="rotate(31 364.95 656)"/><ellipse cx="282.07" cy="643.53" rx="2.29" ry="2.01" transform="rotate(47 282.07 643.53)"/><ellipse cx="400.67" cy="685.3" rx="3.63" ry="2.05" transform="rotate(37 400.67 685.3)"/><ellipse cx="371.82" cy="651.51" rx="3.37" ry="1.88" transform="rotate(117 371.82 651.51)"/><ellipse cx="362.83" cy="748.2" rx="1.99" ry="2.28" transform="rotate(8 362.83 748.2)"/><ellipse cx="264.5" cy="643.17" rx="3.72" ry="1.91" transform="rotate(20 264.5 643.17)"/><ellipse cx="320.91" cy="678.9" rx="3.94" ry="1.84" transform="rotate(124 320.91 678.9)"/><ellipse cx="353.78" cy="679.35" rx="4.23" ry="2.33" transform="rotate(120 353.78 679.35)"/><ellipse cx="363.93" cy="658.79" rx="2.77" ry="2.12" transform="rotate(165 363.93 658.79)"/><ellipse cx="287.31" cy="737.62" rx="3.15" ry="1.67" transform="rotate(115 287.31 737.62)"/><ellipse cx="403.97" cy="735.55" rx="2.17" ry="1.79" transform="rotate(15 403.97 735.55)"/><ellipse cx="355.7" cy="719.51" rx="3.48" ry="2.12" transform="rotate(155 355.7 719.51)"/><ellipse cx="371.22" cy="643.26" rx="2.38" ry="1.21" transform="rotate(149 371.22 643.26)"/><ellipse cx="326.83" cy="747.97" rx="2.69" ry="1.53" transform="rotate(154 326.83 747.97)"/><ellipse cx="378.05" cy="669.52" rx="2.88" ry="1.63" transform="rotate(82 378.05 669.52)"/><ellipse cx="302.1" cy="692.1" rx="3.54" ry="1.82" transform="rotate(10 302.1 692.1)"/><ellipse cx="305.91" cy="658.28" rx="4.92" ry="2.25" transform="rotate(37 305.91 658.28)"/><ellipse cx="303.71" cy="743.54" rx="3.75" ry="2.13" transform="rotate(127 303.71 743.54)"/><ellipse cx="314.62" cy="651.61" rx="3.4" ry="1.78" transform="rotate(51 314.62 651.61)"/><ellipse cx="380.48" cy="728.06" rx="2.93" ry="2.38" transform="rotate(14 380.48 728.06)"/><ellipse cx="364.04" cy="697.24" rx="1.49" ry="1.29" transform="rotate(2 364.04 697.24)"/><ellipse cx="381.07" cy="696.57" rx="2.17" ry="1.12" transform="rotate(16 381.07 696.57)"/><ellipse cx="297.59" cy="710.95" rx="4.6" ry="2.26" transform="rotate(133 297.59 710.95)"/><ellipse cx="310.76" cy="702.14" rx="1.41" ry="1.28" transform="rotate(23 310.76 702.14)"/><ellipse cx="289.8" cy="725.53" rx="2.4" ry="1.51" transform="rotate(103 289.8 725.53)"/><ellipse cx="379.28" cy="744.23" rx="2.81" ry="1.34" transform="rotate(126 379.28 744.23)"/><ellipse cx="318.68" cy="654.13" rx="3.59" ry="1.89" transform="rotate(39 318.68 654.13)"/><ellipse cx="309.98" cy="645.04" rx="2.3" ry="1.39" transform="rotate(24 309.98 645.04)"/><ellipse cx="267.82" cy="760.25" rx="3.28" ry="2.21" transform="rotate(145 267.82 760.25)"/><ellipse cx="294.71" cy="752.46" rx="1.3" ry="1.39" transform="rotate(114 294.71 752.46)"/><ellipse cx="377.43" cy="739.66" rx="2.71" ry="2.35" transform="rotate(9 377.43 739.66)"/><ellipse cx="313.42" cy="760.75" rx="1.28" ry="1.53" transform="rotate(8 313.42 760.75)"/><ellipse cx="346.07" cy="745.88" rx="3.49" ry="1.64" transform="rotate(16 346.07 745.88)"/><ellipse cx="391.73" cy="718.18" rx="4.1" ry="2.29" transform="rotate(23 391.73 718.18)"/><ellipse cx="301.22" cy="709.14" rx="4.06" ry="1.9" transform="rotate(171 301.22 709.14)"/><ellipse cx="338.47" cy="663.32" rx="2.89" ry="2.19" transform="rotate(60 338.47 663.32)"/><ellipse cx="410.96" cy="668.01" rx="1.22" ry="1.05" transform="rotate(90 410.96 668.01)"/><ellipse cx="271.66" cy="707.74" rx="2.17" ry="1.04" transform="rotate(66 271.66 707.74)"/></g>
<g fill="#3c7630" stroke="#34441e" stroke-width="0.7" opacity="1"><circle cx="266.97" cy="751.77" r="8.99"/><circle cx="350.59" cy="760.68" r="8.98"/><circle cx="327.94" cy="716.9" r="8.98"/><circle cx="297.8" cy="642.59" r="8.97"/><circle cx="405.72" cy="747.14" r="8.95"/><circle cx="308.18" cy="752.83" r="8.93"/><circle cx="387.51" cy="676.09" r="8.92"/><circle cx="296.81" cy="687.19" r="8.9"/><circle cx="372.08" cy="665.49" r="8.88"/><circle cx="335.03" cy="739.12" r="8.85"/><circle cx="315.09" cy="661.02" r="8.83"/><circle cx="412.11" cy="674.44" r="8.83"/><circle cx="347.24" cy="651.79" r="8.83"/><circle cx="342.84" cy="686.67" r="8.76"/><circle cx="363.48" cy="680.98" r="8.74"/><circle cx="283.09" cy="727.9" r="8.72"/><circle cx="273.09" cy="671.76" r="8.71"/><circle cx="390.46" cy="653.51" r="8.68"/><circle cx="314.25" cy="730.03" r="8.67"/><circle cx="291.35" cy="759.42" r="8.67"/><circle cx="400.66" cy="712.67" r="8.65"/><circle cx="275.7" cy="709.37" r="8.64"/><circle cx="315.61" cy="701.45" r="8.61"/><circle cx="263.18" cy="724.5" r="8.59"/><circle cx="374.47" cy="728.73" r="8.54"/><circle cx="264.93" cy="642.28" r="8.52"/><circle cx="390.29" cy="736.93" r="8.51"/><circle cx="407.98" cy="691.63" r="8.51"/><circle cx="299.8" cy="707.36" r="8.49"/><circle cx="344.44" cy="669.24" r="8.48"/><circle cx="296.13" cy="668.22" r="8.44"/><circle cx="329.3" cy="651.69" r="8.43"/><circle cx="348.05" cy="717.86" r="8.41"/><circle cx="328.53" cy="761.73" r="8.41"/><circle cx="372.68" cy="637.57" r="8.38"/><circle cx="363.71" cy="743.26" r="8.38"/><circle cx="395.14" cy="762.28" r="8.34"/><circle cx="414.89" cy="729.84" r="8.32"/><circle cx="374.92" cy="758.89" r="8.31"/><circle cx="408.27" cy="639.02" r="8.3"/><circle cx="319.82" cy="682.63" r="8.3"/><circle cx="375.26" cy="702.54" r="8.25"/><circle cx="267.73" cy="690.41" r="8.25"/><circle cx="283.32" cy="655.59" r="8.2"/><circle cx="295.68" cy="738.84" r="8.19"/><circle cx="315.85" cy="638.67" r="8.18"/><circle cx="334.31" cy="701.06" r="8.14"/><circle cx="359.77" cy="697.79" r="8.07"/><circle cx="411.48" cy="656.42" r="8.02"/><circle cx="412.21" cy="764.75" r="8.01"/><circle cx="391.49" cy="697.56" r="7.97"/><circle cx="262.33" cy="658.48" r="7.8"/><circle cx="260.04" cy="704.83" r="7.73"/><circle cx="281.29" cy="638.81" r="7.62"/><circle cx="415.51" cy="705.75" r="7.58"/><circle cx="366.54" cy="715.2" r="7.31"/><circle cx="337.13" cy="638.49" r="7.22"/><circle cx="281.19" cy="743.43" r="7"/><circle cx="329.23" cy="670.35" r="6.91"/><circle cx="357.62" cy="638.82" r="6.9"/><circle cx="365.3" cy="651.55" r="6.88"/><circle cx="297.97" cy="722.19" r="6.68"/><circle cx="352.71" cy="732.97" r="6.68"/><circle cx="282.34" cy="694.34" r="6.67"/><circle cx="384.45" cy="715.82" r="6.62"/><circle cx="392" cy="638.6" r="6.41"/><circle cx="377.08" cy="687.38" r="6.33"/><circle cx="322.07" cy="745.77" r="5.95"/><circle cx="399.57" cy="664.81" r="5.82"/><circle cx="349.44" cy="746.13" r="5.78"/><circle cx="283.78" cy="681.18" r="5.72"/><circle cx="377.57" cy="743.8" r="5.72"/><circle cx="260.37" cy="738.54" r="5.67"/><circle cx="313.68" cy="715.42" r="5.65"/><circle cx="358.03" cy="664.31" r="5.35"/><circle cx="260.59" cy="678.45" r="5.32"/><circle cx="307.42" cy="675.83" r="5.28"/><circle cx="387.87" cy="751.01" r="5.19"/><circle cx="398.63" cy="726.36" r="5.18"/><circle cx="275.25" cy="762.93" r="5.16"/><circle cx="347.29" cy="702.64" r="4.99"/><circle cx="271.91" cy="736.38" r="4.74"/><circle cx="339.55" cy="753.14" r="4.57"/><circle cx="301.45" cy="656.28" r="4.39"/><circle cx="288.54" cy="714.5" r="4.33"/><circle cx="399.38" cy="682.15" r="4.33"/><circle cx="376.76" cy="650.45" r="4.26"/><circle cx="338.05" cy="725.18" r="4.25"/><circle cx="362.09" cy="727.65" r="4.18"/><circle cx="363.57" cy="763.48" r="4.17"/><circle cx="309.56" cy="689.99" r="4.17"/></g>
<g fill="#e85a34" opacity="0.8"><ellipse cx="279.89" cy="736.53" rx="2.73" ry="1.32" transform="rotate(26 279.89 736.53)"/><ellipse cx="361.16" cy="715.25" rx="1.64" ry="1.06" transform="rotate(159 361.16 715.25)"/><ellipse cx="287.9" cy="732.26" rx="2.71" ry="1.3" transform="rotate(34 287.9 732.26)"/><ellipse cx="394.36" cy="667.87" rx="2.82" ry="1.88" transform="rotate(68 394.36 667.87)"/><ellipse cx="301.27" cy="741.1" rx="2.22" ry="1.69" transform="rotate(89 301.27 741.1)"/><ellipse cx="330.78" cy="672.2" rx="1.83" ry="1.31" transform="rotate(65 330.78 672.2)"/><ellipse cx="268.99" cy="756.38" rx="2.51" ry="1.94" transform="rotate(91 268.99 756.38)"/><ellipse cx="292.98" cy="655.31" rx="1.36" ry="1.4" transform="rotate(55 292.98 655.31)"/><ellipse cx="387.2" cy="705.25" rx="3.04" ry="1.65" transform="rotate(80 387.2 705.25)"/><ellipse cx="407.71" cy="655.49" rx="3.31" ry="1.64" transform="rotate(49 407.71 655.49)"/><ellipse cx="343.12" cy="744.5" rx="1.26" ry="1.21" transform="rotate(75 343.12 744.5)"/><ellipse cx="340.55" cy="678.61" rx="1.4" ry="1.21" transform="rotate(12 340.55 678.61)"/><ellipse cx="406.88" cy="665.57" rx="1.26" ry="1" transform="rotate(92 406.88 665.57)"/><ellipse cx="357.42" cy="673.75" rx="0.84" ry="0.99" transform="rotate(114 357.42 673.75)"/><ellipse cx="357.08" cy="683.97" rx="1.69" ry="1.92" transform="rotate(32 357.08 683.97)"/><ellipse cx="374.93" cy="712.17" rx="1.56" ry="1.79" transform="rotate(16 374.93 712.17)"/><ellipse cx="315.44" cy="666.4" rx="1.14" ry="1" transform="rotate(167 315.44 666.4)"/><ellipse cx="385.41" cy="731.44" rx="3.5" ry="1.88" transform="rotate(58 385.41 731.44)"/><ellipse cx="299.09" cy="648.25" rx="1.84" ry="1.34" transform="rotate(15 299.09 648.25)"/><ellipse cx="306.69" cy="704.53" rx="0.92" ry="0.85" transform="rotate(54 306.69 704.53)"/><ellipse cx="347.03" cy="685.43" rx="1.95" ry="0.95" transform="rotate(37 347.03 685.43)"/><ellipse cx="407.1" cy="646.54" rx="1.87" ry="1.36" transform="rotate(2 407.1 646.54)"/><ellipse cx="324.43" cy="697.27" rx="0.85" ry="0.94" transform="rotate(125 324.43 697.27)"/><ellipse cx="335.71" cy="666.38" rx="3.04" ry="1.98" transform="rotate(0 335.71 666.38)"/><ellipse cx="363.95" cy="757.72" rx="3.12" ry="1.93" transform="rotate(137 363.95 757.72)"/><ellipse cx="347.58" cy="760.86" rx="1.09" ry="0.97" transform="rotate(150 347.58 760.86)"/><ellipse cx="411.93" cy="710.58" rx="1.56" ry="1.52" transform="rotate(163 411.93 710.58)"/><ellipse cx="312.31" cy="726.09" rx="1.9" ry="1.59" transform="rotate(51 312.31 726.09)"/><ellipse cx="379.29" cy="642.83" rx="1.52" ry="0.77" transform="rotate(155 379.29 642.83)"/><ellipse cx="272.89" cy="750.93" rx="4.02" ry="1.84" transform="rotate(74 272.89 750.93)"/><ellipse cx="395.08" cy="646.39" rx="2.86" ry="1.85" transform="rotate(139 395.08 646.39)"/><ellipse cx="402.23" cy="757.97" rx="2.48" ry="1.74" transform="rotate(15 402.23 757.97)"/><ellipse cx="266.36" cy="698.69" rx="1.02" ry="0.8" transform="rotate(50 266.36 698.69)"/><ellipse cx="386.97" cy="645.76" rx="3.15" ry="1.45" transform="rotate(39 386.97 645.76)"/><ellipse cx="307.24" cy="718.51" rx="2.8" ry="1.55" transform="rotate(21 307.24 718.51)"/><ellipse cx="337.88" cy="642.98" rx="1.17" ry="0.75" transform="rotate(71 337.88 642.98)"/><ellipse cx="275.63" cy="668.39" rx="1.33" ry="0.72" transform="rotate(132 275.63 668.39)"/><ellipse cx="298.24" cy="705.19" rx="1.39" ry="0.97" transform="rotate(64 298.24 705.19)"/><ellipse cx="374.9" cy="723.32" rx="3.26" ry="1.82" transform="rotate(88 374.9 723.32)"/><ellipse cx="325.31" cy="722.67" rx="1.84" ry="1.15" transform="rotate(19 325.31 722.67)"/><ellipse cx="298.76" cy="756.07" rx="2.09" ry="1.22" transform="rotate(119 298.76 756.07)"/><ellipse cx="345.69" cy="657.18" rx="3.56" ry="1.79" transform="rotate(162 345.69 657.18)"/><ellipse cx="293.66" cy="686.64" rx="1.84" ry="1.22" transform="rotate(64 293.66 686.64)"/><ellipse cx="277.3" cy="659.51" rx="2.53" ry="1.99" transform="rotate(68 277.3 659.51)"/><ellipse cx="296.6" cy="658.87" rx="2.12" ry="1.46" transform="rotate(21 296.6 658.87)"/><ellipse cx="397.32" cy="704.9" rx="1.72" ry="1.72" transform="rotate(67 397.32 704.9)"/><ellipse cx="381.78" cy="670.66" rx="1.78" ry="1.58" transform="rotate(16 381.78 670.66)"/><ellipse cx="345.19" cy="666.81" rx="1.4" ry="1.73" transform="rotate(123 345.19 666.81)"/><ellipse cx="350.14" cy="682.99" rx="3.21" ry="1.85" transform="rotate(64 350.14 682.99)"/><ellipse cx="369.16" cy="679.38" rx="2.24" ry="1.54" transform="rotate(155 369.16 679.38)"/><ellipse cx="330.71" cy="698.35" rx="2.89" ry="1.58" transform="rotate(16 330.71 698.35)"/><ellipse cx="391.59" cy="678.83" rx="2.11" ry="1.12" transform="rotate(4 391.59 678.83)"/><ellipse cx="324.61" cy="733.05" rx="1.43" ry="0.85" transform="rotate(23 324.61 733.05)"/><ellipse cx="411.01" cy="695.65" rx="1.6" ry="0.89" transform="rotate(97 411.01 695.65)"/><ellipse cx="394.58" cy="722.41" rx="1.82" ry="1.16" transform="rotate(167 394.58 722.41)"/><ellipse cx="286.75" cy="670.48" rx="1.87" ry="1.53" transform="rotate(106 286.75 670.48)"/><ellipse cx="398.74" cy="736.34" rx="2.79" ry="1.69" transform="rotate(45 398.74 736.34)"/><ellipse cx="280.62" cy="692.51" rx="1.61" ry="1.49" transform="rotate(34 280.62 692.51)"/><ellipse cx="328.11" cy="710.91" rx="4.12" ry="2" transform="rotate(131 328.11 710.91)"/><ellipse cx="366.44" cy="688.32" rx="0.81" ry="0.78" transform="rotate(104 366.44 688.32)"/><ellipse cx="339.96" cy="713.41" rx="1.72" ry="1.06" transform="rotate(119 339.96 713.41)"/><ellipse cx="345.51" cy="736.03" rx="2.6" ry="1.39" transform="rotate(77 345.51 736.03)"/><ellipse cx="292.16" cy="654.28" rx="1.46" ry="0.9" transform="rotate(6 292.16 654.28)"/><ellipse cx="346" cy="686.37" rx="1.15" ry="1.41" transform="rotate(69 346 686.37)"/><ellipse cx="408.34" cy="717.8" rx="1.84" ry="1.45" transform="rotate(1 408.34 717.8)"/><ellipse cx="294.55" cy="704.42" rx="1.7" ry="1.25" transform="rotate(28 294.55 704.42)"/><ellipse cx="389.29" cy="662.19" rx="1.5" ry="1.85" transform="rotate(137 389.29 662.19)"/><ellipse cx="372.32" cy="653.86" rx="0.93" ry="1.02" transform="rotate(70 372.32 653.86)"/><ellipse cx="323.51" cy="724.53" rx="1.7" ry="0.88" transform="rotate(90 323.51 724.53)"/><ellipse cx="402.79" cy="708.38" rx="2.37" ry="1.62" transform="rotate(51 402.79 708.38)"/><ellipse cx="395.06" cy="691.57" rx="2.48" ry="1.29" transform="rotate(68 395.06 691.57)"/><ellipse cx="300.28" cy="661.18" rx="3.27" ry="1.81" transform="rotate(69 300.28 661.18)"/><ellipse cx="350.12" cy="755.99" rx="2.37" ry="1.19" transform="rotate(15 350.12 755.99)"/><ellipse cx="311.07" cy="747.91" rx="2.12" ry="1.42" transform="rotate(14 311.07 747.91)"/><ellipse cx="299" cy="758.35" rx="1.29" ry="1.04" transform="rotate(128 299 758.35)"/><ellipse cx="311.42" cy="651.19" rx="2.71" ry="1.48" transform="rotate(100 311.42 651.19)"/><ellipse cx="316.42" cy="724.02" rx="2.23" ry="1.57" transform="rotate(137 316.42 724.02)"/><ellipse cx="320.84" cy="754.66" rx="2.43" ry="1.95" transform="rotate(91 320.84 754.66)"/><ellipse cx="297.23" cy="714.9" rx="1.64" ry="1.26" transform="rotate(103 297.23 714.9)"/><ellipse cx="274.35" cy="699.76" rx="2" ry="1.82" transform="rotate(98 274.35 699.76)"/><ellipse cx="399.24" cy="643.92" rx="2.69" ry="1.37" transform="rotate(64 399.24 643.92)"/><ellipse cx="332.12" cy="648.54" rx="2.1" ry="1.88" transform="rotate(114 332.12 648.54)"/><ellipse cx="290.96" cy="682.81" rx="2.35" ry="1.7" transform="rotate(136 290.96 682.81)"/><ellipse cx="279.57" cy="654.17" rx="3.27" ry="1.98" transform="rotate(97 279.57 654.17)"/><ellipse cx="373.2" cy="728.11" rx="2.38" ry="1.3" transform="rotate(18 373.2 728.11)"/><ellipse cx="393.71" cy="711.95" rx="2.35" ry="1.79" transform="rotate(71 393.71 711.95)"/><ellipse cx="309.23" cy="705.21" rx="2.17" ry="1" transform="rotate(63 309.23 705.21)"/><ellipse cx="387.48" cy="713.57" rx="2.99" ry="1.98" transform="rotate(66 387.48 713.57)"/><ellipse cx="312.35" cy="751.06" rx="3.19" ry="1.68" transform="rotate(131 312.35 751.06)"/><ellipse cx="388.34" cy="708.04" rx="1.06" ry="1.04" transform="rotate(172 388.34 708.04)"/><ellipse cx="351.13" cy="649.13" rx="2.42" ry="1.79" transform="rotate(141 351.13 649.13)"/><ellipse cx="340.26" cy="745.5" rx="1.57" ry="1.1" transform="rotate(36 340.26 745.5)"/><ellipse cx="304" cy="691.04" rx="1.72" ry="1.16" transform="rotate(45 304 691.04)"/><ellipse cx="312.14" cy="737.46" rx="1.37" ry="1.36" transform="rotate(38 312.14 737.46)"/><ellipse cx="317.52" cy="679.26" rx="2.63" ry="1.39" transform="rotate(166 317.52 679.26)"/><ellipse cx="335.29" cy="736.7" rx="0.84" ry="0.9" transform="rotate(131 335.29 736.7)"/><ellipse cx="336.33" cy="693.44" rx="1.14" ry="0.97" transform="rotate(134 336.33 693.44)"/><ellipse cx="374.27" cy="694" rx="1.43" ry="1.13" transform="rotate(1 374.27 694)"/><ellipse cx="296.45" cy="709.89" rx="1.25" ry="1.41" transform="rotate(38 296.45 709.89)"/><ellipse cx="279.01" cy="688.51" rx="1.55" ry="1.87" transform="rotate(86 279.01 688.51)"/><ellipse cx="317.28" cy="646.43" rx="2.34" ry="1.65" transform="rotate(85 317.28 646.43)"/><ellipse cx="389.05" cy="694.64" rx="1.41" ry="1.28" transform="rotate(14 389.05 694.64)"/><ellipse cx="403.49" cy="717.93" rx="3.39" ry="1.75" transform="rotate(84 403.49 717.93)"/><ellipse cx="408.48" cy="641.86" rx="2.41" ry="1.6" transform="rotate(71 408.48 641.86)"/><ellipse cx="302.79" cy="643.61" rx="2.08" ry="0.96" transform="rotate(36 302.79 643.61)"/><ellipse cx="306.25" cy="673.8" rx="0.81" ry="0.9" transform="rotate(51 306.25 673.8)"/><ellipse cx="265.22" cy="705.03" rx="1.66" ry="1.82" transform="rotate(169 265.22 705.03)"/><ellipse cx="407.28" cy="695.65" rx="2.09" ry="1.46" transform="rotate(3 407.28 695.65)"/><ellipse cx="380.79" cy="696.03" rx="2.72" ry="1.73" transform="rotate(5 380.79 696.03)"/><ellipse cx="339.7" cy="747" rx="1.48" ry="0.97" transform="rotate(123 339.7 747)"/><ellipse cx="310.07" cy="651.86" rx="2.02" ry="1.15" transform="rotate(9 310.07 651.86)"/><ellipse cx="369.61" cy="713.72" rx="3.1" ry="1.98" transform="rotate(81 369.61 713.72)"/><ellipse cx="305.47" cy="733.81" rx="2.9" ry="1.47" transform="rotate(75 305.47 733.81)"/><ellipse cx="272.85" cy="707.46" rx="1.2" ry="1.05" transform="rotate(30 272.85 707.46)"/><ellipse cx="341.86" cy="702.73" rx="1.26" ry="0.95" transform="rotate(75 341.86 702.73)"/><ellipse cx="311.09" cy="757.2" rx="3.53" ry="1.64" transform="rotate(69 311.09 757.2)"/><ellipse cx="363.85" cy="721.09" rx="2.73" ry="1.91" transform="rotate(133 363.85 721.09)"/><ellipse cx="297.18" cy="645.61" rx="1.43" ry="0.8" transform="rotate(100 297.18 645.61)"/><ellipse cx="271.95" cy="649.5" rx="0.85" ry="0.93" transform="rotate(35 271.95 649.5)"/><ellipse cx="407.48" cy="644.21" rx="0.99" ry="1.08" transform="rotate(173 407.48 644.21)"/><ellipse cx="307.79" cy="667.22" rx="2.21" ry="1.54" transform="rotate(125 307.79 667.22)"/><ellipse cx="309.77" cy="727.7" rx="2.97" ry="1.51" transform="rotate(65 309.77 727.7)"/><ellipse cx="359.21" cy="672.07" rx="0.77" ry="0.95" transform="rotate(150 359.21 672.07)"/><ellipse cx="403.52" cy="720.74" rx="2.09" ry="1.57" transform="rotate(165 403.52 720.74)"/><ellipse cx="394.97" cy="711.59" rx="2.22" ry="1.09" transform="rotate(124 394.97 711.59)"/><ellipse cx="346.14" cy="731.75" rx="1.92" ry="1.66" transform="rotate(51 346.14 731.75)"/><ellipse cx="296.54" cy="682.51" rx="2.42" ry="1.81" transform="rotate(93 296.54 682.51)"/><ellipse cx="394.22" cy="679.25" rx="2.52" ry="1.59" transform="rotate(14 394.22 679.25)"/><ellipse cx="284.56" cy="720.03" rx="1.39" ry="0.87" transform="rotate(117 284.56 720.03)"/><ellipse cx="315.29" cy="675.83" rx="1.34" ry="1.03" transform="rotate(148 315.29 675.83)"/><ellipse cx="307.96" cy="725.8" rx="3.55" ry="1.95" transform="rotate(82 307.96 725.8)"/><ellipse cx="366.31" cy="755.57" rx="2.1" ry="1.22" transform="rotate(3 366.31 755.57)"/><ellipse cx="269.41" cy="753.61" rx="0.7" ry="0.87" transform="rotate(168 269.41 753.61)"/><ellipse cx="332.2" cy="757.35" rx="1.19" ry="0.84" transform="rotate(113 332.2 757.35)"/><ellipse cx="392.58" cy="735.62" rx="1.24" ry="1.04" transform="rotate(78 392.58 735.62)"/><ellipse cx="355.63" cy="712.81" rx="1.29" ry="1.42" transform="rotate(0 355.63 712.81)"/><ellipse cx="382.35" cy="695" rx="1.78" ry="0.89" transform="rotate(1 382.35 695)"/><ellipse cx="401.33" cy="750.44" rx="2.73" ry="1.3" transform="rotate(159 401.33 750.44)"/><ellipse cx="392.52" cy="753.89" rx="2.06" ry="1.01" transform="rotate(107 392.52 753.89)"/><ellipse cx="409.57" cy="735.8" rx="1.19" ry="1.26" transform="rotate(56 409.57 735.8)"/><ellipse cx="354.14" cy="664.34" rx="1.36" ry="1.27" transform="rotate(57 354.14 664.34)"/><ellipse cx="265.89" cy="757.09" rx="1.4" ry="0.74" transform="rotate(7 265.89 757.09)"/><ellipse cx="311.47" cy="698.72" rx="3.26" ry="1.86" transform="rotate(14 311.47 698.72)"/><ellipse cx="277.71" cy="720.65" rx="2.43" ry="1.89" transform="rotate(131 277.71 720.65)"/><ellipse cx="308.74" cy="660.52" rx="1.91" ry="1.81" transform="rotate(59 308.74 660.52)"/><ellipse cx="381.23" cy="758.96" rx="2.15" ry="0.99" transform="rotate(40 381.23 758.96)"/><ellipse cx="394.94" cy="740.64" rx="1.14" ry="1.15" transform="rotate(156 394.94 740.64)"/><ellipse cx="362.83" cy="699.63" rx="2.17" ry="1.4" transform="rotate(108 362.83 699.63)"/><ellipse cx="276.76" cy="748" rx="2.67" ry="1.96" transform="rotate(24 276.76 748)"/><ellipse cx="270.11" cy="760.91" rx="1.52" ry="0.98" transform="rotate(50 270.11 760.91)"/></g>
<g fill="#201606" opacity="0.7"><ellipse cx="397.08" cy="692.23" rx="1.42" ry="1.57" transform="rotate(139 397.08 692.23)"/><ellipse cx="321.33" cy="683.9" rx="2.28" ry="1.75" transform="rotate(3 321.33 683.9)"/><ellipse cx="376.58" cy="698.27" rx="2.32" ry="1.43" transform="rotate(179 376.58 698.27)"/><ellipse cx="364.17" cy="702.67" rx="1.86" ry="1.14" transform="rotate(131 364.17 702.67)"/><ellipse cx="380.84" cy="717.66" rx="2.84" ry="1.73" transform="rotate(58 380.84 717.66)"/><ellipse cx="300.31" cy="665.18" rx="1.38" ry="1.12" transform="rotate(153 300.31 665.18)"/><ellipse cx="407.77" cy="732.11" rx="1.38" ry="0.8" transform="rotate(159 407.77 732.11)"/><ellipse cx="404.39" cy="693" rx="1.05" ry="0.85" transform="rotate(79 404.39 693)"/><ellipse cx="317.24" cy="675.5" rx="1.3" ry="1.59" transform="rotate(144 317.24 675.5)"/><ellipse cx="310.07" cy="704.79" rx="2.21" ry="1.33" transform="rotate(130 310.07 704.79)"/><ellipse cx="373.05" cy="706.16" rx="1.15" ry="1.19" transform="rotate(152 373.05 706.16)"/><ellipse cx="385.23" cy="718.31" rx="2.43" ry="1.15" transform="rotate(170 385.23 718.31)"/><ellipse cx="387.22" cy="730.95" rx="2.59" ry="1.67" transform="rotate(13 387.22 730.95)"/><ellipse cx="326.35" cy="696.72" rx="1.69" ry="1.21" transform="rotate(68 326.35 696.72)"/><ellipse cx="274.25" cy="714.35" rx="2.99" ry="1.73" transform="rotate(114 274.25 714.35)"/><ellipse cx="381.65" cy="726.01" rx="1.58" ry="1.42" transform="rotate(159 381.65 726.01)"/><ellipse cx="297.2" cy="719.58" rx="0.87" ry="0.98" transform="rotate(49 297.2 719.58)"/><ellipse cx="263.38" cy="753.57" rx="2.78" ry="1.76" transform="rotate(161 263.38 753.57)"/><ellipse cx="331.71" cy="668.58" rx="2.3" ry="1.17" transform="rotate(33 331.71 668.58)"/><ellipse cx="402.29" cy="678.14" rx="2.03" ry="1.69" transform="rotate(33 402.29 678.14)"/><ellipse cx="403.24" cy="742.67" rx="2.7" ry="1.69" transform="rotate(119 403.24 742.67)"/><ellipse cx="350.39" cy="759.41" rx="1.72" ry="1.55" transform="rotate(82 350.39 759.41)"/><ellipse cx="283.96" cy="705.7" rx="0.97" ry="1.14" transform="rotate(19 283.96 705.7)"/><ellipse cx="323.66" cy="743.56" rx="1.46" ry="1.41" transform="rotate(126 323.66 743.56)"/><ellipse cx="393.79" cy="746.83" rx="1.31" ry="1.32" transform="rotate(98 393.79 746.83)"/><ellipse cx="388.96" cy="666.11" rx="1.79" ry="1.8" transform="rotate(173 388.96 666.11)"/><ellipse cx="382.74" cy="656.45" rx="1" ry="0.93" transform="rotate(77 382.74 656.45)"/><ellipse cx="388.34" cy="753.46" rx="3" ry="1.62" transform="rotate(9 388.34 753.46)"/><ellipse cx="304.23" cy="693.76" rx="0.92" ry="1.12" transform="rotate(75 304.23 693.76)"/><ellipse cx="364.53" cy="725.23" rx="2.62" ry="1.24" transform="rotate(168 364.53 725.23)"/></g>
</g>
<path d="M387.2 754.4h17" stroke="#e8f0e0" stroke-width="0.6" opacity="0.8"/>
<rect x="392.7" y="755.1" width="6" height="1.8" fill="#e8f0e0" opacity="0.7"/>
</g>
<clipPath id="cl8"><rect x="427.1" y="641.4" width="149.4" height="120"/></clipPath>
<g clip-path="url(#cl8)"><g filter="url(#mblur)">
<rect x="424.1" y="638.4" width="155.4" height="126" fill="#4e4420"/>
<circle cx="452.1" cy="661.4" r="32" fill="#50c040" opacity="0.6" filter="url(#blur6)"/>
<g fill="#8a7a38" opacity="0.5" filter="url(#sblur)"><ellipse cx="460.97" cy="756.88" rx="2.13" ry="1.19" transform="rotate(21 460.97 756.88)"/><ellipse cx="447.54" cy="738.75" rx="2.39" ry="1.76" transform="rotate(7 447.54 738.75)"/><ellipse cx="495.69" cy="695.78" rx="1.86" ry="1.74" transform="rotate(103 495.69 695.78)"/><ellipse cx="440.48" cy="669.5" rx="1.21" ry="1.03" transform="rotate(104 440.48 669.5)"/><ellipse cx="497.96" cy="750.74" rx="3.61" ry="2.09" transform="rotate(24 497.96 750.74)"/><ellipse cx="575.25" cy="648.97" rx="2.56" ry="1.93" transform="rotate(169 575.25 648.97)"/><ellipse cx="435.77" cy="669.53" rx="2.33" ry="1.13" transform="rotate(132 435.77 669.53)"/><ellipse cx="561.77" cy="711.18" rx="1.08" ry="1.21" transform="rotate(9 561.77 711.18)"/><ellipse cx="500.11" cy="664.66" rx="3.9" ry="2.42" transform="rotate(149 500.11 664.66)"/><ellipse cx="558.72" cy="675.68" rx="3.12" ry="1.54" transform="rotate(34 558.72 675.68)"/><ellipse cx="450.75" cy="713.56" rx="2.23" ry="1.8" transform="rotate(91 450.75 713.56)"/><ellipse cx="569.03" cy="742.62" rx="1.89" ry="1.76" transform="rotate(38 569.03 742.62)"/><ellipse cx="480.25" cy="675.52" rx="3.83" ry="1.99" transform="rotate(129 480.25 675.52)"/><ellipse cx="563.51" cy="706.79" rx="3.14" ry="1.52" transform="rotate(75 563.51 706.79)"/><ellipse cx="478.38" cy="673.42" rx="2.17" ry="1.64" transform="rotate(180 478.38 673.42)"/><ellipse cx="560.29" cy="662.43" rx="1.65" ry="1.59" transform="rotate(169 560.29 662.43)"/><ellipse cx="554.41" cy="644.48" rx="2.52" ry="2.46" transform="rotate(29 554.41 644.48)"/><ellipse cx="429.07" cy="733.12" rx="1.57" ry="1.51" transform="rotate(111 429.07 733.12)"/><ellipse cx="562.33" cy="658.08" rx="2.53" ry="1.85" transform="rotate(20 562.33 658.08)"/><ellipse cx="515.02" cy="676.05" rx="1.05" ry="1.14" transform="rotate(27 515.02 676.05)"/><ellipse cx="541.28" cy="704.67" rx="2.6" ry="1.23" transform="rotate(124 541.28 704.67)"/><ellipse cx="532.9" cy="759.01" rx="0.9" ry="1.09" transform="rotate(35 532.9 759.01)"/><ellipse cx="478.01" cy="720.38" rx="1.44" ry="1.18" transform="rotate(83 478.01 720.38)"/><ellipse cx="571.27" cy="641.75" rx="2.47" ry="2.25" transform="rotate(158 571.27 641.75)"/><ellipse cx="432.05" cy="757.22" rx="4.68" ry="2.14" transform="rotate(148 432.05 757.22)"/><ellipse cx="452.79" cy="681.9" rx="1.6" ry="1.65" transform="rotate(51 452.79 681.9)"/><ellipse cx="517.55" cy="701.06" rx="1.74" ry="1.71" transform="rotate(31 517.55 701.06)"/><ellipse cx="443.3" cy="727.92" rx="3.56" ry="1.97" transform="rotate(131 443.3 727.92)"/><ellipse cx="535.49" cy="727.26" rx="2.31" ry="1.71" transform="rotate(92 535.49 727.26)"/><ellipse cx="495.13" cy="647.51" rx="1.03" ry="1.07" transform="rotate(54 495.13 647.51)"/><ellipse cx="535.44" cy="726.4" rx="1.59" ry="1.92" transform="rotate(93 535.44 726.4)"/><ellipse cx="550.99" cy="704.75" rx="4.56" ry="2.47" transform="rotate(153 550.99 704.75)"/><ellipse cx="502.19" cy="726.02" rx="1.46" ry="1.3" transform="rotate(134 502.19 726.02)"/><ellipse cx="484.49" cy="703.78" rx="1.56" ry="1.29" transform="rotate(75 484.49 703.78)"/><ellipse cx="562.88" cy="730.59" rx="5.2" ry="2.39" transform="rotate(57 562.88 730.59)"/><ellipse cx="521.57" cy="650.95" rx="3" ry="1.63" transform="rotate(82 521.57 650.95)"/><ellipse cx="504.23" cy="716.41" rx="4.62" ry="2.44" transform="rotate(75 504.23 716.41)"/><ellipse cx="524.42" cy="654.52" rx="2.3" ry="1.73" transform="rotate(149 524.42 654.52)"/><ellipse cx="553.65" cy="678.84" rx="2.38" ry="1.44" transform="rotate(175 553.65 678.84)"/><ellipse cx="505.33" cy="724.28" rx="2.68" ry="1.53" transform="rotate(149 505.33 724.28)"/><ellipse cx="481.21" cy="692.7" rx="2.67" ry="1.73" transform="rotate(20 481.21 692.7)"/><ellipse cx="467.27" cy="649.64" rx="2.48" ry="2.1" transform="rotate(107 467.27 649.64)"/><ellipse cx="543.64" cy="716.35" rx="4.88" ry="2.24" transform="rotate(70 543.64 716.35)"/><ellipse cx="547.25" cy="701.91" rx="2.89" ry="1.42" transform="rotate(105 547.25 701.91)"/><ellipse cx="463.63" cy="670.89" rx="2.07" ry="1.37" transform="rotate(117 463.63 670.89)"/><ellipse cx="464.43" cy="738.99" rx="3.72" ry="1.89" transform="rotate(94 464.43 738.99)"/><ellipse cx="501.3" cy="654.09" rx="1.07" ry="1.17" transform="rotate(43 501.3 654.09)"/><ellipse cx="543.67" cy="760.57" rx="4.53" ry="2.38" transform="rotate(35 543.67 760.57)"/><ellipse cx="430.4" cy="664.35" rx="1.3" ry="1.4" transform="rotate(117 430.4 664.35)"/><ellipse cx="556.89" cy="750.05" rx="2.22" ry="2.39" transform="rotate(155 556.89 750.05)"/><ellipse cx="480.52" cy="759.09" rx="2.1" ry="1.1" transform="rotate(21 480.52 759.09)"/><ellipse cx="555.44" cy="719.84" rx="3.04" ry="1.55" transform="rotate(59 555.44 719.84)"/><ellipse cx="535.37" cy="713.37" rx="1.8" ry="1.48" transform="rotate(91 535.37 713.37)"/><ellipse cx="571.6" cy="649.33" rx="4.9" ry="2.35" transform="rotate(156 571.6 649.33)"/><ellipse cx="479.1" cy="660.57" rx="1.86" ry="1.38" transform="rotate(110 479.1 660.57)"/><ellipse cx="535.83" cy="649.22" rx="1.65" ry="1.8" transform="rotate(45 535.83 649.22)"/><ellipse cx="477.44" cy="665.27" rx="2.13" ry="2.42" transform="rotate(45 477.44 665.27)"/><ellipse cx="550.37" cy="708.54" rx="3.03" ry="1.49" transform="rotate(128 550.37 708.54)"/><ellipse cx="498.65" cy="708.94" rx="5.28" ry="2.4" transform="rotate(33 498.65 708.94)"/><ellipse cx="460.77" cy="667.56" rx="1.25" ry="1.26" transform="rotate(112 460.77 667.56)"/></g>
<g fill="#d06030" opacity="0.85" filter="url(#sblur)"><ellipse cx="436.19" cy="747.89" rx="2.69" ry="1.62" transform="rotate(106 436.19 747.89)"/><ellipse cx="548.77" cy="693.79" rx="3.23" ry="1.76" transform="rotate(95 548.77 693.79)"/><ellipse cx="530.5" cy="759.4" rx="1.95" ry="1.49" transform="rotate(135 530.5 759.4)"/><ellipse cx="455.11" cy="673.33" rx="4.18" ry="2.12" transform="rotate(70 455.11 673.33)"/><ellipse cx="501.79" cy="757.99" rx="3.27" ry="1.55" transform="rotate(74 501.79 757.99)"/><ellipse cx="547.65" cy="709.62" rx="1.33" ry="1.35" transform="rotate(125 547.65 709.62)"/><ellipse cx="523.83" cy="656.31" rx="1.15" ry="1.35" transform="rotate(95 523.83 656.31)"/><ellipse cx="502.79" cy="676.93" rx="1.11" ry="1.33" transform="rotate(36 502.79 676.93)"/><ellipse cx="551.14" cy="643.14" rx="2.8" ry="1.96" transform="rotate(32 551.14 643.14)"/><ellipse cx="541.81" cy="742.4" rx="2.56" ry="1.59" transform="rotate(27 541.81 742.4)"/><ellipse cx="482.78" cy="701.68" rx="3.93" ry="2.18" transform="rotate(94 482.78 701.68)"/><ellipse cx="574.39" cy="684.38" rx="3.64" ry="2.13" transform="rotate(122 574.39 684.38)"/><ellipse cx="553.09" cy="718.94" rx="2.36" ry="1.47" transform="rotate(95 553.09 718.94)"/><ellipse cx="539.65" cy="692.94" rx="3.2" ry="1.84" transform="rotate(36 539.65 692.94)"/><ellipse cx="565.86" cy="720.96" rx="1.51" ry="1.71" transform="rotate(59 565.86 720.96)"/><ellipse cx="503.28" cy="699.43" rx="1.53" ry="1.47" transform="rotate(35 503.28 699.43)"/><ellipse cx="523.77" cy="735.71" rx="3.49" ry="1.9" transform="rotate(149 523.77 735.71)"/><ellipse cx="529.36" cy="695.92" rx="1.66" ry="1.22" transform="rotate(127 529.36 695.92)"/><ellipse cx="493.9" cy="716.9" rx="2.57" ry="1.5" transform="rotate(87 493.9 716.9)"/><ellipse cx="447.39" cy="757.88" rx="1.72" ry="0.95" transform="rotate(170 447.39 757.88)"/><ellipse cx="495.29" cy="697.8" rx="2.09" ry="1.34" transform="rotate(151 495.29 697.8)"/><ellipse cx="453.06" cy="658.93" rx="1.8" ry="1.95" transform="rotate(170 453.06 658.93)"/><ellipse cx="540.51" cy="667.52" rx="1.95" ry="1.69" transform="rotate(50 540.51 667.52)"/><ellipse cx="569.94" cy="643.07" rx="2.78" ry="1.42" transform="rotate(81 569.94 643.07)"/><ellipse cx="474.06" cy="758.64" rx="3.35" ry="1.83" transform="rotate(147 474.06 758.64)"/><ellipse cx="472.28" cy="678.67" rx="0.95" ry="0.86" transform="rotate(81 472.28 678.67)"/><ellipse cx="554.78" cy="691.14" rx="1.66" ry="2.08" transform="rotate(174 554.78 691.14)"/><ellipse cx="441.42" cy="702.72" rx="3.21" ry="1.47" transform="rotate(107 441.42 702.72)"/><ellipse cx="562.42" cy="692.41" rx="1.01" ry="1.01" transform="rotate(170 562.42 692.41)"/><ellipse cx="532.45" cy="753.74" rx="1.23" ry="1.41" transform="rotate(104 532.45 753.74)"/><ellipse cx="530.78" cy="665.3" rx="0.75" ry="0.84" transform="rotate(124 530.78 665.3)"/><ellipse cx="474.17" cy="660.75" rx="1.72" ry="0.88" transform="rotate(79 474.17 660.75)"/><ellipse cx="466.41" cy="704.08" rx="2.25" ry="1.64" transform="rotate(53 466.41 704.08)"/><ellipse cx="532.17" cy="724.78" rx="1.05" ry="1.1" transform="rotate(167 532.17 724.78)"/><ellipse cx="575.14" cy="753.76" rx="2.23" ry="2.19" transform="rotate(80 575.14 753.76)"/><ellipse cx="462.79" cy="750.19" rx="2.89" ry="1.41" transform="rotate(140 462.79 750.19)"/><ellipse cx="529.27" cy="750.48" rx="4.35" ry="2.02" transform="rotate(158 529.27 750.48)"/><ellipse cx="447.54" cy="661.28" rx="1.43" ry="0.94" transform="rotate(86 447.54 661.28)"/><ellipse cx="518.29" cy="660.8" rx="1.26" ry="1.14" transform="rotate(173 518.29 660.8)"/><ellipse cx="516.35" cy="665.52" rx="2.8" ry="1.76" transform="rotate(68 516.35 665.52)"/><ellipse cx="437.87" cy="680.2" rx="2.76" ry="1.6" transform="rotate(152 437.87 680.2)"/><ellipse cx="486.52" cy="643.94" rx="1.61" ry="1.24" transform="rotate(79 486.52 643.94)"/><ellipse cx="444.8" cy="687.74" rx="3.46" ry="2" transform="rotate(114 444.8 687.74)"/><ellipse cx="488.55" cy="642.67" rx="2.3" ry="1.27" transform="rotate(51 488.55 642.67)"/><ellipse cx="429.54" cy="643.23" rx="3.15" ry="1.79" transform="rotate(81 429.54 643.23)"/><ellipse cx="482.76" cy="699.48" rx="2.67" ry="1.61" transform="rotate(29 482.76 699.48)"/><ellipse cx="435.26" cy="694.78" rx="0.77" ry="0.91" transform="rotate(63 435.26 694.78)"/><ellipse cx="521.43" cy="650.35" rx="1.7" ry="1.27" transform="rotate(80 521.43 650.35)"/><ellipse cx="565.26" cy="714.03" rx="3.94" ry="2.15" transform="rotate(70 565.26 714.03)"/><ellipse cx="521.02" cy="757.82" rx="3.13" ry="2.13" transform="rotate(119 521.02 757.82)"/><ellipse cx="514.41" cy="670.95" rx="4.19" ry="1.93" transform="rotate(176 514.41 670.95)"/><ellipse cx="435.74" cy="733.3" rx="3.62" ry="1.71" transform="rotate(133 435.74 733.3)"/><ellipse cx="497.93" cy="737.74" rx="0.99" ry="1.02" transform="rotate(157 497.93 737.74)"/><ellipse cx="503.34" cy="725.03" rx="3.81" ry="2.08" transform="rotate(145 503.34 725.03)"/><ellipse cx="508.71" cy="689.28" rx="1.52" ry="0.96" transform="rotate(76 508.71 689.28)"/><ellipse cx="450.9" cy="736.48" rx="2.67" ry="2.06" transform="rotate(135 450.9 736.48)"/><ellipse cx="435.44" cy="689.42" rx="1.92" ry="2.14" transform="rotate(63 435.44 689.42)"/><ellipse cx="509.56" cy="727.11" rx="2.49" ry="1.76" transform="rotate(179 509.56 727.11)"/><ellipse cx="568" cy="698.64" rx="0.79" ry="0.89" transform="rotate(74 568 698.64)"/><ellipse cx="437.3" cy="688.78" rx="1.65" ry="1.57" transform="rotate(124 437.3 688.78)"/><ellipse cx="475.3" cy="669.91" rx="1.23" ry="1.07" transform="rotate(97 475.3 669.91)"/><ellipse cx="431.52" cy="683.19" rx="1.47" ry="0.97" transform="rotate(146 431.52 683.19)"/><ellipse cx="433" cy="652.74" rx="2.1" ry="1.82" transform="rotate(27 433 652.74)"/><ellipse cx="442.83" cy="746.05" rx="1.99" ry="1.39" transform="rotate(176 442.83 746.05)"/><ellipse cx="553.36" cy="644.73" rx="1.39" ry="0.98" transform="rotate(85 553.36 644.73)"/><ellipse cx="527.22" cy="750.79" rx="1.33" ry="1.39" transform="rotate(97 527.22 750.79)"/><ellipse cx="497.33" cy="722.55" rx="1.35" ry="1.39" transform="rotate(18 497.33 722.55)"/><ellipse cx="534.49" cy="669.66" rx="1.78" ry="1.08" transform="rotate(170 534.49 669.66)"/><ellipse cx="552.02" cy="750.87" rx="1.68" ry="1.1" transform="rotate(85 552.02 750.87)"/><ellipse cx="574.23" cy="685.21" rx="2.89" ry="1.92" transform="rotate(143 574.23 685.21)"/><ellipse cx="551.08" cy="691.41" rx="1.8" ry="1.81" transform="rotate(96 551.08 691.41)"/><ellipse cx="563.99" cy="712.44" rx="2.29" ry="2.06" transform="rotate(40 563.99 712.44)"/><ellipse cx="523.31" cy="700.73" rx="3.16" ry="2.02" transform="rotate(22 523.31 700.73)"/><ellipse cx="492.88" cy="676.08" rx="1.28" ry="0.9" transform="rotate(127 492.88 676.08)"/><ellipse cx="492.18" cy="699.5" rx="2.33" ry="1.13" transform="rotate(11 492.18 699.5)"/><ellipse cx="562.95" cy="710.86" rx="1.49" ry="0.94" transform="rotate(158 562.95 710.86)"/><ellipse cx="481.2" cy="725.85" rx="0.95" ry="0.82" transform="rotate(179 481.2 725.85)"/><ellipse cx="482.4" cy="719.46" rx="0.93" ry="1.05" transform="rotate(124 482.4 719.46)"/><ellipse cx="567.27" cy="647.69" rx="1.49" ry="0.82" transform="rotate(25 567.27 647.69)"/><ellipse cx="474.75" cy="671.38" rx="4.32" ry="2.18" transform="rotate(90 474.75 671.38)"/><ellipse cx="546.75" cy="720.91" rx="1.19" ry="1.3" transform="rotate(164 546.75 720.91)"/><ellipse cx="564.15" cy="702.48" rx="2" ry="1.19" transform="rotate(107 564.15 702.48)"/><ellipse cx="431.59" cy="644.16" rx="2.32" ry="1.87" transform="rotate(128 431.59 644.16)"/><ellipse cx="467.14" cy="758.67" rx="4.3" ry="2.11" transform="rotate(131 467.14 758.67)"/><ellipse cx="483.96" cy="704.74" rx="2.5" ry="2" transform="rotate(162 483.96 704.74)"/><ellipse cx="520.9" cy="677.86" rx="0.98" ry="0.83" transform="rotate(4 520.9 677.86)"/><ellipse cx="505.96" cy="716.21" rx="2.33" ry="1.92" transform="rotate(36 505.96 716.21)"/><ellipse cx="472.05" cy="706.58" rx="1.09" ry="1.09" transform="rotate(10 472.05 706.58)"/><ellipse cx="534.84" cy="732.76" rx="1.16" ry="0.98" transform="rotate(171 534.84 732.76)"/><ellipse cx="466.02" cy="758.57" rx="3.21" ry="1.79" transform="rotate(174 466.02 758.57)"/><ellipse cx="447.36" cy="696.27" rx="3.88" ry="2.19" transform="rotate(133 447.36 696.27)"/><ellipse cx="559.11" cy="716.67" rx="3.06" ry="1.56" transform="rotate(136 559.11 716.67)"/><ellipse cx="465.63" cy="709.95" rx="3.5" ry="1.74" transform="rotate(87 465.63 709.95)"/><ellipse cx="559.32" cy="655.46" rx="1.33" ry="0.82" transform="rotate(177 559.32 655.46)"/><ellipse cx="487.13" cy="748.42" rx="4.34" ry="2.14" transform="rotate(148 487.13 748.42)"/><ellipse cx="506.36" cy="743.36" rx="1.73" ry="1.77" transform="rotate(160 506.36 743.36)"/><ellipse cx="510.6" cy="747.85" rx="3.12" ry="1.97" transform="rotate(161 510.6 747.85)"/><ellipse cx="460.05" cy="686.56" rx="1.73" ry="1.59" transform="rotate(116 460.05 686.56)"/><ellipse cx="539.91" cy="690.05" rx="3.23" ry="2.12" transform="rotate(108 539.91 690.05)"/><ellipse cx="500.46" cy="731.04" rx="1.25" ry="0.93" transform="rotate(82 500.46 731.04)"/><ellipse cx="490.63" cy="741.06" rx="2.57" ry="1.56" transform="rotate(15 490.63 741.06)"/><ellipse cx="569.66" cy="741.02" rx="3.34" ry="1.92" transform="rotate(59 569.66 741.02)"/><ellipse cx="511.04" cy="688.03" rx="1.45" ry="1.24" transform="rotate(86 511.04 688.03)"/><ellipse cx="546.72" cy="642.69" rx="1.69" ry="1.22" transform="rotate(137 546.72 642.69)"/><ellipse cx="466.14" cy="699.21" rx="1.48" ry="0.89" transform="rotate(146 466.14 699.21)"/><ellipse cx="563.27" cy="684.44" rx="1.89" ry="1.04" transform="rotate(59 563.27 684.44)"/><ellipse cx="455.52" cy="648.69" rx="2.31" ry="1.74" transform="rotate(133 455.52 648.69)"/><ellipse cx="461.25" cy="752.14" rx="1.62" ry="0.94" transform="rotate(75 461.25 752.14)"/><ellipse cx="432.23" cy="724.07" rx="1.82" ry="0.91" transform="rotate(156 432.23 724.07)"/><ellipse cx="534" cy="704.92" rx="3.23" ry="1.89" transform="rotate(148 534 704.92)"/><ellipse cx="526.35" cy="657.04" rx="3.05" ry="1.8" transform="rotate(88 526.35 657.04)"/><ellipse cx="469.77" cy="729.09" rx="2.12" ry="0.99" transform="rotate(146 469.77 729.09)"/><ellipse cx="436.16" cy="718.46" rx="3.31" ry="1.78" transform="rotate(2 436.16 718.46)"/><ellipse cx="430.69" cy="693.98" rx="2.98" ry="2.18" transform="rotate(170 430.69 693.98)"/><ellipse cx="435.39" cy="712.28" rx="1.78" ry="1.46" transform="rotate(140 435.39 712.28)"/><ellipse cx="488.39" cy="673.69" rx="1.27" ry="1.4" transform="rotate(84 488.39 673.69)"/><ellipse cx="455.84" cy="704.89" rx="1.06" ry="0.88" transform="rotate(78 455.84 704.89)"/><ellipse cx="550.27" cy="747.55" rx="1.1" ry="1.37" transform="rotate(109 550.27 747.55)"/><ellipse cx="542.66" cy="645.28" rx="1.67" ry="1.07" transform="rotate(20 542.66 645.28)"/><ellipse cx="498.14" cy="715.13" rx="2.1" ry="0.99" transform="rotate(126 498.14 715.13)"/><ellipse cx="555.95" cy="761.09" rx="0.76" ry="0.9" transform="rotate(66 555.95 761.09)"/><ellipse cx="470.02" cy="707.68" rx="1.52" ry="1.29" transform="rotate(129 470.02 707.68)"/><ellipse cx="555.11" cy="697.08" rx="1" ry="1.13" transform="rotate(58 555.11 697.08)"/><ellipse cx="492.78" cy="647.22" rx="1.96" ry="0.96" transform="rotate(67 492.78 647.22)"/><ellipse cx="556.88" cy="728.28" rx="1.73" ry="1.75" transform="rotate(80 556.88 728.28)"/><ellipse cx="553.63" cy="723.65" rx="3.85" ry="2.01" transform="rotate(96 553.63 723.65)"/><ellipse cx="499.97" cy="699.56" rx="1.22" ry="0.9" transform="rotate(97 499.97 699.56)"/><ellipse cx="475.74" cy="678.31" rx="1.17" ry="1.46" transform="rotate(63 475.74 678.31)"/><ellipse cx="438.09" cy="650.43" rx="2.49" ry="1.55" transform="rotate(35 438.09 650.43)"/><ellipse cx="431.98" cy="642.54" rx="1.82" ry="1.65" transform="rotate(126 431.98 642.54)"/><ellipse cx="493.85" cy="666.06" rx="2.43" ry="1.2" transform="rotate(77 493.85 666.06)"/><ellipse cx="499.84" cy="745.69" rx="2.83" ry="1.43" transform="rotate(74 499.84 745.69)"/><ellipse cx="559.5" cy="757.94" rx="1.59" ry="1.89" transform="rotate(178 559.5 757.94)"/><ellipse cx="445.15" cy="728.2" rx="1.52" ry="1.11" transform="rotate(55 445.15 728.2)"/><ellipse cx="512.68" cy="740.33" rx="3.36" ry="2.02" transform="rotate(45 512.68 740.33)"/><ellipse cx="565.23" cy="696.62" rx="2.14" ry="2.04" transform="rotate(149 565.23 696.62)"/><ellipse cx="464.07" cy="687.11" rx="2.77" ry="1.37" transform="rotate(106 464.07 687.11)"/><ellipse cx="529.99" cy="660.31" rx="1.42" ry="0.8" transform="rotate(27 529.99 660.31)"/><ellipse cx="552.5" cy="684.05" rx="2.01" ry="1.43" transform="rotate(24 552.5 684.05)"/><ellipse cx="432.59" cy="675.57" rx="3.93" ry="1.93" transform="rotate(105 432.59 675.57)"/><ellipse cx="475.83" cy="691.56" rx="0.7" ry="0.86" transform="rotate(147 475.83 691.56)"/><ellipse cx="447.85" cy="698.31" rx="3.54" ry="1.94" transform="rotate(115 447.85 698.31)"/><ellipse cx="446.51" cy="697.79" rx="2.48" ry="1.85" transform="rotate(81 446.51 697.79)"/><ellipse cx="550.37" cy="710.88" rx="1.41" ry="1.28" transform="rotate(41 550.37 710.88)"/><ellipse cx="485.63" cy="663.85" rx="1.06" ry="1.24" transform="rotate(120 485.63 663.85)"/><ellipse cx="466.17" cy="657.73" rx="2.33" ry="1.67" transform="rotate(38 466.17 657.73)"/><ellipse cx="521.5" cy="747" rx="2.48" ry="2" transform="rotate(10 521.5 747)"/><ellipse cx="535.46" cy="703.19" rx="2.82" ry="1.59" transform="rotate(107 535.46 703.19)"/><ellipse cx="567" cy="732.92" rx="3.68" ry="1.94" transform="rotate(20 567 732.92)"/><ellipse cx="518.61" cy="733.01" rx="0.89" ry="0.92" transform="rotate(68 518.61 733.01)"/><ellipse cx="510.14" cy="735.17" rx="3.67" ry="1.72" transform="rotate(39 510.14 735.17)"/><ellipse cx="501.77" cy="733.16" rx="2.72" ry="2.12" transform="rotate(77 501.77 733.16)"/><ellipse cx="487.9" cy="644.59" rx="2.15" ry="1.41" transform="rotate(76 487.9 644.59)"/><ellipse cx="430.13" cy="668.96" rx="3.17" ry="2.2" transform="rotate(20 430.13 668.96)"/><ellipse cx="493.01" cy="753.59" rx="1.25" ry="0.86" transform="rotate(135 493.01 753.59)"/><ellipse cx="454.9" cy="667.64" rx="1.92" ry="1.97" transform="rotate(93 454.9 667.64)"/><ellipse cx="569.12" cy="724.51" rx="2.13" ry="2.08" transform="rotate(4 569.12 724.51)"/><ellipse cx="505.26" cy="735.37" rx="1.78" ry="0.91" transform="rotate(8 505.26 735.37)"/><ellipse cx="479.45" cy="646.68" rx="2.5" ry="1.49" transform="rotate(97 479.45 646.68)"/><ellipse cx="521.42" cy="738.61" rx="3" ry="1.58" transform="rotate(89 521.42 738.61)"/><ellipse cx="481.95" cy="740.06" rx="1.4" ry="1.57" transform="rotate(150 481.95 740.06)"/><ellipse cx="499.3" cy="681.05" rx="1.92" ry="1.03" transform="rotate(149 499.3 681.05)"/><ellipse cx="531.41" cy="734.01" rx="2.79" ry="2.08" transform="rotate(57 531.41 734.01)"/><ellipse cx="509.98" cy="722.48" rx="1.09" ry="1.36" transform="rotate(153 509.98 722.48)"/><ellipse cx="475.01" cy="752.05" rx="1.72" ry="1.01" transform="rotate(143 475.01 752.05)"/><ellipse cx="445.36" cy="719.1" rx="2.05" ry="2.17" transform="rotate(10 445.36 719.1)"/><ellipse cx="528.86" cy="658.01" rx="1.01" ry="1.04" transform="rotate(82 528.86 658.01)"/><ellipse cx="575.35" cy="752.66" rx="3.56" ry="1.99" transform="rotate(137 575.35 752.66)"/><ellipse cx="433.35" cy="700.63" rx="1.58" ry="0.99" transform="rotate(3 433.35 700.63)"/><ellipse cx="526.42" cy="654.99" rx="3.56" ry="1.65" transform="rotate(79 526.42 654.99)"/><ellipse cx="467.36" cy="718.43" rx="3.27" ry="1.96" transform="rotate(88 467.36 718.43)"/><ellipse cx="436.92" cy="707.72" rx="1.91" ry="1.47" transform="rotate(103 436.92 707.72)"/><ellipse cx="488.32" cy="658" rx="3.91" ry="2.03" transform="rotate(112 488.32 658)"/><ellipse cx="486.95" cy="669.48" rx="2.36" ry="1.53" transform="rotate(12 486.95 669.48)"/><ellipse cx="448.04" cy="757.16" rx="1.87" ry="1.55" transform="rotate(154 448.04 757.16)"/><ellipse cx="482.43" cy="702.99" rx="1.51" ry="1.04" transform="rotate(93 482.43 702.99)"/><ellipse cx="434.68" cy="705.38" rx="2.17" ry="1.92" transform="rotate(56 434.68 705.38)"/><ellipse cx="518.05" cy="702.93" rx="2.79" ry="2.16" transform="rotate(179 518.05 702.93)"/><ellipse cx="452.47" cy="649.23" rx="2.16" ry="1.05" transform="rotate(89 452.47 649.23)"/><ellipse cx="441.53" cy="689.33" rx="1.21" ry="0.88" transform="rotate(16 441.53 689.33)"/></g>
<g fill="#201c08" opacity="0.7" filter="url(#sblur)"><ellipse cx="460.03" cy="747.62" rx="2.41" ry="1.27" transform="rotate(34 460.03 747.62)"/><ellipse cx="478.97" cy="715.64" rx="1.63" ry="1.16" transform="rotate(27 478.97 715.64)"/><ellipse cx="522.11" cy="751.78" rx="4.04" ry="1.98" transform="rotate(165 522.11 751.78)"/><ellipse cx="485.53" cy="747.99" rx="2.99" ry="1.68" transform="rotate(159 485.53 747.99)"/><ellipse cx="462.43" cy="705.36" rx="3.82" ry="1.95" transform="rotate(41 462.43 705.36)"/><ellipse cx="427.78" cy="678.54" rx="1.62" ry="1.02" transform="rotate(122 427.78 678.54)"/><ellipse cx="483.78" cy="726.1" rx="3.03" ry="1.69" transform="rotate(37 483.78 726.1)"/><ellipse cx="576.47" cy="662.61" rx="2.73" ry="1.4" transform="rotate(66 576.47 662.61)"/><ellipse cx="450.3" cy="659.5" rx="2.52" ry="1.31" transform="rotate(19 450.3 659.5)"/><ellipse cx="510.74" cy="644.39" rx="1.95" ry="1.29" transform="rotate(97 510.74 644.39)"/><ellipse cx="451.25" cy="717.06" rx="2.19" ry="1.21" transform="rotate(121 451.25 717.06)"/><ellipse cx="481.64" cy="752.13" rx="2.78" ry="1.61" transform="rotate(37 481.64 752.13)"/><ellipse cx="465.75" cy="731.49" rx="2.48" ry="1.62" transform="rotate(179 465.75 731.49)"/><ellipse cx="517" cy="723.57" rx="3.32" ry="1.81" transform="rotate(24 517 723.57)"/><ellipse cx="461.87" cy="723" rx="1.63" ry="1.19" transform="rotate(139 461.87 723)"/><ellipse cx="559.9" cy="672.57" rx="1.96" ry="1.12" transform="rotate(156 559.9 672.57)"/><ellipse cx="497.83" cy="648.89" rx="2.79" ry="1.39" transform="rotate(150 497.83 648.89)"/><ellipse cx="555.95" cy="669.65" rx="1.72" ry="1.25" transform="rotate(34 555.95 669.65)"/><ellipse cx="492.98" cy="734.36" rx="1.66" ry="1.98" transform="rotate(71 492.98 734.36)"/><ellipse cx="547.45" cy="645.86" rx="2.07" ry="1.74" transform="rotate(167 547.45 645.86)"/><ellipse cx="467.63" cy="685.34" rx="1.66" ry="1.05" transform="rotate(48 467.63 685.34)"/><ellipse cx="533.14" cy="669.12" rx="2.88" ry="1.32" transform="rotate(18 533.14 669.12)"/><ellipse cx="570.47" cy="667.07" rx="2.09" ry="1.69" transform="rotate(179 570.47 667.07)"/><ellipse cx="450.09" cy="739.78" rx="1.66" ry="1.02" transform="rotate(17 450.09 739.78)"/><ellipse cx="529.88" cy="661" rx="1.67" ry="1.71" transform="rotate(118 529.88 661)"/><ellipse cx="478.34" cy="652.17" rx="1.68" ry="1.02" transform="rotate(17 478.34 652.17)"/><ellipse cx="518.31" cy="741.66" rx="1.25" ry="1.29" transform="rotate(104 518.31 741.66)"/><ellipse cx="430.81" cy="715.01" rx="2.6" ry="1.65" transform="rotate(147 430.81 715.01)"/><ellipse cx="473.61" cy="748.8" rx="1.71" ry="1.54" transform="rotate(70 473.61 748.8)"/><ellipse cx="534.57" cy="654.42" rx="1.92" ry="1.56" transform="rotate(47 534.57 654.42)"/><ellipse cx="542.71" cy="672.15" rx="2.89" ry="1.65" transform="rotate(109 542.71 672.15)"/><ellipse cx="542.22" cy="735.89" rx="1.36" ry="1.43" transform="rotate(63 542.22 735.89)"/><ellipse cx="448.92" cy="728.49" rx="1.5" ry="1.5" transform="rotate(3 448.92 728.49)"/><ellipse cx="559.57" cy="706.45" rx="1.11" ry="1.26" transform="rotate(77 559.57 706.45)"/><ellipse cx="553.13" cy="668.18" rx="2.9" ry="1.53" transform="rotate(95 553.13 668.18)"/><ellipse cx="476.69" cy="705.27" rx="2.33" ry="1.38" transform="rotate(174 476.69 705.27)"/><ellipse cx="443.86" cy="649.14" rx="3.12" ry="1.81" transform="rotate(41 443.86 649.14)"/><ellipse cx="452.63" cy="702.03" rx="2.76" ry="1.56" transform="rotate(32 452.63 702.03)"/><ellipse cx="463.19" cy="704.77" rx="1.56" ry="1.15" transform="rotate(19 463.19 704.77)"/><ellipse cx="504.1" cy="741.96" rx="2.98" ry="1.91" transform="rotate(15 504.1 741.96)"/><ellipse cx="567.59" cy="707.21" rx="1.69" ry="1.08" transform="rotate(142 567.59 707.21)"/><ellipse cx="491.55" cy="676.6" rx="3.73" ry="1.79" transform="rotate(130 491.55 676.6)"/><ellipse cx="479.17" cy="678.6" rx="2.5" ry="1.73" transform="rotate(147 479.17 678.6)"/><ellipse cx="556.84" cy="729.55" rx="1.66" ry="1.24" transform="rotate(122 556.84 729.55)"/><ellipse cx="565.12" cy="654.38" rx="1.15" ry="1.25" transform="rotate(101 565.12 654.38)"/><ellipse cx="555.45" cy="696.42" rx="3.38" ry="1.76" transform="rotate(54 555.45 696.42)"/><ellipse cx="568.29" cy="719.38" rx="1.36" ry="1.6" transform="rotate(56 568.29 719.38)"/><ellipse cx="440.22" cy="681.83" rx="1.6" ry="1.23" transform="rotate(52 440.22 681.83)"/><ellipse cx="473.46" cy="760.79" rx="2.93" ry="1.33" transform="rotate(112 473.46 760.79)"/><ellipse cx="440.37" cy="650.36" rx="1.65" ry="1.41" transform="rotate(101 440.37 650.36)"/><ellipse cx="459.14" cy="657.7" rx="1.63" ry="1.02" transform="rotate(43 459.14 657.7)"/><ellipse cx="475.98" cy="681.71" rx="1.32" ry="1.61" transform="rotate(119 475.98 681.71)"/><ellipse cx="465.07" cy="662.84" rx="1.57" ry="1.57" transform="rotate(58 465.07 662.84)"/><ellipse cx="466.29" cy="682.76" rx="1.88" ry="1.54" transform="rotate(111 466.29 682.76)"/><ellipse cx="531.61" cy="731.16" rx="1.17" ry="1.27" transform="rotate(52 531.61 731.16)"/><ellipse cx="462.42" cy="692.47" rx="1.54" ry="1.36" transform="rotate(0 462.42 692.47)"/><ellipse cx="437.59" cy="688.38" rx="2.69" ry="1.42" transform="rotate(32 437.59 688.38)"/><ellipse cx="522.18" cy="741.05" rx="3.62" ry="1.96" transform="rotate(87 522.18 741.05)"/><ellipse cx="453.42" cy="665.7" rx="0.82" ry="1.02" transform="rotate(83 453.42 665.7)"/><ellipse cx="532.79" cy="677.34" rx="1.07" ry="1.14" transform="rotate(131 532.79 677.34)"/></g>
<g fill="#3e9234" stroke="#3a5020" stroke-width="0.5" opacity="1"><circle cx="491.17" cy="759.58" r="8.49"/><circle cx="509.58" cy="705.22" r="8.44"/><circle cx="571.59" cy="763.23" r="8.43"/><circle cx="441.25" cy="695.51" r="8.42"/><circle cx="498.31" cy="738.93" r="8.42"/><circle cx="556.8" cy="752.57" r="8.42"/><circle cx="548.43" cy="722.57" r="8.35"/><circle cx="457.55" cy="719.27" r="8.35"/><circle cx="542.38" cy="655.57" r="8.34"/><circle cx="552.13" cy="680.38" r="8.32"/><circle cx="466.33" cy="667.61" r="8.31"/><circle cx="523.67" cy="660.93" r="8.28"/><circle cx="556.15" cy="708.08" r="8.27"/><circle cx="495.22" cy="676.36" r="8.22"/><circle cx="485.63" cy="700.37" r="8.18"/><circle cx="577.05" cy="682.15" r="8.15"/><circle cx="428.09" cy="656.84" r="8.13"/><circle cx="477.29" cy="716.17" r="8.11"/><circle cx="459.1" cy="747.22" r="8.1"/><circle cx="485.11" cy="661.23" r="8.09"/><circle cx="445.35" cy="637.85" r="8.09"/><circle cx="501.72" cy="655.24" r="8.03"/><circle cx="560.45" cy="655.9" r="8.01"/><circle cx="445.73" cy="669.76" r="7.99"/><circle cx="579.93" cy="652.43" r="7.98"/><circle cx="482.1" cy="736.09" r="7.96"/><circle cx="565.87" cy="734.01" r="7.95"/><circle cx="460" cy="701.54" r="7.94"/><circle cx="531.41" cy="682.53" r="7.93"/><circle cx="573.52" cy="717.99" r="7.89"/><circle cx="423.93" cy="729.51" r="7.88"/><circle cx="425.61" cy="689.35" r="7.86"/><circle cx="462.26" cy="647.56" r="7.83"/><circle cx="510.31" cy="762.27" r="7.82"/><circle cx="528.3" cy="732.31" r="7.82"/><circle cx="478.14" cy="681.94" r="7.8"/><circle cx="518.08" cy="639.07" r="7.76"/><circle cx="435.53" cy="742.62" r="7.76"/><circle cx="426.43" cy="708.76" r="7.7"/><circle cx="532.96" cy="715.62" r="7.69"/><circle cx="536.64" cy="759.73" r="7.67"/><circle cx="540.38" cy="742.39" r="7.65"/><circle cx="475.4" cy="754.94" r="7.63"/><circle cx="520.83" cy="693.71" r="7.61"/><circle cx="440.51" cy="721.98" r="7.58"/><circle cx="459.11" cy="682.25" r="7.57"/><circle cx="511.48" cy="724.02" r="7.57"/><circle cx="571.81" cy="637.77" r="7.52"/><circle cx="439.2" cy="762.72" r="7.52"/><circle cx="515.94" cy="741.41" r="7.51"/><circle cx="485.57" cy="642.07" r="7.49"/><circle cx="552.7" cy="641.88" r="7.49"/><circle cx="572.24" cy="699.56" r="7.49"/><circle cx="510.88" cy="670.3" r="7.48"/><circle cx="496.06" cy="716.79" r="7.44"/><circle cx="540.85" cy="697.56" r="7.42"/><circle cx="500.15" cy="638.21" r="7.41"/><circle cx="537.86" cy="639.9" r="7.37"/><circle cx="443.78" cy="653.39" r="7.36"/><circle cx="424.26" cy="752.71" r="7.34"/><circle cx="428.1" cy="640.53" r="7.32"/><circle cx="574.72" cy="746.54" r="7.26"/><circle cx="424.08" cy="673.17" r="7.18"/><circle cx="457.44" cy="763.25" r="7.18"/><circle cx="466.71" cy="732.38" r="7.13"/><circle cx="498.71" cy="691.76" r="7.12"/><circle cx="572.07" cy="667.09" r="7.08"/><circle cx="449.4" cy="734.36" r="7.02"/><circle cx="522.44" cy="754.93" r="6.36"/><circle cx="539.11" cy="670.4" r="6.17"/><circle cx="559.97" cy="694.1" r="6.1"/><circle cx="511.25" cy="683.93" r="6"/><circle cx="436.61" cy="681.08" r="5.92"/><circle cx="446.82" cy="709.24" r="5.9"/><circle cx="579.19" cy="730.4" r="5.79"/><circle cx="552.56" cy="735.97" r="5.6"/><circle cx="469.97" cy="692.93" r="5.31"/><circle cx="523.7" cy="706.83" r="5.26"/><circle cx="549.99" cy="667.17" r="5.16"/><circle cx="528.19" cy="647.63" r="5.05"/><circle cx="455.61" cy="659.44" r="4.97"/><circle cx="474.81" cy="651.08" r="4.93"/><circle cx="447.18" cy="752.87" r="4.92"/><circle cx="514.61" cy="651.74" r="4.72"/><circle cx="473.19" cy="639.23" r="4.6"/><circle cx="506.32" cy="749.13" r="4.56"/><circle cx="561.53" cy="671.9" r="4.52"/><circle cx="527.5" cy="744.39" r="4.48"/><circle cx="520.42" cy="715.98" r="4.44"/><circle cx="447.42" cy="682.57" r="4.29"/><circle cx="487.04" cy="747.66" r="4.26"/><circle cx="564.63" cy="683.05" r="4.23"/><circle cx="488.19" cy="725.66" r="4.2"/><circle cx="488.13" cy="688.48" r="4.11"/><circle cx="561.77" cy="720.2" r="4.11"/><circle cx="521.69" cy="674.83" r="4.07"/><circle cx="470.75" cy="742.67" r="3.98"/><circle cx="472.56" cy="703.2" r="3.92"/><circle cx="497.06" cy="705.68" r="3.74"/><circle cx="542.9" cy="710.04" r="3.73"/><circle cx="453.06" cy="692.03" r="3.71"/><circle cx="433.49" cy="667.56" r="3.61"/><circle cx="547.93" cy="760.73" r="3.45"/><circle cx="437.73" cy="706.89" r="3.45"/><circle cx="466.87" cy="711" r="3.39"/><circle cx="529.99" cy="699.89" r="3.37"/><circle cx="490.88" cy="651.46" r="3.31"/><circle cx="479.13" cy="671.03" r="3.27"/><circle cx="507.94" cy="645.39" r="3.25"/><circle cx="529.66" cy="670.97" r="3.23"/><circle cx="540.07" cy="731.39" r="3.21"/></g>
<g fill="#52c04a" opacity="0.6"><circle cx="565.87" cy="734.01" r="7.95"/><circle cx="561.53" cy="671.9" r="4.52"/></g>
<circle cx="449.1" cy="655.4" r="26" fill="#58c048" opacity="0.55" filter="url(#blur6)"/>
<g fill="#d86830" opacity="0.65"><ellipse cx="434.73" cy="698.06" rx="0.65" ry="0.55" transform="rotate(0 434.73 698.06)"/><ellipse cx="505.43" cy="716.03" rx="1.78" ry="1.22" transform="rotate(136 505.43 716.03)"/><ellipse cx="495.42" cy="665.66" rx="1.16" ry="1.06" transform="rotate(98 495.42 665.66)"/><ellipse cx="521.89" cy="723.68" rx="1.18" ry="1.1" transform="rotate(144 521.89 723.68)"/><ellipse cx="515.99" cy="661.36" rx="2.45" ry="1.3" transform="rotate(29 515.99 661.36)"/><ellipse cx="509.97" cy="729.97" rx="2.04" ry="1.06" transform="rotate(64 509.97 729.97)"/><ellipse cx="465.98" cy="747.74" rx="1.45" ry="0.96" transform="rotate(127 465.98 747.74)"/><ellipse cx="563.37" cy="722.49" rx="0.57" ry="0.6" transform="rotate(82 563.37 722.49)"/><ellipse cx="563.42" cy="714.88" rx="2.17" ry="1.16" transform="rotate(12 563.42 714.88)"/><ellipse cx="511.48" cy="652.32" rx="1.06" ry="0.89" transform="rotate(68 511.48 652.32)"/><ellipse cx="572.77" cy="692.21" rx="2.06" ry="1.08" transform="rotate(117 572.77 692.21)"/><ellipse cx="533.93" cy="661.95" rx="1.06" ry="1.08" transform="rotate(29 533.93 661.95)"/><ellipse cx="490.35" cy="659.81" rx="0.85" ry="0.57" transform="rotate(166 490.35 659.81)"/><ellipse cx="554.34" cy="675.67" rx="0.99" ry="0.57" transform="rotate(69 554.34 675.67)"/><ellipse cx="569.42" cy="662.04" rx="1.45" ry="1.03" transform="rotate(149 569.42 662.04)"/><ellipse cx="513.21" cy="722.15" rx="0.99" ry="0.67" transform="rotate(136 513.21 722.15)"/><ellipse cx="502.21" cy="683.89" rx="1.18" ry="0.97" transform="rotate(91 502.21 683.89)"/><ellipse cx="444.69" cy="703.2" rx="1.41" ry="1.37" transform="rotate(84 444.69 703.2)"/><ellipse cx="515.8" cy="690.11" rx="1.77" ry="1.01" transform="rotate(63 515.8 690.11)"/><ellipse cx="469.26" cy="715.2" rx="0.82" ry="0.79" transform="rotate(55 469.26 715.2)"/><ellipse cx="476.13" cy="718.8" rx="1" ry="0.56" transform="rotate(174 476.13 718.8)"/><ellipse cx="534.51" cy="657.65" rx="0.98" ry="0.52" transform="rotate(142 534.51 657.65)"/><ellipse cx="433.77" cy="652.85" rx="2.27" ry="1.31" transform="rotate(134 433.77 652.85)"/><ellipse cx="433.89" cy="719.93" rx="1.13" ry="1.17" transform="rotate(169 433.89 719.93)"/><ellipse cx="494.27" cy="705.95" rx="1.32" ry="0.99" transform="rotate(160 494.27 705.95)"/><ellipse cx="477.59" cy="692.54" rx="1.79" ry="1.38" transform="rotate(86 477.59 692.54)"/><ellipse cx="440.87" cy="687.82" rx="1.41" ry="1.26" transform="rotate(120 440.87 687.82)"/><ellipse cx="537.18" cy="737.88" rx="1.7" ry="0.93" transform="rotate(159 537.18 737.88)"/><ellipse cx="529.18" cy="646.69" rx="1.08" ry="1.15" transform="rotate(107 529.18 646.69)"/><ellipse cx="466.52" cy="722.68" rx="1.82" ry="1.31" transform="rotate(11 466.52 722.68)"/><ellipse cx="471.23" cy="738.84" rx="1.72" ry="0.81" transform="rotate(81 471.23 738.84)"/><ellipse cx="442.85" cy="646.09" rx="2.39" ry="1.21" transform="rotate(2 442.85 646.09)"/><ellipse cx="451.15" cy="688.25" rx="1.08" ry="0.97" transform="rotate(63 451.15 688.25)"/><ellipse cx="500.45" cy="695" rx="1.49" ry="0.88" transform="rotate(129 500.45 695)"/><ellipse cx="531.83" cy="657.78" rx="1.44" ry="0.74" transform="rotate(156 531.83 657.78)"/><ellipse cx="514.38" cy="705.84" rx="1.02" ry="0.9" transform="rotate(170 514.38 705.84)"/><ellipse cx="575.92" cy="754.98" rx="1.48" ry="0.71" transform="rotate(170 575.92 754.98)"/><ellipse cx="462.02" cy="705.11" rx="1.96" ry="1.15" transform="rotate(26 462.02 705.11)"/><ellipse cx="462.47" cy="686.77" rx="0.89" ry="0.74" transform="rotate(73 462.47 686.77)"/><ellipse cx="559.65" cy="670.66" rx="1.22" ry="0.7" transform="rotate(160 559.65 670.66)"/><ellipse cx="557.79" cy="654.19" rx="1.72" ry="1.17" transform="rotate(106 557.79 654.19)"/><ellipse cx="456.3" cy="721.12" rx="1.54" ry="1.1" transform="rotate(124 456.3 721.12)"/><ellipse cx="545.13" cy="686.4" rx="1.36" ry="0.88" transform="rotate(138 545.13 686.4)"/><ellipse cx="430.14" cy="651.26" rx="2.4" ry="1.34" transform="rotate(130 430.14 651.26)"/><ellipse cx="505.52" cy="673.39" rx="0.79" ry="0.65" transform="rotate(20 505.52 673.39)"/><ellipse cx="560.1" cy="681.75" rx="1.2" ry="0.95" transform="rotate(95 560.1 681.75)"/><ellipse cx="531.09" cy="729.09" rx="1.1" ry="1.03" transform="rotate(52 531.09 729.09)"/><ellipse cx="465.03" cy="753.94" rx="1.85" ry="0.98" transform="rotate(24 465.03 753.94)"/><ellipse cx="503.45" cy="743.02" rx="1.38" ry="0.77" transform="rotate(169 503.45 743.02)"/><ellipse cx="450.96" cy="727.97" rx="2.05" ry="1.15" transform="rotate(135 450.96 727.97)"/><ellipse cx="486.67" cy="736.09" rx="1.37" ry="0.93" transform="rotate(106 486.67 736.09)"/><ellipse cx="521.71" cy="749.25" rx="1.16" ry="0.94" transform="rotate(74 521.71 749.25)"/><ellipse cx="526.34" cy="685.61" rx="1.08" ry="1.1" transform="rotate(43 526.34 685.61)"/><ellipse cx="538.09" cy="656.64" rx="1.27" ry="0.62" transform="rotate(177 538.09 656.64)"/><ellipse cx="566.23" cy="679.2" rx="1.53" ry="1.31" transform="rotate(96 566.23 679.2)"/><ellipse cx="436.57" cy="705.06" rx="2.03" ry="0.98" transform="rotate(66 436.57 705.06)"/><ellipse cx="485.8" cy="664.06" rx="2.32" ry="1.12" transform="rotate(78 485.8 664.06)"/><ellipse cx="462.39" cy="736.32" rx="1.27" ry="0.85" transform="rotate(67 462.39 736.32)"/><ellipse cx="552.02" cy="700.94" rx="1.42" ry="0.7" transform="rotate(5 552.02 700.94)"/><ellipse cx="569.14" cy="706.23" rx="2.1" ry="0.99" transform="rotate(32 569.14 706.23)"/><ellipse cx="463.94" cy="702.41" rx="1.19" ry="0.85" transform="rotate(146 463.94 702.41)"/><ellipse cx="478.12" cy="717.34" rx="1.51" ry="0.74" transform="rotate(114 478.12 717.34)"/><ellipse cx="479.71" cy="666.82" rx="1.18" ry="1" transform="rotate(91 479.71 666.82)"/><ellipse cx="432.51" cy="744.39" rx="0.67" ry="0.61" transform="rotate(155 432.51 744.39)"/><ellipse cx="538.26" cy="688.11" rx="1.03" ry="1.01" transform="rotate(97 538.26 688.11)"/><ellipse cx="478.76" cy="735.56" rx="1.82" ry="0.85" transform="rotate(127 478.76 735.56)"/><ellipse cx="429.29" cy="748.99" rx="2.69" ry="1.33" transform="rotate(153 429.29 748.99)"/><ellipse cx="569.26" cy="705.62" rx="1.8" ry="1.04" transform="rotate(130 569.26 705.62)"/><ellipse cx="471.62" cy="677.83" rx="0.98" ry="0.6" transform="rotate(170 471.62 677.83)"/><ellipse cx="558.96" cy="693.99" rx="0.95" ry="0.56" transform="rotate(78 558.96 693.99)"/></g>
<g fill="#201a08" opacity="0.6"><ellipse cx="519.17" cy="724.42" rx="2.14" ry="1.41" transform="rotate(60 519.17 724.42)"/><ellipse cx="492.37" cy="674.46" rx="0.89" ry="1.06" transform="rotate(0 492.37 674.46)"/><ellipse cx="434.2" cy="722.96" rx="2.47" ry="1.19" transform="rotate(147 434.2 722.96)"/><ellipse cx="501.22" cy="720.91" rx="2.05" ry="1.46" transform="rotate(33 501.22 720.91)"/><ellipse cx="495.06" cy="668.02" rx="1.57" ry="1.01" transform="rotate(33 495.06 668.02)"/><ellipse cx="444.77" cy="739.67" rx="3.06" ry="1.45" transform="rotate(13 444.77 739.67)"/><ellipse cx="447.43" cy="728.47" rx="1.31" ry="1.58" transform="rotate(111 447.43 728.47)"/><ellipse cx="573.44" cy="714.02" rx="2.24" ry="1.26" transform="rotate(33 573.44 714.02)"/><ellipse cx="433.87" cy="734.36" rx="2.09" ry="1.25" transform="rotate(81 433.87 734.36)"/><ellipse cx="433.03" cy="749.72" rx="1.84" ry="1.42" transform="rotate(93 433.03 749.72)"/><ellipse cx="529.34" cy="726.25" rx="2.94" ry="1.52" transform="rotate(81 529.34 726.25)"/><ellipse cx="568.19" cy="673.44" rx="1.24" ry="1.3" transform="rotate(5 568.19 673.44)"/><ellipse cx="543.47" cy="692.49" rx="1.32" ry="1.55" transform="rotate(103 543.47 692.49)"/><ellipse cx="527.24" cy="733.15" rx="0.89" ry="1.05" transform="rotate(51 527.24 733.15)"/><ellipse cx="458.6" cy="644.53" rx="1.76" ry="0.92" transform="rotate(10 458.6 644.53)"/><ellipse cx="432.74" cy="746.86" rx="2.11" ry="1.13" transform="rotate(47 432.74 746.86)"/><ellipse cx="548.08" cy="656.58" rx="0.82" ry="0.88" transform="rotate(133 548.08 656.58)"/><ellipse cx="464.65" cy="656.03" rx="1.3" ry="1.18" transform="rotate(164 464.65 656.03)"/><ellipse cx="546.19" cy="735.57" rx="2.42" ry="1.59" transform="rotate(8 546.19 735.57)"/><ellipse cx="484.26" cy="718.27" rx="0.93" ry="1.09" transform="rotate(51 484.26 718.27)"/><ellipse cx="520.04" cy="660.4" rx="1.56" ry="1.02" transform="rotate(41 520.04 660.4)"/><ellipse cx="570.2" cy="751" rx="2.15" ry="1.08" transform="rotate(34 570.2 751)"/><ellipse cx="431.52" cy="735.21" rx="0.93" ry="0.87" transform="rotate(90 431.52 735.21)"/><ellipse cx="449.87" cy="697.19" rx="1.28" ry="1.04" transform="rotate(113 449.87 697.19)"/><ellipse cx="465.26" cy="735.11" rx="1.21" ry="1.45" transform="rotate(108 465.26 735.11)"/></g>
</g>
<path d="M551.5 754.4h17" stroke="#e8f0e0" stroke-width="0.6" opacity="0.8"/>
<rect x="557" y="755.1" width="6" height="1.8" fill="#e8f0e0" opacity="0.7"/>
</g>
<clipPath id="cl9"><rect x="591.5" y="641.4" width="149.4" height="120"/></clipPath>
<g clip-path="url(#cl9)"><g filter="url(#mblur)">
<rect x="588.5" y="638.4" width="155.4" height="126" fill="#5e9432"/>
<g fill="#48a038" opacity="0.5" filter="url(#blur3)"><circle cx="660.67" cy="686.2" r="9.11"/><circle cx="720.96" cy="642.17" r="12.02"/><circle cx="725.71" cy="651.1" r="12.43"/><circle cx="683.63" cy="646.31" r="11.03"/><circle cx="696.6" cy="695.64" r="13.8"/><circle cx="614.98" cy="669.96" r="8.89"/><circle cx="667.14" cy="752.26" r="12.72"/><circle cx="707.17" cy="687.44" r="13.97"/><circle cx="606.69" cy="676.34" r="13.39"/><circle cx="699.92" cy="692.01" r="8.7"/><circle cx="631.35" cy="666.59" r="10.25"/><circle cx="712.44" cy="665.34" r="15.09"/><circle cx="722.88" cy="647.97" r="11.03"/><circle cx="664.96" cy="644.22" r="11.4"/><circle cx="726.92" cy="654.85" r="12.77"/><circle cx="609.61" cy="710.84" r="15.16"/><circle cx="621.84" cy="642.39" r="8.67"/><circle cx="672.14" cy="643.5" r="8.68"/><circle cx="665.71" cy="751.91" r="11.36"/><circle cx="650.98" cy="718.05" r="8.75"/><circle cx="678.12" cy="662.11" r="12.87"/><circle cx="734.67" cy="647.9" r="12.44"/><circle cx="682.09" cy="659.32" r="10.15"/><circle cx="740.14" cy="761.16" r="8.97"/><circle cx="696.9" cy="755.51" r="9.89"/></g>
<g fill="#7a9a38" opacity="0.4" filter="url(#blur3)"><circle cx="682.8" cy="646.56" r="8.2"/><circle cx="692.21" cy="712.23" r="10.65"/><circle cx="604.46" cy="683.06" r="11.18"/><circle cx="678.77" cy="695.56" r="8.41"/><circle cx="738.82" cy="710.33" r="6.11"/><circle cx="710.93" cy="680.85" r="8.6"/><circle cx="623.39" cy="694.68" r="7.95"/><circle cx="604.77" cy="716.94" r="6.62"/><circle cx="708.64" cy="644.45" r="10.68"/><circle cx="712.15" cy="701.08" r="10.26"/><circle cx="628.59" cy="729.91" r="8.55"/><circle cx="626" cy="757.09" r="8.41"/><circle cx="647.22" cy="744.59" r="8.22"/><circle cx="691.23" cy="661.93" r="11.06"/><circle cx="630.18" cy="647.46" r="11.85"/></g>
<g fill="#b89a40" opacity="0.5" filter="url(#sblur)"><ellipse cx="617.31" cy="754.98" rx="3.27" ry="1.98" transform="rotate(3 617.31 754.98)"/><ellipse cx="598.79" cy="695.45" rx="2.11" ry="1.74" transform="rotate(3 598.79 695.45)"/><ellipse cx="735.89" cy="683.94" rx="1.54" ry="0.97" transform="rotate(35 735.89 683.94)"/><ellipse cx="735.19" cy="731.1" rx="1.11" ry="1.16" transform="rotate(107 735.19 731.1)"/><ellipse cx="658.94" cy="725.86" rx="2.29" ry="1.72" transform="rotate(43 658.94 725.86)"/><ellipse cx="690.58" cy="674.3" rx="2.51" ry="1.52" transform="rotate(89 690.58 674.3)"/><ellipse cx="606.32" cy="647.22" rx="1.5" ry="1.43" transform="rotate(161 606.32 647.22)"/><ellipse cx="714.06" cy="660.87" rx="3.5" ry="1.75" transform="rotate(51 714.06 660.87)"/><ellipse cx="617.77" cy="696.2" rx="1.98" ry="1.47" transform="rotate(44 617.77 696.2)"/><ellipse cx="673.46" cy="712.55" rx="1" ry="1.11" transform="rotate(166 673.46 712.55)"/><ellipse cx="595.8" cy="760.58" rx="2.92" ry="1.87" transform="rotate(134 595.8 760.58)"/><ellipse cx="670.23" cy="718.39" rx="3.56" ry="1.76" transform="rotate(146 670.23 718.39)"/><ellipse cx="672.5" cy="677.44" rx="3.02" ry="1.67" transform="rotate(26 672.5 677.44)"/><ellipse cx="606.38" cy="700.4" rx="1.78" ry="0.87" transform="rotate(13 606.38 700.4)"/><ellipse cx="692.91" cy="644.9" rx="1.58" ry="1.09" transform="rotate(95 692.91 644.9)"/><ellipse cx="714.47" cy="728.95" rx="3.14" ry="1.55" transform="rotate(9 714.47 728.95)"/><ellipse cx="684.49" cy="651.56" rx="1.18" ry="0.86" transform="rotate(150 684.49 651.56)"/><ellipse cx="601.8" cy="664.09" rx="1.61" ry="1.53" transform="rotate(16 601.8 664.09)"/><ellipse cx="595.96" cy="716.35" rx="2.13" ry="1.46" transform="rotate(180 595.96 716.35)"/><ellipse cx="707.37" cy="681.46" rx="1.41" ry="1.74" transform="rotate(114 707.37 681.46)"/><ellipse cx="679.68" cy="758.56" rx="3.9" ry="1.98" transform="rotate(27 679.68 758.56)"/><ellipse cx="724.87" cy="721.95" rx="1.32" ry="1.34" transform="rotate(56 724.87 721.95)"/><ellipse cx="607.75" cy="647.73" rx="1.52" ry="0.89" transform="rotate(21 607.75 647.73)"/><ellipse cx="647.14" cy="730.33" rx="2.08" ry="1.36" transform="rotate(94 647.14 730.33)"/><ellipse cx="722.12" cy="651.14" rx="1.51" ry="0.81" transform="rotate(174 722.12 651.14)"/><ellipse cx="620.99" cy="694.11" rx="1.61" ry="1.93" transform="rotate(26 620.99 694.11)"/><ellipse cx="669.11" cy="691.46" rx="2.75" ry="1.88" transform="rotate(80 669.11 691.46)"/><ellipse cx="681.92" cy="667.88" rx="1.03" ry="0.87" transform="rotate(76 681.92 667.88)"/><ellipse cx="597.31" cy="663.8" rx="2.66" ry="1.22" transform="rotate(103 597.31 663.8)"/><ellipse cx="730.54" cy="746.59" rx="4.1" ry="1.9" transform="rotate(24 730.54 746.59)"/><ellipse cx="595.9" cy="694.12" rx="1.63" ry="1.3" transform="rotate(144 595.9 694.12)"/><ellipse cx="643.33" cy="741.85" rx="1.4" ry="1.28" transform="rotate(70 643.33 741.85)"/><ellipse cx="636.45" cy="697.39" rx="2.75" ry="1.91" transform="rotate(98 636.45 697.39)"/><ellipse cx="619.34" cy="689.66" rx="1.24" ry="1.19" transform="rotate(139 619.34 689.66)"/><ellipse cx="595.51" cy="666.73" rx="2.54" ry="1.24" transform="rotate(160 595.51 666.73)"/><ellipse cx="604.34" cy="758.39" rx="3.2" ry="1.95" transform="rotate(171 604.34 758.39)"/><ellipse cx="701.09" cy="666.75" rx="1.84" ry="1.45" transform="rotate(4 701.09 666.75)"/><ellipse cx="691.56" cy="692.02" rx="1.95" ry="1.07" transform="rotate(131 691.56 692.02)"/><ellipse cx="666.55" cy="696.99" rx="1.68" ry="0.8" transform="rotate(52 666.55 696.99)"/><ellipse cx="602.17" cy="642.7" rx="1.64" ry="1.91" transform="rotate(38 602.17 642.7)"/><ellipse cx="640.59" cy="724.63" rx="2.69" ry="1.41" transform="rotate(103 640.59 724.63)"/><ellipse cx="688.49" cy="688.86" rx="2.82" ry="1.87" transform="rotate(34 688.49 688.86)"/><ellipse cx="667.5" cy="684.29" rx="2.1" ry="1.94" transform="rotate(98 667.5 684.29)"/><ellipse cx="676.26" cy="737.34" rx="1.82" ry="1.73" transform="rotate(43 676.26 737.34)"/><ellipse cx="592.91" cy="723.5" rx="1.21" ry="0.82" transform="rotate(173 592.91 723.5)"/><ellipse cx="655.31" cy="758.77" rx="1.09" ry="0.91" transform="rotate(132 655.31 758.77)"/><ellipse cx="658.95" cy="722.98" rx="1.36" ry="1.08" transform="rotate(173 658.95 722.98)"/><ellipse cx="643.44" cy="713.51" rx="3.06" ry="1.45" transform="rotate(6 643.44 713.51)"/><ellipse cx="677.94" cy="705.93" rx="3.62" ry="1.94" transform="rotate(116 677.94 705.93)"/><ellipse cx="611.6" cy="666.69" rx="3" ry="1.45" transform="rotate(55 611.6 666.69)"/><ellipse cx="668.5" cy="742.1" rx="1.21" ry="1.48" transform="rotate(142 668.5 742.1)"/><ellipse cx="740.75" cy="753.74" rx="2.48" ry="1.66" transform="rotate(15 740.75 753.74)"/><ellipse cx="647.13" cy="737.24" rx="2.63" ry="1.86" transform="rotate(48 647.13 737.24)"/><ellipse cx="674.56" cy="751.55" rx="1.8" ry="1.96" transform="rotate(90 674.56 751.55)"/><ellipse cx="630.37" cy="671.05" rx="2.09" ry="1.36" transform="rotate(135 630.37 671.05)"/><ellipse cx="593.3" cy="720.87" rx="1.34" ry="1.2" transform="rotate(44 593.3 720.87)"/><ellipse cx="595.7" cy="727.37" rx="3.25" ry="1.5" transform="rotate(168 595.7 727.37)"/><ellipse cx="715.85" cy="675.42" rx="1.16" ry="0.96" transform="rotate(9 715.85 675.42)"/><ellipse cx="602.91" cy="740.03" rx="1.59" ry="1.09" transform="rotate(177 602.91 740.03)"/><ellipse cx="597.76" cy="662.17" rx="1.56" ry="0.97" transform="rotate(51 597.76 662.17)"/><ellipse cx="686.68" cy="736.85" rx="2.55" ry="1.91" transform="rotate(128 686.68 736.85)"/><ellipse cx="614.22" cy="686.91" rx="2.65" ry="1.95" transform="rotate(73 614.22 686.91)"/><ellipse cx="653.67" cy="731.19" rx="3.12" ry="1.8" transform="rotate(157 653.67 731.19)"/><ellipse cx="605.63" cy="757.11" rx="1.65" ry="1.42" transform="rotate(156 605.63 757.11)"/><ellipse cx="706.84" cy="743.37" rx="3.17" ry="1.44" transform="rotate(15 706.84 743.37)"/><ellipse cx="688.12" cy="697.01" rx="1.81" ry="1.92" transform="rotate(3 688.12 697.01)"/><ellipse cx="621.08" cy="727.88" rx="1.34" ry="1.11" transform="rotate(2 621.08 727.88)"/><ellipse cx="618.12" cy="717.75" rx="2.54" ry="1.92" transform="rotate(163 618.12 717.75)"/><ellipse cx="643.52" cy="708.55" rx="1.74" ry="0.99" transform="rotate(34 643.52 708.55)"/><ellipse cx="702.33" cy="666.59" rx="0.71" ry="0.86" transform="rotate(112 702.33 666.59)"/><ellipse cx="644.99" cy="708.31" rx="1.49" ry="1.65" transform="rotate(180 644.99 708.31)"/><ellipse cx="652.49" cy="692.55" rx="1.15" ry="1.01" transform="rotate(39 652.49 692.55)"/><ellipse cx="667.43" cy="742.94" rx="2.14" ry="1.24" transform="rotate(163 667.43 742.94)"/><ellipse cx="643.61" cy="703.25" rx="1.59" ry="1.87" transform="rotate(139 643.61 703.25)"/><ellipse cx="638.26" cy="696.28" rx="2.2" ry="1.15" transform="rotate(136 638.26 696.28)"/><ellipse cx="654.82" cy="732.65" rx="1.13" ry="0.87" transform="rotate(174 654.82 732.65)"/><ellipse cx="689.9" cy="690.94" rx="1.64" ry="1.24" transform="rotate(104 689.9 690.94)"/><ellipse cx="667.46" cy="728.99" rx="0.85" ry="0.88" transform="rotate(164 667.46 728.99)"/><ellipse cx="639.69" cy="700.74" rx="1.07" ry="1.17" transform="rotate(66 639.69 700.74)"/><ellipse cx="732.68" cy="758.23" rx="4.23" ry="1.95" transform="rotate(43 732.68 758.23)"/><ellipse cx="682.33" cy="670.45" rx="2.52" ry="1.65" transform="rotate(151 682.33 670.45)"/><ellipse cx="677.73" cy="665.51" rx="2.04" ry="1.53" transform="rotate(70 677.73 665.51)"/><ellipse cx="694.72" cy="747.87" rx="1.78" ry="1.97" transform="rotate(134 694.72 747.87)"/><ellipse cx="690.55" cy="658.68" rx="3.46" ry="1.69" transform="rotate(50 690.55 658.68)"/><ellipse cx="637.09" cy="675.5" rx="3.23" ry="1.68" transform="rotate(129 637.09 675.5)"/><ellipse cx="687.76" cy="679.08" rx="3.04" ry="1.62" transform="rotate(118 687.76 679.08)"/><ellipse cx="600.23" cy="705.19" rx="3.22" ry="1.65" transform="rotate(20 600.23 705.19)"/><ellipse cx="652.41" cy="734.76" rx="1.51" ry="1.67" transform="rotate(122 652.41 734.76)"/><ellipse cx="615.8" cy="755.69" rx="3.35" ry="1.53" transform="rotate(125 615.8 755.69)"/><ellipse cx="695.68" cy="705.68" rx="3.1" ry="1.93" transform="rotate(3 695.68 705.68)"/><ellipse cx="696.58" cy="693.96" rx="3.01" ry="1.5" transform="rotate(145 696.58 693.96)"/><ellipse cx="695.94" cy="733.2" rx="0.81" ry="1" transform="rotate(84 695.94 733.2)"/><ellipse cx="667.84" cy="694.45" rx="2.67" ry="1.42" transform="rotate(95 667.84 694.45)"/><ellipse cx="639.92" cy="662.49" rx="2.03" ry="1.64" transform="rotate(81 639.92 662.49)"/><ellipse cx="640.94" cy="651.24" rx="3.66" ry="1.74" transform="rotate(72 640.94 651.24)"/><ellipse cx="727.34" cy="756.68" rx="2.12" ry="1.11" transform="rotate(155 727.34 756.68)"/><ellipse cx="650.29" cy="698.24" rx="1.31" ry="1.17" transform="rotate(75 650.29 698.24)"/><ellipse cx="713.19" cy="695.65" rx="0.93" ry="0.85" transform="rotate(175 713.19 695.65)"/><ellipse cx="723.4" cy="710.25" rx="1.69" ry="0.9" transform="rotate(73 723.4 710.25)"/><ellipse cx="592.83" cy="748.11" rx="2.47" ry="1.73" transform="rotate(43 592.83 748.11)"/><ellipse cx="615.25" cy="651.85" rx="1.77" ry="1.89" transform="rotate(40 615.25 651.85)"/><ellipse cx="628.97" cy="686.06" rx="1.91" ry="1.07" transform="rotate(172 628.97 686.06)"/><ellipse cx="702.65" cy="700.56" rx="1.98" ry="1.44" transform="rotate(170 702.65 700.56)"/><ellipse cx="631.74" cy="670.85" rx="1.89" ry="1.64" transform="rotate(38 631.74 670.85)"/><ellipse cx="700.14" cy="663.47" rx="1.35" ry="0.83" transform="rotate(34 700.14 663.47)"/><ellipse cx="659.52" cy="656.1" rx="1.54" ry="0.93" transform="rotate(100 659.52 656.1)"/><ellipse cx="673.08" cy="739.14" rx="1.22" ry="0.96" transform="rotate(60 673.08 739.14)"/><ellipse cx="645" cy="753.04" rx="0.83" ry="0.9" transform="rotate(92 645 753.04)"/><ellipse cx="675.79" cy="754.97" rx="2.75" ry="1.57" transform="rotate(139 675.79 754.97)"/><ellipse cx="725.08" cy="753.92" rx="1.8" ry="1.55" transform="rotate(149 725.08 753.92)"/></g>
<g fill="#2f3a18" opacity="0.55" filter="url(#sblur)"><ellipse cx="642.3" cy="685.58" rx="0.8" ry="0.73" transform="rotate(156 642.3 685.58)"/><ellipse cx="615.51" cy="739.78" rx="0.68" ry="0.6" transform="rotate(38 615.51 739.78)"/><ellipse cx="711.77" cy="643.48" rx="1.74" ry="1.05" transform="rotate(160 711.77 643.48)"/><ellipse cx="726.99" cy="656.81" rx="1.89" ry="1.07" transform="rotate(150 726.99 656.81)"/><ellipse cx="689.08" cy="650.3" rx="0.59" ry="0.62" transform="rotate(129 689.08 650.3)"/><ellipse cx="614.01" cy="698.63" rx="0.93" ry="0.71" transform="rotate(25 614.01 698.63)"/><ellipse cx="676.26" cy="718.84" rx="0.82" ry="1.02" transform="rotate(122 676.26 718.84)"/><ellipse cx="722.22" cy="730.94" rx="1.82" ry="0.92" transform="rotate(70 722.22 730.94)"/><ellipse cx="621.22" cy="722.54" rx="1.9" ry="1.03" transform="rotate(21 621.22 722.54)"/><ellipse cx="620.1" cy="732.76" rx="1.94" ry="1.07" transform="rotate(5 620.1 732.76)"/><ellipse cx="718.58" cy="726.97" rx="0.99" ry="0.54" transform="rotate(48 718.58 726.97)"/><ellipse cx="636.3" cy="744.29" rx="0.67" ry="0.74" transform="rotate(140 636.3 744.29)"/><ellipse cx="737.98" cy="666.6" rx="1.32" ry="1.22" transform="rotate(24 737.98 666.6)"/><ellipse cx="603.65" cy="679.69" rx="1.5" ry="0.87" transform="rotate(146 603.65 679.69)"/><ellipse cx="690.54" cy="712.46" rx="1.2" ry="0.58" transform="rotate(68 690.54 712.46)"/><ellipse cx="706.19" cy="672.28" rx="0.72" ry="0.55" transform="rotate(20 706.19 672.28)"/><ellipse cx="718.84" cy="733.22" rx="2.22" ry="1.06" transform="rotate(145 718.84 733.22)"/><ellipse cx="626.99" cy="644.49" rx="0.44" ry="0.54" transform="rotate(165 626.99 644.49)"/><ellipse cx="643.62" cy="650.11" rx="0.65" ry="0.65" transform="rotate(144 643.62 650.11)"/><ellipse cx="694.34" cy="705.35" rx="1.37" ry="0.75" transform="rotate(114 694.34 705.35)"/><ellipse cx="679.82" cy="668.32" rx="1.03" ry="0.88" transform="rotate(15 679.82 668.32)"/><ellipse cx="661.9" cy="666.34" rx="1.25" ry="0.86" transform="rotate(108 661.9 666.34)"/><ellipse cx="647.36" cy="663.84" rx="0.81" ry="0.87" transform="rotate(8 647.36 663.84)"/><ellipse cx="611.71" cy="740.15" rx="0.65" ry="0.56" transform="rotate(66 611.71 740.15)"/><ellipse cx="609.3" cy="674.5" rx="1.76" ry="0.83" transform="rotate(101 609.3 674.5)"/><ellipse cx="624.04" cy="718.3" rx="1.77" ry="1.16" transform="rotate(80 624.04 718.3)"/><ellipse cx="644.16" cy="665.27" rx="2.4" ry="1.2" transform="rotate(85 644.16 665.27)"/><ellipse cx="699.68" cy="712.33" rx="1.17" ry="0.55" transform="rotate(106 699.68 712.33)"/><ellipse cx="685.84" cy="726.98" rx="0.81" ry="0.98" transform="rotate(85 685.84 726.98)"/><ellipse cx="618.76" cy="728.84" rx="0.75" ry="0.85" transform="rotate(12 618.76 728.84)"/><ellipse cx="707.49" cy="696.23" rx="1.14" ry="0.52" transform="rotate(101 707.49 696.23)"/><ellipse cx="599.13" cy="692.87" rx="1.3" ry="0.76" transform="rotate(28 599.13 692.87)"/><ellipse cx="654.32" cy="650.91" rx="1.17" ry="0.91" transform="rotate(4 654.32 650.91)"/><ellipse cx="696.83" cy="745.41" rx="0.72" ry="0.83" transform="rotate(93 696.83 745.41)"/><ellipse cx="655.54" cy="684.24" rx="1.72" ry="0.94" transform="rotate(160 655.54 684.24)"/><ellipse cx="697.51" cy="754.27" rx="1.43" ry="0.83" transform="rotate(123 697.51 754.27)"/><ellipse cx="593.84" cy="663.96" rx="0.8" ry="0.6" transform="rotate(90 593.84 663.96)"/><ellipse cx="698.8" cy="712.86" rx="0.77" ry="0.55" transform="rotate(169 698.8 712.86)"/><ellipse cx="692.67" cy="752.55" rx="1.67" ry="1.27" transform="rotate(98 692.67 752.55)"/><ellipse cx="628.14" cy="709.34" rx="1.63" ry="0.79" transform="rotate(74 628.14 709.34)"/><ellipse cx="601.56" cy="712.63" rx="1.19" ry="0.75" transform="rotate(48 601.56 712.63)"/><ellipse cx="649.43" cy="702.11" rx="1.23" ry="0.76" transform="rotate(139 649.43 702.11)"/><ellipse cx="642.5" cy="733.95" rx="0.49" ry="0.56" transform="rotate(114 642.5 733.95)"/><ellipse cx="642.05" cy="665.34" rx="0.97" ry="0.58" transform="rotate(148 642.05 665.34)"/><ellipse cx="612.13" cy="682.77" rx="1.28" ry="0.69" transform="rotate(88 612.13 682.77)"/><ellipse cx="729.01" cy="661.53" rx="0.59" ry="0.6" transform="rotate(3 729.01 661.53)"/><ellipse cx="594.51" cy="755.37" rx="0.75" ry="0.67" transform="rotate(165 594.51 755.37)"/><ellipse cx="690.45" cy="720.13" rx="1.74" ry="0.81" transform="rotate(78 690.45 720.13)"/><ellipse cx="720.61" cy="687.5" rx="1.27" ry="1.08" transform="rotate(61 720.61 687.5)"/><ellipse cx="718.91" cy="737.33" rx="0.89" ry="0.68" transform="rotate(71 718.91 737.33)"/><ellipse cx="704.19" cy="647.04" rx="0.69" ry="0.76" transform="rotate(163 704.19 647.04)"/><ellipse cx="681.21" cy="756.59" rx="0.72" ry="0.58" transform="rotate(168 681.21 756.59)"/><ellipse cx="667.94" cy="645.09" rx="1.69" ry="1.16" transform="rotate(166 667.94 645.09)"/><ellipse cx="687.37" cy="696.16" rx="2.55" ry="1.28" transform="rotate(98 687.37 696.16)"/><ellipse cx="628.36" cy="703.11" rx="1.65" ry="0.95" transform="rotate(138 628.36 703.11)"/><ellipse cx="602.5" cy="711.2" rx="1.95" ry="1" transform="rotate(1 602.5 711.2)"/><ellipse cx="684.07" cy="654.22" rx="0.97" ry="1.07" transform="rotate(11 684.07 654.22)"/><ellipse cx="608.97" cy="753.72" rx="2.14" ry="1.02" transform="rotate(140 608.97 753.72)"/><ellipse cx="599.87" cy="714.05" rx="1.1" ry="0.67" transform="rotate(173 599.87 714.05)"/><ellipse cx="730.66" cy="759.61" rx="1.22" ry="1.08" transform="rotate(43 730.66 759.61)"/><ellipse cx="626.91" cy="695.64" rx="0.93" ry="1.11" transform="rotate(52 626.91 695.64)"/><ellipse cx="724.7" cy="701.08" rx="0.71" ry="0.85" transform="rotate(23 724.7 701.08)"/><ellipse cx="595.4" cy="643.14" rx="1.46" ry="1.17" transform="rotate(98 595.4 643.14)"/><ellipse cx="628.26" cy="730.15" rx="0.99" ry="1.21" transform="rotate(154 628.26 730.15)"/><ellipse cx="609.01" cy="686.57" rx="0.59" ry="0.63" transform="rotate(151 609.01 686.57)"/><ellipse cx="615.42" cy="720.34" rx="1.08" ry="1" transform="rotate(12 615.42 720.34)"/><ellipse cx="719.53" cy="650.35" rx="1.42" ry="0.88" transform="rotate(2 719.53 650.35)"/><ellipse cx="623.55" cy="683.34" rx="1.33" ry="0.74" transform="rotate(107 623.55 683.34)"/><ellipse cx="731.55" cy="746.26" rx="1.17" ry="1.26" transform="rotate(27 731.55 746.26)"/><ellipse cx="641.03" cy="684.58" rx="1.25" ry="0.65" transform="rotate(150 641.03 684.58)"/><ellipse cx="611.01" cy="659.97" rx="1.11" ry="0.86" transform="rotate(55 611.01 659.97)"/><ellipse cx="614.15" cy="727.73" rx="0.59" ry="0.71" transform="rotate(137 614.15 727.73)"/><ellipse cx="606.15" cy="737.6" rx="1.56" ry="1.11" transform="rotate(155 606.15 737.6)"/><ellipse cx="703.67" cy="739.66" rx="0.86" ry="0.91" transform="rotate(23 703.67 739.66)"/><ellipse cx="706.26" cy="696.36" rx="0.99" ry="0.53" transform="rotate(75 706.26 696.36)"/><ellipse cx="638.96" cy="716.46" rx="1.33" ry="0.62" transform="rotate(11 638.96 716.46)"/><ellipse cx="600.95" cy="725.48" rx="1.47" ry="1.04" transform="rotate(149 600.95 725.48)"/><ellipse cx="646.88" cy="750.36" rx="1.65" ry="1.07" transform="rotate(91 646.88 750.36)"/><ellipse cx="686.86" cy="734.53" rx="1.76" ry="0.94" transform="rotate(134 686.86 734.53)"/><ellipse cx="666.1" cy="697.18" rx="1.13" ry="0.66" transform="rotate(105 666.1 697.18)"/></g>
<g fill="#40a03a" stroke="#4a7a2a" stroke-width="0.3" opacity="0.85"><circle cx="629.97" cy="677" r="9.48"/><circle cx="592.57" cy="711.48" r="9.29"/><circle cx="710.91" cy="742.91" r="9.26"/><circle cx="588.19" cy="676.31" r="9.24"/><circle cx="594" cy="755.43" r="9.23"/><circle cx="622.11" cy="716.56" r="9.16"/><circle cx="744.43" cy="723.96" r="9.08"/><circle cx="736.85" cy="671.06" r="8.87"/><circle cx="631.92" cy="745.4" r="8.84"/><circle cx="704.51" cy="676.13" r="8.78"/><circle cx="721.27" cy="714.42" r="8.76"/><circle cx="665.23" cy="732.75" r="8.73"/><circle cx="668.28" cy="642.97" r="8.7"/><circle cx="643.18" cy="730.09" r="8.58"/><circle cx="697.73" cy="714.45" r="8.56"/><circle cx="662.59" cy="697.25" r="8.52"/><circle cx="624.61" cy="647.13" r="8.5"/><circle cx="614.6" cy="752.17" r="8.41"/><circle cx="606.37" cy="737.06" r="8.32"/><circle cx="682.37" cy="680.03" r="8.32"/><circle cx="707.81" cy="761.77" r="8.31"/><circle cx="668.83" cy="661.01" r="8.3"/><circle cx="679.45" cy="745.18" r="8.28"/><circle cx="589.63" cy="649.92" r="8.15"/><circle cx="660.37" cy="749.62" r="8.11"/><circle cx="694.05" cy="638.97" r="8.09"/><circle cx="734.75" cy="653.14" r="8.07"/><circle cx="708.15" cy="648.72" r="8.04"/><circle cx="686.17" cy="662.47" r="8.02"/><circle cx="734.21" cy="749.3" r="8.01"/><circle cx="651.54" cy="656.77" r="7.93"/><circle cx="701.69" cy="698.23" r="7.87"/><circle cx="602.48" cy="661.84" r="7.84"/><circle cx="737.8" cy="692.96" r="7.78"/><circle cx="643.85" cy="708.46" r="7.74"/><circle cx="596.66" cy="693.79" r="7.66"/><circle cx="682.43" cy="697.03" r="7.5"/><circle cx="660.18" cy="716.16" r="7.49"/><circle cx="610.51" cy="683.36" r="7.41"/><circle cx="687.82" cy="758.93" r="7.4"/><circle cx="628.4" cy="699.69" r="7.39"/><circle cx="604.79" cy="643.63" r="7.36"/><circle cx="589.18" cy="739.15" r="7.35"/><circle cx="743.05" cy="638.63" r="7.31"/><circle cx="725.07" cy="764.74" r="7.31"/><circle cx="717.61" cy="693.44" r="7.3"/><circle cx="634.61" cy="761.81" r="7.28"/><circle cx="649.97" cy="684.98" r="7.17"/><circle cx="743.76" cy="762.95" r="7.12"/><circle cx="664.27" cy="679.16" r="7.09"/><circle cx="694.28" cy="734.56" r="7.07"/><circle cx="613.46" cy="699.98" r="7.01"/><circle cx="641.31" cy="645.37" r="6.98"/><circle cx="724.89" cy="641.12" r="6.88"/><circle cx="718.45" cy="661.92" r="6.85"/><circle cx="617.65" cy="661.1" r="6.79"/><circle cx="682.33" cy="716.79" r="6.75"/><circle cx="667.62" cy="764.51" r="6.71"/><circle cx="721.56" cy="678.65" r="6.58"/><circle cx="636.69" cy="659.81" r="6.48"/><circle cx="709.58" cy="726.59" r="6.46"/><circle cx="728.99" cy="728.55" r="6.46"/><circle cx="738.16" cy="708.9" r="6.4"/><circle cx="651.37" cy="762.07" r="6.09"/><circle cx="605.71" cy="720.17" r="6.07"/><circle cx="620.57" cy="733.29" r="5.91"/><circle cx="646.05" cy="670.5" r="5.87"/><circle cx="680.92" cy="730.28" r="5.76"/><circle cx="672" cy="708.31" r="5.41"/><circle cx="653.8" cy="641.01" r="5.33"/><circle cx="639.98" cy="693.48" r="5.25"/><circle cx="694.57" cy="747.07" r="5.18"/><circle cx="682.05" cy="648.98" r="5.17"/><circle cx="594.89" cy="727.15" r="4.85"/><circle cx="645.79" cy="744.66" r="4.73"/><circle cx="743.12" cy="737.99" r="4.72"/><circle cx="705.1" cy="661.54" r="4.72"/><circle cx="622.25" cy="763.5" r="4.53"/><circle cx="709.26" cy="708.23" r="4.27"/><circle cx="694.95" cy="685.33" r="4.24"/><circle cx="722.11" cy="752.99" r="4.11"/><circle cx="726.45" cy="700.9" r="4.04"/><circle cx="671.4" cy="754.5" r="3.74"/><circle cx="610.47" cy="671.58" r="3.72"/><circle cx="726.59" cy="739.11" r="3.69"/><circle cx="605.38" cy="762.55" r="3.69"/><circle cx="643.57" cy="753.05" r="3.68"/><circle cx="692.64" cy="651.4" r="3.67"/><circle cx="636.04" cy="717.05" r="3.64"/><circle cx="719.34" cy="731.82" r="3.45"/><circle cx="630.72" cy="731.09" r="3.45"/><circle cx="649.33" cy="697.07" r="3.43"/><circle cx="621.24" cy="690.71" r="3.42"/><circle cx="671.37" cy="721.26" r="3.4"/><circle cx="689.33" cy="724.7" r="3.34"/><circle cx="673.72" cy="689.84" r="3.21"/><circle cx="657.25" cy="667.31" r="3.2"/><circle cx="654.1" cy="737.91" r="3.2"/><circle cx="719.96" cy="650.56" r="3.18"/><circle cx="610.8" cy="710.79" r="3.17"/><circle cx="732.55" cy="683.02" r="3.17"/><circle cx="687.95" cy="707.46" r="3.15"/><circle cx="696.59" cy="657.24" r="3.09"/><circle cx="601.54" cy="673.96" r="3.08"/><circle cx="612.54" cy="650.89" r="3.04"/><circle cx="735.15" cy="736.77" r="3.03"/><circle cx="604.99" cy="706.14" r="3"/></g>
<circle cx="621.5" cy="736.4" r="24" fill="#9a9a3a" opacity="0.3" filter="url(#blur6)"/>
<circle cx="681.5" cy="751.4" r="18" fill="#a09a3a" opacity="0.3" filter="url(#blur6)"/>
<circle cx="721.5" cy="661.4" r="18" fill="#8a8a38" opacity="0.25" filter="url(#blur6)"/>
<g fill="#c8903a" opacity="0.55"><ellipse cx="669.42" cy="653.25" rx="1.9" ry="0.93" transform="rotate(4 669.42 653.25)"/><ellipse cx="672.04" cy="652.84" rx="1.39" ry="1.7" transform="rotate(110 672.04 652.84)"/><ellipse cx="631.27" cy="710.07" rx="1.12" ry="0.68" transform="rotate(174 631.27 710.07)"/><ellipse cx="617.04" cy="696.93" rx="1.6" ry="1.14" transform="rotate(78 617.04 696.93)"/><ellipse cx="659.44" cy="736.36" rx="1.5" ry="0.98" transform="rotate(49 659.44 736.36)"/><ellipse cx="693.56" cy="646.02" rx="1.52" ry="0.79" transform="rotate(125 693.56 646.02)"/><ellipse cx="696.02" cy="641.56" rx="1.64" ry="0.86" transform="rotate(36 696.02 641.56)"/><ellipse cx="689" cy="724.35" rx="1.38" ry="1.09" transform="rotate(2 689 724.35)"/><ellipse cx="729.03" cy="666.41" rx="2.21" ry="1.11" transform="rotate(39 729.03 666.41)"/><ellipse cx="607.97" cy="710.79" rx="3.12" ry="1.73" transform="rotate(137 607.97 710.79)"/><ellipse cx="637.35" cy="752.3" rx="1.25" ry="1.48" transform="rotate(45 637.35 752.3)"/><ellipse cx="696.34" cy="668.09" rx="0.91" ry="0.75" transform="rotate(128 696.34 668.09)"/><ellipse cx="611.86" cy="702.42" rx="1.91" ry="1" transform="rotate(156 611.86 702.42)"/><ellipse cx="713.35" cy="695.4" rx="3.27" ry="1.65" transform="rotate(81 713.35 695.4)"/><ellipse cx="657.71" cy="641.76" rx="1.8" ry="1.29" transform="rotate(13 657.71 641.76)"/><ellipse cx="664.22" cy="653.7" rx="1.29" ry="0.97" transform="rotate(59 664.22 653.7)"/><ellipse cx="670.09" cy="729.55" rx="1.9" ry="0.96" transform="rotate(63 670.09 729.55)"/><ellipse cx="705.37" cy="733.11" rx="0.83" ry="0.99" transform="rotate(48 705.37 733.11)"/><ellipse cx="611.45" cy="756.09" rx="2.08" ry="1.44" transform="rotate(116 611.45 756.09)"/><ellipse cx="707.03" cy="669.56" rx="0.62" ry="0.66" transform="rotate(64 707.03 669.56)"/><ellipse cx="673.4" cy="674.94" rx="1.05" ry="0.69" transform="rotate(28 673.4 674.94)"/><ellipse cx="622.77" cy="689.43" rx="1.36" ry="0.71" transform="rotate(98 622.77 689.43)"/><ellipse cx="643.05" cy="644.8" rx="1.55" ry="0.79" transform="rotate(71 643.05 644.8)"/><ellipse cx="732.15" cy="643.98" rx="2.19" ry="1.48" transform="rotate(96 732.15 643.98)"/><ellipse cx="673.74" cy="665.62" rx="1.15" ry="0.68" transform="rotate(89 673.74 665.62)"/><ellipse cx="640.26" cy="699.1" rx="0.96" ry="0.88" transform="rotate(91 640.26 699.1)"/><ellipse cx="608.09" cy="709.93" rx="1.97" ry="1.55" transform="rotate(86 608.09 709.93)"/><ellipse cx="656.08" cy="757.97" rx="1.45" ry="1.29" transform="rotate(152 656.08 757.97)"/><ellipse cx="634.2" cy="719.44" rx="0.75" ry="0.61" transform="rotate(131 634.2 719.44)"/><ellipse cx="633.33" cy="642.59" rx="0.84" ry="0.74" transform="rotate(147 633.33 642.59)"/><ellipse cx="735.56" cy="742.6" rx="1.82" ry="1.32" transform="rotate(159 735.56 742.6)"/><ellipse cx="673.18" cy="689.75" rx="3.77" ry="1.72" transform="rotate(134 673.18 689.75)"/><ellipse cx="591.73" cy="646.67" rx="2.59" ry="1.25" transform="rotate(171 591.73 646.67)"/><ellipse cx="725.81" cy="644.04" rx="3.35" ry="1.7" transform="rotate(174 725.81 644.04)"/><ellipse cx="690.66" cy="646.86" rx="2.53" ry="1.72" transform="rotate(131 690.66 646.86)"/><ellipse cx="733.56" cy="751.08" rx="2.11" ry="1.33" transform="rotate(47 733.56 751.08)"/><ellipse cx="643.71" cy="650.72" rx="3.17" ry="1.78" transform="rotate(149 643.71 650.72)"/><ellipse cx="732.09" cy="724.45" rx="3.45" ry="1.65" transform="rotate(97 732.09 724.45)"/><ellipse cx="600.72" cy="652.44" rx="1.31" ry="1.15" transform="rotate(27 600.72 652.44)"/><ellipse cx="691.69" cy="697.98" rx="1.12" ry="1.17" transform="rotate(80 691.69 697.98)"/><ellipse cx="728.31" cy="673.37" rx="1.8" ry="1.57" transform="rotate(142 728.31 673.37)"/><ellipse cx="682.34" cy="760.24" rx="3.02" ry="1.56" transform="rotate(54 682.34 760.24)"/><ellipse cx="712.2" cy="695.2" rx="2.52" ry="1.36" transform="rotate(92 712.2 695.2)"/><ellipse cx="622.84" cy="703.65" rx="1.13" ry="0.73" transform="rotate(149 622.84 703.65)"/><ellipse cx="604.99" cy="737.21" rx="1.47" ry="0.81" transform="rotate(125 604.99 737.21)"/><ellipse cx="633.49" cy="752.85" rx="1.58" ry="0.87" transform="rotate(8 633.49 752.85)"/><ellipse cx="681.08" cy="680.43" rx="1.31" ry="0.99" transform="rotate(45 681.08 680.43)"/><ellipse cx="599.69" cy="690.29" rx="1.08" ry="1.3" transform="rotate(110 599.69 690.29)"/><ellipse cx="704.08" cy="699.4" rx="3.2" ry="1.72" transform="rotate(100 704.08 699.4)"/><ellipse cx="599.93" cy="732.42" rx="1.48" ry="0.9" transform="rotate(52 599.93 732.42)"/><ellipse cx="675.32" cy="761" rx="0.84" ry="0.73" transform="rotate(143 675.32 761)"/><ellipse cx="713.13" cy="682.41" rx="2.07" ry="0.95" transform="rotate(129 713.13 682.41)"/><ellipse cx="620.13" cy="652.36" rx="1.31" ry="1.59" transform="rotate(62 620.13 652.36)"/><ellipse cx="701.47" cy="701.55" rx="1.52" ry="1.49" transform="rotate(136 701.47 701.55)"/><ellipse cx="704.47" cy="693.36" rx="1.61" ry="1.43" transform="rotate(139 704.47 693.36)"/><ellipse cx="637.16" cy="733.12" rx="1.85" ry="0.86" transform="rotate(91 637.16 733.12)"/><ellipse cx="693.44" cy="683.14" rx="1.62" ry="1.02" transform="rotate(96 693.44 683.14)"/><ellipse cx="738.57" cy="688.62" rx="2.79" ry="1.73" transform="rotate(163 738.57 688.62)"/><ellipse cx="684.9" cy="754.92" rx="1.65" ry="1.74" transform="rotate(142 684.9 754.92)"/><ellipse cx="679.45" cy="694.03" rx="2.09" ry="1.52" transform="rotate(160 679.45 694.03)"/><ellipse cx="674.01" cy="680.37" rx="1.91" ry="1.25" transform="rotate(49 674.01 680.37)"/><ellipse cx="610.27" cy="702.17" rx="3.4" ry="1.79" transform="rotate(102 610.27 702.17)"/><ellipse cx="655.52" cy="644.7" rx="0.63" ry="0.71" transform="rotate(32 655.52 644.7)"/><ellipse cx="702.38" cy="645.77" rx="1.14" ry="0.95" transform="rotate(66 702.38 645.77)"/><ellipse cx="730.86" cy="707.56" rx="1.7" ry="1.39" transform="rotate(110 730.86 707.56)"/><ellipse cx="602.9" cy="660.45" rx="2.62" ry="1.42" transform="rotate(29 602.9 660.45)"/><ellipse cx="725" cy="756.16" rx="2.66" ry="1.57" transform="rotate(131 725 756.16)"/><ellipse cx="704.23" cy="699.64" rx="1.13" ry="0.65" transform="rotate(20 704.23 699.64)"/><ellipse cx="700.02" cy="701.1" rx="1.68" ry="1.01" transform="rotate(49 700.02 701.1)"/><ellipse cx="639.19" cy="715.21" rx="3.19" ry="1.64" transform="rotate(152 639.19 715.21)"/><ellipse cx="681.76" cy="658.78" rx="2.18" ry="1.6" transform="rotate(120 681.76 658.78)"/><ellipse cx="637.15" cy="658.69" rx="1.61" ry="1.62" transform="rotate(66 637.15 658.69)"/><ellipse cx="674.71" cy="722.6" rx="1.92" ry="0.9" transform="rotate(67 674.71 722.6)"/><ellipse cx="655.48" cy="701.49" rx="2.14" ry="1.19" transform="rotate(58 655.48 701.49)"/><ellipse cx="657.17" cy="671.46" rx="1.69" ry="0.87" transform="rotate(110 657.17 671.46)"/><ellipse cx="703.47" cy="720.24" rx="2.23" ry="1.59" transform="rotate(92 703.47 720.24)"/><ellipse cx="728.94" cy="665.37" rx="1.28" ry="1.02" transform="rotate(108 728.94 665.37)"/><ellipse cx="701.03" cy="701.25" rx="1.19" ry="1.03" transform="rotate(100 701.03 701.25)"/><ellipse cx="628.39" cy="697.69" rx="1.1" ry="1.23" transform="rotate(101 628.39 697.69)"/><ellipse cx="710.07" cy="644.64" rx="1.44" ry="1.29" transform="rotate(47 710.07 644.64)"/></g>
<g fill="#2a3216" opacity="0.5"><ellipse cx="616.96" cy="665.55" rx="2.38" ry="1.12" transform="rotate(51 616.96 665.55)"/><ellipse cx="647.93" cy="698.01" rx="1.39" ry="0.98" transform="rotate(73 647.93 698.01)"/><ellipse cx="647.87" cy="744.78" rx="1.56" ry="1.01" transform="rotate(92 647.87 744.78)"/><ellipse cx="633.93" cy="748.37" rx="1.13" ry="0.71" transform="rotate(1 633.93 748.37)"/><ellipse cx="672.52" cy="676.45" rx="1.12" ry="0.91" transform="rotate(29 672.52 676.45)"/><ellipse cx="695.05" cy="708.67" rx="0.95" ry="0.64" transform="rotate(180 695.05 708.67)"/><ellipse cx="612.81" cy="734.6" rx="0.61" ry="0.56" transform="rotate(176 612.81 734.6)"/><ellipse cx="704.33" cy="733.4" rx="1.58" ry="1.07" transform="rotate(72 704.33 733.4)"/><ellipse cx="716.79" cy="707.04" rx="1.69" ry="0.85" transform="rotate(22 716.79 707.04)"/><ellipse cx="643.89" cy="707.29" rx="0.54" ry="0.66" transform="rotate(49 643.89 707.29)"/><ellipse cx="642.99" cy="684.81" rx="1.26" ry="0.61" transform="rotate(145 642.99 684.81)"/><ellipse cx="595.62" cy="655.38" rx="0.58" ry="0.55" transform="rotate(52 595.62 655.38)"/><ellipse cx="733.21" cy="674.97" rx="2.1" ry="1.13" transform="rotate(9 733.21 674.97)"/><ellipse cx="701.86" cy="665.8" rx="0.87" ry="0.8" transform="rotate(163 701.86 665.8)"/><ellipse cx="698.64" cy="643.18" rx="0.92" ry="0.58" transform="rotate(147 698.64 643.18)"/><ellipse cx="632.67" cy="716.54" rx="1.19" ry="0.84" transform="rotate(145 632.67 716.54)"/><ellipse cx="658.65" cy="661.04" rx="1.02" ry="0.54" transform="rotate(97 658.65 661.04)"/><ellipse cx="610.25" cy="725.62" rx="0.95" ry="0.69" transform="rotate(91 610.25 725.62)"/><ellipse cx="699.72" cy="652.74" rx="1.94" ry="0.89" transform="rotate(125 699.72 652.74)"/><ellipse cx="653.25" cy="746.77" rx="2.16" ry="1.02" transform="rotate(59 653.25 746.77)"/><ellipse cx="650.79" cy="703.48" rx="0.67" ry="0.54" transform="rotate(141 650.79 703.48)"/><ellipse cx="730.1" cy="650.26" rx="1.52" ry="0.85" transform="rotate(27 730.1 650.26)"/><ellipse cx="728.7" cy="715.1" rx="0.48" ry="0.54" transform="rotate(51 728.7 715.1)"/><ellipse cx="681.82" cy="704.81" rx="2.17" ry="1.16" transform="rotate(101 681.82 704.81)"/><ellipse cx="604.88" cy="663.15" rx="2.05" ry="0.97" transform="rotate(61 604.88 663.15)"/><ellipse cx="597.37" cy="670.82" rx="0.65" ry="0.64" transform="rotate(105 597.37 670.82)"/><ellipse cx="625.45" cy="678.16" rx="1.21" ry="1" transform="rotate(56 625.45 678.16)"/><ellipse cx="672.64" cy="712.96" rx="1.26" ry="0.82" transform="rotate(67 672.64 712.96)"/><ellipse cx="642.15" cy="679.33" rx="2.26" ry="1.13" transform="rotate(180 642.15 679.33)"/><ellipse cx="609.28" cy="695.25" rx="0.79" ry="0.67" transform="rotate(73 609.28 695.25)"/><ellipse cx="707.65" cy="728.74" rx="1.51" ry="0.7" transform="rotate(133 707.65 728.74)"/><ellipse cx="706.3" cy="681.47" rx="1.06" ry="0.79" transform="rotate(60 706.3 681.47)"/><ellipse cx="601.07" cy="760.42" rx="1.47" ry="0.88" transform="rotate(11 601.07 760.42)"/><ellipse cx="613" cy="688.69" rx="1.94" ry="1.02" transform="rotate(11 613 688.69)"/><ellipse cx="675.1" cy="655.11" rx="1.01" ry="0.6" transform="rotate(175 675.1 655.11)"/><ellipse cx="699.97" cy="659.03" rx="0.88" ry="0.71" transform="rotate(54 699.97 659.03)"/><ellipse cx="729.09" cy="731.09" rx="0.61" ry="0.71" transform="rotate(97 729.09 731.09)"/><ellipse cx="649.08" cy="751.73" rx="1.55" ry="0.72" transform="rotate(80 649.08 751.73)"/><ellipse cx="704.27" cy="758.54" rx="0.88" ry="0.56" transform="rotate(28 704.27 758.54)"/><ellipse cx="729.45" cy="646.87" rx="1.92" ry="0.98" transform="rotate(42 729.45 646.87)"/><ellipse cx="730.15" cy="730.18" rx="1.22" ry="0.73" transform="rotate(160 730.15 730.18)"/><ellipse cx="696.05" cy="714.57" rx="2.1" ry="1.04" transform="rotate(136 696.05 714.57)"/><ellipse cx="726.21" cy="697.45" rx="1.57" ry="1.05" transform="rotate(43 726.21 697.45)"/><ellipse cx="727.65" cy="734.37" rx="1.24" ry="0.64" transform="rotate(14 727.65 734.37)"/><ellipse cx="646.53" cy="689.87" rx="1.26" ry="0.59" transform="rotate(29 646.53 689.87)"/></g>
</g>
<path d="M715.9 754.4h17" stroke="#e8f0e0" stroke-width="0.6" opacity="0.8"/>
<rect x="721.4" y="755.1" width="6" height="1.8" fill="#e8f0e0" opacity="0.7"/>
</g>
<clipPath id="cl10"><rect x="755.8" y="641.4" width="149.4" height="120"/></clipPath>
<g clip-path="url(#cl10)"><g filter="url(#mblur)">
<rect x="752.8" y="638.4" width="155.4" height="126" fill="#457a2c"/>
<g fill="#3a8a30" opacity="0.5" filter="url(#blur3)"><circle cx="841.17" cy="692.87" r="12.62"/><circle cx="786.59" cy="739" r="14.59"/><circle cx="853.43" cy="660.63" r="12.17"/><circle cx="804.77" cy="671.4" r="15.62"/><circle cx="904.69" cy="646.75" r="14.88"/><circle cx="845.92" cy="687.19" r="10.27"/><circle cx="856.64" cy="696.22" r="13.49"/><circle cx="854.68" cy="657.36" r="14.14"/><circle cx="902.57" cy="757.73" r="12.91"/><circle cx="762.41" cy="641.89" r="9.07"/><circle cx="896.39" cy="677.74" r="10.93"/><circle cx="889.99" cy="679.12" r="12.39"/><circle cx="820.94" cy="649.2" r="12.68"/><circle cx="881.9" cy="660.17" r="9.79"/><circle cx="817.48" cy="645.83" r="11.97"/><circle cx="878.01" cy="720.35" r="12.27"/><circle cx="883.56" cy="659.36" r="12.54"/><circle cx="811.7" cy="713.56" r="8.9"/><circle cx="871.66" cy="652.99" r="9.33"/><circle cx="876.43" cy="755.12" r="11.47"/><circle cx="817.66" cy="670.86" r="10.2"/><circle cx="848.02" cy="662.82" r="8.96"/><circle cx="823.89" cy="661.19" r="13.19"/><circle cx="878.47" cy="734.7" r="11.84"/><circle cx="807.73" cy="693.57" r="8.04"/></g>
<g fill="#5a7030" opacity="0.4" filter="url(#blur3)"><circle cx="862.26" cy="681.2" r="7.92"/><circle cx="767.74" cy="695.17" r="9.5"/><circle cx="814.15" cy="745.75" r="10.04"/><circle cx="791.87" cy="704.44" r="11.46"/><circle cx="833.5" cy="713.65" r="6.38"/><circle cx="828.91" cy="696.77" r="8.41"/><circle cx="818.61" cy="711.59" r="9.23"/><circle cx="828.99" cy="661.3" r="8.65"/><circle cx="900.52" cy="691.22" r="6.21"/><circle cx="756.22" cy="705.65" r="6.3"/><circle cx="769.66" cy="654.45" r="8.72"/><circle cx="904.11" cy="699.61" r="8.75"/><circle cx="821.01" cy="701.53" r="8.68"/><circle cx="864.3" cy="749.15" r="10.19"/><circle cx="819.04" cy="719.34" r="11.46"/></g>
<g fill="#b0582a" opacity="0.5" filter="url(#sblur)"><ellipse cx="778.75" cy="669.88" rx="1.47" ry="0.83" transform="rotate(164 778.75 669.88)"/><ellipse cx="890.96" cy="710.44" rx="0.7" ry="0.84" transform="rotate(29 890.96 710.44)"/><ellipse cx="899.58" cy="693.64" rx="1.81" ry="1" transform="rotate(22 899.58 693.64)"/><ellipse cx="762.71" cy="750.97" rx="2.01" ry="0.94" transform="rotate(73 762.71 750.97)"/><ellipse cx="780.1" cy="698.68" rx="0.89" ry="0.65" transform="rotate(49 780.1 698.68)"/><ellipse cx="903.09" cy="663.31" rx="1.14" ry="0.81" transform="rotate(24 903.09 663.31)"/><ellipse cx="858.05" cy="678.42" rx="2.16" ry="1.07" transform="rotate(177 858.05 678.42)"/><ellipse cx="879.4" cy="728.1" rx="1.31" ry="0.71" transform="rotate(53 879.4 728.1)"/><ellipse cx="795.52" cy="685.12" rx="1.41" ry="0.84" transform="rotate(53 795.52 685.12)"/><ellipse cx="819.13" cy="690.42" rx="1.29" ry="0.67" transform="rotate(51 819.13 690.42)"/><ellipse cx="766.28" cy="692.22" rx="0.41" ry="0.46" transform="rotate(65 766.28 692.22)"/><ellipse cx="809.62" cy="692.3" rx="0.99" ry="0.54" transform="rotate(119 809.62 692.3)"/><ellipse cx="859.64" cy="702.18" rx="0.88" ry="0.76" transform="rotate(113 859.64 702.18)"/><ellipse cx="851.34" cy="683.28" rx="1.23" ry="0.59" transform="rotate(122 851.34 683.28)"/><ellipse cx="843.53" cy="651.47" rx="1.02" ry="0.78" transform="rotate(103 843.53 651.47)"/><ellipse cx="891.89" cy="661.62" rx="1.14" ry="0.82" transform="rotate(144 891.89 661.62)"/><ellipse cx="765.58" cy="743.07" rx="0.81" ry="0.99" transform="rotate(83 765.58 743.07)"/><ellipse cx="853.13" cy="650.26" rx="0.9" ry="0.68" transform="rotate(155 853.13 650.26)"/><ellipse cx="783.64" cy="661.62" rx="0.89" ry="0.47" transform="rotate(13 783.64 661.62)"/><ellipse cx="788.65" cy="730.79" rx="1.14" ry="1.07" transform="rotate(146 788.65 730.79)"/><ellipse cx="902.79" cy="751.19" rx="1.57" ry="0.96" transform="rotate(100 902.79 751.19)"/><ellipse cx="785.88" cy="743.16" rx="1.23" ry="0.8" transform="rotate(144 785.88 743.16)"/><ellipse cx="869.95" cy="755.97" rx="0.54" ry="0.63" transform="rotate(177 869.95 755.97)"/><ellipse cx="842.19" cy="645.79" rx="1.38" ry="0.66" transform="rotate(83 842.19 645.79)"/><ellipse cx="845.61" cy="661.97" rx="0.84" ry="0.51" transform="rotate(88 845.61 661.97)"/><ellipse cx="905.18" cy="645.14" rx="1.58" ry="1.04" transform="rotate(89 905.18 645.14)"/><ellipse cx="768.98" cy="694.11" rx="0.9" ry="1.02" transform="rotate(113 768.98 694.11)"/><ellipse cx="861.35" cy="714.58" rx="1.98" ry="0.91" transform="rotate(44 861.35 714.58)"/><ellipse cx="808.66" cy="692.23" rx="2.09" ry="0.98" transform="rotate(131 808.66 692.23)"/><ellipse cx="824.28" cy="664.72" rx="0.71" ry="0.7" transform="rotate(47 824.28 664.72)"/><ellipse cx="851.42" cy="664.22" rx="1.45" ry="0.7" transform="rotate(92 851.42 664.22)"/><ellipse cx="839.33" cy="756.63" rx="0.85" ry="0.82" transform="rotate(57 839.33 756.63)"/><ellipse cx="763.2" cy="662.61" rx="1.1" ry="0.85" transform="rotate(47 763.2 662.61)"/><ellipse cx="801.01" cy="743.44" rx="1.27" ry="0.68" transform="rotate(19 801.01 743.44)"/><ellipse cx="807.39" cy="664.79" rx="0.7" ry="0.51" transform="rotate(119 807.39 664.79)"/><ellipse cx="896.4" cy="680.79" rx="0.84" ry="0.43" transform="rotate(45 896.4 680.79)"/><ellipse cx="842.66" cy="691.88" rx="1.55" ry="0.76" transform="rotate(100 842.66 691.88)"/><ellipse cx="900.61" cy="688.99" rx="1.09" ry="0.97" transform="rotate(108 900.61 688.99)"/><ellipse cx="863.62" cy="678.7" rx="1.03" ry="0.6" transform="rotate(25 863.62 678.7)"/><ellipse cx="807.43" cy="750.27" rx="1.38" ry="0.83" transform="rotate(136 807.43 750.27)"/><ellipse cx="799.22" cy="721.22" rx="1.44" ry="1.07" transform="rotate(58 799.22 721.22)"/><ellipse cx="770.28" cy="717.84" rx="1.18" ry="0.73" transform="rotate(102 770.28 717.84)"/><ellipse cx="842.87" cy="675.88" rx="0.91" ry="0.45" transform="rotate(159 842.87 675.88)"/><ellipse cx="884.63" cy="705.15" rx="0.88" ry="0.45" transform="rotate(4 884.63 705.15)"/><ellipse cx="853.38" cy="693.07" rx="1.03" ry="0.98" transform="rotate(12 853.38 693.07)"/><ellipse cx="809.35" cy="716.44" rx="1.13" ry="1.09" transform="rotate(52 809.35 716.44)"/><ellipse cx="774.82" cy="756.51" rx="1.12" ry="0.54" transform="rotate(98 774.82 756.51)"/><ellipse cx="847.64" cy="711.55" rx="1.09" ry="0.69" transform="rotate(7 847.64 711.55)"/><ellipse cx="774.53" cy="656.18" rx="1.74" ry="0.99" transform="rotate(45 774.53 656.18)"/><ellipse cx="774.42" cy="687.63" rx="0.58" ry="0.41" transform="rotate(169 774.42 687.63)"/><ellipse cx="783.12" cy="692.01" rx="0.45" ry="0.43" transform="rotate(179 783.12 692.01)"/><ellipse cx="812.02" cy="696.49" rx="0.54" ry="0.64" transform="rotate(160 812.02 696.49)"/><ellipse cx="824.5" cy="755.71" rx="1.56" ry="0.9" transform="rotate(35 824.5 755.71)"/><ellipse cx="795.44" cy="662.53" rx="0.73" ry="0.72" transform="rotate(20 795.44 662.53)"/><ellipse cx="891.7" cy="678.42" rx="1.45" ry="0.94" transform="rotate(73 891.7 678.42)"/><ellipse cx="861.19" cy="738.2" rx="1.55" ry="0.97" transform="rotate(162 861.19 738.2)"/><ellipse cx="895.21" cy="703.5" rx="1.02" ry="1.01" transform="rotate(15 895.21 703.5)"/><ellipse cx="850.5" cy="714.46" rx="1.32" ry="0.85" transform="rotate(54 850.5 714.46)"/><ellipse cx="777.71" cy="744.65" rx="1" ry="0.99" transform="rotate(6 777.71 744.65)"/><ellipse cx="811.69" cy="721.72" rx="0.59" ry="0.48" transform="rotate(118 811.69 721.72)"/><ellipse cx="782.03" cy="716.51" rx="0.69" ry="0.42" transform="rotate(115 782.03 716.51)"/><ellipse cx="853.86" cy="725.46" rx="1.02" ry="0.97" transform="rotate(129 853.86 725.46)"/><ellipse cx="855.76" cy="659.97" rx="1" ry="0.74" transform="rotate(120 855.76 659.97)"/><ellipse cx="860.67" cy="759.21" rx="0.97" ry="0.75" transform="rotate(144 860.67 759.21)"/><ellipse cx="870.69" cy="743.96" rx="1.36" ry="0.67" transform="rotate(81 870.69 743.96)"/><ellipse cx="866.15" cy="679.48" rx="0.38" ry="0.44" transform="rotate(85 866.15 679.48)"/><ellipse cx="900.64" cy="704.03" rx="1.26" ry="0.67" transform="rotate(20 900.64 704.03)"/><ellipse cx="892.3" cy="727.97" rx="1.07" ry="0.49" transform="rotate(93 892.3 727.97)"/><ellipse cx="820.83" cy="720.52" rx="2.05" ry="0.98" transform="rotate(23 820.83 720.52)"/><ellipse cx="771.18" cy="756.52" rx="1.35" ry="0.97" transform="rotate(45 771.18 756.52)"/><ellipse cx="867.77" cy="733.04" rx="1.21" ry="0.68" transform="rotate(49 867.77 733.04)"/><ellipse cx="857.52" cy="730.88" rx="1.78" ry="0.9" transform="rotate(55 857.52 730.88)"/><ellipse cx="884.74" cy="713.19" rx="1.71" ry="0.88" transform="rotate(98 884.74 713.19)"/><ellipse cx="873.56" cy="664.29" rx="0.82" ry="0.45" transform="rotate(39 873.56 664.29)"/><ellipse cx="883.35" cy="712.4" rx="0.84" ry="0.49" transform="rotate(116 883.35 712.4)"/><ellipse cx="769.06" cy="755.24" rx="1.52" ry="1.06" transform="rotate(170 769.06 755.24)"/><ellipse cx="781.32" cy="687.52" rx="0.69" ry="0.55" transform="rotate(150 781.32 687.52)"/><ellipse cx="794.5" cy="648.55" rx="0.88" ry="0.69" transform="rotate(83 794.5 648.55)"/><ellipse cx="856.52" cy="701.58" rx="1.91" ry="0.94" transform="rotate(12 856.52 701.58)"/><ellipse cx="816.53" cy="675.46" rx="1.01" ry="0.52" transform="rotate(107 816.53 675.46)"/><ellipse cx="819.98" cy="652.52" rx="1.47" ry="0.72" transform="rotate(18 819.98 652.52)"/><ellipse cx="878.28" cy="705.15" rx="1.63" ry="1.07" transform="rotate(140 878.28 705.15)"/><ellipse cx="794.63" cy="699.36" rx="1.4" ry="1.01" transform="rotate(29 794.63 699.36)"/><ellipse cx="868.31" cy="743.51" rx="1.31" ry="0.97" transform="rotate(5 868.31 743.51)"/><ellipse cx="822.11" cy="696.45" rx="1.19" ry="0.8" transform="rotate(107 822.11 696.45)"/><ellipse cx="800.43" cy="720.23" rx="0.8" ry="0.72" transform="rotate(127 800.43 720.23)"/><ellipse cx="841.33" cy="689.82" rx="1.7" ry="1.08" transform="rotate(114 841.33 689.82)"/><ellipse cx="845.15" cy="644.18" rx="1.31" ry="0.78" transform="rotate(118 845.15 644.18)"/><ellipse cx="801.13" cy="669.53" rx="0.68" ry="0.66" transform="rotate(6 801.13 669.53)"/><ellipse cx="836.71" cy="737.35" rx="0.88" ry="1" transform="rotate(107 836.71 737.35)"/><ellipse cx="904" cy="678.31" rx="0.79" ry="0.94" transform="rotate(119 904 678.31)"/><ellipse cx="802.74" cy="701.9" rx="0.42" ry="0.42" transform="rotate(125 802.74 701.9)"/><ellipse cx="823.64" cy="683.64" rx="1.22" ry="0.69" transform="rotate(66 823.64 683.64)"/><ellipse cx="758.37" cy="672.1" rx="0.88" ry="0.5" transform="rotate(61 758.37 672.1)"/><ellipse cx="772.88" cy="727.03" rx="1.98" ry="1.05" transform="rotate(75 772.88 727.03)"/><ellipse cx="808.17" cy="707.65" rx="1.68" ry="0.95" transform="rotate(152 808.17 707.65)"/><ellipse cx="878.32" cy="692.94" rx="0.82" ry="0.48" transform="rotate(92 878.32 692.94)"/><ellipse cx="828.4" cy="693.87" rx="0.66" ry="0.65" transform="rotate(48 828.4 693.87)"/><ellipse cx="837.85" cy="680.01" rx="1.18" ry="0.54" transform="rotate(149 837.85 680.01)"/><ellipse cx="819.99" cy="733.43" rx="0.97" ry="0.93" transform="rotate(123 819.99 733.43)"/><ellipse cx="809.64" cy="655.81" rx="1.23" ry="0.57" transform="rotate(147 809.64 655.81)"/><ellipse cx="882.78" cy="700.37" rx="1.59" ry="1.01" transform="rotate(65 882.78 700.37)"/><ellipse cx="828.78" cy="758.71" rx="1.59" ry="0.92" transform="rotate(178 828.78 758.71)"/><ellipse cx="768.7" cy="745.18" rx="0.75" ry="0.52" transform="rotate(180 768.7 745.18)"/><ellipse cx="839.46" cy="723.72" rx="1.25" ry="0.89" transform="rotate(48 839.46 723.72)"/><ellipse cx="790.35" cy="725.76" rx="1.45" ry="0.98" transform="rotate(33 790.35 725.76)"/><ellipse cx="868.57" cy="738.33" rx="1.65" ry="0.96" transform="rotate(13 868.57 738.33)"/><ellipse cx="864.77" cy="704.15" rx="1.02" ry="0.96" transform="rotate(100 864.77 704.15)"/><ellipse cx="851.17" cy="706.29" rx="1.72" ry="0.82" transform="rotate(176 851.17 706.29)"/><ellipse cx="862.53" cy="709.59" rx="1.3" ry="1.05" transform="rotate(125 862.53 709.59)"/><ellipse cx="888.19" cy="711.28" rx="1.1" ry="1.05" transform="rotate(120 888.19 711.28)"/><ellipse cx="792.05" cy="689.36" rx="1.05" ry="0.76" transform="rotate(132 792.05 689.36)"/><ellipse cx="864.45" cy="671" rx="0.42" ry="0.48" transform="rotate(63 864.45 671)"/><ellipse cx="797.27" cy="725.43" rx="1.44" ry="0.93" transform="rotate(34 797.27 725.43)"/><ellipse cx="808.19" cy="748.2" rx="1.68" ry="0.85" transform="rotate(32 808.19 748.2)"/><ellipse cx="860.52" cy="752.3" rx="1.33" ry="0.93" transform="rotate(30 860.52 752.3)"/><ellipse cx="892.51" cy="756.32" rx="0.86" ry="0.83" transform="rotate(34 892.51 756.32)"/><ellipse cx="816.75" cy="698.47" rx="0.41" ry="0.45" transform="rotate(166 816.75 698.47)"/><ellipse cx="853.9" cy="733.53" rx="1.73" ry="0.85" transform="rotate(113 853.9 733.53)"/><ellipse cx="860.84" cy="740.17" rx="1.77" ry="1.03" transform="rotate(13 860.84 740.17)"/><ellipse cx="760.79" cy="748.13" rx="1.21" ry="0.77" transform="rotate(79 760.79 748.13)"/><ellipse cx="866.77" cy="710.64" rx="1.06" ry="0.65" transform="rotate(118 866.77 710.64)"/><ellipse cx="863.98" cy="684.22" rx="1.82" ry="1.02" transform="rotate(74 863.98 684.22)"/><ellipse cx="853.29" cy="725.75" rx="1.68" ry="0.79" transform="rotate(160 853.29 725.75)"/><ellipse cx="812.07" cy="697.09" rx="0.81" ry="0.68" transform="rotate(38 812.07 697.09)"/><ellipse cx="894.61" cy="715.5" rx="1.41" ry="0.99" transform="rotate(92 894.61 715.5)"/><ellipse cx="820.06" cy="673.47" rx="0.66" ry="0.62" transform="rotate(163 820.06 673.47)"/><ellipse cx="855.93" cy="647.4" rx="0.97" ry="0.93" transform="rotate(137 855.93 647.4)"/><ellipse cx="895.46" cy="659.55" rx="1.04" ry="0.8" transform="rotate(118 895.46 659.55)"/><ellipse cx="869.18" cy="678.34" rx="0.98" ry="1.08" transform="rotate(167 869.18 678.34)"/><ellipse cx="900.69" cy="683.96" rx="0.4" ry="0.45" transform="rotate(144 900.69 683.96)"/><ellipse cx="792.6" cy="735.31" rx="1.41" ry="0.88" transform="rotate(68 792.6 735.31)"/><ellipse cx="838.67" cy="676.12" rx="1.39" ry="0.99" transform="rotate(86 838.67 676.12)"/><ellipse cx="825.63" cy="725" rx="0.97" ry="0.66" transform="rotate(72 825.63 725)"/><ellipse cx="879.55" cy="705.8" rx="1.39" ry="1.05" transform="rotate(149 879.55 705.8)"/><ellipse cx="842.73" cy="697.83" rx="1.03" ry="0.53" transform="rotate(58 842.73 697.83)"/><ellipse cx="813.69" cy="679.95" rx="0.76" ry="0.59" transform="rotate(23 813.69 679.95)"/><ellipse cx="771.75" cy="672.27" rx="0.88" ry="0.56" transform="rotate(44 771.75 672.27)"/><ellipse cx="870.7" cy="744.81" rx="0.9" ry="0.75" transform="rotate(41 870.7 744.81)"/><ellipse cx="806.99" cy="664.58" rx="1.68" ry="1.03" transform="rotate(177 806.99 664.58)"/><ellipse cx="774.06" cy="679.14" rx="0.94" ry="0.64" transform="rotate(114 774.06 679.14)"/><ellipse cx="764" cy="734.68" rx="0.66" ry="0.8" transform="rotate(142 764 734.68)"/><ellipse cx="799.83" cy="662.77" rx="0.72" ry="0.77" transform="rotate(127 799.83 662.77)"/><ellipse cx="849.2" cy="737.45" rx="1.33" ry="1.08" transform="rotate(147 849.2 737.45)"/><ellipse cx="800.7" cy="688.26" rx="0.69" ry="0.52" transform="rotate(166 800.7 688.26)"/><ellipse cx="883.68" cy="698.96" rx="1.49" ry="1.08" transform="rotate(145 883.68 698.96)"/><ellipse cx="850.3" cy="718.06" rx="0.88" ry="0.42" transform="rotate(149 850.3 718.06)"/><ellipse cx="780.41" cy="725.12" rx="0.63" ry="0.59" transform="rotate(130 780.41 725.12)"/><ellipse cx="845.18" cy="699.49" rx="0.88" ry="0.57" transform="rotate(92 845.18 699.49)"/><ellipse cx="841.62" cy="711.38" rx="1.98" ry="1.01" transform="rotate(2 841.62 711.38)"/></g>
<g fill="#3a3a18" opacity="0.5" filter="url(#sblur)"><ellipse cx="875.39" cy="642.97" rx="0.6" ry="0.52" transform="rotate(19 875.39 642.97)"/><ellipse cx="828.9" cy="729.03" rx="1.19" ry="0.9" transform="rotate(0 828.9 729.03)"/><ellipse cx="849.38" cy="662.64" rx="1.91" ry="0.99" transform="rotate(177 849.38 662.64)"/><ellipse cx="868.5" cy="644.88" rx="0.75" ry="0.49" transform="rotate(154 868.5 644.88)"/><ellipse cx="900.12" cy="700.11" rx="0.44" ry="0.45" transform="rotate(19 900.12 700.11)"/><ellipse cx="800.93" cy="755.72" rx="1.25" ry="0.7" transform="rotate(74 800.93 755.72)"/><ellipse cx="869.05" cy="647.97" rx="0.75" ry="0.58" transform="rotate(20 869.05 647.97)"/><ellipse cx="808.5" cy="692.71" rx="0.93" ry="0.47" transform="rotate(142 808.5 692.71)"/><ellipse cx="902.87" cy="751.44" rx="1.96" ry="0.96" transform="rotate(32 902.87 751.44)"/><ellipse cx="762.38" cy="668.78" rx="0.57" ry="0.65" transform="rotate(76 762.38 668.78)"/><ellipse cx="885.91" cy="753.83" rx="0.85" ry="0.65" transform="rotate(131 885.91 753.83)"/><ellipse cx="846.74" cy="748.97" rx="1.32" ry="0.98" transform="rotate(99 846.74 748.97)"/><ellipse cx="758.13" cy="706.41" rx="1.07" ry="0.68" transform="rotate(96 758.13 706.41)"/><ellipse cx="880.25" cy="725.46" rx="1.56" ry="0.9" transform="rotate(9 880.25 725.46)"/><ellipse cx="763.17" cy="711.4" rx="0.98" ry="0.8" transform="rotate(43 763.17 711.4)"/><ellipse cx="779.41" cy="750.95" rx="0.6" ry="0.46" transform="rotate(80 779.41 750.95)"/><ellipse cx="763.63" cy="678.05" rx="0.76" ry="0.94" transform="rotate(131 763.63 678.05)"/><ellipse cx="798.36" cy="730.92" rx="0.72" ry="0.83" transform="rotate(146 798.36 730.92)"/><ellipse cx="902.37" cy="745.01" rx="0.73" ry="0.56" transform="rotate(4 902.37 745.01)"/><ellipse cx="846.64" cy="706.74" rx="1.24" ry="0.93" transform="rotate(168 846.64 706.74)"/><ellipse cx="862.56" cy="717.69" rx="1.54" ry="0.92" transform="rotate(114 862.56 717.69)"/><ellipse cx="882.41" cy="728.17" rx="1.64" ry="0.95" transform="rotate(75 882.41 728.17)"/><ellipse cx="900.46" cy="664.28" rx="2.08" ry="0.97" transform="rotate(128 900.46 664.28)"/><ellipse cx="889.02" cy="675.48" rx="0.76" ry="0.82" transform="rotate(36 889.02 675.48)"/><ellipse cx="789.47" cy="705.67" rx="0.98" ry="0.8" transform="rotate(150 789.47 705.67)"/><ellipse cx="858.11" cy="756.67" rx="1" ry="0.89" transform="rotate(179 858.11 756.67)"/><ellipse cx="787.21" cy="647.36" rx="0.6" ry="0.45" transform="rotate(172 787.21 647.36)"/><ellipse cx="783.69" cy="751.87" rx="1.57" ry="0.91" transform="rotate(15 783.69 751.87)"/><ellipse cx="898.59" cy="650.68" rx="1.16" ry="0.65" transform="rotate(142 898.59 650.68)"/><ellipse cx="856.02" cy="739.7" rx="1.22" ry="0.56" transform="rotate(138 856.02 739.7)"/></g>
</g>
<path d="M880.2 754.4h17" stroke="#e8f0e0" stroke-width="0.6" opacity="0.8"/>
<rect x="885.7" y="755.1" width="6" height="1.8" fill="#e8f0e0" opacity="0.7"/>
</g>
</svg></body></html>
